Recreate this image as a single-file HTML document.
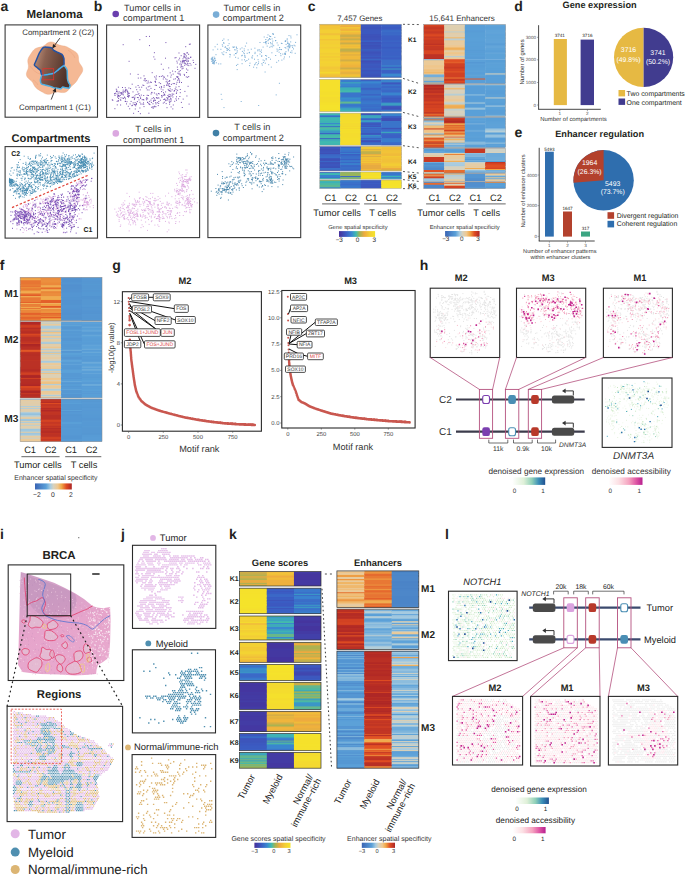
<!DOCTYPE html><html><head><meta charset="utf-8"><style>html,body{margin:0;padding:0;background:#fff;width:685px;height:875px;overflow:hidden}svg{display:block}text{font-family:"Liberation Sans",sans-serif;text-rendering:geometricPrecision}</style></head><body>
<svg width="685" height="875" viewBox="0 0 685 875" fill="#231f20">
<rect width="685" height="875" fill="#fff"/><text x="0.5" y="10.7" font-size="14" font-weight="bold">a</text>
<text x="54.6" y="18" font-size="11.5" font-weight="bold" text-anchor="middle">Melanoma</text>
<rect x="5.10" y="24.90" width="92.40" height="92.30" fill="none" stroke="#3a3a3a" stroke-width="1.1"/>
<text x="58.2" y="34.6" font-size="7.9" text-anchor="middle" fill="#333">Compartment 2 (C2)</text>
<text x="55" y="110.3" font-size="7.9" text-anchor="middle" fill="#333">Compartment 1 (C1)</text>
<linearGradient id="brn" x1="0" y1="0" x2="1" y2="0.3"><stop offset="0" stop-color="#c89a82"/><stop offset="0.35" stop-color="#8a6050"/><stop offset="1" stop-color="#4e3229"/></linearGradient>
<path d="M82.61 68.40C82.82 69.31 82.80 70.30 82.57 71.20C82.34 72.10 81.74 72.98 81.23 73.80C80.72 74.62 80.03 75.37 79.51 76.14C78.99 76.91 78.56 77.66 78.11 78.43C77.67 79.20 77.34 80.00 76.87 80.74C76.39 81.48 75.87 82.20 75.27 82.85C74.66 83.50 73.93 84.04 73.26 84.64C72.60 85.23 71.91 85.75 71.29 86.40C70.68 87.04 70.16 87.78 69.56 88.50C68.97 89.22 68.43 90.10 67.71 90.73C67.00 91.35 66.17 91.95 65.27 92.26C64.36 92.57 63.28 92.59 62.28 92.57C61.27 92.55 60.21 92.22 59.24 92.13C58.28 92.04 57.39 91.92 56.48 92.05C55.58 92.17 54.73 92.54 53.80 92.87C52.87 93.19 51.89 93.74 50.90 93.99C49.90 94.24 48.83 94.43 47.84 94.36C46.86 94.29 45.88 93.94 44.97 93.57C44.07 93.19 43.24 92.61 42.40 92.12C41.57 91.63 40.76 91.13 39.95 90.63C39.14 90.13 38.29 89.70 37.54 89.13C36.79 88.57 36.07 87.96 35.47 87.26C34.88 86.56 34.44 85.71 33.98 84.94C33.52 84.16 33.21 83.32 32.72 82.59C32.22 81.87 31.68 81.23 31.03 80.58C30.38 79.93 29.50 79.38 28.82 78.70C28.14 78.02 27.35 77.30 26.94 76.48C26.54 75.67 26.35 74.71 26.39 73.80C26.43 72.88 26.86 71.89 27.17 70.99C27.47 70.09 27.99 69.24 28.21 68.40C28.42 67.56 28.50 66.78 28.47 65.93C28.44 65.09 28.13 64.22 28.02 63.32C27.90 62.43 27.71 61.46 27.78 60.57C27.84 59.67 28.09 58.77 28.42 57.93C28.75 57.09 29.28 56.32 29.76 55.54C30.23 54.76 30.74 54.00 31.26 53.22C31.77 52.45 32.23 51.63 32.84 50.91C33.44 50.20 34.10 49.47 34.89 48.94C35.68 48.41 36.65 48.04 37.59 47.73C38.53 47.42 39.59 47.33 40.51 47.08C41.44 46.83 42.32 46.63 43.14 46.22C43.97 45.81 44.67 45.20 45.47 44.64C46.26 44.07 47.05 43.28 47.93 42.83C48.82 42.38 49.82 41.98 50.80 41.92C51.77 41.86 52.84 42.14 53.80 42.47C54.76 42.79 55.69 43.44 56.58 43.87C57.48 44.30 58.29 44.77 59.15 45.06C60.02 45.36 60.89 45.47 61.78 45.64C62.68 45.80 63.64 45.85 64.53 46.07C65.42 46.30 66.32 46.60 67.15 46.98C67.98 47.36 68.73 47.89 69.52 48.36C70.30 48.83 71.06 49.33 71.87 49.80C72.69 50.28 73.60 50.68 74.41 51.21C75.21 51.74 76.10 52.27 76.73 52.97C77.35 53.66 77.84 54.51 78.14 55.38C78.44 56.25 78.43 57.28 78.52 58.20C78.61 59.12 78.50 60.06 78.68 60.91C78.86 61.76 79.17 62.52 79.60 63.32C80.03 64.12 80.77 64.88 81.27 65.73C81.77 66.57 82.39 67.49 82.61 68.40Z" fill="#f5b995" stroke="#e9a47e" stroke-width="0.4"/>
<path d="M30 66c3 4 6 7 10 8M68 50c3 2 6 5 7 8M72 84c-3 1-5 3-7 4M33 80c2 1 4 3 5 5" stroke="#e8a07c" stroke-width="0.5" fill="none"/>
<path d="M43.50 47.30C44.31 46.73 46.68 47.15 47.50 47.20C48.32 47.25 51.08 47.49 51.70 47.80C52.32 48.11 53.07 49.83 53.70 50.30C54.33 50.77 57.18 52.09 58.00 52.50C58.82 52.91 61.31 53.80 61.90 54.40C62.49 55.00 63.69 57.74 63.90 58.50C64.11 59.26 64.00 61.39 64.00 62.00C64.00 62.61 63.91 64.23 63.90 64.60C63.89 64.97 63.59 65.19 63.90 65.70C64.21 66.21 66.66 68.87 67.00 69.70C67.34 70.53 67.25 73.07 67.30 74.00C67.35 74.93 67.38 78.15 67.50 79.00C67.62 79.85 68.24 81.89 68.50 82.50C68.76 83.11 70.05 84.54 70.10 85.10C70.15 85.66 69.46 87.83 69.00 88.10C68.54 88.37 66.11 87.90 65.50 87.80C64.89 87.70 63.37 87.00 62.90 87.10C62.43 87.20 61.21 88.65 60.80 88.80C60.39 88.95 59.23 88.67 58.80 88.60C58.37 88.53 56.91 88.15 56.50 88.10C56.09 88.05 55.15 88.21 54.70 88.10C54.25 87.99 52.51 87.20 52.00 87.00C51.49 86.80 50.30 86.30 49.60 86.10C48.90 85.90 45.81 85.21 45.00 85.00C44.19 84.79 41.96 84.40 41.50 84.00C41.04 83.60 40.47 81.60 40.40 81.00C40.33 80.40 40.64 78.56 40.80 78.00C40.96 77.44 42.04 76.17 42.00 75.40C41.96 74.63 40.90 71.09 40.40 70.30C39.90 69.51 37.61 68.02 37.00 67.50C36.39 66.98 34.32 65.95 34.30 65.10C34.28 64.25 36.29 60.22 36.80 59.00C37.31 57.78 38.73 54.07 39.40 52.90C40.07 51.73 42.69 47.87 43.50 47.30Z" fill="url(#brn)"/>
<path d="M43.50 47.30C44.31 46.73 46.68 47.15 47.50 47.20C48.32 47.25 51.08 47.49 51.70 47.80C52.32 48.11 53.07 49.83 53.70 50.30C54.33 50.77 57.18 52.09 58.00 52.50C58.82 52.91 61.31 53.80 61.90 54.40C62.49 55.00 63.69 57.74 63.90 58.50C64.11 59.26 64.00 61.39 64.00 62.00C64.00 62.61 64.45 63.84 63.90 64.60C63.35 65.36 59.52 68.73 58.50 69.60C57.48 70.47 54.75 72.81 53.70 73.30C52.65 73.79 49.17 74.29 48.00 74.50C46.83 74.71 42.70 75.60 42.00 75.40C41.30 75.20 41.16 73.01 41.00 72.50C40.84 71.99 40.80 70.80 40.40 70.30C40.00 69.80 37.61 68.02 37.00 67.50C36.39 66.98 34.32 65.95 34.30 65.10C34.28 64.25 36.29 60.22 36.80 59.00C37.31 57.78 38.73 54.07 39.40 52.90C40.07 51.73 42.69 47.87 43.50 47.30Z" fill="none" stroke="#2352a3" stroke-width="1.5" stroke-linejoin="round"/>
<path d="M42.00 75.40C42.72 75.05 46.83 74.71 48.00 74.50C49.17 74.29 52.65 73.79 53.70 73.30C54.75 72.81 57.48 70.36 58.50 69.60C59.52 68.84 63.05 65.69 63.90 65.70C64.75 65.71 66.66 68.87 67.00 69.70C67.34 70.53 67.25 73.07 67.30 74.00C67.35 74.93 67.38 78.15 67.50 79.00C67.62 79.85 68.24 81.89 68.50 82.50C68.76 83.11 70.05 84.54 70.10 85.10C70.15 85.66 69.46 87.83 69.00 88.10C68.54 88.37 66.11 87.90 65.50 87.80C64.89 87.70 63.37 87.00 62.90 87.10C62.43 87.20 61.21 88.65 60.80 88.80C60.39 88.95 59.23 88.67 58.80 88.60C58.37 88.53 56.91 88.15 56.50 88.10C56.09 88.05 55.15 88.21 54.70 88.10C54.25 87.99 52.51 87.20 52.00 87.00C51.49 86.80 50.30 86.30 49.60 86.10C48.90 85.90 45.81 85.21 45.00 85.00C44.19 84.79 41.96 84.40 41.50 84.00C41.04 83.60 40.47 81.60 40.40 81.00C40.33 80.40 40.64 78.56 40.80 78.00C40.96 77.44 41.28 75.75 42.00 75.40Z" fill="none" stroke="#4fb0e3" stroke-width="1.5" stroke-linejoin="round"/>
<rect x="43" y="68.7" width="10.7" height="11.1" fill="none" stroke="#e0302c" stroke-width="0.8"/>
<line x1="59.9" y1="38.1" x2="54.7" y2="45.2" stroke="#231f20" stroke-width="0.85"/>
<path d="M52.30 48.40L53.07 43.99L56.28 46.37Z" fill="#231f20"/>
<line x1="51.2" y1="99.6" x2="54.3" y2="91.7" stroke="#231f20" stroke-width="0.85"/>
<path d="M55.80 88.00L56.18 92.46L52.47 90.98Z" fill="#231f20"/>
<text x="51" y="141.7" font-size="11.2" font-weight="bold" text-anchor="middle">Compartments</text>
<rect x="5.10" y="146.60" width="92.40" height="91.50" fill="none" stroke="#3a3a3a" stroke-width="1.1"/>
<text x="11.3" y="156.2" font-size="7" font-weight="bold">C2</text>
<text x="83.4" y="232.2" font-size="7" font-weight="bold">C1</text>
<text x="93.8" y="10.7" font-size="14" font-weight="bold">b</text>
<rect x="106.60" y="25.00" width="93.00" height="92.40" fill="none" stroke="#3a3a3a" stroke-width="1.1"/>
<rect x="207.90" y="25.00" width="92.80" height="92.40" fill="none" stroke="#3a3a3a" stroke-width="1.1"/>
<rect x="106.60" y="145.70" width="93.00" height="91.90" fill="none" stroke="#3a3a3a" stroke-width="1.1"/>
<rect x="207.90" y="145.70" width="92.80" height="91.90" fill="none" stroke="#3a3a3a" stroke-width="1.1"/>
<circle cx="115.7" cy="14" r="3.3" fill="#6a3fae"/>
<text x="124" y="10.6" font-size="9.2" fill="#333">Tumor cells in</text>
<text x="123" y="21.2" font-size="9.2" fill="#333">compartment 1</text>
<circle cx="216.1" cy="14.6" r="3.3" fill="#79add6"/>
<text x="223.6" y="10.6" font-size="9.2" fill="#333">Tumor cells in</text>
<text x="222.7" y="21.2" font-size="9.2" fill="#333">compartment 2</text>
<circle cx="115.8" cy="133.4" r="3.3" fill="#dba8e0"/>
<text x="153.2" y="131.7" font-size="9.2" text-anchor="middle" fill="#333">T cells in</text>
<text x="123.1" y="142.6" font-size="9.2" fill="#333">compartment 1</text>
<circle cx="216" cy="133.1" r="3.3" fill="#4080a6"/>
<text x="252.4" y="130.4" font-size="9.2" text-anchor="middle" fill="#333">T cells in</text>
<text x="222.7" y="141.3" font-size="9.2" fill="#333">compartment 2</text>
<path d="M126.6 90.3h1m-15.8 9.5h1m57.8 7.1h1m-8.6 -14.2h1m-39.2 8.5h1m-2.1 -9.5h1m-7.8 0.1h1m29.8 -10.7h1m0.7 23.5h1m6.2 -9.5h1m13.2 -20h1m2.2 15.5h1m-49.5 -0.7h1m16.8 -4.4h1m-2.6 14.2h1m22.5 1h1m-37 8.1h1m55.1 -48.3h1m-52.6 44.1h1m45.8 -41.6h1m-13.4 33.4h1m-25.9 7.9h1m40.6 -46.5h1m-19 42.2h1m-46.4 -5.7h1m53.7 -2.2h1m-25.7 0.7h1m30.1 -31.2h1m-13.8 11.2h1m-15.7 9.5h1m-9.7 15.2h1m1.5 6.7h1m-29.7 0.8h1m60.3 -38.6h1m-28.2 40.4h1m19 -5.5h1m-50.3 0.2h1m35 -14.9h1m-6.1 7.4h1m9.6 3.6h1m10.7 1.2h1m-62.4 -4.7h1m34.7 12.9h1m0.8 -17.5h1m-19.8 -2.4h1m-16.6 12.7h1m30.4 7.5h1m-12.3 6.4h1m26.1 -15h1m15.5 -38h1m-28.6 36.8h1m4.2 -5.9h1m-34.8 4.6h1m42.6 -11.8h1m-34.6 7.5h1m37.2 -34.3h1m-49 35.6h1m14.3 6.3h1m10.4 6.7h1m-15.5 -16.3h1m21.5 -14.1h1m20.5 -1.4h1m-34.2 25.7h1m-15.3 -10.4h1m47.1 -29.1h1m-29.9 46.1h1m7.6 -29.5h1m25 -19.9h1m-78.7 43h1m19.4 2.6h1m10.8 -23.8h1m25.1 21h1m-51.1 -2.3h1m39.6 -10.5h1m17.3 9.2h1m-63.3 0.6h1m65.4 -39.6h1m2.3 -4.7h1m-15.4 44.2h1m6.4 -22.9h1m3 -12.1h1m-33.9 40.4h1m12.2 -8h1m5.5 1.6h1m-2.9 -9.8h1m-52.9 18.7h1m37.2 -23.6h1m-10.1 -0.7h1m-21.8 10.1h1m54.8 11.7h1m-12.4 -11.4h1m-39.1 14.7h1m53.6 -36.7h1m-17.4 28h1m-40.5 -8.4h1m1.3 9h1m34.8 -29.7h1m-2.7 11.9h1m20.6 -25.5h1m-7.3 53.2h1m4.7 -43.7h1m-65.6 34.7h1m53.5 -25.3h1m-64 35.5h1m25.4 -13.6h1m6.6 18.1h1m5.8 -10.5h1m22.4 -22.7h1m-51.5 15.9h1m-11.2 5.2h1m32 -18.7h1m-10.3 21.7h1m26 -9.7h1m-42.3 0.2h1m49.8 -15.8h1m-64.8 14.9h1m42.9 9.7h1m10 -22.6h1m3 13.4h1m-8.5 9.4h1m-0.3 -18.7h1m-3.5 17.3h1m-36.4 -8.6h1m-7.1 0.2h1m6.2 10.1h1m22.5 -2.5h1m30.1 -36.1h1m-36 36.1h1m-31.9 -4.7h1m59.2 -43.7h1m-27.8 19.7h1m-21 24.7h1m16.6 -11.2h1m-23.8 15.5h1m24.1 -3.3h1m9.9 -8.5h1m-39.1 7.8h1m43 -16.3h1m-0.3 -0.6h1m-4.9 -1.9h1m9.8 17.9h1m5.5 -28.4h1m-2 0.5h1m-12.4 29.9h1m-1.9 3.7h1m20.3 -37.4h1m-12.4 -6.9h1m-22.3 47.4h1m-21 -7.9h1m50.7 -34.2h1m-50.4 33.7h1m31 -26.1h1m-3.3 23.7h1m-31.8 0.9h1m38.9 -13.3h1m-10.8 21.8h1m4.6 -15.4h1m-36.3 13.5h1m-18 -4.3h1m56.9 -36.7h1m4.3 3.1h1m-54.1 27.5h1m-15.8 8.6h1m45.7 -1.2h1m-36.9 -3.3h1m53 -37.2h1m-3.1 8.4h1m-38.2 28.3h1m42.7 -32.3h1m-17.6 13.9h1m-23.4 18.4h1m-2.8 4.3h1m5.4 4h1m-21.6 1.5h1m13 -17.2h1m3.6 0.3h1m-35.5 3.1h1m68.5 -31.5h1m-43.2 40h1m34.1 -40.1h1m8.2 0.5h1m-25.8 18.6h1m3.9 10.4h1m-35.9 7.7h1m-3.2 4.3h1m-15 0h1m64.9 -40.8h1m-69 34.9h1m72.9 -37h1m-19.7 30.3h1m1 5.1h1m8.3 -11.4h1m-13.1 1.1h1m-45.2 7.2h1m62.1 -29.4h1m6.5 3h1m-8.1 12.2h1m-5 -19.9h1m-14.9 44.8h1m-43.5 4.8h1m35.3 -7.2h1m17.2 -38.1h1m-56.1 35.4h1m44.5 -22.3h1m-58.5 19.1h1m64.5 -27.3h1m-12.4 20.7h1m-12 14.9h1m-3.4 -25.5h1m21.3 2.7h1m-20.5 15.2h1m15.7 4.9h1m-7.8 0.9h1m-34 -5.2h1m-9.2 -1.7h1m43.5 2.3h1m-25.1 -8.3h1m26 -15.1h1m-0.9 7.1h1m-28.8 20h1m7.4 5.1h1m29.5 -47.9h1m-9.9 24.2h1m-26.8 12.2h1m-16.5 12.1h1m43 -15h1m-58.2 2.8h1m10.8 3.5h1m4.7 2.7h1m37.5 -24.3h1m-2.7 -7.1h1m-38.5 40.9h1m-2.8 -22.5h1m8.1 -2.4h1m25.9 8.1h1m11.5 -18.7h1m-0.6 -19.6h1m-6.7 11.7h1m-18.5 34.9h1m-8.7 -20.2h1m-36 13.4h1m0.4 -5.2h1m13.9 14.1h1m37.6 -14.5h1m-29.5 15.3h1m21 -5.9h1m14.8 -33.1h1m-15.5 27.8h1m1.4 -7.6h1m-25.2 6.4h1m-11.1 3.6h1m45.8 -46.9h1m-2 16.5h1m-23.5 32.9h1m-44.4 -2.9h1m15.9 12.6h1m21.7 -12.3h1m24.5 -37.1h1m-2.4 5.5h1m-65 33.7h1m24.5 -19.7h1m23.8 8.1h1m-53.5 5.2h1m11.2 7.9h1m50.8 -21.9h1m-63 20h1m44.9 -9.6h1m-27.1 -11.2h1m30.7 12.1h1m17.3 -28.6h1m-14.7 25.7h1m-12.1 19.5h1m-3.7 -19.5h1m15.1 -6.8h1m-50.4 14.7h1m13.4 -4.3h1m-19.5 2.9h1m23 5.2h1m9.2 7.4h1m21.9 -10h1m-30.8 -10.6h1m20.6 7.7h1m-13.5 -2.5h1m-15.6 -8.8h1m-25.6 16.8h1m55.6 -13h1m-24.8 24.6h1m-7.9 -8.2h1m-25.7 -5.9h1m53.8 -8.6h1m1.6 -11h1m-12.6 9h1m-33.1 26.8h1m1.1 -11.5h1m5.1 5.4h1m39.7 -47.9h1m-41.1 25.3h1m-5.9 7h1m30.8 11.6h1m18.9 -41.7h1m-12.1 6.9h1m-36.8 42.5h1m-11.4 6.7h1m-14.2 -20.3h1m65.5 -31.5h1m-34.7 46.8h1m7.3 -12.7h1m-43.1 0.4h1m68.7 8.1h1m-6.1 -43h1m2 -2.1h1m-19 31.5h1m6.9 -29.3h1m-49 26.8h1m57.9 -17.9h1m-9.8 16.5h1m-2.1 -9.8h1m-9.6 13.8h1m-10.9 -14h1m-2.4 21.1h1m-13.7 -16.7h1m20.5 4.4h1m8.7 14.8h1m-11.5 0h1m1.2 -2.4h1m-54.5 -4h1m71.9 -16.5h1m-39.7 5.5h1m9 15.3h1m7.5 -14.8h1m-7.3 5.7h1m15.6 -19.5h1m-52.2 34.4h1m40.4 -8.4h1m-7 1.7h1m-27.7 7.7h1m18.1 -6.2h1m25.9 -43h1m-47.7 42.6h1m-0.6 -0.4h1m51.4 -32.8h1m-33.9 27.9h1m-26.4 0.3h1m21.1 0.7h1m-17.2 10.4h1m49.4 -49.6h1m-60.4 34.6h1m59.2 -31.3h1m-33.4 42.3h1m13.6 -15.2h1m-40 10.5h1m54.4 -41.8h1m-18 22h1m4.6 29.1h1m10.2 -29.7h1m-66.4 16.5h1m37 6.7h1m30 -12.2h1m-6.2 -19.4h1m-23.5 33.3h1m-13.6 2.1h1m16 -7h1m-41.3 1.8h1m33.7 -14.4h1m-32.4 9.2h1m60 -26.3h1m-20.5 35.6h1m7.4 -23.9h1m-55.4 17.6h1m10.8 7.7h1m44.2 -32h1m-4.9 22.9h1m9.5 2.5h1m-49.5 15.5h1m24.2 -34.5h1m-15.8 26.6h1m-31.2 -5.1h1m44.4 -11.3h1m-8.5 -1.8h1m-1.6 -7.4h1m22.7 3.1h1m2.6 18h1m-28.9 -13.9h1m-15.6 18.8h1m43.2 -12.6h1m-60.5 0.7h1m16.5 -7h1m11.6 15.2h1m16.3 8.6h1m-37.3 -5.5h1m-19.1 -16.2h1m73.7 -26.9h1m-59.7 39.3h1m41.9 -22.6h1m-56.7 16.7h1m51.2 -14.5h1m-10.5 15h1m-47.7 1.8h1m48.4 11.7h1m-47.2 -7.5h1m-5 -10h1m35.8 7.4h1m-31.6 -5.7h1m31 -10.5h1m-1.6 18.8h1m10.8 -18.5h1m-1.6 10.2h1m16.3 -28.9h1m-29.3 13.9h1m20.5 12.8h1m-29.8 0.2h1m-22.8 9h1m50.8 -35.9h1m-39.3 36.9h1m23.3 -4.6h1m-26.3 -0.9h1m38.6 -4.1h1m-46.4 -6.1h1m-7.9 3.5h1m67.3 -25.2h1m-54.8 -22.8h1m43.2 13.9h1m-61.8 -8.9h1m16.6 33.3h1m47.6 -33.7h1m-61.3 17h1m64.9 7h1m-34.7 8.1h1m24 0.5h1m-56.9 -2.9h1m58.9 -29.9h1m-45 -7.6h1m2.2 9.1h1m28.6 25.8h1m-25.7 -18.7h1m7.9 16.6h1m-10.5 -12.4h1m11.1 -14.3h1m-12 16.6h1m-6.4 -22.8h1m-12.2 41.7h1m26.2 -19.9h1m8.5 -0.3h1m-14.7 6.3h1" stroke="#6a44aa" stroke-width="1" stroke-opacity="0.9"/>
<path d="M289.1 47.8h1m-1.6 -12.2h1m0.8 0.5h1m-19 5h1m-28.2 20.2h1m7 5.9h1m25 -17.9h1m2.2 4.8h1m3.8 -10.8h1m-0.4 4.7h1m-9.6 -0.5h1m1.3 12.6h1m-66.9 -5.4h1m-4.5 8.3h1m51.8 0.2h1m-24.3 -3.3h1m-6 -7.6h1m-22.4 8.2h1m78.6 -7.2h1m-72.5 1.4h1m-11.1 8.2h1m21.6 -9.3h1m4.9 10.1h1m26.3 -24.8h1m-4.2 20.8h1m-29.4 4.7h1m53.8 -17h1m-33.4 4h1m-34 -1.3h1m26.7 -1.9h1m-6.5 4.2h1m26.3 9.9h1m-6.4 4.8h1m-13.9 -3.5h1m-48.2 -4.6h1m31.4 -6.1h1m18.5 -5.8h1m14.5 13.7h1m7.6 -20.9h1m-38.9 12.9h1m31 -3.2h1m-18.1 -12.6h1m-7.8 18.8h1m14.9 -21.8h1m-7.7 22h1m-53.1 5.8h1m14.9 -7h1m39.1 -12.1h1m18.4 4h1m1 6.1h1m-24.1 4.7h1m-58.1 0.7h1m76.8 -14.1h1m-57 3.2h1m7.8 8h1m-30.9 2h1m16.3 -6.7h1m62.8 -1.7h1m-33 3.4h1m-5.8 15.5h1m14.2 -15h1m-34.7 5.4h1m42.2 -14.9h1m-9.7 -9.6h1m-25.1 25.5h1m-36.8 0.4h1m78.8 -13.8h1m-27.5 -2h1m-38 -0.1h1m-7.8 1.1h1m0.6 7h1m-11.2 10.6h1m70.9 -20.9h1m-51.1 12h1m5.9 -2.1h1m11.6 2.2h1m-28.5 -4.8h1m49.6 -3.7h1m10.5 2h1m-56 2.7h1m-6.3 -1.8h1m11.7 -0.1h1m45.4 2.9h1m-75.2 10.4h1m58.1 -26.8h1m13 11.9h1m-73.4 11.9h1m69.2 -10.7h1m-71.5 14.5h1m8.1 -19.4h1m-10.3 16h1m1 4.2h1m30.7 -12.9h1m40.6 -5.6h1m-13.5 6.9h1m-19.6 10.7h1m2.7 3.2h1m21.9 -11.8h1m-73.4 7.5h1m75 -15.1h1m-75.7 18h1m51.1 -5.2h1m13.4 -4.8h1m-9.3 -6.8h1m-36.1 22.7h1m-25.2 -6.1h1m74.6 -17.2h1m7.4 -11.5h1m-13.2 19.2h1m-33.2 1.8h1m14.4 -15.1h1m25.1 4.5h1m-80.1 13.9h1m30.6 -16h1m-33.5 14h1m34.9 6.1h1m0.3 -14h1m13.5 -9.7h1m-8.8 10.3h1m-14.8 -0.9h1m-24.3 0.4h1m50.2 -10.4h1m-4.7 4.4h1m22.5 7.6h1m-12 4.8h1m-37 1.1h1m-4.2 -1h1m9.2 1.4h1m4.9 -6.4h1m-44.7 13h1m37.1 -5.7h1m37.3 -5.8h1m-9.5 -8.8h1m7.7 -1.6h1m-26.1 13.6h1m24.4 -17.6h1m-19.3 7h1m-12.1 11.3h1m8.5 -9.9h1m-59.5 11.9h1m72.4 -6.5h1m-63.1 -8.3h1m-11.8 6.5h1m69.8 9h1m-7.9 -9.8h1m7 4.1h1m-39.1 7.3h1m-7.6 -11.5h1m-23.6 0.2h1m51.6 -9.9h1m-8.2 20.7h1m-36.1 -14.4h1m41.4 -9.1h1m-13.3 23.2h1m-37.1 -6.9h1m6.9 4.1h1m-3.7 -6.6h1m33.2 -0.3h1m32.6 -4.1h1m-26.5 -9.8h1m-1 2.6h1m-26 21.1h1m1.7 -6.5h1m-3 4h1m24.3 1.9h1m-9.7 -3.3h1m-33 -1.5h1m5.5 -7.4h1m12.3 18.6h1m-27.8 -11.5h1m13.6 -3.2h1m52.7 -5.2h1m-67 1.7h1m31.2 17.4h1m19.8 -14.8h1m-3.3 -9.5h1m-52.9 -1.5h1m-12.7 21.7h1m13 -8.1h1m48.5 2.9h1m8.3 -1.3h1m-4.9 -4.7h1m3.4 4.8h1m-42 -0.5h1m16.4 9.9h1m25.6 -19.7h1m-35 20.8h1m-22.6 -17.8h1m3.2 1.6h1m28.5 -6.9h1m-54.6 20.3h1m42.2 0.5h1m8.5 -21.1h1m-54.8 20.1h1m4.4 -17.2h1m-4.9 15.7h1m14.2 -10.4h1m56.5 -5.2h1m-61.7 2.4h1m28.1 12.4h1m19.3 -21.8h1m-0.3 3.3h1m-64.2 18.3h1m71.1 -2h1m2.6 -13.7h1m-75 17.4h1m7.6 -20.3h1m4.6 -0.5h1m30.8 14.2h1m2.4 8.4h1m-5 -12.6h1m12 -6.8h1m5.7 9.1h1m-61.4 11.7h1m69.8 -7h1m-3.3 -18.1h1m-51.7 26.6h1m48.2 -24.7h1m1 1.3h1m-28.7 0.5h1m9.7 -5.9h1m23.9 5.8h1m-51.2 3.7h1m-12 0.9h1m34.4 0.3h1m-2.8 -12.4h1m19.3 14.7h1m-25 11.2h1m8.4 -15.1h1m-9 -3h1m23.2 3h1m-35.5 18.2h1m-19.9 -16.1h1m47.6 -6.6h1m-20.5 1.4h1m-43.9 3.6h1m40.3 -3.7h1m-29.1 7.4h1m40.2 -7h1m-7 0.9h1m-36.5 13.5h1m31.8 -17.5h1m-35.2 15.2h1m-20.1 -8.2h1m4.7 17.1h1m45.3 -26.4h1m17.8 10.6h1m-42.6 2.7h1m-33.6 8.5h1m56 5.4h1m-24.9 -9.2h1m-19.2 -7.2h1m27.5 4h1m11.1 -6.2h1m-44.2 61.5h1m54.4 -24.3h1m-39.2 18.2h1m34 -6.6h1m-55.3 4.5h1m-1.7 -5.1h1m36.5 11.2h1m5.4 -33.5h1" stroke="#6fa6d2" stroke-width="1" stroke-opacity="0.9"/>
<path d="M178.8 193.2h1m5 12.9h1m-30.9 8.5h1m6.2 4h1m-35.7 -12.4h1m36.6 -10.2h1m-26.2 1.7h1m9.6 7.1h1m7.4 4.7h1m-36.2 5.1h1m32.7 2.1h1m-26.3 -3.7h1m-4.7 7h1m54.9 -17h1m-67.4 8.4h1m50.1 -3.3h1m-38.6 10.6h1m1.4 -10.2h1m-17.8 5.5h1m68.2 -6.6h1m0.5 -9.1h1m-37.7 8.5h1m31.1 -22.4h1m-49.7 33.5h1m46.2 -32.2h1m-55.3 25.1h1m55.9 0.8h1m2.3 -7.4h1m-20.4 6.5h1m14.1 -30.1h1m-49.2 19.7h1m-0.3 2.7h1m10.5 -2.3h1m20.9 17.2h1m-12.9 -9.8h1m23.5 -3h1m-51.9 6.1h1m48.9 -36h1m5.1 8.2h1m-25.3 29.2h1m20.5 -26.2h1m-2.4 -5.4h1m3 -11h1m-16.4 41h1m-11.3 -2.4h1m-4.5 3.1h1m25.4 -26.5h1m-45.8 12.8h1m46 6h1m-3.6 -13.2h1m-35.9 10.7h1m-15.2 2.8h1m17.7 8.1h1m2.2 6.1h1m-9.1 -17h1m10.2 16.2h1m19 -5h1m-40 3.5h1m3.3 -5.5h1m48.1 -12.3h1m-50.8 17.7h1m7.5 -5.9h1m5 6.3h1m-12.2 -10.2h1m37.9 5h1m-8 -9.3h1m-58.3 6.3h1m26.6 -6.4h1m19.5 11.4h1m-20 4.5h1m-21.8 -0.4h1m33.6 -10.9h1m-9 5.4h1m28.5 -20.3h1m-64.6 23.4h1m12.8 -2.2h1m50 -30.9h1m-51.2 20.2h1m44.5 -11.4h1m-2.8 6.8h1m7.8 15.3h1m-21.8 10.3h1m11.9 -45.9h1m-45.5 42.6h1m42 -39.6h1m-5.1 3.2h1m-10.1 34.4h1m10.1 -23.6h1m-15.9 23.9h1m-1.9 -6.7h1m-5 7h1m16.4 -15.2h1m-44.5 4.7h1m2.9 6h1m-0.3 2.2h1m10.4 -2.3h1m9.2 12.6h1m22.8 -35.4h1m-7.8 30.6h1m-40.1 -2.8h1m46.3 -32.3h1m0.8 21.7h1m1.7 -20.2h1m-22.8 16.2h1m-16.3 12h1m-0.6 4.5h1m36.3 -23.6h1m-30.8 17.3h1m15.5 -12h1m-4.9 16.2h1m-23.9 5.8h1m33.2 -8.9h1m2.9 -12.2h1m1.4 -0.8h1m-70 8.2h1m20.5 14.1h1m37.3 -31.7h1m-53.4 12.6h1m18.8 7.2h1m-1.3 17.5h1m-3.2 -21.4h1m-2.8 -9.5h1m4.3 5.4h1m-31.9 10.1h1m63.3 -25.5h1m-5.8 -4.1h1m-19.3 29.9h1m25.7 -45.3h1m-39.5 38.7h1m18.2 -0.6h1m-14.4 3.3h1m31.8 -10.7h1m-65 3.7h1m1.8 14.6h1m65.5 -14.9h1m-1.8 -0.5h1m-58.3 18.8h1m18.9 -8.2h1m-26.8 -6.4h1m14.8 8.3h1m-1 -3.7h1m39.6 -25.6h1m-26.4 12.9h1m32.3 -9.1h1m-29.3 12.6h1m22.9 -30.3h1m-13.4 45.7h1m10.4 -21.9h1m-54.1 7.2h1m0.2 4.7h1m23.8 2.6h1m30.8 -31.6h1m-6.7 7.3h1m3 -6.9h1m-21.7 24.1h1m-36.2 0.8h1m-19.4 4.2h1m73.8 0.7h1m-50.1 6.3h1m38.8 -13.7h1m-31.5 1.1h1m-18.6 0.6h1m-6.7 3.6h1m15.8 18.9h1m-15.1 4.3h1m59.7 -52.1h1m-39.7 25.9h1m37.9 -1.2h1m-71.2 13.8h1m56.7 -9.3h1m-32 -1.2h1m-6.6 20.8h1m36.5 -48.9h1m-50.6 45.3h1m60 -22.3h1m-74.2 13.6h1m65 -37.2h1m-54.6 36.7h1m0.5 -2h1m54.5 -38.1h1m-42.8 36.1h1m-13.1 -2.1h1m8.4 1.1h1m44.5 -20.1h1m-53.7 25.7h1m52.5 -17.4h1m-11.7 15.5h1m-3 -14.7h1m-40.7 15.6h1m32.3 7.7h1m-41.6 -10h1m-4.6 -7.8h1m61 -14.4h1m7 12h1m-43 11.3h1m-28.8 -12.4h1m53.5 4.1h1m2.4 -22.9h1m-56 35.5h1m48.2 -28.7h1m6.5 -9.6h1m1.1 19.4h1m-65.2 7.4h1m4.3 4.4h1m49.3 -7h1m6.3 1.9h1m-7.8 -13.4h1m-41.8 9h1m-16.7 15.8h1m25.7 -8.2h1m-28.9 16.5h1m12 -10.5h1m46.9 -26.5h1m-36.7 8.6h1m38.2 -9h1m-17.5 17.6h1m-36.4 18.6h1m51.8 -11.9h1m0.7 -12.5h1m-64.3 10.2h1m-1.5 7.9h1m57.8 -19.6h1m-40.3 5.4h1m-13.8 21.6h1m18.9 -26.2h1m35.9 -13.3h1m-62.5 28.6h1m2.1 1.7h1m49.9 -20.8h1m-28.7 15.7h1m26.1 -9.7h1m-49.2 10h1m17.6 -1.3h1m-14.5 1.1h1m45.7 -25.5h1m-64.8 34.5h1m58.8 -47.7h1m-5.1 18.9h1m-15.6 21.4h1m-10.5 -18.9h1m24.5 7.7h1m-18.7 14.1h1m-9.3 -3.2h1m27.2 -18.2h1m9.4 7.5h1m-34.7 -0.5h1m-18.8 15.8h1m8.7 -19.3h1m-19.5 15.5h1m16.3 -2.1h1m40 -29.4h1m-26.4 24h1m14 -14.1h1m-10.1 11.7h1m16.9 -21.4h1m-2.5 0.5h1m-5.3 39.8h1m7.7 -21.8h1m-1.3 -2.4h1m-60.6 9.5h1m52.7 -25.4h1m-3.9 17h1m-42.9 15.1h1m50.4 -8.2h1m-2.2 -10h1m3.4 10h1m-4.7 -25.6h1m-6.9 15.7h1m-47.7 5.5h1m51.1 -19.7h1m-38.7 21.1h1m8.1 9.6h1m-36.6 -9.3h1m58.5 -4.4h1m-65 9.6h1m10.2 5.5h1m57.9 -14.3h1m-0.3 8.3h1m-23.5 -5.6h1m-18.3 14.3h1m26.6 -25.7h1m3.3 0h1m-23.2 20.6h1m21.5 -27.2h1m-12.7 30.3h1m-0.1 -9.4h1m4.4 2.7h1m-24.7 -14.2h1m13 23.2h1m-30.3 -1.8h1m42.8 -28.4h1m-0.2 -1.5h1m-6 5.8h1m0.8 0.7h1m-14 16.4h1m0.3 2.7h1m-37.4 -0.6h1m13.2 8.4h1m-16.8 -3.5h1m49.4 0.7h1m-43.2 -14.4h1m30.3 13.5h1m5.8 -18.8h1m-25.2 25.8h1m-11.1 -1.4h1m40.2 -34.1h1m-14.2 17.3h1m-37.4 14.1h1m51.7 -35.8h1m-50.9 43.1h1m33.7 -10.1h1m-41.9 -18.1h1m-1.1 16.4h1m39.4 3.6h1m12.9 -19.6h1m-25.5 22.8h1m-39.9 -5h1m24.3 2.5h1m-9.4 -1.9h1m16.9 -14.6h1m-31.7 15.5h1m50.2 7.2h1m-26.5 -21.8h1m-16.8 19.2h1m44.3 -38.7h1m-22.4 22.2h1m-12.6 -4h1m4.9 -3.2h1m-19.1 1.8h1m55.2 -18.4h1m-4.9 -0.6h1m-64.8 31.9h1m-0.1 7h1m52.6 -17.5h1m0.6 1.6h1m-45.7 18.7h1m41.5 -29.5h1m-57.7 17.9h1m24.5 11.9h1m-7 -23.3h1m7.9 20.9h1m30.9 -29.9h1m11.6 4.6h1m-69.3 24.6h1m51.6 -15.6h1m6.9 -2.1h1m-3 -1.5h1m-65 21.7h1m54.4 -32.1h1m-55.3 37.2h1m33.7 -9.8h1m24 -38.8h1m-31.9 24.2h1m-19.3 13.9h1m39.3 -5.3h1m-17.2 -3.5h1m-1.9 -6.7h1m0 -1.7h1m27.3 -12.6h1m-41.8 24.2h1m-18.7 1.6h1m65.1 -13.5h1m-26 15.1h1m-2.9 4.8h1m5.1 -7.3h1m17.5 -27.7h1m-61.7 23.3h1m63.9 -7h1m-43.6 4.1h1m8.2 12.8h1m-19.5 -12.2h1m45.6 -4.9h1m-59.4 9.9h1m10.6 6.2h1m29.5 0.7h1m-23.5 -6.2h1m-15.5 -5.3h1m-0.8 12.7h1m30.5 -2.6h1m-23.6 -0.2h1m-9.3 -8.5h1m47.5 -25.2h1m-22.2 33.7h1m-35.2 4.8h1m19.7 -5.5h1m37.3 -14.1h1m-52.9 6.4h1m1.6 4.9h1m46.4 -24.8h1m-31.2 11.9h1m29.4 -21.8h1m-50.3 25.8h1m40.7 -8.1h1m-24.4 23.1h1m-39.1 -5.2h1m30 -7.7h1m36.3 -12.3h1m-9.7 25.7h1m-59 -1.5h1m41 -17.9h1m-12.5 8h1m-10.1 -5.1h1m32.3 7.1h1m-38.7 12.7h1m23.3 -10.1h1m21.7 -33.9h1m-5.3 35.6h1m-40.8 -3.5h1m51 2.8h1m-51.6 -19.8h1m49.6 -15h1m-5.7 2.3h1m-41.4 23.2h1m-9.8 13.7h1m-1.4 6.4h1m52.1 -19h1m-68.6 9.7h1m35.8 11.4h1m6.7 -3.5h1m-6.8 0.1h1m-1.5 -0.5h1m28.7 -40.7h1m-0.2 -1.8h1m-71.6 38.9h1m39.7 2h1m-31.4 -16.1h1m59.8 0.8h1m-40.8 -1.1h1m35 -20.7h1m-24.5 29.4h1m-11.1 -6.5h1m-19.9 6.7h1m24 -2.9h1m-15.5 1.5h1m15.4 7.3h1m16.9 -23.5h1m-46.7 18.5h1m26.6 -3.8h1m35.6 -6.1h1m-77.7 4.5h1m69.5 2.2h1m-1.3 -8.1h1m-44.6 16.2h1m14.4 -10.3h1m7.7 4.8h1m10.4 -37.5h1m-46.9 29.9h1m52.1 -10h1m-30.5 6.8h1m14.2 14.1h1m-19.8 -15.3h1m-34.3 8.2h1m29.7 -5h1m3.4 4.6h1m-39.5 0.9h1m2.6 6h1m37.3 -11.5h1m19.4 1h1m-26.9 14.3h1m32.1 -23.5h1m-2.2 -13.1h1m-52 32.1h1m47.8 -34.3h1m-7.6 -6.2h1m-13.3 58.1h1m13.8 -40.3h1m5 15.9h1m-37.2 4.7h1m-10.6 5.1h1m43 -40.9h1m-47.8 27.9h1m5.2 11.6h1m-10.6 -11.1h1m-4.6 15.6h1m48.9 -36.2h1m-0.2 0.2h1m-54.6 37.7h1m2.8 -5.9h1m-1.6 4.6h1m21.2 4.4h1m-21.1 -11.1h1m-11.5 4.3h1m1.5 0.4h1m63.4 -13.4h1m-11.9 -24.8h1m-16.6 26.8h1m-22 -2.2h1m-13.7 8.4h1m8.3 0.8h1m46.8 -27.6h1m2.8 20.2h1m-62.6 5.1h1m2.6 -6.7h1m53.1 -25.8h1m-0.2 21.6h1m-25.8 12.5h1m-13 -5.6h1m-24.2 2.7h1m61.6 -3.9h1m-35 11.7h1m29.1 -16.2h1m2.7 -25.6h1m-13.2 12.7h1m6.9 10.6h1m-2.9 -18.5h1m-6.6 21.1h1m-47.7 10.5h1m24.4 -16.5h1m23.2 -17.5h1m6.3 0.2h1m0.1 26.5h1m-2.8 -26.9h1m-44 21.3h1m40.2 -20.2h1m-8.5 10.3h1m-29.7 19.7h1m-9.1 -8.1h1m-5.6 14.3h1m53.3 -11.7h1m-3.4 -4.2h1m-48 -1.7h1m10.1 6.1h1m-33.8 8h1m61.7 -7h1m-16.3 24.2h1m10.9 -39.4h1m-52.3 14.7h1m37.4 7.3h1m-1.5 -7.6h1m-10.6 1.1h1m-14.1 -4.6h1m-16.9 6.5h1m40.4 0.6h1m17.4 -5.6h1m-14.3 4.1h1m-17.7 -1.8h1m-32.5 -11.9h1m55.5 -8.7h1m-12.6 12.1h1m-49.3 8.4h1m32.8 -0.2h1m-14.4 4.7h1m-5 -3.3h1m21.9 10.4h1m-15 -18h1m26.9 -7.7h1m-23.8 12h1m27.3 -14.7h1m1.1 -11.8h1m-62.8 39h1m53.1 -9.7h1m-46.7 13.7h1m36.6 -26.3h1m0.5 17.8h1m16.7 -9.8h1m-50 1.2h1m48.3 1.4h1" stroke="#d9a2dd" stroke-width="1" stroke-opacity="0.85"/>
<path d="M266.9 180.9h1m-17.7 1.9h1m33.3 -28.5h1m-24.9 6.5h1m1.7 28.4h1m-42.2 -12.7h1m70.1 -7.7h1m-37.5 16.1h1m0.5 -23.5h1m-14.5 13.3h1m9.8 6h1m-27.7 3.1h1m17.1 -4.9h1m22.3 1.7h1m-19.4 -13.6h1m-26.6 20.3h1m11.9 -26.6h1m30.4 3h1m-34.6 13.5h1m20.1 -5.6h1m-23 -4.8h1m-0.4 -5.1h1m-4.2 16h1m53.3 -16.5h1m-32.9 12.8h1m-25.8 15.7h1m47 -24.5h1m-8.8 7.4h1m12.7 -9.7h1m-47.4 -5.3h1m12.8 10.6h1m18.2 5.7h1m-18 3.7h1m37.6 -20.6h1m-62.8 4.7h1m-5.9 26.5h1m45.2 -19.9h1m9.3 -9.2h1m-45.3 29h1m8.6 -29.4h1m21.2 9.5h1m18.8 -1.6h1m-5.7 -7.4h1m-0.9 -0.2h1m-50.3 0.4h1m22.4 22h1m23.8 -16.1h1m0.4 -5.7h1m-59.7 22.6h1m-0.9 7.3h1m44.2 -16.6h1m13.9 -11h1m-56 7.6h1m27.8 3.6h1m29 -6.7h1m-43.4 -9.2h1m19.8 23.8h1m-45.9 -2.9h1m6.4 10.8h1m10.5 -25.2h1m32.9 -2.3h1m-31.2 -0.3h1m38 -0.8h1m0.7 -5.4h1m-37.2 22.9h1m31.7 -20.7h1m-33.6 23.7h1m-23.8 7.4h1m39.8 -26.2h1m-1.1 14.4h1m0.1 0.4h1m-21 -10.7h1m-35.6 29.2h1m-1.6 -3h1m53.1 -9.4h1m-28.1 -21h1m-13.5 30.6h1m-2.8 -0.4h1m13.5 -4.6h1m16.1 -5.7h1m-34.5 7.8h1m53.9 -28.3h1m-0.7 2.9h1m-27.5 13.9h1m-17.4 9.9h1m-15.2 -1.1h1m10 -2.7h1m0.4 -15.5h1m8.4 -4.4h1m-15.1 19.4h1m-6.5 3.7h1m2.9 -0.9h1m7.2 -23.9h1m11.9 16.7h1m-10.9 -10.5h1m29.4 -11.8h1m-12.4 12h1m-21.9 -9.4h1m34.3 22.8h1m-44.3 7.7h1m26.8 -14.9h1m10.6 11.4h1m6.2 -5.5h1m-35.5 -7.8h1m-8.1 -10.5h1m8.2 4.8h1m-20.2 19.8h1m35.5 -14.6h1m-11.4 -4.7h1m-18.2 17.1h1m24.1 -19.5h1m-6.3 -9.8h1m-26.1 20.2h1m8.3 -17h1m-10.3 5.8h1m48.7 4.6h1m-8.7 -5.2h1m-24 -1.3h1m22.7 5h1m-2.8 15.3h1m-30.3 -15.7h1m-23.1 18.3h1m29.5 -20.4h1m-8.5 -7.1h1m33.4 28.5h1m-12.6 -23.6h1m-41.1 28.6h1m-10.5 -0.5h1m39.6 -12.1h1m7.2 -7h1m1.5 -8h1m-26.9 21.4h1m-19.6 -1.8h1m2.3 -6.5h1m51.4 -19.1h1m-44.1 9.8h1m45.5 5.8h1m-11.5 8.3h1m-13.6 -1.2h1m-19.6 -22.3h1m-1.3 21.5h1m26.4 5.8h1m-10.3 -12.8h1m-41.4 17.1h1m43.9 -21.4h1m4.1 -0.3h1m-48 23.4h1m4.4 -8.1h1m56.9 -22h1m-45.5 -3h1m1.5 -1.4h1m3.4 2.8h1m16.5 24.5h1m20.7 -19.7h1m-2.3 1.4h1m-23 4.1h1m3.9 2.1h1m-24.4 -7h1m15.7 18h1m10.6 -3.5h1m-8.5 -17.1h1m21.6 -4.5h1m-6.7 4.8h1m-42.7 -0.7h1m13.1 7.3h1m-16.3 12.6h1m-2.9 1h1m-10.4 9.1h1m-17.7 -1.5h1m63.5 -22.4h1m-17 1.8h1m-24 -16.5h1m9.3 8h1m-2.1 3.6h1m36.6 -8.1h1m-3.2 5h1m2.2 -5.7h1m-34.3 14.7h1m10.3 3.9h1m19.6 -16.3h1m-14.8 19.9h1m-49.7 19.4h1m65 -30.2h1m-5.1 5.1h1m-44.6 7h1m-9.7 1.1h1m44.8 -21.1h1m3 16h1m-41.4 -18.5h1m8.7 10.7h1m34.9 -9.7h1m-57 23.3h1m0 0.1h1m14.2 -20.4h1m14.4 11.6h1m-10 9.4h1m35.2 -21h1m-10.3 -8.4h1m-18.1 28.1h1m-41 10.2h1m-3.6 2.3h1m49.1 -25.7h1m-19.4 7.5h1m-15.4 14h1m45.8 -33.3h1m-36.7 -1h1m-24.9 27.2h1m-3.5 14.6h1m66.2 -33.1h1m-46.3 -4.7h1m19.5 3.6h1m10.3 -0.4h1m-4.2 -5h1m11.2 3.2h1m-65.7 28.7h1m19 -16.5h1m13 0.4h1m-15.8 -15.7h1m18.1 27.8h1m5.1 -18.3h1m14.3 -1.9h1m-38.9 -7.9h1m-14.2 28.2h1m43.4 -13.7h1m-38.5 11.9h1m10 -20.5h1m15 23.5h1m-19.9 -16.8h1m43.1 -9.6h1m-19.7 20.1h1m13.4 -13.8h1m-7.9 -9.1h1m-38.5 14.7h1m18.4 5.8h1m-4.6 4.5h1m20 -9.2h1m-31.6 -3.4h1m25.4 10h1m-25.7 2.1h1m35.7 2.3h1m-45.5 -6.5h1m-6 1.7h1m33.1 -3.6h1m-16.5 -22.7h1m18.3 10.5h1m-51.7 27.9h1m3.2 -8.4h1m14.1 -6.5h1m-3.9 -19.7h1m-7.6 9.2h1m41.6 16.6h1m-34.3 -11.5h1m-23 2.8h1m21.5 6.8h1m27.4 -11.6h1m-47.3 19.1h1m17 -28.5h1m43.5 3.4h1m-43.8 -3.5h1m33.2 14.5h1m-24.9 4.8h1m32.5 -19.4h1m-16.6 4.2h1m1.9 -5.6h1m-5.7 11.4h1m-10.6 5.2h1m8.3 -2.4h1m2.7 0.4h1m-21.1 2h1m-26.4 10.9h1m5.1 -4.1h1m-1.9 -9.7h1m56.5 -12.1h1m-46 1.4h1m-4.2 5.4h1m5.2 14.2h1m-28.4 9.7h1m6.9 -1.5h1m31 -2.4h1m-25.3 -4.2h1m48.8 -14.9h1m-55.7 20.1h1m37.9 -10.2h1m-3.1 2.1h1m-3.2 -19.5h1m-43.6 23.4h1m3.8 -6.7h1m55.6 -12.1h1m-13.5 -2.2h1m-20.3 16.6h1m-7.6 -20.8h1m40.6 4.8h1m-0.5 3h1m-51.7 -5.3h1m33.6 17.2h1m-49.2 10.8h1m5.9 -12.2h1m-4.5 13.2h1m22.4 -7.8h1m-1.3 -18.3h1m-1.2 9.9h1m-12.1 11.2h1m12.4 -22.8h1m-13.6 14.9h1m30.5 2.4h1m-25.8 -22.5h1m39.5 5.2h1m-63.1 26.5h1m31.4 -24.3h1m-6.9 -12.1h1m-15.4 11.4h1m55.6 4.1h1m-11 -8.3h1m-2.6 2.9h1m-53.1 27.3h1m19.7 -17.9h1m-32.6 13.2h1m-3.2 3.4h1m61.4 -21.6h1m-45.2 12.4h1m9.1 -20.5h1m-23.2 23.3h1m15.3 -0.8h1m-19 4.8h1m39.3 -21.8h1m16.1 15.2h1m-19.4 -20.6h1m9 15.9h1m-19.9 -0.9h1m-32.5 14.8h1m24.5 -13.2h1m-19.5 14.3h1m41.9 -8h1m1.7 -2.6h1m13.4 -15.1h1m-53.4 -1.2h1m36.2 6.9h1m0.3 -11.7h1m-23 4.2h1m28.4 16.6h1m-29.6 -10.6h1m20.3 -7.9h1m-1.6 21.4h1m-50.7 1.8h1m62.9 -8.9h1m-69.1 18.6h1m65.9 -31.7h1m-7 3.9h1m-51.2 23.9h1m36.1 -3.9h1m4.6 -5.6h1m9.4 -15.7h1m-59.9 14.1h1m28.2 -23.7h1m-8 6.8h1m32.6 3h1m-57.2 27.9h1m29 -3.5h1m-28.8 0.8h1m3.6 -25.8h1m23.1 14.2h1m-25.6 22h1m29.9 -18.2h1m29.3 -15.7h1m-23.4 0.8h1m-19.6 11.9h1m-17.7 15.5h1m29.6 -8.7h1m-4.7 -15.1h1m12.4 10.6h1m-33.9 9.1h1m-2.1 -32.4h1m-12.9 25h1m6.7 3.4h1m13.3 -15.4h1m29.2 -12.1h1m-3.3 16.4h1m-4 -10.8h1m-35.9 -3.1h1m8.7 17.5h1m26.2 -15.9h1m-5.3 8.7h1m-5 -3.6h1m17 -11.3h1m-65.8 31.6h1m57.8 -19.8h1m7.3 -8.9h1m-59.2 24.9h1m16.8 -28.1h1m-12.5 28h1m53.4 -13.4h1m-8.8 2.8h1m-16 7.8h1m-39 11.9h1m-7.2 -4.8h1m3 1.3h1m19.1 -23.7h1m-3.1 1.5h1m35.3 -3.9h1m-24.5 -0.1h1m-12.8 21.5h1m39 -16.9h1m-40.3 -4.4h1m-16.8 29.4h1m50.2 -24.1h1m-11.8 13.6h1m10.6 -11.1h1m2.6 -4.6h1m-51.9 10.2h1m42.8 -2.8h1m-42 -15.9h1m-17.3 35.6h1m1 -10.9h1m33.6 -4.6h1m15.1 3.4h1m9.9 -15.2h1m-54 12.9h1m13.9 -15.8h1m-3.1 3.8h1m1.3 -0.3h1m-3.2 0.5h1m19.9 -4.5h1m-32.4 24.3h1m20 -10.9h1m5.4 14.7h1m21.4 -27.4h1m-51.6 24.3h1m42.5 -16h1m-34.2 3.4h1m7.5 -14.4h1m24.9 17.2h1m-54.6 10.9h1m55.3 -29.9h1m-4.6 16.5h1m10.8 -14.1h1m-67 28.3h1m29.7 -24h1m3.3 -0.3h1m12.6 -2.2h1m11.7 -2.9h1m-30.3 -3.7h1m6.4 23.4h1m25.9 -21.5h1m-19.5 19.1h1m6.8 -11.6h1m-14.1 10.2h1m-15.2 -13.8h1m-19.1 22.5h1m-16.4 6.7h1m59 -21.3h1m7.1 -9.1h1m-55 2.4h1m10.3 8.7h1m24.8 4.1h1m-41.8 8.4h1m9 -3.2h1m49.1 -29.5h1m-51.6 11.7h1m13.4 -0.9h1m13.3 16.1h1m-35.1 10.1h1m-15.4 -0.5h1m64.7 -27h1m-31 2.6h1m7.5 21.2h1m-39.1 4.5h1m26.1 -6.5h1m-9 -20.4h1m-16.3 22.8h1m33.4 -7h1m3.7 -4.7h1m-35.5 17.3h1m13.4 -38.2h1m34.7 26.1h1m-35.7 -18h1m28.1 15.2h1m-29.9 -11.2h1m-24.2 26h1m23.8 -29.7h1m-10.5 5.4h1m0 16.1h1m21.9 -19h1m-43.4 6.8h1m21 -0.4h1m-5 -12.8h1m-16 23.3h1m10.8 2.5h1m17.7 -5.9h1m-9.9 -17.2h1m-23.1 28.2h1m23.9 -25.4h1m-8.6 -2.2h1m20.3 16.7h1m-21.2 -16h1m6.5 1h1m27.9 -1.9h1m-50.9 25.9h1m37.3 -18.8h1m-46.4 22.2h1m25.1 -10.7h1" stroke="#3c7ea6" stroke-width="1" stroke-opacity="0.9"/>
<path d="M77.9 194.4h1m-60.9 20.7h1m5.9 -4h1m53.6 -27.6h1m-34.2 19.1h1m30.8 -0.9h1m-56.8 15.6h1m10.7 -16.8h1m7.5 1h1m-14.7 15.8h1m8.2 -2.2h1m45.5 -12.8h1m-54.7 5.5h1m0.8 8.6h1m43.2 -6.4h1m-38.3 -6.3h1m29.1 14.3h1m5.9 -18.8h1m-32.3 13.4h1m32.6 -18h1m-0.9 6.5h1m-34.4 -1.1h1m-2.6 5.9h1m-12.7 0.9h1m50.6 -8.3h1m-27.2 1.6h1m27.1 2.3h1m-57 0.9h1m17.4 10.9h1m3 0.5h1m-11 -12.6h1m-2.3 10.5h1m42.9 -15.2h1m-13.6 -8h1m-1.3 3.2h1m-3.8 18.6h1m3.1 -20.8h1m-24.3 23.6h1m13.8 -1.8h1m-10.2 -3.3h1m-33.3 11.4h1m48.9 -15.1h1m-20.2 -0.8h1m31.7 1.4h1m-9.1 -6.6h1m-58.4 13.5h1m34.8 -4h1m29.2 -16.3h1m-60.4 21.9h1m20.9 -6h1m5.1 1.1h1m30.2 0.4h1m-1.1 -5.6h1m-4 -2.2h1m-27.9 6.5h1m-15 7h1m-19.9 3.1h1m35.4 -16.3h1m17.1 11.6h1m-49.1 -3h1m13.3 20.7h1m29.5 -37h1m-1.7 0.9h1m-40.6 22.2h1m52.5 -13.6h1m-5.4 -1.6h1m-66.1 20.8h1m-5.1 -8.5h1m37.8 -8.7h1m-29 10.3h1m27.5 -14.4h1m-35.2 7.7h1m6.2 -3.8h1m27.3 9.8h1m6.1 5h1m22.7 -13.6h1m-6.5 -7.2h1m-24.9 14.9h1m19 -26h1m0.8 30.2h1m-34 -21.2h1m15 4.7h1m14.6 1h1m-42.3 2.6h1m21.4 2.3h1m25 -6.8h1m-11.7 -2.3h1m-40.1 21.1h1m-18.8 -4.7h1m53.2 2.1h1m4 -22h1m13.7 3.4h1m-45.5 6.8h1m27.4 1.3h1m-19.8 11.9h1m-12.5 -18.5h1m-26.1 16.2h1m57.9 -15.9h1m-20.1 14.4h1m-10.4 6.1h1m-32.6 3.3h1m17.3 -2.6h1m-14.1 -16.2h1m3.4 2.6h1m25.3 -0.5h1m29.5 -3h1m-70.4 13.7h1m34.6 6.2h1m36.8 -20.1h1m-28.3 5.8h1m-33 13.3h1m62.9 -18.5h1m-74.4 10.5h1m34.1 -2h1m25 4.9h1m-23.4 -8h1m-5.1 10.8h1m-23.6 2.6h1m23.3 4.2h1m-36.8 -10.7h1m20.6 5.4h1m16.6 -6.5h1m6 -9.1h1m-16.2 -8.6h1m-8.8 0.2h1m30.4 -2h1m-3.5 -0.6h1m-49.9 31.8h1m-2.3 -14.6h1m22.1 5.8h1m-9 -11.8h1m0.5 -0.8h1m-9.2 14.9h1m31.6 10.9h1m-47.4 -3.9h1m59.8 -45h1m6.1 16.7h1m-45.2 13.8h1m-2.5 -7.1h1m32.6 -10.2h1m-42.7 20.5h1m41 7h1m-26.8 -16.5h1m-23.2 -3.8h1m14.6 14.5h1m13.1 -24.4h1m-5.5 27.8h1m24.3 -7.6h1m7.3 -14.8h1m-23.3 9.4h1m-35.8 6.9h1m48.9 -33.2h1m4.9 -2.1h1m-41.1 38.9h1m31.9 -15.5h1m-3.8 -18.6h1m-43.8 26.6h1m0.4 1.8h1m21.3 10.4h1m-8.5 -21.6h1m2.6 7.6h1m21.3 -9.5h1m-23.1 7.7h1m-27.8 10.9h1m63 -39.4h1m-41 25.4h1m34.6 -23.6h1m-10.4 14.2h1m-2.6 30.1h1m13.8 -16.6h1m-22.4 9.1h1m9.4 -29.7h1m-28.9 24.8h1m-10.8 -14.7h1m15.4 1.2h1m9.6 20.4h1m-39.8 -16.2h1m26.9 10h1m-7.4 -16.5h1m-22.3 25h1m23.8 -24.9h1m27.6 20.6h1m-10.6 -2h1m-23.7 -4.2h1m-18.3 15.9h1m-12.2 -5.3h1m66.3 -43.4h1m-6.8 5.4h1m-28.4 16.3h1m1.9 3h1m-31.9 12.5h1m56.2 -29.9h1m-20 26.7h1m-35.6 7h1m47.3 -37.6h1m3.3 -1.7h1m-9.1 10.2h1m8.8 8.5h1m-48.4 18h1m45.6 -31.8h1m-31.8 30.3h1m-28.5 -0.6h1m15.7 -6.7h1m-8.9 10.3h1m-0.3 -17.5h1m22.1 14.5h1m-42 -4.4h1m5.9 -1.9h1m42.3 2.2h1m-8.3 -15h1m-4.9 22h1m-4.8 -2.8h1m35.7 -13.6h1m-57.3 10.2h1m19.4 -3.9h1m-7.1 8.4h1m10.9 6.4h1m17.3 -35.1h1m-24.5 8.7h1m-13 13.7h1m41.8 -22h1m-49.8 15h1m-2.3 11.9h1m-10.3 16.1h1m4.8 -21.5h1m41.1 -11.5h1m-31.2 -0.6h1m49.1 4.1h1m-45.7 4.3h1m-36.2 13.6h1m71.9 -22.2h1m2.3 4.3h1m-39.1 0.1h1m-18.3 5.1h1m7.8 6h1m34.7 -16.8h1m-29.5 15.2h1m20.7 4.3h1m-12.1 -9.3h1m-42.7 2.7h1m68 -10.4h1m-1.1 -18h1m-25 37.7h1m9.7 3h1m0.8 -21.2h1m14.9 5.5h1m-53.8 15.6h1m51.9 -23h1m-20.2 17.5h1m-32 -14.8h1m27.5 9h1m-20.3 -4.1h1m13.6 -9.7h1m2.3 24.2h1m18.9 -19.7h1m-67.2 15.3h1m42.7 8.6h1m19.7 -15.8h1m-61.8 19.9h1m48.1 -38.9h1m-14.2 8.6h1m-22.4 7.5h1m-9.7 13.8h1m46.7 -30.8h1m8.9 14.2h1m-40.9 -4.1h1m-11.1 12.5h1m14.1 -15.2h1m-38.5 13.7h1m20.2 7.3h1m-1.5 -15.2h1m41.9 -21.3h1m-19.7 37h1m-3.9 -0.6h1m-32.1 -0.2h1m40 -21.3h1m6.7 23.8h1m-22.8 -15.3h1m25.2 -13.2h1m-54.2 20.6h1m-3.6 -3.2h1m59.2 -4.3h1m-39.2 14.5h1m9.4 -0.8h1m-29.3 -7.4h1m18 -0.1h1m-4.2 0.5h1m-1 -8.3h1m1.5 -0.5h1m36.6 -17.8h1m-4.5 -3.8h1m-36 40.9h1m-14.7 -10.4h1m-4.9 11.7h1m10.8 -9.2h1m-10 0.7h1m45 -17.9h1m-49.5 23.3h1m-7.2 -12.2h1m29.7 -8.7h1m30.1 9.8h1m-67.8 7.1h1m7.7 -5.3h1m12.2 6h1m27.3 -4.6h1m-24.7 -9.8h1m39.3 -8.2h1m4.9 2.5h1m-62.2 13.1h1m31.5 7h1m-19.3 -17.5h1m32.9 -9.7h1m6.8 14.6h1m-25.9 -3.9h1m24.4 -18.3h1m-61.2 31.9h1m48.5 -20.1h1m-52.3 22.7h1m0.3 -9.7h1m3.2 3.9h1m-1.4 8.2h1m19.2 -17.1h1m27.8 -5.8h1m4.8 -13.4h1m-53.9 25.6h1m22.4 3.2h1m10.1 17h1m5.2 -36.5h1m-51.5 21.2h1m72.8 -6h1m-69.4 3.8h1m46.4 -15.2h1m6.9 9h1m-17.3 0.3h1m-10.9 -3.8h1m31.1 0.4h1m-51.5 11.4h1m-15.3 -1.3h1m5.5 -3.6h1m26.2 -12.3h1m-7.2 -0.2h1m24.4 19.6h1m-48.7 14.8h1m-7.8 -13.1h1m39.6 -0.1h1m2.6 1.7h1m11.3 -29.1h1m-2.3 16.1h1m-18.9 19.9h1m-17.6 -15.5h1m23.2 -8.8h1m-6.7 13.5h1m27.1 -13.3h1m-12.8 1.9h1m-30.6 14.1h1m-22.1 -7.4h1m61.8 -8.9h1m-61.9 3.1h1m4.7 18.6h1m3.3 -4.9h1m9.3 -13h1m-20.7 0.8h1m46.3 -2.4h1m-21.7 -3.5h1m0.2 -4.1h1m27.9 7.9h1m-36 5.4h1m24.6 -19.2h1m1.6 6.1h1m-50.5 9h1m19.2 9.2h1m-24.1 -2.7h1m7 -0.3h1m-1.7 4h1m14.9 -0.2h1m-19.8 4.1h1m55.3 -30h1m-19.9 29.1h1m-11.5 5.4h1m-4.1 -4.3h1m20.3 -28h1m6 -8.5h1m-0.4 0h1m-6 16.8h1m10.4 2.6h1m-41.7 6.6h1m-8.4 10.6h1m13 6.6h1m20.6 -35h1m-48.5 31.5h1m33.3 -7.7h1m-37.7 -9.9h1m61.5 -3.1h1m-58.5 13.2h1m32.2 -9.3h1m-38 12.4h1m54.7 -13.2h1m-32.1 10.1h1m7.4 -1.3h1m-27.9 3.4h1m27.7 -14.6h1m-18.1 -0.1h1m16.7 0.9h1m10.6 -14.4h1m-41.8 28.8h1m-7.8 -6.7h1m37.8 -3.3h1m17 -2.1h1m-53.6 7.3h1m58 -12.6h1m-47.2 14.8h1m6.7 11.8h1m-18.5 -9.9h1m22.6 -11.5h1m-13.8 7.1h1m-12.8 -7.6h1m32.3 -4.1h1m9.6 -5.6h1m-56.9 19.2h1m51.2 -9.5h1m-4.5 -3.8h1m-37.3 7.6h1m41.1 -7h1m-44.5 25h1m30 -9.8h1m-8.2 -5h1m-16.9 7.3h1m2.8 -8.3h1m-3.5 11.7h1m49.6 -22.1h1m-21.1 -6h1m-34 15h1m10.5 5.9h1m22.5 2.5h1m-15.4 3.2h1m28.9 -26.1h1m-2.3 -2.4h1m-40 9.1h1m0.8 -5.1h1m34.3 7.9h1m-60.7 1.6h1m13 -2.6h1m37.9 -20.6h1m-1.1 14.2h1m-38 18h1m-9.5 -11.4h1m10.1 6.6h1m-16.4 0.6h1m7.7 -4.1h1m-14 7.2h1m22.4 -5.3h1m21.5 -13.8h1m-15.9 8.2h1m-3.6 -1.5h1m10 7.4h1m-15.2 -12.9h1m-5.5 3.1h1m17.6 6.4h1m-25.1 7.5h1m22.6 -2.5h1m8 -12.9h1m4.7 -1.3h1m8.2 7.5h1m-52.2 -4.9h1m-13.8 7.2h1m17.8 8.4h1m28.1 -3.5h1m9.7 -27.7h1m-17.2 21h1m0 4h1m-17.3 14.2h1m26 -38.1h1" stroke="#d9a2dd" stroke-width="1" stroke-opacity="0.9"/>
<path d="M33.8 220.4h1m25 -14h1m-9.9 -5.6h1m5.4 3.8h1m-15.9 2.8h1m28.9 2.8h1m-16.5 6.3h1m10.1 -9.6h1m2.8 -10.3h1m-47.4 21.3h1m44.8 -29.2h1m-34.3 34.5h1m17.7 -23.4h1m-2 0.5h1m21.9 -9.5h1m-4.8 9.3h1m-43 17.6h1m19.4 -9.7h1m13.6 14.5h1m-42 1.3h1m-6.8 -2.4h1m13.1 -4.9h1m17.7 -22.9h1m-0.3 22h1m-37.5 1.2h1m50.6 -13h1m-54.6 10.2h1m60.4 -29.2h1m-49.1 34.1h1m35.2 -11.1h1m-46.1 3.5h1m27.6 18.4h1m10 -15.2h1m4.2 4.3h1m10.9 -2.7h1m-20.7 -18.7h1m0.4 22.3h1m-41.6 -4h1m37.5 -8.4h1m17.5 2h1m9.5 -13.5h1m-28.6 17.8h1m14.8 -21.9h1m-18.3 21.2h1m-34.2 5.5h1m49.5 -8.3h1m-11.7 -7.2h1m-7.2 5.4h1m-34.3 2.6h1m46.5 -25.1h1m0.1 32h1m-12.7 -16.4h1m10.9 5.2h1m-52.4 16h1m-2.7 -8.3h1m21.5 18h1m-16.8 -17.5h1m18.8 11.5h1m10.5 -23.7h1m3.6 7.7h1m-7.2 -5.6h1m-18.5 22.9h1m20.7 -20.2h1m26.4 -27.6h1m-77.7 35.6h1m13.5 7.4h1m-1.3 -9.6h1m23.8 5h1m-22.6 4h1m42.4 5.3h1m-23.8 -20.3h1m8.3 -11.4h1m17.2 24.4h1m-58.8 1.2h1m62.2 -35.2h1m-68.8 32.2h1m59.4 -9.3h1m-14.4 -6.8h1m-45.8 16.9h1m28.5 -1.9h1m-23.2 5.9h1m51.5 -16.9h1m-59.6 16.9h1m49.8 -24.2h1m-49.5 16.5h1m3.3 -4.3h1m-0.7 6.5h1m44.4 2.3h1m-17 -9.3h1m-6.7 -5.3h1m15.5 0.4h1m-48.6 9.2h1m46.9 7.2h1m-12.9 -22.3h1m-32.6 14h1m55.8 -19h1m7.4 -10h1m-39 31.8h1m18.6 -11.5h1m3.2 11.4h1m-6.3 0.9h1m-4.5 7.6h1m5.2 -31.5h1m4.7 17.5h1m-21.6 -8.5h1m-10.5 1h1m22.8 3.4h1m-49.8 22.8h1m47.6 -20.7h1m-26.7 15.8h1m-22 -8.6h1m33.6 -15.5h1m-9.6 4.3h1m12.7 15h1m-7.2 -1h1m-1.2 5h1m11.8 0.4h1m7 -22.8h1m-33.2 22h1m37.2 -38.2h1m-21.2 41.1h1m-7.6 1h1m-23.4 -1.1h1m36.1 -5h1m-25 8.4h1m-25.4 -17.8h1m37.6 4.1h1m-35 -0.5h1m49.5 -23.4h1m-0.9 -0.6h1m8.3 -11.2h1m-53.7 42.7h1m18.2 -6.3h1m21.7 -7.4h1m-6.2 -12.7h1m-26.5 27.7h1m26.5 -15.9h1m-2.3 21.2h1m-37.9 4h1m31.6 -32.6h1m-44.4 9.7h1m18 -1.5h1m-20 8.2h1m45.5 7.3h1m-46.3 -6h1m37.9 -10h1m12.6 -10.3h1m13.8 -20.3h1m-28.6 41.9h1m-50.6 -5.2h1m2.4 -2.6h1m14.4 -7.2h1m38 -12h1m-62.6 18.6h1m56.6 -1.5h1m-18.6 -5.5h1m-29.9 4.6h1m19.1 4.2h1m20.9 9.1h1m-47.9 2.5h1m51.2 -3.8h1m-10.8 0.8h1m-41.4 -0.2h1m0.4 -4.1h1m8 -4.2h1m42.5 2.2h1m-14.8 -4.4h1m-35.6 6.4h1m-2.9 -5.2h1m-4.7 9.3h1m-1.4 -10h1m0.2 8.6h1m29.4 -7.8h1m-3 -9.3h1m22 -16.8h1m-44.4 36.5h1m45.4 -15.3h1m-45.8 11.9h1m46.4 -10.1h1m7.3 -23.5h1m-27.4 28.4h1m-6.3 12.5h1m19.2 -35.4h1m4.2 3.3h1m-44.8 9.9h1m40.5 -15.9h1m-15.2 36.7h1m10.8 -27.4h1m-28.6 7.5h1m23.5 -4.7h1m-16.2 1.8h1m7.4 15.4h1m-22.2 2.1h1m23.7 -12.8h1m-44.6 9.1h1m43 1.9h1m-38.4 -4.4h1m29.4 -19.8h1m-35.9 33.6h1m38.4 -22.2h1m-40 8.2h1m45.4 -14.6h1m-7.2 32.7h1m-48.2 -14.9h1m70.6 -36h1m-30 25.3h1m-4.7 4.1h1m-6 -12.1h1m-35.5 16.8h1m55.2 -10.2h1m4.2 -17.6h1m-39.6 38.8h1m-16 -18.1h1m35.4 16.7h1m5.4 -31.7h1m-38.8 33h1m-12.1 -7.6h1m47.7 -5.4h1m-51.2 11.5h1m55.1 -14.7h1m15.3 -31.4h1m-47.1 29h1m12.2 2.6h1m21.6 -27.7h1m-54.4 38.3h1m-5.9 -6.1h1m49.5 -24.1h1m-55.8 29.8h1m32.7 -19.2h1m-13.1 20.7h1m13.7 2.3h1m7.8 -7.9h1m-46.9 -2.6h1m64.8 -28.6h1m-52.5 33.9h1m-10.8 -9.2h1m27.6 10.4h1m-19.9 -3.7h1m4.6 0.5h1m-11.7 5.4h1m-2.8 -5.9h1m43 -13.8h1m-2.1 -11h1m-7.8 22.6h1m-0.2 -4.3h1m-41.9 6.8h1m3 -4.2h1m19.8 -2.2h1m-3.8 18.5h1m-20.9 -5.9h1m53.3 -25.5h1m-10.7 9.2h1m11.3 -17.8h1m-50.3 35.8h1m17.9 1.2h1m-15.3 -4.8h1m39.5 -25.8h1m-29.8 32.8h1m-10.1 -2.9h1m41.8 -43.5h1m-66.2 35.3h1m65.7 -11.4h1m-47.7 -0.6h1m33.2 4.5h1m-57.7 10h1m47.5 -15.7h1m-38.1 16.8h1m36.8 4.4h1m-43.5 -16.7h1m13.8 10.2h1m-3.2 9.1h1m24.2 -15.8h1m-38.1 0.1h1m28.7 1.8h1m-13.8 10.9h1m32.6 -35.4h1m-52.8 23.7h1m45.7 -1.9h1m5.9 -0.7h1m-43.9 7.1h1m-0.9 11.3h1m-3.1 -9.6h1m48.5 -15h1m-16 19.9h1m-50.8 -12h1m64.5 -22.5h1m-44.1 17.5h1m22 -1.2h1m-5 22.6h1m22.5 -38.3h1m-34.8 38.8h1m-0.4 -15.4h1m1.5 12.2h1m-31.6 -6.7h1m25.6 -3.5h1m20 7h1m-8.9 -18.9h1m0.6 12.6h1m17.6 -30.1h1m-38.5 46.3h1m45.8 -50.3h1m-11.7 13.2h1m-3 -4h1m0.4 25.5h1m-30.4 -7.4h1m27.3 -23.4h1m-1.3 41h1m-33.7 -23.7h1m14.1 1.4h1m5.6 -1.4h1m-34.3 9.2h1m5.4 -8.5h1m34.4 2.4h1m-42.7 22.7h1m-8 -6.3h1m15.5 -2.5h1m11.9 -9.8h1m11.8 -1.4h1m-33 15.8h1m25.5 -24.4h1m-12.7 25.7h1m17.5 -20.4h1m7.9 20.8h1m-46 -10.8h1m19.8 5.2h1m-7.2 0h1m-14.5 -3.1h1m-6 -2h1m31.5 -7.5h1m17.6 -23h1m-44.7 22.9h1m39.6 -22.1h1m-0.5 31.2h1m-20.5 -23.1h1m-4.9 6.9h1m-5.5 -1.1h1m-14.6 8.9h1m-1.2 1.2h1m1.1 7.4h1m-20.7 1.6h1m18.5 -4.3h1m-7.6 5.4h1m4.1 9.5h1m-19.2 -9.9h1m41.1 -15h1m-4.2 0.7h1m9.5 19.7h1m-48.6 -11.8h1m54.7 14.8h1m-30.2 -2.9h1m31.5 -34h1m-57.5 27.9h1m59.7 -21.8h1m-6.3 3h1m-38.3 21.1h1m-20.7 -10.1h1m1.8 0.3h1m45.6 6h1m19.5 -19.6h1m-57.6 16.5h1m44.4 -19.7h1m-0.2 27.6h1m-24.3 0.6h1m6.8 -13.1h1m-0.7 14.1h1m-16.3 2.1h1m-20.6 -4.5h1m49.7 -31.7h1m-42.8 16.8h1m-11.4 8.9h1m13.4 12.8h1m8.6 -21.8h1m26.4 -18h1m-23.7 16.4h1m-7 -3.1h1m-21.6 19.4h1m48.7 -30.4h1m-3.3 4.5h1m-12 4.9h1m-16.9 29.9h1m21 -29.8h1m-29.5 28.3h1m15.7 -11.7h1m-45.6 6.5h1m66.4 -42.8h1m-18.1 19.7h1m-5.1 -1h1m-18.3 23.3h1m27.2 -14.1h1m-0.9 -3.2h1m-3.3 -8.7h1m-36.7 19.7h1m45.9 -22.3h1m-29.9 10.3h1m-24.4 7.2h1m20.2 1.6h1m10.4 -3.1h1m9.3 4.5h1m-28.5 6h1m-0.7 -6.5h1m28.7 -3.6h1m-22.5 -6.9h1m-18.2 10.1h1m-8 2.6h1m37.9 -4.8h1m-18 -8.2h1m-21.3 10.1h1m27.5 2.4h1m13.1 15.8h1m-40.6 -15.9h1m13.9 -16.3h1m-22.2 13.1h1m31.8 7.1h1m-10.5 -16.2h1m-20.3 6.2h1m33.9 15.3h1m-40.3 -5.6h1m27.4 -20.6h1m-32.4 22.7h1m30.9 -25.1h1m-2.6 3.3h1m-1.6 2.6h1m6.5 10.3h1m-8.1 1.7h1m-30.4 0.6h1m60.9 -34.8h1m-40.7 34.5h1m11.9 -11.9h1m-27.6 13.8h1m31 -15.9h1m2.3 13.8h1m19.2 -34.9h1m-39.7 45.1h1m1.8 -22.9h1m15.5 26.4h1m-11.3 -23.1h1m12.9 0.5h1m-46.7 17h1m59.8 -36.9h1m-27.9 17.4h1m-20.5 20.3h1m-4.4 -9.7h1m31 3.2h1m-4.5 -13.1h1m2.6 15.6h1m-24.9 1.9h1m-26.4 -4.8h1m11.5 -0.6h1m-10.1 2.6h1m30.1 6.3h1m-25.5 -21.2h1m4.3 11.1h1m39.5 10.1h1m-0.9 -28h1m-19.8 4.6h1m22 -9.5h1m-22.5 9.1h1m-17.1 12.5h1m-1 -9.8h1m26.7 7.8h1m-25.2 -5.1h1m26 -0.9h1m-11.8 4.2h1m20.6 3h1m-27.6 1.6h1m19.3 -4.5h1m-3.3 -1.7h1m-33.5 11.4h1m10.6 -10.7h1m18.3 14.1h1m-56.8 -6h1m35.5 -8.2h1m-33.4 7.6h1m56.9 11.1h1m-39.2 -7h1m33.4 6.1h1m-9.7 -14.8h1m2.7 9h1m6.2 -22.4h1m-31.5 19.8h1m-25 -3.7h1m12 8.5h1m25.8 -23.3h1m7.4 15.3h1m-19.8 -7.8h1m-31.8 6.8h1m4.9 5.5h1m-3.5 0.8h1m45.2 -12.2h1m-48.1 6.5h1m27.1 -12.8h1m27.3 -10.7h1m-4.2 14.7h1m-22.2 13.2h1m7.5 -21.9h1m8.4 22.2h1m4.4 -27.6h1m-33.3 7.4h1m0.6 24.5h1m15.1 8.8h1m-22.5 -8h1m-15.9 -7.3h1m40.6 -7h1m-55 1.6h1m56.2 -1.1h1m-5.2 9.4h1m-7.6 -22.5h1m12.6 17.2h1m-27.1 -5.8h1m14.6 -0.3h1m-41.6 5.6h1m34.8 -2.2h1m-45.9 7.3h1m50.5 3.1h1m-33.5 -8.2h1m-19.7 4h1m24.3 0.5h1m34 -24.4h1m-38 28.8h1m19.5 -5.1h1m6.9 -18.1h1m-54.8 21h1m48.6 -14.3h1m3.4 9.3h1m-30.8 16.1h1m9.7 0.6h1m0.1 -8.6h1m5 0.2h1m10.2 -2.1h1m-50.3 1.9h1m10.2 -9h1m-4.2 1.2h1m48.3 -12.6h1m-50.4 13.9h1m29.4 -16h1m7 5.1h1m-30.6 6.4h1m0 9.1h1m39.2 -15.9h1m-50.4 8h1m-15.7 7.6h1m36.3 -11.3h1m-10 2h1m0.2 1.9h1m-6.3 -13.7h1m13.3 21.2h1m20.4 -17.7h1m-42.9 16.1h1m46.5 12.9h1m-51.8 -21.3h1m45.1 8.5h1m-32.6 1.2h1m23.9 2.4h1m-11.3 2.7h1m22.1 -24.6h1m-25 5.4h1m-33.3 14.8h1m55.8 -28h1m-57.9 17.8h1m14.4 14.5h1m2.9 -18.4h1m32.9 -1.2h1m3 1.6h1m-51.1 6.6h1m56.2 -16.4h1m-56.7 24h1m30.6 -16.2h1m-8.6 5.9h1m7.9 15h1m-2.2 -19.3h1m3.9 14.8h1m-16.2 -7h1m18.4 -2.5h1m-6.3 19.3h1m-4.7 -21.1h1m12.4 -4.1h1m-25.7 1.1h1m3.8 15.3h1m15.3 -1.8h1m-2.2 -8.5h1m-1.5 9.7h1m3.8 -15.5h1m-15.5 10.8h1m23 -29.7h1m-35.3 27.1h1m-28.7 2.6h1m48.1 -2.6h1m11.8 -7.1h1m-67.4 10.1h1m6.9 -4h1m51 -25h1m-39.4 29.5h1m-22.2 -4.1h1m38.9 -4.8h1m-11.2 13.1h1m4.9 -14.3h1m17.3 10.1h1m-48.6 -3.9h1m29.8 8.3h1m7.9 -15.2h1m10.1 -21.3h1m-18.2 11.7h1m18.7 -4.8h1m-37.1 17.5h1m-8.2 13.4h1m-9.7 -9.1h1m36.4 8.1h1m-47 -6.3h1m10 -4.8h1m-13.4 -2.5h1m2.5 12.1h1m-7.4 5.6h1m55.6 -1.8h1m-13.8 -20.1h1m14.5 2.5h1m-33.6 13.5h1m-13.2 -8.2h1m37.9 3.8h1m-12.8 -0.6h1m-30 2.9h1m32.9 -22.9h1m19.7 8.5h1m-27.1 9.2h1m20.1 -27h1m-26.9 34.5h1m8.1 0.4h1m-13 -20.2h1m-25.6 6.8h1m25.8 -10.8h1m13.8 27.8h1m-9.6 -5.2h1m15.4 4.3h1m-10.1 -30.2h1m-19.2 13.9h1m7.4 17.2h1m-25.5 -6.7h1m32.1 -14.5h1m-36.4 6.4h1m43.7 5.8h1m-53.2 -5.5h1m24.8 9.3h1m4.9 -2.1h1m12.6 -8.1h1m10.5 1.5h1m-39.6 9.8h1m-1.3 -11.9h1m9.9 12.5h1m-25.1 4.5h1m40.2 -9.2h1m-1.9 -24.3h1m-39.5 30.8h1m24.9 -17.4h1m-0.5 -6.4h1m5.9 12.4h1m3.3 12.6h1m-15.3 5.9h1m14.8 -22.9h1m9.8 -12.7h1m-3.2 8.5h1m6.9 5h1m-62.2 8.8h1m51.2 -15.7h1m-54.8 19.8h1m58.7 -31.5h1m-17.1 28.8h1m-32.7 -15.7h1m40.8 2.7h1m-0.3 20.4h1m-56.8 -12.3h1m34.1 -2.9h1m-36.1 0.4h1m56.6 -11.6h1m-30.1 16h1" stroke="#6a3fae" stroke-width="1" stroke-opacity="0.9"/>
<path d="M57.5 163.3h1m26.9 -0.7h1m-28.3 -1.7h1m-30.5 9.8h1m-13.2 0.3h1m35.8 11.3h1m31.4 -22.1h1m-76.5 22.1h1m82.5 -29.2h1m-24.6 11.4h1m-18.1 10.5h1m-20.6 -2.6h1m30.5 -7.2h1m4.7 12.9h1m-62.3 4.4h1m26.4 -13.4h1m9.3 1.8h1m34.4 -0.1h1m-72.8 4.6h1m20.3 -14h1m24.4 2.6h1m-4.2 15.8h1m-28.9 -8.9h1m0 0.6h1m53 -5.8h1m-12.9 8.7h1m-59.7 7.6h1m5.3 -15.8h1m-7.9 13.8h1m-0.8 -0.7h1m79.8 -14.1h1m-82 17.4h1m62.8 -24h1m-63.8 26h1m21.2 -16.3h1m41.9 0.5h1m8.4 -8.9h1m-60.1 5.9h1m21.7 17.9h1m-24.2 -10.7h1m25.2 3.8h1m36.3 -8.4h1m-47.4 20.4h1m-13.1 -14.2h1m-22.6 11.1h1m61.2 -22.5h1m-35.3 17h1m-28.8 0h1m56.7 -21.3h1m18.7 10h1m-53.1 1.2h1m-24.8 16h1m61.9 -21h1m-13.3 11.5h1m22.5 -10.9h1m-1 4.2h1m-17 -8.1h1m-32.1 8.7h1m43.5 -7.8h1m-72.2 18.4h1m77.6 -20.9h1m-45.2 8h1m-20.2 5.4h1m45.4 0.6h1m-32.3 2.9h1m-2.6 -7.5h1m42.5 -5.8h1m-59.8 14.5h1m27.8 -4.9h1m11.3 -12.5h1m18.8 -3.7h1m-29 23h1m-14.4 -18.6h1m36.6 2.1h1m8.6 3.7h1m-44.1 13.9h1m6.5 -3.1h1m-27.5 -15.3h1m27.4 14h1m14.6 0.2h1m-12.5 -21.3h1m6.1 3.8h1m-41.9 -1.2h1m56.8 13.1h1m-17.5 -5.7h1m-60.7 14.4h1m9.3 -8.5h1m5.6 16.3h1m-18.2 -5.3h1m49.1 -10.1h1m6.2 -8h1m-20.7 -4h1m17.5 -0.2h1m-13 19.3h1m6 -10.7h1m-41.6 1.5h1m10.4 2.1h1m-22.5 9.4h1m37.5 0.8h1m34.7 -15.2h1m-4.2 -4.6h1m-71.3 19.3h1m29.1 -14.8h1m-17.9 3.8h1m56.4 -5.5h1m-72.7 12.6h1m41.4 1.4h1m-7.7 -1.9h1m42.5 -16.7h1m-42.1 25.3h1m-15.1 -10.2h1m52.9 -9.4h1m-37.8 8.5h1m-38.7 9h1m-1.7 -4.6h1m26 -6.1h1m28.7 -18.1h1m-38.3 18.4h1m-1.4 4.7h1m37.9 -17.4h1m-1.2 2.3h1m-28.5 13.9h1m3.8 -9.3h1m15.8 -3.6h1m-52.8 16.3h1m21.5 -11.7h1m-1 -2.1h1m56.4 -4.9h1m-7.1 -3.5h1m-50.1 17h1m-11.9 -3.2h1m17.7 1.4h1m-19.9 -11.6h1m23.6 24h1m29.9 -19h1m-50.4 3.5h1m-7.2 3.5h1m-17.3 7.2h1m63.6 -18.1h1m-64.5 16h1m58.7 -6.3h1m-5.2 -5.4h1m-5 9.1h1m20.6 -10.7h1m-2.4 -11.7h1m-2.6 6.2h1m-48.1 6.8h1m35.6 -4.7h1m-11.3 0.5h1m-42.4 -0.8h1m-8.5 20.4h1m71.4 -20.6h1m5.1 5.1h1m-21.9 -4.1h1m-5.6 2.7h1m-24.6 11.2h1m27.3 -14.4h1m-23 18.7h1m26.1 -16.5h1m-49.3 19.4h1m3.6 2.1h1m19.4 -30h1m20.6 0.3h1m-60.6 24.5h1m17.9 -15.5h1m-2.2 -3.7h1m-13.4 5.8h1m50.5 5.5h1m-4.5 -3.1h1m-2.8 -11.4h1m0.8 3.5h1m21.5 -0.6h1m-71.3 12.6h1m66.7 -13.4h1m-74.5 18.6h1m33.4 7.1h1m30.7 -15.6h1m-36.7 14.2h1m-25.3 -13.9h1m-1 -6.3h1m60.8 -2.7h1m-71.5 16.9h1m21.6 -6.1h1m14.1 0.5h1m13.9 2.5h1m19.3 -5.5h1m-61.3 16.6h1m2 -18.7h1m1 1h1m51.2 1.3h1m-26.3 0.9h1m-21.3 -0.2h1m48.4 -3.4h1m-60 5.8h1m37.2 -12.5h1m-48.7 23.6h1m48.9 -30.2h1m12 10.5h1m-35.6 9.1h1m40.2 -12.9h1m1.7 -3.2h1m-70.8 6.3h1m-6.7 18.9h1m66.1 -21.8h1m-40.5 16.6h1m-27.8 3.5h1m29.8 -8h1m-20.1 0.4h1m58.2 -1.8h1m-58.6 -8.1h1m38.3 -1.5h1m-56.1 17.1h1m74 -12.5h1m-61.4 6.6h1m-12.3 6h1m8.8 -3.3h1m11.3 14.5h1m-3.1 -15.2h1m49.4 -10.6h1m-72.9 13.9h1m-1.1 1.3h1m-3 -0.4h1m54.7 -15.4h1m-5.2 10h1m-5.6 0.7h1m-27.4 7.1h1m27.2 -5.5h1m2.8 -2.5h1m-12 5.3h1m-21.2 -7.3h1m-18.6 12.9h1m71.4 -23.7h1m-23.7 11.2h1m21.6 -1.1h1m0.2 -0.9h1m-49.5 -8.1h1m-2 -1.5h1m4.6 18h1m-17.5 1.8h1m-8.2 -13.7h1m12.9 3.7h1m41.2 -0.5h1m-11.8 7h1m26.2 -11.5h1m-13 5h1m-21.4 -13.9h1m19.7 8.4h1m-6.9 8h1m-14.2 -2.2h1m-5.1 -10.2h1m21.9 4.6h1m-1.7 5.5h1m12.1 -2.2h1m-47.6 13.1h1m-21.6 -8.3h1m37.6 5h1m-47.1 -5h1m62.9 -13h1m-24.2 0.6h1m1.4 2.1h1m30.9 0.1h1m-37.2 13.2h1m14.5 -14.2h1m-29.6 9.7h1m-30.4 10h1m47.5 -21.3h1m5.5 6.2h1m-55.7 13.4h1m44.2 -1.8h1m-29.9 -0.2h1m12.6 -6.1h1m10.9 -5.9h1m10.8 -7.4h1m-52.1 21.9h1m17.1 -13.7h1m29.2 -8h1m-55.6 20.9h1m42.6 2.3h1m8.2 -3h1m-24.7 2.5h1m39.2 -13.4h1m-14.8 -3.8h1m-3.2 0.8h1m-28.8 12h1m-2.5 -5.9h1m-8.7 -3.7h1m-2.3 3.3h1m11 -0.3h1m14.1 -1h1m31.3 -13.2h1m-58.4 10.4h1m60.1 2.3h1m-77.1 10.3h1m-3.4 2.8h1m61.7 -7.7h1m-3.3 -12.5h1m-38.5 6.7h1m7.1 5.7h1m-11.1 -5.1h1m8.3 9.2h1m-29.1 2.3h1m38.6 -0.8h1m19 -18.3h1m-48.2 5.2h1m43.7 -6.4h1m14.1 1.1h1m-74.5 22.3h1m25.1 -6.8h1m20.5 1.4h1m26.9 -8.9h1m-2 -12.4h1m1.4 6.3h1m-55.5 0.3h1m52.4 1.4h1m-5.2 -0.6h1m3 -3h1m-75.3 23.3h1m59.8 -22.7h1m-36.3 12h1m-5.4 -8h1m-7.3 4.3h1m4 -0.6h1m38.2 -1.2h1m-59.5 -1.8h1m61 -1.3h1m-46.9 -2.1h1m-2.7 9.1h1m1.3 -1.5h1m23.5 0.1h1m-41.2 1.1h1m70.2 -12.1h1m-44.5 10.7h1m-19.7 -2.9h1m13.6 0.6h1m27.8 -12.9h1m-5.9 13.3h1m-1.7 4.5h1m27 -3.7h1m-11.3 4.8h1m-17.1 -13.1h1m22.9 4.9h1m-77.1 14.7h1m12.7 -12.3h1m42.5 -8.3h1m-13.4 7.9h1m2.4 2.1h1m21.7 1h1m-20.1 -13.7h1m14.4 15.7h1m4.9 -3.8h1m-18.6 -13.4h1m19.6 5.5h1m-28.5 15.6h1m15.8 -16.5h1m-56 13.9h1m27.1 7.4h1m-14.5 7.9h1m0.2 -12.5h1m-9.6 -10.5h1m-15.7 15.3h1m61 -6.8h1m-18.8 3.4h1m-35.5 -1.3h1m-3.8 -6.1h1m31.2 0h1m31 -1h1m-53.7 0.7h1m53.7 -9.8h1m-63.2 1.2h1m53.5 5.9h1m-51.4 5.1h1m33.4 -7.6h1m30.9 -1.6h1m-84.9 15h1m44.3 -8.3h1m-25.2 -5.8h1m53 -8.4h1m-39.2 16.5h1m-6.2 5.3h1m44.3 -12.8h1m-61.3 3.6h1m27.3 1.4h1m14.4 2.3h1m-5.2 -14.8h1m-17.9 21h1m18 -21.6h1m0.2 6.6h1m-50 -5.6h1m43.7 2.3h1m26.4 4.7h1m-26.6 0.7h1m-4.7 -9.7h1m24.1 4.2h1m-60.9 16.4h1m15 0.6h1m-24.8 -5.9h1m63.8 -7.5h1m-3 -2.1h1m-0.8 8.1h1m-62.6 3.4h1m46.2 -15.6h1m-59.7 23h1m35.6 -1.4h1m35 -9.7h1m-5.3 0.1h1m-15.1 -12.9h1m11.3 17.4h1m-37.3 -0.4h1m50.3 -10.4h1m-21.4 -3.3h1m-59.7 19.9h1m19.2 -10.6h1m58.7 -12.8h1m-31 0.8h1m-21.7 11.3h1m35.3 0.4h1m-22.4 10.4h1m-17.3 -8h1m27.7 -12.2h1m-47 9.4h1m56.9 -1.8h1m4.8 -8.8h1m-58.4 3.9h1m-19.1 19.6h1m69.8 -20.4h1m-71.6 17.1h1m52.4 -9.2h1m-56.3 3.4h1m42.4 -2.2h1m-25.1 -7.2h1m53.8 -4.6h1m-73.9 20.3h1m50.7 -7h1m-21.7 1.3h1m39.4 -8.5h1m-73.1 15.3h1m27 2.6h1m-19.2 -9.4h1m44.6 -1.7h1m-47.1 -5.7h1m10.3 3h1m-0.8 5.9h1m6.5 -10.9h1m22.8 -5.2h1m-29.7 15h1m55.7 -11.5h1m-43.6 19.3h1m-36.9 -1.4h1m4 -6.2h1m-6.8 7.4h1m-1.4 1h1m1.1 -1.1h1m69.5 -17.6h1m-12 11.5h1m-0.8 -18.2h1m16.5 0.7h1m-81 21h1m29.2 -2.9h1m-5.1 14.4h1m2.8 -12.2h1m20.4 -22.2h1m-27.1 11.5h1m25.4 -7.1h1m-14.5 11.8h1m-6.8 -2.2h1m-16.8 2.6h1m16.4 12.8h1m-27.5 -18.9h1m44.6 -2h1m5 -7.7h1m19.2 5h1m-21.4 16.2h1m-2.2 -17.9h1m-38.3 3.1h1m-21.7 15h1m56.9 -7.1h1m-1.3 -8.7h1m-8 18.6h1m-50.5 0.4h1m-0.9 -11.4h1m62.9 5.3h1m0.5 -4.7h1m-66.2 8.4h1m50 -20.8h1m-48.7 10.9h1m53 6.6h1m-7.6 0.7h1m-25.2 1h1m-4.5 -16h1m-22.9 18.7h1m24.5 -5.9h1m32.9 -13.7h1m-22.5 11.6h1m-13.8 -3.2h1m14 3.1h1m20.8 3h1m12.3 -7.2h1m-53.3 13.7h1m-8.3 -6.8h1m32.6 6h1m-3.6 -0.4h1m-29.7 -9.4h1m50.3 1.9h1m-26.6 7.4h1m-11.5 -2h1m-16.6 -9.5h1m-19.2 -1.6h1m76.2 -4.3h1m-27 2.6h1m-53.2 19.8h1m45.1 -8.3h1m-34.8 -10.7h1m50.4 4.2h1m-6.9 -7.2h1m16.7 -1.8h1m0.7 6.4h1m-78.2 11.4h1m79.7 -16.3h1m-20.4 7.8h1m-30.3 4.4h1m0.5 8.8h1m-28.1 -15.6h1m6.9 0.5h1m64.2 -5.2h1m-78 18.4h1m33.2 2.4h1m33.4 -26.4h1m-5.6 11.1h1m-63.8 11.1h1m-5.2 3.1h1m2.6 -1.9h1m21 -13.3h1m-5.5 1.7h1m32.7 8.8h1m-37.1 -13.1h1m33.6 -13.5h1m-48.4 37.8h1m17.5 -1.3h1m21.2 -27.9h1m-21.6 -4.5h1m43.3 9.8h1m-17.5 -2.5h1m0 10.8h1m12.6 -8.2h1m-36.4 0h1m16.1 -3.7h1m14.7 12.8h1m8.9 -11.3h1m-70.1 24.4h1m32.4 -23.2h1m-17.2 -5h1m36.8 10.9h1m9.5 -10.4h1m-16 0.9h1m10 5.5h1m5 -7.6h1m-15 9h1m-11.7 -11.9h1m26.6 6.2h1m-28.6 15.7h1m-40.7 -4.3h1m3.3 11.7h1m58.1 -29.2h1m-55 17.4h1m10.4 10h1m19 -24.8h1m-31.6 26h1m38.9 -7.7h1m-24.1 -15.9h1m31.5 11.7h1m-13.2 -0.1h1m2.3 0.2h1m-41.1 -14.8h1m-11.1 29.9h1m43.9 -13.7h1m-13.4 5.4h1m21.7 -18.7h1m-37.4 24.2h1m9.6 -5.3h1m28.2 -13.8h1m-36.4 -4.7h1m32.6 8.3h1m-35.4 0.5h1m-18 18.5h1m8.1 -20.6h1m22.6 -0.1h1m3.3 2.9h1m-0.9 -4.2h1m-43.1 20.9h1m45.3 -21h1m-31.8 18.9h1m-7.4 -2.4h1m40.4 -20.8h1m-45.3 28.9h1m-8.1 5.3h1m-10.4 -7.6h1m39.4 -6.9h1m11.2 -14.4h1m-40.5 22.2h1m-5.7 -2.8h1m16.7 -16.7h1m5.6 1.9h1m33.3 -1.2h1m-62.5 25.9h1m64.5 -31.2h1m-6.1 1.5h1m-50.6 24.5h1m5.6 -0.7h1m50.7 -34.2h1m-58.2 35.3h1m28.6 -17.5h1m17.6 -15.3h1m-40.2 1.7h1m-23.2 22.8h1m35 -7.8h1m-21.6 13h1m36.7 -18.4h1m-43.8 18.4h1m10.2 -15.4h1m31.2 -5.2h1m-32.3 -7.2h1m18.4 17.2h1m-4.1 -9.1h1m-33.1 24.4h1m6.6 -8.6h1m-11.8 -10.6h1m15.5 2.1h1m7.8 2.4h1m34.7 -16h1m-13.9 2.2h1m7.7 6.6h1m-43.6 4h1m52.3 -9.8h1m-20.9 -1.5h1m14.4 2.2h1m-68.8 20.5h1m37.2 -30.3h1m-16.9 24.5h1m23.6 -16.9h1m27 -4h1m-70.9 26.5h1m39.6 -6.6h1m-32.6 7.3h1m1 -1.3h1m-9.3 8.4h1m51.5 -28.3h1m13.3 -4.7h1m-25.1 7.3h1m6.3 6h1m-17 -3.8h1m1.9 3h1m-2.4 -4.7h1m-21.5 2.5h1m16.7 -7.3h1m-27.6 24.9h1m-2.5 -6.2h1m56.7 -18.4h1m-10.5 7.3h1m-13.6 5.2h1m11.7 -11.7h1m-42 20.1h1m36.7 -23.1h1m-60.7 25.4h1m25.8 -24.8h1m-0.9 17.2h1m15.9 -11.6h1m-4.6 -2.7h1m26.7 -8.8h1m-16.6 5.2h1m2 11.5h1m-19.8 2.2h1m31.7 -12.4h1m-52.7 17.3h1m33.2 -8.6h1m-21.4 5.9h1m37.7 -13.8h1m-34.4 16.9h1m32.9 -24.1h1m-51.4 33.8h1m46.1 -36.3h1m-1.9 0.4h1m-3.8 7.4h1m-34.7 15.4h1m3.7 -17.9h1m22.8 17h1m-24.9 4.9h1m-15.5 -18.4h1m21.2 -0.9h1m-30.5 25.2h1m-3.5 -0.5h1m43.6 -20.4h1m18.9 -9.2h1m-0.3 0.6h1m-64.6 30.7h1m52.1 -31.6h1m-28.8 21.3h1m-35 14.9h1m15.9 -9.3h1m51.1 -26.5h1m-51.2 33.4h1m11.2 -32.9h1m15.2 6h1m8.1 9.3h1m-15.9 7.7h1m-8.1 -13.7h1m-18.1 -0.8h1m54 -4.6h1m-40.8 9.9h1m34.1 -10.9h1m-12.1 13.7h1m-13.3 6.7h1m4.6 -12.7h1m-34 24.3h1m14.5 -14.4h1m-24 5.4h1m20.8 -8h1m-5.1 1.4h1m-8.9 -11.5h1m0.9 12h1m24.3 1h1m-14.6 -17.8h1m15.5 11h1m-41.2 22.6h1m61 -32.9h1m-30 10.9h1m27.2 -9.1h1m-59.7 25.3h1m1.3 -2.4h1m24.7 -20h1m25.6 -8.7h1m-48.7 1.9h1m-0.5 15.6h1m43.7 -16.5h1m-30.3 16.6h1m-29.9 11.4h1m44.5 -28.2h1m11 -3.3h1m-40.1 13.6h1m-2.5 -14.8h1m-0.4 -0.9h1m15.8 16.3h1m-38.3 19.2h1m6.3 2h1m36.6 -11.3h1m17 -19.8h1m-40.6 14h1m-4.3 10.9h1m11.3 -20.7h1m17 3h1m-38.2 23.2h1m53.5 -30.4h1m-28.2 20.3h1m-19 -16.9h1m31.9 -7.8h1m15.5 4h1m-53.5 30.7h1m-21.3 -0.6h1m8.3 2.2h1m33.6 -33.9h1m-34 34.6h1m-7.1 -7.3h1m9.5 -8.1h1m-8.6 12.9h1m26.5 -26.7h1m33.3 2.6h1m-7.9 4.6h1m-20.8 7.7h1m-33.3 -1.8h1m19.9 -14.3h1m35 0.5h1m-29.2 12.8h1m23.3 -8.5h1m-20.2 -12.7h1m5.7 20.6h1m-42.9 14.4h1m-7.6 -6.2h1m46.9 -12.3h1m18.9 -6.9h1m-62.2 22.5h1m21.6 -29.4h1m-31.2 34.2h1m12.6 -8.5h1m29.6 -10.8h1m-20.9 9.2h1m43.5 -20.6h1m-66.8 32h1m34.9 -29.6h1m-5.6 15h1m-5.3 -18.4h1m35.3 -3.2h1m-38.1 4.4h1m14.7 19.4h1m-6.8 -8.5h1m-27.9 7.7h1m-3.4 2.9h1m56.5 -19.4h1m-38.2 5h1m-16.5 14.3h1m-3.3 -5.2h1m13 -21.4h1m-5.6 23.9h1m1.3 -18.3h1m-16.1 31.9h1m1.3 -4.5h1m45 -27.4h1m-7 1.9h1m-29 13.9h1m5.7 -6h1m-2.3 -2.5h1m-18.8 18.2h1m41.3 -29.4h1m-51.6 32.1h1m40.3 -19.1h1m-15.5 0.2h1m33 -15.5h1m-37.2 12.7h1m-20.1 -13.1h1m57 10.1h1m-35.6 -1.7h1m-34.6 27.9h1m62.1 -33.1h1m-62.7 25.2h1m64.8 -13.5h1m-49 -9.1h1m-13.4 24h1m17.8 -19.3h1m-12.2 21.7h1m54.5 -17.9h1m-49.9 -9h1m21.5 2.5h1m9.5 9.2h1m-2.6 -1.5h1m-33.7 -3.6h1m27.2 -5.1h1m-50.1 23.4h1m1.1 0h1m64.5 -22.6h1m0.1 6.3h1m-2.3 -4.6h1m3.8 5.5h1m-55.6 -12.5h1m35.3 19.3h1m-22.4 -7.3h1m-6.1 4h1m-0.3 -13.6h1m32.6 6.6h1m4 -5.1h1m-63.6 22.2h1m4 -4.4h1m-0.4 10.7h1m1.2 -11.3h1m27.3 -2.8h1m-2.1 -12.5h1m17.3 -2.4h1m-45.1 27.2h1m-11.9 -5.5h1m15 4.5h1m45 -27.9h1m1.6 -3.7h1m-64.5 28.9h1m52.8 -18.6h1m-35.1 12.8h1m-10.4 15.7h1m-2.3 -5.1h1m45.2 -28.3h1m8.4 -1.9h1m10.4 -1.4h1m-35.9 13.6h1m22.8 -13.5h1m-31.7 24.5h1m14.9 -3.7h1m-28.4 -24.6h1m2.2 9h1m-11.8 29.6h1m-10.9 -9.8h1m62 -19.9h1m-62.6 24.4h1m35.6 -13h1m-10.9 -6.9h1m-22.5 -0.6h1m15.9 -5.5h1m4.7 18.8h1m-6.5 -4.6h1m-9.1 -12.7h1m-1.5 18.4h1m-20.8 11.8h1m17.2 -32.7h1m41.4 14.1h1m-8.4 -2h1m10.8 -10.6h1m-55.8 9.2h1m25.6 3.1h1m-20.5 0.2h1m50 -17.6h1m-45.1 7h1m32.8 2.5h1m-12.5 -6.4h1m-23.7 -7h1m24.3 21.2h1m-4.4 -2.8h1m-16 4.7h1m-3 3.8h1m-19.2 9.9h1m15.7 -14.5h1m20.7 1.1h1m-10.5 -1.7h1m14.5 2.2h1m-1.9 -14h1m-49.5 29.7h1m-1 -9h1m18.3 -25.4h1m-16 32.1h1m4.9 -16.7h1m26.3 7.1h1m-16 -6h1m4.9 3.4h1m7.7 2.9h1m-32.2 5.4h1m11.2 -26.2h1m27.2 11.7h1m-10.6 3.1h1m-23.6 1.1h1m44.8 -14.9h1m-23 16.1h1m-28.2 12.3h1m25.5 -10.5h1m-4.5 -11.2h1m-16.2 9.6h1m32.5 -6.4h1m-17.4 2.1h1m-14 -9.7h1m40.4 -1.2h1m-60.5 27.7h1m-12.9 0.1h1m15.5 -3.7h1m8.2 -31.3h1m-22.8 31.3h1m40.2 -5.6h1m19.9 -19.3h1m-36.5 -2.4h1m15.7 10.4h1m17.3 -10h1m-59.1 24.4h1m24.8 -10.3h1m-4.4 11.3h1m11 -9.8h1m-34.2 11.5h1m2.8 -4h1m11.3 -0.6h1m-16.5 14.5h1m15.8 -31.8h1m0.6 14.4h1m19.4 -2.3h1m-44 7.2h1m58.4 -17.2h1m-37.2 17.4h1m7.5 -7.3h1m-20.3 12.1h1m-10.1 4.5h1m60.9 -29.4h1m-9 -1.4h1m-16.2 -6h1m-12.6 20.9h1m-27.3 7.1h1m54.7 -29.4h1m-0.5 -0.6h1m-11.6 21h1m13.5 -10.8h1m-65.7 27.7h1m34 -27.7h1m-40.6 16.4h1m1.6 7.9h1m41.2 -31.3h1m-43.7 29.5h1m64 -17.7h1m-14.8 -9.5h1m6.4 -6.1h1m8.7 12.7h1m-20.5 9.2h1m-23.4 -16.2h1m-6.2 5.2h1m39.5 -10.8h1m-15.3 11.1h1m-40.5 16.3h1m7 6.9h1m4.2 -20.9h1m16.1 -1.3h1m4.7 13h1m-44.3 5.8h1m2.5 3h1m-2.2 7.9h1m16.5 -9.3h1m-20.4 -1.9h1m36.6 -18.9h1m-22.4 -2.7h1m15.9 -2.2h1m-8.9 11.2h1m15.7 8.9h1m-22.1 -4h1m22.6 -8.3h1m-37.9 19.7h1m6.3 -21.9h1m21.5 -10.4h1m22.7 5.5h1m1.6 -0.2h1m-53.9 22.4h1m9.4 -17h1m-14.4 25.1h1m31.9 -12.7h1m-16.5 -15.9h1m-5 -1h1m-4.8 0.8h1m3 11.8h1m-4.5 -14.6h1m45.7 10h1m-2.4 -8.3h1m-45.5 13.3h1m0.8 12.5h1m-2.3 -16.5h1m28.2 -7.7h1m-30.9 14.6h1m46.6 -17.9h1m-10 15.1h1m-22.4 -20.5h1m-10.5 10.1h1m8.3 18.6h1m-18.8 -26.1h1m15.5 26.7h1m6.6 -4h1m16.8 -17.7h1m-21.9 15.1h1m-17.2 1.9h1m4.8 8.1h1m-9.2 0.7h1m2.9 -11.6h1m19.9 3.8h1m-34.6 3.8h1m-2.7 4.5h1m-0.5 0h1m-4.4 -1.3h1m8.1 3.7h1m-9 -5.6h1m20.5 -7.4h1m15.7 -6.3h1m-31.7 11.9h1m48 -30.7h1m-64.6 39.7h1m24.5 -28h1m27.5 9.1h1m10.5 -10.8h1m-60.4 31.4h1m10 -13.1h1m13.7 -5.5h1m26.7 -12.6h1m-21.5 0.2h1m2.2 9.3h1m-30.8 19.6h1m-12 3h1m53.7 -29.9h1m-50.9 26.2h1m50.4 -20.3h1m-43.9 -0.9h1m32.3 -16.5h1m-35.8 32h1m36 -30.8h1m-22.4 -0.9h1m-5.4 14.4h1m-22.8 8.8h1m21.3 -4.6h1m19.4 -11.8h1m-23.7 2.6h1m0.5 1.4h1m23.1 9.1h1m-40.7 14.3h1m3.8 -25.7h1m23.2 15.3h1m-33.2 9.9h1m7.4 -27.8h1m30 10.3h1m-6.6 10.4h1m-35.8 8.8h1m25.4 -20h1m32 -8.4h1m-21.3 -2.7h1m15.1 6.1h1m-22.5 16.8h1m-22.9 -0.8h1m-21.7 3.6h1m66.9 -24.2h1m-30.8 22.2h1m-2.3 -7h1m15.9 -13.3h1m-16.7 6.6h1m-1 -8.9h1m-13.8 18.1h1m-5.9 6.4h1m18.8 -5.9h1m-0.6 3.3h1m-0.2 -4h1m-8.4 -17.9h1m33.9 -3.7h1m-61.6 31.4h1m39.4 -11.9h1m-13.2 10.5h1m-3.9 -15.5h1m36.2 -7h1m-39.8 9.3h1m32.8 -6.5h1m-64.6 24.4h1m35.1 -34.1h1m-27.3 36.3h1m-3.4 -5.9h1m51.4 -22.8h1m5.2 -6.4h1m-42.7 13.7h1m-5.3 0.5h1m3.1 -8.1h1m15 -6.3h1m-21.7 30.1h1m45 -21.2h1m-18.7 -2.4h1m-36.6 -8h1m7.6 5.8h1m-12.8 22.9h1m4.6 5.3h1m35.2 -22.8h1m2.2 -5h1m-44.7 0.9h1m48.7 8.6h1m-50.2 0.4h1m1.7 12.3h1m-10.3 -2.4h1m20 -20.6h1m-2.9 -6.4h1m8.8 16h1m-17.9 19.6h1m28.1 -9.5h1m-25.4 -6.4h1m13 -1.1h1m23.4 -10.8h1m-49.9 26.6h1m-7.7 -3.1h1m47.7 -12.1h1m5 -0.2h1m-26.8 -6.8h1m34.2 -0.9h1m-67.7 11.2h1m55.4 -23.2h1m-3.9 14.3h1m-37 21.4h1m26.4 -24.4h1m12.8 -1.7h1m12.5 1h1m-72.3 19.9h1m21.9 4.3h1m23.6 -27.5h1m-34.4 31h1m5.7 -23.2h1m5.9 8.6h1m35.3 -20.3h1m-49.8 15.9h1m17.2 -0.6h1m27.3 -12.3h1m-20.3 10.3h1m-19 -2.4h1m7.9 -9.1h1m18.7 12.5h1m-40.4 12.8h1m18.6 -21.6h1m2.2 -0.6h1m11 8.3h1m-15.4 -14.2h1m4.8 16.3h1m-4.4 10.1h1m-12.5 -21.8h1m5.1 0.5h1m-29.1 29h1m20.7 -24.6h1m-22.6 23.3h1m53.6 -25.4h1m-5.6 -5.9h1m-57.8 32.3h1m3.7 5.6h1m18.3 -16.4h1m41.1 -23.8h1m0.4 4.4h1m-42.1 14.2h1m10.3 7.5h1m3.2 -15.5h1m27.3 -11.5h1m-8.2 16.4h1m-61.6 11.6h1m7.8 6.8h1m11.1 -8.8h1m14.8 -10.2h1m30.4 -15.1h1m-68.1 33.2h1m17 -32.1h1m-16.1 27.4h1m33.1 -12.8h1m-31 20h1m15.1 -28.4h1m-21.3 25.2h1m57.5 -20.6h1m-48.2 14h1m17.7 -5.5h1m-3.2 -12.8h1m34.4 -4.6h1m-40.3 0.6h1m-28 31.5h1m23.4 -29.9h1m12.8 2h1m6.9 10.9h1m17.2 -15.1h1m-3.7 -4h1m-1.6 8h1" stroke="#4189b0" stroke-width="1" stroke-opacity="0.9"/>
<line x1="12" y1="207.6" x2="89.2" y2="174.8" stroke="#e0443a" stroke-width="1.2" stroke-dasharray="2.4 1.8"/>
<text x="307.7" y="10.7" font-size="14" font-weight="bold">c</text>
<text x="359.8" y="20.7" font-size="7.9" text-anchor="middle" fill="#333">7,457 Genes</text>
<text x="462" y="20.5" font-size="8.1" text-anchor="middle" fill="#333">15,641 Enhancers</text>
<svg x="319.60" y="0" width="21.12" height="875">
<rect y="24.20" width="100%" height="2.01" fill="#f1c238"/>
<rect y="25.21" width="100%" height="2.01" fill="#f0ba3b"/>
<rect y="26.22" width="100%" height="2.01" fill="#f2c837"/>
<rect y="27.22" width="100%" height="3.02" fill="#f2c538"/>
<rect y="29.24" width="100%" height="5.03" fill="#f3ce35"/>
<rect y="33.27" width="100%" height="3.02" fill="#f1c139"/>
<rect y="35.28" width="100%" height="5.03" fill="#f3d134"/>
<rect y="39.31" width="100%" height="2.01" fill="#f1c039"/>
<rect y="40.32" width="100%" height="3.02" fill="#f3cf35"/>
<rect y="42.34" width="100%" height="3.02" fill="#f3cd36"/>
<rect y="44.35" width="100%" height="4.02" fill="#f3d134"/>
<rect y="47.37" width="100%" height="2.01" fill="#f2ca36"/>
<rect y="48.38" width="100%" height="2.01" fill="#f3d233"/>
<rect y="49.39" width="100%" height="2.01" fill="#f3d134"/>
<rect y="50.40" width="100%" height="2.01" fill="#f4d532"/>
<rect y="51.40" width="100%" height="3.02" fill="#f3d234"/>
<rect y="53.42" width="100%" height="2.01" fill="#f2ca36"/>
<rect y="54.43" width="100%" height="2.01" fill="#f3d333"/>
<rect y="55.43" width="100%" height="2.01" fill="#f3d233"/>
<rect y="56.44" width="100%" height="2.01" fill="#f2c737"/>
<rect y="57.45" width="100%" height="2.01" fill="#f3d134"/>
<rect y="58.46" width="100%" height="2.01" fill="#f3d234"/>
<rect y="59.46" width="100%" height="2.01" fill="#f2cb36"/>
<rect y="60.47" width="100%" height="2.01" fill="#f3d035"/>
<rect y="61.48" width="100%" height="2.01" fill="#f4d532"/>
<rect y="62.49" width="100%" height="5.03" fill="#f3d134"/>
<rect y="66.52" width="100%" height="4.02" fill="#f2c737"/>
<rect y="69.54" width="100%" height="2.01" fill="#f3d034"/>
<rect y="70.55" width="100%" height="2.01" fill="#f2c538"/>
<rect y="71.55" width="100%" height="3.02" fill="#f4d830"/>
<rect y="73.57" width="100%" height="3.02" fill="#f2c637"/>
<rect y="75.58" width="100%" height="2.02" fill="#f1bd3a"/>
</svg>
<svg x="340.12" y="0" width="21.12" height="875">
<rect y="24.20" width="100%" height="3.02" fill="#efb43c"/>
<rect y="26.22" width="100%" height="2.01" fill="#eeab3f"/>
<rect y="27.22" width="100%" height="2.01" fill="#f3cc36"/>
<rect y="28.23" width="100%" height="2.01" fill="#f0b83b"/>
<rect y="29.24" width="100%" height="3.02" fill="#efb53c"/>
<rect y="31.25" width="100%" height="2.01" fill="#f3cd36"/>
<rect y="32.26" width="100%" height="3.02" fill="#f0b83b"/>
<rect y="34.28" width="100%" height="2.01" fill="#d8ad45"/>
<rect y="35.28" width="100%" height="2.01" fill="#c8af4a"/>
<rect y="36.29" width="100%" height="2.01" fill="#d1ae47"/>
<rect y="37.30" width="100%" height="2.01" fill="#f0b53c"/>
<rect y="38.31" width="100%" height="2.01" fill="#ccae48"/>
<rect y="39.31" width="100%" height="2.01" fill="#c7af4a"/>
<rect y="40.32" width="100%" height="2.01" fill="#f0b63c"/>
<rect y="41.33" width="100%" height="2.01" fill="#f0b83b"/>
<rect y="42.34" width="100%" height="2.01" fill="#d3ad47"/>
<rect y="43.34" width="100%" height="2.01" fill="#c5af4a"/>
<rect y="44.35" width="100%" height="2.01" fill="#f1bd3a"/>
<rect y="45.36" width="100%" height="2.01" fill="#f1c139"/>
<rect y="46.37" width="100%" height="2.01" fill="#f0b73c"/>
<rect y="47.37" width="100%" height="2.01" fill="#f2c737"/>
<rect y="48.38" width="100%" height="2.01" fill="#ccae48"/>
<rect y="49.39" width="100%" height="2.01" fill="#bdb04d"/>
<rect y="50.40" width="100%" height="2.01" fill="#c1b04c"/>
<rect y="51.40" width="100%" height="2.01" fill="#d8ad45"/>
<rect y="52.41" width="100%" height="2.01" fill="#f0bb3a"/>
<rect y="53.42" width="100%" height="2.01" fill="#f0bc3a"/>
<rect y="54.43" width="100%" height="2.01" fill="#ddac44"/>
<rect y="55.43" width="100%" height="3.02" fill="#f0ba3b"/>
<rect y="57.45" width="100%" height="2.01" fill="#f0b93b"/>
<rect y="58.46" width="100%" height="2.01" fill="#f0ba3b"/>
<rect y="59.46" width="100%" height="3.02" fill="#d2ae47"/>
<rect y="61.48" width="100%" height="2.01" fill="#f1c139"/>
<rect y="62.49" width="100%" height="3.02" fill="#f0bb3b"/>
<rect y="64.50" width="100%" height="2.01" fill="#f0b63c"/>
<rect y="65.51" width="100%" height="2.01" fill="#efb13d"/>
<rect y="66.52" width="100%" height="2.01" fill="#efb43c"/>
<rect y="67.52" width="100%" height="2.01" fill="#cbae49"/>
<rect y="68.53" width="100%" height="2.01" fill="#d5ad46"/>
<rect y="69.54" width="100%" height="2.01" fill="#f2c538"/>
<rect y="70.55" width="100%" height="3.02" fill="#f0b73c"/>
<rect y="72.56" width="100%" height="2.01" fill="#dbac44"/>
<rect y="73.57" width="100%" height="2.01" fill="#f1bd3a"/>
<rect y="74.58" width="100%" height="2.01" fill="#f0b63c"/>
<rect y="75.58" width="100%" height="2.01" fill="#f3d034"/>
<rect y="76.59" width="100%" height="1.01" fill="#ceae48"/>
</svg>
<svg x="360.64" y="0" width="21.12" height="875">
<rect y="24.20" width="100%" height="2.01" fill="#3c5bc2"/>
<rect y="25.21" width="100%" height="3.02" fill="#3d57be"/>
<rect y="27.22" width="100%" height="2.01" fill="#3d55bb"/>
<rect y="28.23" width="100%" height="2.01" fill="#3d54bb"/>
<rect y="29.24" width="100%" height="2.01" fill="#3c59bf"/>
<rect y="30.25" width="100%" height="5.03" fill="#3c58bf"/>
<rect y="34.28" width="100%" height="3.02" fill="#3e53ba"/>
<rect y="36.29" width="100%" height="2.01" fill="#3e52b9"/>
<rect y="37.30" width="100%" height="3.02" fill="#3e53ba"/>
<rect y="39.31" width="100%" height="2.01" fill="#3d54bb"/>
<rect y="40.32" width="100%" height="3.02" fill="#3b60c5"/>
<rect y="42.34" width="100%" height="2.01" fill="#3f4bb3"/>
<rect y="43.34" width="100%" height="2.01" fill="#3c59bf"/>
<rect y="44.35" width="100%" height="2.01" fill="#3d55bc"/>
<rect y="45.36" width="100%" height="2.01" fill="#3e50b7"/>
<rect y="46.37" width="100%" height="2.01" fill="#3d55bc"/>
<rect y="47.37" width="100%" height="3.02" fill="#3d54ba"/>
<rect y="49.39" width="100%" height="2.01" fill="#3b66c6"/>
<rect y="50.40" width="100%" height="3.02" fill="#3d56bc"/>
<rect y="52.41" width="100%" height="2.01" fill="#3e50b7"/>
<rect y="53.42" width="100%" height="2.01" fill="#3d57bd"/>
<rect y="54.43" width="100%" height="3.02" fill="#3d57be"/>
<rect y="56.44" width="100%" height="2.01" fill="#3b60c5"/>
<rect y="57.45" width="100%" height="2.01" fill="#404bb3"/>
<rect y="58.46" width="100%" height="3.02" fill="#3b66c6"/>
<rect y="60.47" width="100%" height="2.01" fill="#3f4db4"/>
<rect y="61.48" width="100%" height="3.02" fill="#3e53ba"/>
<rect y="63.49" width="100%" height="3.02" fill="#3c5ac0"/>
<rect y="65.51" width="100%" height="4.02" fill="#3d57bd"/>
<rect y="68.53" width="100%" height="2.01" fill="#3b63c5"/>
<rect y="69.54" width="100%" height="2.01" fill="#3e53ba"/>
<rect y="70.55" width="100%" height="2.01" fill="#3d56bc"/>
<rect y="71.55" width="100%" height="3.02" fill="#3c58bf"/>
<rect y="73.57" width="100%" height="2.01" fill="#3d56bd"/>
<rect y="74.58" width="100%" height="2.01" fill="#3e53ba"/>
<rect y="75.58" width="100%" height="2.01" fill="#3d54ba"/>
<rect y="76.59" width="100%" height="1.01" fill="#3d56bd"/>
</svg>
<svg x="381.16" y="0" width="20.52" height="875">
<rect y="24.20" width="100%" height="2.01" fill="#3b63c5"/>
<rect y="25.21" width="100%" height="3.02" fill="#3b5fc4"/>
<rect y="27.22" width="100%" height="3.02" fill="#3c5bc2"/>
<rect y="29.24" width="100%" height="2.01" fill="#3b64c6"/>
<rect y="30.25" width="100%" height="3.02" fill="#3b6dc8"/>
<rect y="32.26" width="100%" height="2.01" fill="#3b67c7"/>
<rect y="33.27" width="100%" height="3.02" fill="#3b69c7"/>
<rect y="35.28" width="100%" height="2.01" fill="#3b62c5"/>
<rect y="36.29" width="100%" height="3.02" fill="#3b5fc4"/>
<rect y="38.31" width="100%" height="3.02" fill="#3b5ec4"/>
<rect y="40.32" width="100%" height="3.02" fill="#3b64c6"/>
<rect y="42.34" width="100%" height="2.01" fill="#3b5dc3"/>
<rect y="43.34" width="100%" height="4.02" fill="#3b62c5"/>
<rect y="46.37" width="100%" height="2.01" fill="#3b61c5"/>
<rect y="47.37" width="100%" height="2.01" fill="#3c59c0"/>
<rect y="48.38" width="100%" height="3.02" fill="#3b62c5"/>
<rect y="50.40" width="100%" height="2.01" fill="#3b63c5"/>
<rect y="51.40" width="100%" height="5.03" fill="#3b61c5"/>
<rect y="55.43" width="100%" height="2.01" fill="#3b64c6"/>
<rect y="56.44" width="100%" height="2.01" fill="#3b67c6"/>
<rect y="57.45" width="100%" height="2.01" fill="#3b5ec4"/>
<rect y="58.46" width="100%" height="2.01" fill="#3b5fc4"/>
<rect y="59.46" width="100%" height="7.05" fill="#3b6ec8"/>
<rect y="65.51" width="100%" height="2.01" fill="#3b8dcd"/>
<rect y="66.52" width="100%" height="2.01" fill="#3b64c6"/>
<rect y="67.52" width="100%" height="2.01" fill="#3b62c5"/>
<rect y="68.53" width="100%" height="2.01" fill="#3c9cc3"/>
<rect y="69.54" width="100%" height="5.03" fill="#3b61c5"/>
<rect y="73.57" width="100%" height="4.02" fill="#3a89cf"/>
<rect y="76.59" width="100%" height="1.01" fill="#3b60c5"/>
</svg>
<rect x="319.60" y="24.20" width="82.08" height="53.40" fill="none" stroke="#9a9a9a" stroke-width="0.45"/>
<svg x="319.60" y="0" width="21.12" height="875">
<rect y="79.30" width="100%" height="13.15" fill="#f5e02c"/>
<rect y="91.45" width="100%" height="5.05" fill="#f4de2d"/>
<rect y="95.50" width="100%" height="2.01" fill="#f5e12b"/>
<rect y="96.51" width="100%" height="4.04" fill="#f4dc2e"/>
<rect y="99.55" width="100%" height="3.03" fill="#f4dd2d"/>
<rect y="101.58" width="100%" height="2.01" fill="#f4de2d"/>
<rect y="102.59" width="100%" height="2.01" fill="#f5e22b"/>
<rect y="103.60" width="100%" height="2.01" fill="#f5df2d"/>
<rect y="104.61" width="100%" height="6.06" fill="#f5e22b"/>
<rect y="109.68" width="100%" height="2.03" fill="#f5e12c"/>
</svg>
<svg x="340.12" y="0" width="21.12" height="875">
<rect y="79.30" width="100%" height="4.04" fill="#3a7ccd"/>
<rect y="82.34" width="100%" height="2.01" fill="#3eaeb8"/>
<rect y="83.35" width="100%" height="4.04" fill="#3a85cf"/>
<rect y="86.39" width="100%" height="2.01" fill="#3a7ccd"/>
<rect y="87.40" width="100%" height="2.01" fill="#3eb3b5"/>
<rect y="88.41" width="100%" height="2.01" fill="#3eaeb7"/>
<rect y="89.42" width="100%" height="2.01" fill="#3eb3b4"/>
<rect y="90.44" width="100%" height="3.03" fill="#45baab"/>
<rect y="92.46" width="100%" height="6.06" fill="#3a75cb"/>
<rect y="97.53" width="100%" height="2.01" fill="#3b93c9"/>
<rect y="98.54" width="100%" height="4.04" fill="#3a88d0"/>
<rect y="101.58" width="100%" height="3.03" fill="#62b88f"/>
<rect y="103.60" width="100%" height="2.01" fill="#3a7fcd"/>
<rect y="104.61" width="100%" height="2.01" fill="#3a75cb"/>
<rect y="105.62" width="100%" height="2.01" fill="#3a7acc"/>
<rect y="106.64" width="100%" height="2.01" fill="#3a80ce"/>
<rect y="107.65" width="100%" height="3.03" fill="#3ca0c0"/>
<rect y="109.68" width="100%" height="2.01" fill="#3fb6b3"/>
<rect y="110.69" width="100%" height="1.01" fill="#3eb1b6"/>
</svg>
<svg x="360.64" y="0" width="21.12" height="875">
<rect y="79.30" width="100%" height="2.01" fill="#3f4bb3"/>
<rect y="80.31" width="100%" height="2.01" fill="#3b6dc8"/>
<rect y="81.33" width="100%" height="3.03" fill="#3a88d0"/>
<rect y="83.35" width="100%" height="2.01" fill="#3a79cc"/>
<rect y="84.36" width="100%" height="3.03" fill="#3a73ca"/>
<rect y="86.39" width="100%" height="2.01" fill="#3a78cb"/>
<rect y="87.40" width="100%" height="2.01" fill="#3b6ec9"/>
<rect y="88.41" width="100%" height="2.01" fill="#3c5ac0"/>
<rect y="89.42" width="100%" height="2.01" fill="#3b6ec9"/>
<rect y="90.44" width="100%" height="5.05" fill="#3a74ca"/>
<rect y="94.49" width="100%" height="2.01" fill="#3c5ac0"/>
<rect y="95.50" width="100%" height="2.01" fill="#3a80ce"/>
<rect y="96.51" width="100%" height="3.03" fill="#3a74ca"/>
<rect y="98.54" width="100%" height="3.03" fill="#3b6ac7"/>
<rect y="100.56" width="100%" height="2.01" fill="#3a79cc"/>
<rect y="101.58" width="100%" height="2.01" fill="#3b73ca"/>
<rect y="102.59" width="100%" height="2.01" fill="#3a81ce"/>
<rect y="103.60" width="100%" height="2.01" fill="#3b70c9"/>
<rect y="104.61" width="100%" height="2.01" fill="#3a74ca"/>
<rect y="105.62" width="100%" height="2.01" fill="#3b6ac7"/>
<rect y="106.64" width="100%" height="2.01" fill="#3a75cb"/>
<rect y="107.65" width="100%" height="2.01" fill="#3a73ca"/>
<rect y="108.66" width="100%" height="3.03" fill="#3b6bc8"/>
<rect y="110.69" width="100%" height="1.01" fill="#3a84cf"/>
</svg>
<svg x="381.16" y="0" width="20.52" height="875">
<rect y="79.30" width="100%" height="2.01" fill="#3a86cf"/>
<rect y="80.31" width="100%" height="2.01" fill="#3a7ecd"/>
<rect y="81.33" width="100%" height="2.01" fill="#3b8ecc"/>
<rect y="82.34" width="100%" height="3.03" fill="#3d57be"/>
<rect y="84.36" width="100%" height="2.01" fill="#3a74ca"/>
<rect y="85.38" width="100%" height="2.01" fill="#3a75cb"/>
<rect y="86.39" width="100%" height="2.01" fill="#3b5fc4"/>
<rect y="87.40" width="100%" height="2.01" fill="#3b6ec9"/>
<rect y="88.41" width="100%" height="2.01" fill="#3b73ca"/>
<rect y="89.42" width="100%" height="2.01" fill="#3b6cc8"/>
<rect y="90.44" width="100%" height="3.03" fill="#3b68c7"/>
<rect y="92.46" width="100%" height="4.04" fill="#3a84cf"/>
<rect y="95.50" width="100%" height="2.01" fill="#3b5fc4"/>
<rect y="96.51" width="100%" height="2.01" fill="#3b6bc8"/>
<rect y="97.53" width="100%" height="2.01" fill="#3c58bf"/>
<rect y="98.54" width="100%" height="5.05" fill="#3b5dc3"/>
<rect y="102.59" width="100%" height="2.01" fill="#3c98c6"/>
<rect y="103.60" width="100%" height="2.01" fill="#3c9cc3"/>
<rect y="104.61" width="100%" height="2.01" fill="#3da2bf"/>
<rect y="105.62" width="100%" height="2.01" fill="#3c5bc2"/>
<rect y="106.64" width="100%" height="3.03" fill="#3e53ba"/>
<rect y="108.66" width="100%" height="2.01" fill="#3e51b8"/>
<rect y="109.68" width="100%" height="2.03" fill="#3a76cb"/>
</svg>
<rect x="319.60" y="79.30" width="82.08" height="32.40" fill="none" stroke="#9a9a9a" stroke-width="0.45"/>
<svg x="319.60" y="0" width="21.12" height="875">
<rect y="113.10" width="100%" height="2.00" fill="#4ab9a6"/>
<rect y="114.10" width="100%" height="2.00" fill="#41baae"/>
<rect y="115.11" width="100%" height="2.00" fill="#3a83ce"/>
<rect y="116.11" width="100%" height="2.00" fill="#3b6bc8"/>
<rect y="117.11" width="100%" height="5.01" fill="#3fb7b2"/>
<rect y="121.12" width="100%" height="3.01" fill="#3eb4b4"/>
<rect y="123.13" width="100%" height="2.00" fill="#3a84cf"/>
<rect y="124.13" width="100%" height="2.00" fill="#3eb3b4"/>
<rect y="125.14" width="100%" height="2.00" fill="#3fb5b3"/>
<rect y="126.14" width="100%" height="2.00" fill="#3b6cc8"/>
<rect y="127.14" width="100%" height="3.01" fill="#4db9a3"/>
<rect y="129.15" width="100%" height="2.00" fill="#3fb9b1"/>
<rect y="130.15" width="100%" height="2.00" fill="#3da7bc"/>
<rect y="131.16" width="100%" height="3.01" fill="#3c98c5"/>
<rect y="133.16" width="100%" height="2.00" fill="#3b5dc3"/>
<rect y="134.17" width="100%" height="2.00" fill="#3eb5b3"/>
<rect y="135.17" width="100%" height="4.01" fill="#46baaa"/>
<rect y="138.18" width="100%" height="2.00" fill="#3b5ec4"/>
<rect y="139.18" width="100%" height="2.00" fill="#3fb8b1"/>
<rect y="140.18" width="100%" height="2.00" fill="#3daaba"/>
<rect y="141.19" width="100%" height="3.01" fill="#40baaf"/>
<rect y="143.19" width="100%" height="2.01" fill="#3fb7b2"/>
</svg>
<svg x="340.12" y="0" width="21.12" height="875">
<rect y="113.10" width="100%" height="2.00" fill="#f4dc2e"/>
<rect y="114.10" width="100%" height="4.01" fill="#f4d930"/>
<rect y="117.11" width="100%" height="2.00" fill="#f4dc2e"/>
<rect y="118.12" width="100%" height="3.01" fill="#f4db2f"/>
<rect y="120.12" width="100%" height="3.01" fill="#f4dc2e"/>
<rect y="122.13" width="100%" height="2.00" fill="#f4de2d"/>
<rect y="123.13" width="100%" height="4.01" fill="#f4da2f"/>
<rect y="126.14" width="100%" height="2.00" fill="#f4d830"/>
<rect y="127.14" width="100%" height="2.00" fill="#f4de2d"/>
<rect y="128.15" width="100%" height="2.00" fill="#f4d631"/>
<rect y="129.15" width="100%" height="2.00" fill="#f5e12c"/>
<rect y="130.15" width="100%" height="3.01" fill="#f4de2d"/>
<rect y="132.16" width="100%" height="2.00" fill="#f4df2d"/>
<rect y="133.16" width="100%" height="5.01" fill="#f4dc2e"/>
<rect y="137.17" width="100%" height="7.02" fill="#f4de2d"/>
<rect y="143.19" width="100%" height="2.01" fill="#f4dd2e"/>
</svg>
<svg x="360.64" y="0" width="21.12" height="875">
<rect y="113.10" width="100%" height="2.00" fill="#3e50b8"/>
<rect y="114.10" width="100%" height="2.00" fill="#3d55bc"/>
<rect y="115.11" width="100%" height="4.01" fill="#3da4be"/>
<rect y="118.12" width="100%" height="2.00" fill="#3b6fc9"/>
<rect y="119.12" width="100%" height="2.00" fill="#3b64c6"/>
<rect y="120.12" width="100%" height="3.01" fill="#3c9bc4"/>
<rect y="122.13" width="100%" height="2.00" fill="#3b6ac7"/>
<rect y="123.13" width="100%" height="3.01" fill="#3d57be"/>
<rect y="125.14" width="100%" height="2.00" fill="#3b61c5"/>
<rect y="126.14" width="100%" height="2.00" fill="#3d56bd"/>
<rect y="127.14" width="100%" height="2.00" fill="#3a78cc"/>
<rect y="128.15" width="100%" height="2.00" fill="#3b5fc4"/>
<rect y="129.15" width="100%" height="2.00" fill="#3b6ec9"/>
<rect y="130.15" width="100%" height="4.01" fill="#3b67c7"/>
<rect y="133.16" width="100%" height="2.00" fill="#3d55bc"/>
<rect y="134.17" width="100%" height="2.00" fill="#3b5ec4"/>
<rect y="135.17" width="100%" height="2.00" fill="#3c99c5"/>
<rect y="136.17" width="100%" height="3.01" fill="#3a7ccd"/>
<rect y="138.18" width="100%" height="2.00" fill="#3c5cc2"/>
<rect y="139.18" width="100%" height="2.00" fill="#3a77cb"/>
<rect y="140.18" width="100%" height="3.01" fill="#3e51b8"/>
<rect y="142.19" width="100%" height="2.00" fill="#3b68c7"/>
<rect y="143.19" width="100%" height="2.01" fill="#3b6cc8"/>
</svg>
<svg x="381.16" y="0" width="20.52" height="875">
<rect y="113.10" width="100%" height="4.01" fill="#3a84cf"/>
<rect y="116.11" width="100%" height="3.01" fill="#3b5cc2"/>
<rect y="118.12" width="100%" height="4.01" fill="#3f4eb5"/>
<rect y="121.12" width="100%" height="2.00" fill="#3a7ccd"/>
<rect y="122.13" width="100%" height="6.02" fill="#3a74ca"/>
<rect y="127.14" width="100%" height="2.00" fill="#3b6fc9"/>
<rect y="128.15" width="100%" height="2.00" fill="#3e50b7"/>
<rect y="129.15" width="100%" height="3.01" fill="#3b6cc8"/>
<rect y="131.16" width="100%" height="2.00" fill="#3a7dcd"/>
<rect y="132.16" width="100%" height="2.00" fill="#3dabba"/>
<rect y="133.16" width="100%" height="3.01" fill="#3b64c6"/>
<rect y="135.17" width="100%" height="4.01" fill="#3b61c5"/>
<rect y="138.18" width="100%" height="5.01" fill="#3a7ccd"/>
<rect y="142.19" width="100%" height="3.01" fill="#3b6ac8"/>
<rect y="144.20" width="100%" height="1.00" fill="#3b64c6"/>
</svg>
<rect x="319.60" y="113.10" width="82.08" height="32.10" fill="none" stroke="#9a9a9a" stroke-width="0.45"/>
<svg x="319.60" y="0" width="21.12" height="875">
<rect y="146.30" width="100%" height="3.95" fill="#3d55bc"/>
<rect y="149.25" width="100%" height="1.98" fill="#3f4db4"/>
<rect y="150.24" width="100%" height="2.97" fill="#3d54bb"/>
<rect y="152.20" width="100%" height="1.98" fill="#3d57be"/>
<rect y="153.19" width="100%" height="1.98" fill="#3f4fb6"/>
<rect y="154.17" width="100%" height="2.97" fill="#3b68c7"/>
<rect y="156.14" width="100%" height="2.97" fill="#3b6dc8"/>
<rect y="158.11" width="100%" height="1.98" fill="#3d55bc"/>
<rect y="159.09" width="100%" height="2.97" fill="#3e52b9"/>
<rect y="161.06" width="100%" height="1.98" fill="#3b67c7"/>
<rect y="162.04" width="100%" height="2.97" fill="#3e52b9"/>
<rect y="164.01" width="100%" height="2.97" fill="#3d57be"/>
<rect y="165.98" width="100%" height="1.98" fill="#3d54bb"/>
<rect y="166.96" width="100%" height="1.98" fill="#3e51b8"/>
<rect y="167.95" width="100%" height="2.97" fill="#3b71c9"/>
<rect y="169.92" width="100%" height="0.98" fill="#3f4fb6"/>
</svg>
<svg x="340.12" y="0" width="21.12" height="875">
<rect y="146.30" width="100%" height="2.97" fill="#3b66c6"/>
<rect y="148.27" width="100%" height="1.98" fill="#3a80ce"/>
<rect y="149.25" width="100%" height="2.97" fill="#3a77cb"/>
<rect y="151.22" width="100%" height="1.98" fill="#3a75ca"/>
<rect y="152.20" width="100%" height="1.98" fill="#3b66c6"/>
<rect y="153.19" width="100%" height="1.98" fill="#3a85cf"/>
<rect y="154.17" width="100%" height="1.98" fill="#3c5ac0"/>
<rect y="155.16" width="100%" height="1.98" fill="#3b6ac8"/>
<rect y="156.14" width="100%" height="3.95" fill="#3b70c9"/>
<rect y="159.09" width="100%" height="1.98" fill="#3b62c5"/>
<rect y="160.08" width="100%" height="2.97" fill="#3a7acc"/>
<rect y="162.04" width="100%" height="1.98" fill="#3b68c7"/>
<rect y="163.03" width="100%" height="2.97" fill="#3a7fcd"/>
<rect y="165.00" width="100%" height="2.97" fill="#3b69c7"/>
<rect y="166.96" width="100%" height="1.98" fill="#3b6ec9"/>
<rect y="167.95" width="100%" height="1.98" fill="#3b6fc9"/>
<rect y="168.93" width="100%" height="1.98" fill="#3b6bc8"/>
<rect y="169.92" width="100%" height="0.98" fill="#3b68c7"/>
</svg>
<svg x="360.64" y="0" width="21.12" height="875">
<rect y="146.30" width="100%" height="2.97" fill="#f2ca36"/>
<rect y="148.27" width="100%" height="1.98" fill="#f2c538"/>
<rect y="149.25" width="100%" height="1.98" fill="#d5ad46"/>
<rect y="150.24" width="100%" height="1.98" fill="#f1c338"/>
<rect y="151.22" width="100%" height="1.98" fill="#bfb04c"/>
<rect y="152.20" width="100%" height="2.97" fill="#c0b04c"/>
<rect y="154.17" width="100%" height="1.98" fill="#efaf3e"/>
<rect y="155.16" width="100%" height="1.98" fill="#f1c238"/>
<rect y="156.14" width="100%" height="1.98" fill="#dcac44"/>
<rect y="157.12" width="100%" height="1.98" fill="#f2c737"/>
<rect y="158.11" width="100%" height="1.98" fill="#f1c139"/>
<rect y="159.09" width="100%" height="1.98" fill="#f0bc3a"/>
<rect y="160.08" width="100%" height="1.98" fill="#f2c538"/>
<rect y="161.06" width="100%" height="1.98" fill="#f0ba3b"/>
<rect y="162.04" width="100%" height="1.98" fill="#f2c538"/>
<rect y="163.03" width="100%" height="2.97" fill="#efb23d"/>
<rect y="165.00" width="100%" height="4.94" fill="#e7ab41"/>
<rect y="168.93" width="100%" height="1.98" fill="#f0b63c"/>
<rect y="169.92" width="100%" height="0.98" fill="#f1bf39"/>
</svg>
<svg x="381.16" y="0" width="20.52" height="875">
<rect y="146.30" width="100%" height="1.98" fill="#f2c438"/>
<rect y="147.28" width="100%" height="1.98" fill="#f1c338"/>
<rect y="148.27" width="100%" height="2.97" fill="#f1bd3a"/>
<rect y="150.24" width="100%" height="2.97" fill="#f1c338"/>
<rect y="152.20" width="100%" height="1.98" fill="#f2c438"/>
<rect y="153.19" width="100%" height="1.98" fill="#f1bd3a"/>
<rect y="154.17" width="100%" height="2.97" fill="#f0bc3a"/>
<rect y="156.14" width="100%" height="1.98" fill="#f3cd36"/>
<rect y="157.12" width="100%" height="2.97" fill="#f2c438"/>
<rect y="159.09" width="100%" height="3.95" fill="#f1c139"/>
<rect y="162.04" width="100%" height="1.98" fill="#f2c438"/>
<rect y="163.03" width="100%" height="1.98" fill="#f2c937"/>
<rect y="164.01" width="100%" height="2.97" fill="#f3cd35"/>
<rect y="165.98" width="100%" height="1.98" fill="#f1c239"/>
<rect y="166.96" width="100%" height="1.98" fill="#f1c338"/>
<rect y="167.95" width="100%" height="1.98" fill="#eeaa3f"/>
<rect y="168.93" width="100%" height="1.98" fill="#deac43"/>
<rect y="169.92" width="100%" height="0.98" fill="#f1bf39"/>
</svg>
<rect x="319.60" y="146.30" width="82.08" height="24.60" fill="none" stroke="#9a9a9a" stroke-width="0.45"/>
<svg x="319.60" y="0" width="21.12" height="875">
<rect y="172.00" width="100%" height="2.01" fill="#3b70c9"/>
<rect y="173.01" width="100%" height="3.03" fill="#3fb6b3"/>
<rect y="175.04" width="100%" height="3.03" fill="#3a81ce"/>
<rect y="177.07" width="100%" height="2.01" fill="#3a78cb"/>
<rect y="178.09" width="100%" height="1.01" fill="#3fb6b3"/>
</svg>
<svg x="340.12" y="0" width="21.12" height="875">
<rect y="172.00" width="100%" height="3.03" fill="#95b55f"/>
<rect y="174.03" width="100%" height="3.03" fill="#9ab45b"/>
<rect y="176.06" width="100%" height="2.01" fill="#3b67c7"/>
<rect y="177.07" width="100%" height="2.03" fill="#80b673"/>
</svg>
<svg x="360.64" y="0" width="21.12" height="875">
<rect y="172.00" width="100%" height="2.01" fill="#f5e22b"/>
<rect y="173.01" width="100%" height="2.01" fill="#f5e12b"/>
<rect y="174.03" width="100%" height="3.03" fill="#f4df2d"/>
<rect y="176.06" width="100%" height="2.01" fill="#f5e22b"/>
<rect y="177.07" width="100%" height="2.03" fill="#f5e02c"/>
</svg>
<svg x="381.16" y="0" width="20.52" height="875">
<rect y="172.00" width="100%" height="2.01" fill="#3a79cc"/>
<rect y="173.01" width="100%" height="3.03" fill="#3a76cb"/>
<rect y="175.04" width="100%" height="2.01" fill="#3a89cf"/>
<rect y="176.06" width="100%" height="2.01" fill="#3fb6b3"/>
<rect y="177.07" width="100%" height="2.01" fill="#3a82ce"/>
<rect y="178.09" width="100%" height="1.01" fill="#3c9ec2"/>
</svg>
<rect x="319.60" y="172.00" width="82.08" height="7.10" fill="none" stroke="#9a9a9a" stroke-width="0.45"/>
<svg x="319.60" y="0" width="21.12" height="875">
<rect y="180.00" width="100%" height="2.05" fill="#85b66e"/>
<rect y="181.05" width="100%" height="2.05" fill="#3eb5b3"/>
<rect y="182.10" width="100%" height="2.05" fill="#3eb1b6"/>
<rect y="183.15" width="100%" height="3.10" fill="#4cb9a3"/>
<rect y="185.25" width="100%" height="2.05" fill="#62b88f"/>
<rect y="186.30" width="100%" height="2.05" fill="#59b898"/>
<rect y="187.35" width="100%" height="1.05" fill="#3a7ecd"/>
</svg>
<svg x="340.12" y="0" width="21.12" height="875">
<rect y="180.00" width="100%" height="2.05" fill="#3a7bcc"/>
<rect y="181.05" width="100%" height="2.05" fill="#3a79cc"/>
<rect y="182.10" width="100%" height="3.10" fill="#3b71c9"/>
<rect y="184.20" width="100%" height="2.05" fill="#3b6cc8"/>
<rect y="185.25" width="100%" height="3.15" fill="#3a76cb"/>
</svg>
<svg x="360.64" y="0" width="21.12" height="875">
<rect y="180.00" width="100%" height="3.10" fill="#3b5cc2"/>
<rect y="182.10" width="100%" height="2.05" fill="#3d58be"/>
<rect y="183.15" width="100%" height="2.05" fill="#3b5ec4"/>
<rect y="184.20" width="100%" height="2.05" fill="#3d57be"/>
<rect y="185.25" width="100%" height="2.05" fill="#3c5bc1"/>
<rect y="186.30" width="100%" height="2.10" fill="#3c58be"/>
</svg>
<svg x="381.16" y="0" width="20.52" height="875">
<rect y="180.00" width="100%" height="3.10" fill="#f5e22b"/>
<rect y="182.10" width="100%" height="2.05" fill="#f5e12c"/>
<rect y="183.15" width="100%" height="3.10" fill="#f5e22b"/>
<rect y="185.25" width="100%" height="3.15" fill="#f5e32b"/>
</svg>
<rect x="319.60" y="180.00" width="82.08" height="8.40" fill="none" stroke="#9a9a9a" stroke-width="0.45"/>
<svg x="423.60" y="0" width="21.12" height="875">
<rect y="24.50" width="100%" height="2.98" fill="#d74523"/>
<rect y="26.48" width="100%" height="1.99" fill="#c63924"/>
<rect y="27.47" width="100%" height="1.99" fill="#c83b24"/>
<rect y="28.47" width="100%" height="1.99" fill="#c33724"/>
<rect y="29.46" width="100%" height="1.99" fill="#d44323"/>
<rect y="30.45" width="100%" height="1.99" fill="#cc3e24"/>
<rect y="31.44" width="100%" height="2.98" fill="#c73924"/>
<rect y="33.42" width="100%" height="1.99" fill="#d34223"/>
<rect y="34.41" width="100%" height="2.98" fill="#dc4922"/>
<rect y="36.40" width="100%" height="2.98" fill="#ca3c24"/>
<rect y="38.38" width="100%" height="1.99" fill="#d84623"/>
<rect y="39.37" width="100%" height="1.99" fill="#ca3c24"/>
<rect y="40.36" width="100%" height="3.97" fill="#c93b24"/>
<rect y="43.34" width="100%" height="1.99" fill="#c43724"/>
<rect y="44.33" width="100%" height="1.99" fill="#bc3225"/>
<rect y="45.32" width="100%" height="1.99" fill="#db4922"/>
<rect y="46.31" width="100%" height="1.99" fill="#be3325"/>
<rect y="47.30" width="100%" height="1.99" fill="#ca3c24"/>
<rect y="48.29" width="100%" height="2.98" fill="#c43824"/>
<rect y="50.28" width="100%" height="4.97" fill="#d84623"/>
<rect y="54.24" width="100%" height="4.97" fill="#bd3225"/>
<rect y="58.21" width="100%" height="0.99" fill="#b92f25"/>
</svg>
<svg x="444.12" y="0" width="21.12" height="875">
<rect y="24.50" width="100%" height="6.95" fill="#dfcfaf"/>
<rect y="30.45" width="100%" height="1.99" fill="#e6cca1"/>
<rect y="31.44" width="100%" height="1.99" fill="#baced3"/>
<rect y="32.43" width="100%" height="1.99" fill="#e7cb9f"/>
<rect y="33.42" width="100%" height="4.97" fill="#e0cead"/>
<rect y="37.39" width="100%" height="1.99" fill="#f0b565"/>
<rect y="38.38" width="100%" height="1.99" fill="#c0cfd0"/>
<rect y="39.37" width="100%" height="1.99" fill="#b8ced5"/>
<rect y="40.36" width="100%" height="1.99" fill="#efc890"/>
<rect y="41.35" width="100%" height="4.97" fill="#e7cb9f"/>
<rect y="45.32" width="100%" height="2.98" fill="#efc891"/>
<rect y="47.30" width="100%" height="1.99" fill="#f0b76a"/>
<rect y="48.29" width="100%" height="1.99" fill="#f0ae55"/>
<rect y="49.29" width="100%" height="1.99" fill="#f0b76a"/>
<rect y="50.28" width="100%" height="1.99" fill="#e2cdaa"/>
<rect y="51.27" width="100%" height="1.99" fill="#e7cba0"/>
<rect y="52.26" width="100%" height="2.98" fill="#efc589"/>
<rect y="54.24" width="100%" height="1.99" fill="#e8cb9d"/>
<rect y="55.23" width="100%" height="1.99" fill="#e6cba1"/>
<rect y="56.23" width="100%" height="1.99" fill="#b2cdd9"/>
<rect y="57.22" width="100%" height="1.99" fill="#e8cb9e"/>
<rect y="58.21" width="100%" height="0.99" fill="#efc890"/>
</svg>
<svg x="464.64" y="0" width="21.12" height="875">
<rect y="24.50" width="100%" height="2.98" fill="#5a9fd8"/>
<rect y="26.48" width="100%" height="1.99" fill="#5a9fd7"/>
<rect y="27.47" width="100%" height="1.99" fill="#5a9fd8"/>
<rect y="28.47" width="100%" height="2.98" fill="#5aa0d8"/>
<rect y="30.45" width="100%" height="2.98" fill="#589cd6"/>
<rect y="32.43" width="100%" height="5.96" fill="#599fd7"/>
<rect y="37.39" width="100%" height="4.97" fill="#5aa0d8"/>
<rect y="41.35" width="100%" height="1.99" fill="#599fd7"/>
<rect y="42.35" width="100%" height="1.99" fill="#599ed7"/>
<rect y="43.34" width="100%" height="1.99" fill="#5aa0d8"/>
<rect y="44.33" width="100%" height="2.98" fill="#599fd7"/>
<rect y="46.31" width="100%" height="3.97" fill="#599ed7"/>
<rect y="49.29" width="100%" height="1.99" fill="#599fd7"/>
<rect y="50.28" width="100%" height="1.99" fill="#579bd5"/>
<rect y="51.27" width="100%" height="1.99" fill="#5a9fd8"/>
<rect y="52.26" width="100%" height="1.99" fill="#599dd6"/>
<rect y="53.25" width="100%" height="1.99" fill="#5aa0d8"/>
<rect y="54.24" width="100%" height="1.99" fill="#589dd6"/>
<rect y="55.23" width="100%" height="1.99" fill="#5aa0d8"/>
<rect y="56.23" width="100%" height="1.99" fill="#5a9fd7"/>
<rect y="57.22" width="100%" height="1.99" fill="#589cd5"/>
<rect y="58.21" width="100%" height="0.99" fill="#599ed7"/>
</svg>
<svg x="485.16" y="0" width="20.52" height="875">
<rect y="24.50" width="100%" height="1.99" fill="#61a4d9"/>
<rect y="25.49" width="100%" height="1.99" fill="#60a3d9"/>
<rect y="26.48" width="100%" height="1.99" fill="#5aa0d8"/>
<rect y="27.47" width="100%" height="1.99" fill="#5ca1d8"/>
<rect y="28.47" width="100%" height="1.99" fill="#5da2d8"/>
<rect y="29.46" width="100%" height="3.97" fill="#5fa3d9"/>
<rect y="32.43" width="100%" height="1.99" fill="#63a5d9"/>
<rect y="33.42" width="100%" height="1.99" fill="#60a3d9"/>
<rect y="34.41" width="100%" height="1.99" fill="#5ba1d8"/>
<rect y="35.41" width="100%" height="2.98" fill="#5ea2d8"/>
<rect y="37.39" width="100%" height="1.99" fill="#5da2d8"/>
<rect y="38.38" width="100%" height="2.98" fill="#5fa3d9"/>
<rect y="40.36" width="100%" height="2.98" fill="#60a3d9"/>
<rect y="42.35" width="100%" height="1.99" fill="#61a4d9"/>
<rect y="43.34" width="100%" height="2.98" fill="#599dd6"/>
<rect y="45.32" width="100%" height="3.97" fill="#63a5d9"/>
<rect y="48.29" width="100%" height="2.98" fill="#5da2d8"/>
<rect y="50.28" width="100%" height="1.99" fill="#5aa0d8"/>
<rect y="51.27" width="100%" height="1.99" fill="#5a9fd8"/>
<rect y="52.26" width="100%" height="2.98" fill="#63a5d9"/>
<rect y="54.24" width="100%" height="1.99" fill="#5ba1d8"/>
<rect y="55.23" width="100%" height="1.99" fill="#5ea2d8"/>
<rect y="56.23" width="100%" height="2.97" fill="#5da2d8"/>
</svg>
<svg x="423.60" y="0" width="21.12" height="875">
<rect y="59.20" width="100%" height="2.02" fill="#88badd"/>
<rect y="60.22" width="100%" height="2.02" fill="#efc890"/>
<rect y="61.23" width="100%" height="5.07" fill="#ebca98"/>
<rect y="65.30" width="100%" height="3.03" fill="#efc68b"/>
<rect y="67.33" width="100%" height="3.03" fill="#eec892"/>
<rect y="69.37" width="100%" height="2.02" fill="#efbe79"/>
<rect y="70.38" width="100%" height="3.03" fill="#efc07e"/>
<rect y="72.42" width="100%" height="2.02" fill="#f0b05b"/>
<rect y="73.43" width="100%" height="2.02" fill="#eaca9a"/>
<rect y="74.45" width="100%" height="4.05" fill="#73aedb"/>
<rect y="77.50" width="100%" height="2.02" fill="#efc58a"/>
<rect y="78.52" width="100%" height="2.02" fill="#87b9dd"/>
<rect y="79.53" width="100%" height="2.02" fill="#efc890"/>
<rect y="80.55" width="100%" height="3.03" fill="#60a3d9"/>
<rect y="82.58" width="100%" height="1.02" fill="#efbf7d"/>
</svg>
<svg x="444.12" y="0" width="21.12" height="875">
<rect y="59.20" width="100%" height="2.02" fill="#de4a22"/>
<rect y="60.22" width="100%" height="3.03" fill="#e15325"/>
<rect y="62.25" width="100%" height="2.02" fill="#e4642c"/>
<rect y="63.27" width="100%" height="4.05" fill="#d14123"/>
<rect y="66.32" width="100%" height="2.02" fill="#d04023"/>
<rect y="67.33" width="100%" height="2.02" fill="#c43824"/>
<rect y="68.35" width="100%" height="4.05" fill="#d54423"/>
<rect y="71.40" width="100%" height="2.02" fill="#e25927"/>
<rect y="72.42" width="100%" height="6.08" fill="#d14123"/>
<rect y="77.50" width="100%" height="2.02" fill="#e87734"/>
<rect y="78.52" width="100%" height="2.02" fill="#d24223"/>
<rect y="79.53" width="100%" height="2.02" fill="#bd3225"/>
<rect y="80.55" width="100%" height="3.03" fill="#df4c22"/>
<rect y="82.58" width="100%" height="1.02" fill="#cb3d24"/>
</svg>
<svg x="464.64" y="0" width="21.12" height="875">
<rect y="59.20" width="100%" height="2.02" fill="#599ed7"/>
<rect y="60.22" width="100%" height="2.02" fill="#5ca1d8"/>
<rect y="61.23" width="100%" height="2.02" fill="#5ba0d8"/>
<rect y="62.25" width="100%" height="2.02" fill="#5495d2"/>
<rect y="63.27" width="100%" height="3.03" fill="#5a9fd8"/>
<rect y="65.30" width="100%" height="3.03" fill="#589dd6"/>
<rect y="67.33" width="100%" height="3.03" fill="#599fd7"/>
<rect y="69.37" width="100%" height="2.02" fill="#5a9fd8"/>
<rect y="70.38" width="100%" height="3.03" fill="#5ca1d8"/>
<rect y="72.42" width="100%" height="3.03" fill="#599ed7"/>
<rect y="74.45" width="100%" height="3.03" fill="#5fa3d8"/>
<rect y="76.48" width="100%" height="3.03" fill="#599ed7"/>
<rect y="78.52" width="100%" height="2.02" fill="#e25526"/>
<rect y="79.53" width="100%" height="4.07" fill="#599ed7"/>
</svg>
<svg x="485.16" y="0" width="20.52" height="875">
<rect y="59.20" width="100%" height="2.02" fill="#599dd6"/>
<rect y="60.22" width="100%" height="2.02" fill="#599ed7"/>
<rect y="61.23" width="100%" height="2.02" fill="#599fd7"/>
<rect y="62.25" width="100%" height="2.02" fill="#5ca1d8"/>
<rect y="63.27" width="100%" height="2.02" fill="#5fa3d8"/>
<rect y="64.28" width="100%" height="2.02" fill="#5aa0d8"/>
<rect y="65.30" width="100%" height="2.02" fill="#5ca1d8"/>
<rect y="66.32" width="100%" height="3.03" fill="#5ba1d8"/>
<rect y="68.35" width="100%" height="3.03" fill="#5aa0d8"/>
<rect y="70.38" width="100%" height="2.02" fill="#599fd7"/>
<rect y="71.40" width="100%" height="3.03" fill="#5aa0d8"/>
<rect y="73.43" width="100%" height="2.02" fill="#d7d2be"/>
<rect y="74.45" width="100%" height="2.02" fill="#60a4d9"/>
<rect y="75.47" width="100%" height="2.02" fill="#599ed7"/>
<rect y="76.48" width="100%" height="2.02" fill="#5aa0d8"/>
<rect y="77.50" width="100%" height="6.08" fill="#5a9fd7"/>
<rect y="82.58" width="100%" height="1.02" fill="#5a9fd8"/>
</svg>
<svg x="423.60" y="0" width="21.12" height="875">
<rect y="84.30" width="100%" height="2.01" fill="#bd3225"/>
<rect y="85.31" width="100%" height="2.01" fill="#ac2626"/>
<rect y="86.33" width="100%" height="2.01" fill="#be3325"/>
<rect y="87.34" width="100%" height="2.01" fill="#c23624"/>
<rect y="88.35" width="100%" height="2.01" fill="#ac2626"/>
<rect y="89.36" width="100%" height="2.01" fill="#be3325"/>
<rect y="90.38" width="100%" height="2.01" fill="#c63924"/>
<rect y="91.39" width="100%" height="2.01" fill="#b82f25"/>
<rect y="92.40" width="100%" height="2.01" fill="#be3325"/>
<rect y="93.41" width="100%" height="2.01" fill="#d84623"/>
<rect y="94.42" width="100%" height="2.01" fill="#c53924"/>
<rect y="95.44" width="100%" height="2.01" fill="#ba3025"/>
<rect y="96.45" width="100%" height="2.01" fill="#c93b24"/>
<rect y="97.46" width="100%" height="2.01" fill="#be3325"/>
<rect y="98.47" width="100%" height="2.01" fill="#d54423"/>
<rect y="99.49" width="100%" height="2.01" fill="#bc3125"/>
<rect y="100.50" width="100%" height="2.01" fill="#cd3e23"/>
<rect y="101.51" width="100%" height="2.01" fill="#d44323"/>
<rect y="102.53" width="100%" height="2.01" fill="#dd4a22"/>
<rect y="103.54" width="100%" height="2.01" fill="#c13524"/>
<rect y="104.55" width="100%" height="2.01" fill="#d04023"/>
<rect y="105.56" width="100%" height="2.01" fill="#d64523"/>
<rect y="106.58" width="100%" height="2.01" fill="#cd3e23"/>
<rect y="107.59" width="100%" height="2.01" fill="#d64423"/>
<rect y="108.60" width="100%" height="2.01" fill="#da4822"/>
<rect y="109.61" width="100%" height="2.01" fill="#d24223"/>
<rect y="110.62" width="100%" height="2.01" fill="#de4b22"/>
<rect y="111.64" width="100%" height="2.01" fill="#cd3e23"/>
<rect y="112.65" width="100%" height="2.01" fill="#bc3125"/>
<rect y="113.66" width="100%" height="2.01" fill="#e77533"/>
<rect y="114.68" width="100%" height="2.01" fill="#de4b22"/>
<rect y="115.69" width="100%" height="1.01" fill="#e25827"/>
</svg>
<svg x="444.12" y="0" width="21.12" height="875">
<rect y="84.30" width="100%" height="2.01" fill="#d9d1bb"/>
<rect y="85.31" width="100%" height="2.01" fill="#ddcfb2"/>
<rect y="86.33" width="100%" height="2.01" fill="#c9d0c9"/>
<rect y="87.34" width="100%" height="2.01" fill="#e4cca5"/>
<rect y="88.35" width="100%" height="2.01" fill="#f0b25f"/>
<rect y="89.36" width="100%" height="4.04" fill="#d8d1bd"/>
<rect y="92.40" width="100%" height="2.01" fill="#dcd0b5"/>
<rect y="93.41" width="100%" height="2.01" fill="#c6d0cb"/>
<rect y="94.42" width="100%" height="2.01" fill="#adcddc"/>
<rect y="95.44" width="100%" height="2.01" fill="#e1cdaa"/>
<rect y="96.45" width="100%" height="4.04" fill="#e4cca5"/>
<rect y="99.49" width="100%" height="2.01" fill="#efc78e"/>
<rect y="100.50" width="100%" height="2.01" fill="#e7cb9f"/>
<rect y="101.51" width="100%" height="2.01" fill="#dbd0b6"/>
<rect y="102.53" width="100%" height="3.03" fill="#c0cfcf"/>
<rect y="104.55" width="100%" height="2.01" fill="#f0b565"/>
<rect y="105.56" width="100%" height="4.04" fill="#f0ad53"/>
<rect y="108.60" width="100%" height="3.03" fill="#c5d0cc"/>
<rect y="110.62" width="100%" height="3.03" fill="#d7d2be"/>
<rect y="112.65" width="100%" height="2.01" fill="#d8d1bc"/>
<rect y="113.66" width="100%" height="2.01" fill="#d2d1c3"/>
<rect y="114.68" width="100%" height="2.01" fill="#c9d0c9"/>
<rect y="115.69" width="100%" height="1.01" fill="#efc488"/>
</svg>
<svg x="464.64" y="0" width="21.12" height="875">
<rect y="84.30" width="100%" height="2.01" fill="#98c3de"/>
<rect y="85.31" width="100%" height="9.10" fill="#599ed7"/>
<rect y="93.41" width="100%" height="2.01" fill="#5a9fd7"/>
<rect y="94.42" width="100%" height="2.01" fill="#91bfde"/>
<rect y="95.44" width="100%" height="2.01" fill="#5ba0d8"/>
<rect y="96.45" width="100%" height="2.01" fill="#599ed7"/>
<rect y="97.46" width="100%" height="2.01" fill="#599fd7"/>
<rect y="98.47" width="100%" height="2.01" fill="#599ed7"/>
<rect y="99.49" width="100%" height="2.01" fill="#599fd7"/>
<rect y="100.50" width="100%" height="3.03" fill="#5ba0d8"/>
<rect y="102.53" width="100%" height="2.01" fill="#adcddc"/>
<rect y="103.54" width="100%" height="3.03" fill="#599ed7"/>
<rect y="105.56" width="100%" height="2.01" fill="#5a9fd8"/>
<rect y="106.58" width="100%" height="2.01" fill="#599ed7"/>
<rect y="107.59" width="100%" height="2.01" fill="#8ebddd"/>
<rect y="108.60" width="100%" height="2.01" fill="#a0c7df"/>
<rect y="109.61" width="100%" height="2.01" fill="#5a9fd7"/>
<rect y="110.62" width="100%" height="6.08" fill="#5aa0d8"/>
</svg>
<svg x="485.16" y="0" width="20.52" height="875">
<rect y="84.30" width="100%" height="2.01" fill="#a3c9df"/>
<rect y="85.31" width="100%" height="2.01" fill="#5aa0d8"/>
<rect y="86.33" width="100%" height="2.01" fill="#5ea2d8"/>
<rect y="87.34" width="100%" height="4.04" fill="#5ca1d8"/>
<rect y="90.38" width="100%" height="5.05" fill="#599ed7"/>
<rect y="94.42" width="100%" height="2.01" fill="#5ea2d8"/>
<rect y="95.44" width="100%" height="3.03" fill="#5ca1d8"/>
<rect y="97.46" width="100%" height="2.01" fill="#c8d0ca"/>
<rect y="98.47" width="100%" height="2.01" fill="#599fd7"/>
<rect y="99.49" width="100%" height="2.01" fill="#5da2d8"/>
<rect y="100.50" width="100%" height="2.01" fill="#5ba1d8"/>
<rect y="101.51" width="100%" height="2.01" fill="#5ea2d8"/>
<rect y="102.53" width="100%" height="4.04" fill="#599fd7"/>
<rect y="105.56" width="100%" height="2.01" fill="#aaccde"/>
<rect y="106.58" width="100%" height="4.04" fill="#5da2d8"/>
<rect y="109.61" width="100%" height="2.01" fill="#5aa0d8"/>
<rect y="110.62" width="100%" height="4.04" fill="#5a9fd7"/>
<rect y="113.66" width="100%" height="2.01" fill="#5ea2d8"/>
<rect y="114.68" width="100%" height="2.01" fill="#5fa3d9"/>
<rect y="115.69" width="100%" height="1.01" fill="#c0cfcf"/>
</svg>
<svg x="423.60" y="0" width="21.12" height="875">
<rect y="117.30" width="100%" height="2.01" fill="#f0b464"/>
<rect y="118.31" width="100%" height="2.01" fill="#4d88c9"/>
<rect y="119.33" width="100%" height="2.01" fill="#e97f37"/>
<rect y="120.34" width="100%" height="2.01" fill="#6caada"/>
<rect y="121.35" width="100%" height="2.01" fill="#9dc6df"/>
<rect y="122.37" width="100%" height="2.01" fill="#dcd0b5"/>
<rect y="123.38" width="100%" height="2.01" fill="#dad1b9"/>
<rect y="124.39" width="100%" height="2.01" fill="#a1c8df"/>
<rect y="125.41" width="100%" height="2.01" fill="#efba71"/>
<rect y="126.42" width="100%" height="2.01" fill="#efc283"/>
<rect y="127.43" width="100%" height="2.01" fill="#efba71"/>
<rect y="128.45" width="100%" height="2.01" fill="#cd3e23"/>
<rect y="129.46" width="100%" height="2.01" fill="#efc589"/>
<rect y="130.47" width="100%" height="2.01" fill="#efc488"/>
<rect y="131.49" width="100%" height="2.01" fill="#efc486"/>
<rect y="132.50" width="100%" height="2.01" fill="#e5cca3"/>
<rect y="133.51" width="100%" height="2.01" fill="#7bb2db"/>
<rect y="134.53" width="100%" height="2.01" fill="#ed9741"/>
<rect y="135.54" width="100%" height="2.01" fill="#dccfb4"/>
<rect y="136.55" width="100%" height="2.01" fill="#e5cca3"/>
<rect y="137.57" width="100%" height="2.01" fill="#e66d2f"/>
<rect y="138.58" width="100%" height="2.01" fill="#d64423"/>
<rect y="139.59" width="100%" height="2.01" fill="#f0ae55"/>
<rect y="140.61" width="100%" height="2.01" fill="#e25526"/>
<rect y="141.62" width="100%" height="2.01" fill="#e4612b"/>
<rect y="142.63" width="100%" height="2.01" fill="#b22b26"/>
<rect y="143.65" width="100%" height="2.01" fill="#eb8d3d"/>
<rect y="144.66" width="100%" height="2.01" fill="#d34223"/>
<rect y="145.67" width="100%" height="2.01" fill="#e5682d"/>
<rect y="146.69" width="100%" height="1.01" fill="#ae2826"/>
</svg>
<svg x="444.12" y="0" width="21.12" height="875">
<rect y="117.30" width="100%" height="2.01" fill="#ac2626"/>
<rect y="118.31" width="100%" height="2.01" fill="#df4c22"/>
<rect y="119.33" width="100%" height="2.01" fill="#b22a26"/>
<rect y="120.34" width="100%" height="2.01" fill="#c33724"/>
<rect y="121.35" width="100%" height="2.01" fill="#ac2626"/>
<rect y="122.37" width="100%" height="2.01" fill="#cb3c24"/>
<rect y="123.38" width="100%" height="2.01" fill="#f0ad53"/>
<rect y="124.39" width="100%" height="2.01" fill="#ee9a42"/>
<rect y="125.41" width="100%" height="2.01" fill="#d74523"/>
<rect y="126.42" width="100%" height="2.01" fill="#f0a848"/>
<rect y="127.43" width="100%" height="2.01" fill="#dd4a22"/>
<rect y="128.45" width="100%" height="2.01" fill="#f0a748"/>
<rect y="129.46" width="100%" height="2.01" fill="#de4b22"/>
<rect y="130.47" width="100%" height="2.01" fill="#cb3c24"/>
<rect y="131.49" width="100%" height="2.01" fill="#f0b667"/>
<rect y="132.50" width="100%" height="2.01" fill="#e67031"/>
<rect y="133.51" width="100%" height="2.01" fill="#e77332"/>
<rect y="134.53" width="100%" height="2.01" fill="#f0ad53"/>
<rect y="135.54" width="100%" height="2.01" fill="#e3cda6"/>
<rect y="136.55" width="100%" height="2.01" fill="#e5672d"/>
<rect y="137.57" width="100%" height="2.01" fill="#becfd0"/>
<rect y="138.58" width="100%" height="2.01" fill="#f0a848"/>
<rect y="139.59" width="100%" height="2.01" fill="#efc385"/>
<rect y="140.61" width="100%" height="2.01" fill="#c8d0ca"/>
<rect y="141.62" width="100%" height="2.01" fill="#eec892"/>
<rect y="142.63" width="100%" height="2.01" fill="#6facda"/>
<rect y="143.65" width="100%" height="2.01" fill="#b6ced6"/>
<rect y="144.66" width="100%" height="2.01" fill="#76b0db"/>
<rect y="145.67" width="100%" height="2.01" fill="#63a5d9"/>
<rect y="146.69" width="100%" height="1.01" fill="#baced3"/>
</svg>
<svg x="464.64" y="0" width="21.12" height="875">
<rect y="117.30" width="100%" height="3.03" fill="#5ea2d8"/>
<rect y="119.33" width="100%" height="2.01" fill="#5a9fd8"/>
<rect y="120.34" width="100%" height="2.01" fill="#5fa3d9"/>
<rect y="121.35" width="100%" height="3.03" fill="#599ed7"/>
<rect y="123.38" width="100%" height="2.01" fill="#7db3dc"/>
<rect y="124.39" width="100%" height="2.01" fill="#599ed7"/>
<rect y="125.41" width="100%" height="5.05" fill="#599dd6"/>
<rect y="129.46" width="100%" height="2.01" fill="#5ba1d8"/>
<rect y="130.47" width="100%" height="2.01" fill="#79b1db"/>
<rect y="131.49" width="100%" height="3.03" fill="#5a9fd8"/>
<rect y="133.51" width="100%" height="4.04" fill="#5aa0d8"/>
<rect y="136.55" width="100%" height="2.01" fill="#5fa3d9"/>
<rect y="137.57" width="100%" height="2.01" fill="#599dd6"/>
<rect y="138.58" width="100%" height="2.01" fill="#5aa0d8"/>
<rect y="139.59" width="100%" height="2.01" fill="#599ed7"/>
<rect y="140.61" width="100%" height="2.01" fill="#599fd7"/>
<rect y="141.62" width="100%" height="4.04" fill="#87badd"/>
<rect y="144.66" width="100%" height="3.04" fill="#5aa0d8"/>
</svg>
<svg x="485.16" y="0" width="20.52" height="875">
<rect y="117.30" width="100%" height="2.01" fill="#5a9fd8"/>
<rect y="118.31" width="100%" height="2.01" fill="#5a9fd7"/>
<rect y="119.33" width="100%" height="3.03" fill="#599fd7"/>
<rect y="121.35" width="100%" height="3.03" fill="#5ca1d8"/>
<rect y="123.38" width="100%" height="4.04" fill="#5ea2d8"/>
<rect y="126.42" width="100%" height="2.01" fill="#60a3d9"/>
<rect y="127.43" width="100%" height="2.01" fill="#5aa0d8"/>
<rect y="128.45" width="100%" height="3.03" fill="#98c3de"/>
<rect y="130.47" width="100%" height="3.03" fill="#b5ced7"/>
<rect y="132.50" width="100%" height="2.01" fill="#5aa0d8"/>
<rect y="133.51" width="100%" height="2.01" fill="#5ca1d8"/>
<rect y="134.53" width="100%" height="4.04" fill="#95c1de"/>
<rect y="137.57" width="100%" height="2.01" fill="#5da1d8"/>
<rect y="138.58" width="100%" height="2.01" fill="#589cd6"/>
<rect y="139.59" width="100%" height="2.01" fill="#5ba0d8"/>
<rect y="140.61" width="100%" height="3.03" fill="#5da2d8"/>
<rect y="142.63" width="100%" height="2.01" fill="#98c3de"/>
<rect y="143.65" width="100%" height="2.01" fill="#599fd7"/>
<rect y="144.66" width="100%" height="2.01" fill="#61a4d9"/>
<rect y="145.67" width="100%" height="2.03" fill="#599fd7"/>
</svg>
<svg x="423.60" y="0" width="21.12" height="875">
<rect y="148.30" width="100%" height="2.88" fill="#589cd6"/>
<rect y="150.18" width="100%" height="1.94" fill="#589dd6"/>
<rect y="151.12" width="100%" height="1.88" fill="#65a6d9"/>
</svg>
<svg x="444.12" y="0" width="21.12" height="875">
<rect y="148.30" width="100%" height="1.94" fill="#62a5d9"/>
<rect y="149.24" width="100%" height="1.94" fill="#5ba1d8"/>
<rect y="150.18" width="100%" height="2.88" fill="#589dd6"/>
<rect y="152.06" width="100%" height="0.94" fill="#68a8d9"/>
</svg>
<svg x="464.64" y="0" width="21.12" height="875">
<rect y="148.30" width="100%" height="4.70" fill="#c53924"/>
</svg>
<svg x="485.16" y="0" width="20.52" height="875">
<rect y="148.30" width="100%" height="4.76" fill="#ced1c6"/>
<rect y="152.06" width="100%" height="0.94" fill="#d8d1bc"/>
</svg>
<svg x="423.60" y="0" width="21.12" height="875">
<rect y="153.00" width="100%" height="2.00" fill="#d7d2bf"/>
<rect y="154.00" width="100%" height="2.00" fill="#d9d1ba"/>
<rect y="155.00" width="100%" height="2.00" fill="#e4cca5"/>
</svg>
<svg x="444.12" y="0" width="21.12" height="875">
<rect y="153.00" width="100%" height="2.00" fill="#e6cca1"/>
<rect y="154.00" width="100%" height="2.00" fill="#ea8439"/>
<rect y="155.00" width="100%" height="2.00" fill="#e8cb9d"/>
<rect y="156.00" width="100%" height="1.00" fill="#e9ca9b"/>
</svg>
<svg x="464.64" y="0" width="21.12" height="875">
<rect y="153.00" width="100%" height="2.00" fill="#8fbedd"/>
<rect y="154.00" width="100%" height="3.00" fill="#7eb4dc"/>
<rect y="156.00" width="100%" height="1.00" fill="#82b6dc"/>
</svg>
<svg x="485.16" y="0" width="20.52" height="875">
<rect y="153.00" width="100%" height="4.00" fill="#6caada"/>
</svg>
<svg x="423.60" y="0" width="21.12" height="875">
<rect y="157.00" width="100%" height="4.00" fill="#ca3c24"/>
<rect y="160.00" width="100%" height="2.00" fill="#c63924"/>
<rect y="161.00" width="100%" height="1.00" fill="#c73924"/>
</svg>
<svg x="444.12" y="0" width="21.12" height="875">
<rect y="157.00" width="100%" height="3.00" fill="#e7cb9f"/>
<rect y="159.00" width="100%" height="2.00" fill="#e0ceae"/>
<rect y="160.00" width="100%" height="2.00" fill="#ecc996"/>
<rect y="161.00" width="100%" height="1.00" fill="#f0b05b"/>
</svg>
<svg x="464.64" y="0" width="21.12" height="875">
<rect y="157.00" width="100%" height="3.00" fill="#63a5d9"/>
<rect y="159.00" width="100%" height="2.00" fill="#579bd5"/>
<rect y="160.00" width="100%" height="2.00" fill="#72adda"/>
<rect y="161.00" width="100%" height="1.00" fill="#61a4d9"/>
</svg>
<svg x="485.16" y="0" width="20.52" height="875">
<rect y="157.00" width="100%" height="4.00" fill="#6facda"/>
<rect y="160.00" width="100%" height="2.00" fill="#77b1db"/>
<rect y="161.00" width="100%" height="1.00" fill="#599fd7"/>
</svg>
<svg x="423.60" y="0" width="21.12" height="875">
<rect y="162.00" width="100%" height="2.00" fill="#6eabda"/>
<rect y="163.00" width="100%" height="3.00" fill="#5190ce"/>
<rect y="165.00" width="100%" height="2.00" fill="#5496d2"/>
<rect y="166.00" width="100%" height="2.00" fill="#5291cf"/>
<rect y="167.00" width="100%" height="2.00" fill="#508ecd"/>
<rect y="168.00" width="100%" height="2.00" fill="#4e89ca"/>
</svg>
<svg x="444.12" y="0" width="21.12" height="875">
<rect y="162.00" width="100%" height="2.00" fill="#b3cdd9"/>
<rect y="163.00" width="100%" height="3.00" fill="#a9ccdf"/>
<rect y="165.00" width="100%" height="2.00" fill="#a5cae0"/>
<rect y="166.00" width="100%" height="2.00" fill="#cbd1c7"/>
<rect y="167.00" width="100%" height="3.00" fill="#d7d1bd"/>
</svg>
<svg x="464.64" y="0" width="21.12" height="875">
<rect y="162.00" width="100%" height="2.00" fill="#c9d0c9"/>
<rect y="163.00" width="100%" height="2.00" fill="#dfceaf"/>
<rect y="164.00" width="100%" height="3.00" fill="#e4cda6"/>
<rect y="166.00" width="100%" height="2.00" fill="#e8cb9d"/>
<rect y="167.00" width="100%" height="2.00" fill="#e2cda8"/>
<rect y="168.00" width="100%" height="2.00" fill="#f0ac52"/>
<rect y="169.00" width="100%" height="1.00" fill="#d4d2c1"/>
</svg>
<svg x="485.16" y="0" width="20.52" height="875">
<rect y="162.00" width="100%" height="2.00" fill="#c23624"/>
<rect y="163.00" width="100%" height="2.00" fill="#d24223"/>
<rect y="164.00" width="100%" height="2.00" fill="#da4822"/>
<rect y="165.00" width="100%" height="3.00" fill="#e04f23"/>
<rect y="167.00" width="100%" height="2.00" fill="#df4b22"/>
<rect y="168.00" width="100%" height="2.00" fill="#d74623"/>
<rect y="169.00" width="100%" height="1.00" fill="#f0a848"/>
</svg>
<svg x="423.60" y="0" width="21.12" height="875">
<rect y="170.00" width="100%" height="3.00" fill="#e15024"/>
<rect y="172.00" width="100%" height="1.00" fill="#d8d1bc"/>
</svg>
<svg x="444.12" y="0" width="21.12" height="875">
<rect y="170.00" width="100%" height="3.00" fill="#e66e30"/>
<rect y="172.00" width="100%" height="1.00" fill="#e66d2f"/>
</svg>
<svg x="464.64" y="0" width="21.12" height="875">
<rect y="170.00" width="100%" height="2.00" fill="#8fbedd"/>
<rect y="171.00" width="100%" height="2.00" fill="#79b1db"/>
</svg>
<svg x="485.16" y="0" width="20.52" height="875">
<rect y="170.00" width="100%" height="2.00" fill="#74afdb"/>
<rect y="171.00" width="100%" height="2.00" fill="#7db4dc"/>
</svg>
<svg x="423.60" y="0" width="21.12" height="875">
<rect y="173.40" width="100%" height="1.97" fill="#f0af58"/>
<rect y="174.38" width="100%" height="1.97" fill="#da4822"/>
<rect y="175.35" width="100%" height="1.97" fill="#f0b76b"/>
<rect y="176.32" width="100%" height="2.95" fill="#d04123"/>
<rect y="178.28" width="100%" height="2.92" fill="#9bc5df"/>
</svg>
<svg x="444.12" y="0" width="21.12" height="875">
<rect y="173.40" width="100%" height="1.97" fill="#efa245"/>
<rect y="174.38" width="100%" height="1.97" fill="#bdcfd1"/>
<rect y="175.35" width="100%" height="1.97" fill="#abccde"/>
<rect y="176.32" width="100%" height="3.92" fill="#c6d0cb"/>
<rect y="179.25" width="100%" height="1.95" fill="#e9ca9c"/>
</svg>
<svg x="464.64" y="0" width="21.12" height="875">
<rect y="173.40" width="100%" height="5.87" fill="#5596d2"/>
<rect y="178.28" width="100%" height="2.92" fill="#518fce"/>
</svg>
<svg x="485.16" y="0" width="20.52" height="875">
<rect y="173.40" width="100%" height="2.95" fill="#eaca99"/>
<rect y="175.35" width="100%" height="1.97" fill="#92bfde"/>
<rect y="176.32" width="100%" height="1.97" fill="#599dd6"/>
<rect y="177.30" width="100%" height="1.97" fill="#e9ca9c"/>
<rect y="178.28" width="100%" height="1.97" fill="#67a7d9"/>
<rect y="179.25" width="100%" height="1.95" fill="#e8cb9e"/>
</svg>
<svg x="423.60" y="0" width="21.12" height="875">
<rect y="181.90" width="100%" height="1.96" fill="#5290cf"/>
<rect y="182.86" width="100%" height="2.91" fill="#e56b2f"/>
<rect y="184.77" width="100%" height="2.91" fill="#4d87c9"/>
<rect y="186.69" width="100%" height="1.91" fill="#4c86c8"/>
</svg>
<svg x="444.12" y="0" width="21.12" height="875">
<rect y="181.90" width="100%" height="1.96" fill="#eaca99"/>
<rect y="182.86" width="100%" height="1.96" fill="#e5672d"/>
<rect y="183.81" width="100%" height="1.96" fill="#cfd1c5"/>
<rect y="184.77" width="100%" height="1.96" fill="#efc890"/>
<rect y="185.73" width="100%" height="2.87" fill="#d34323"/>
</svg>
<svg x="464.64" y="0" width="21.12" height="875">
<rect y="181.90" width="100%" height="4.83" fill="#518fce"/>
<rect y="185.73" width="100%" height="2.91" fill="#5290cf"/>
<rect y="187.64" width="100%" height="0.96" fill="#64a6d9"/>
</svg>
<svg x="485.16" y="0" width="20.52" height="875">
<rect y="181.90" width="100%" height="1.96" fill="#ea883b"/>
<rect y="182.86" width="100%" height="1.96" fill="#5aa0d8"/>
<rect y="183.81" width="100%" height="1.96" fill="#599ed7"/>
<rect y="184.77" width="100%" height="2.91" fill="#5aa0d8"/>
<rect y="186.69" width="100%" height="1.91" fill="#5699d4"/>
</svg>
<rect x="423.60" y="24.50" width="82.08" height="59.10" fill="none" stroke="#8a8a8a" stroke-width="0.45"/>
<rect x="423.60" y="84.30" width="82.08" height="32.40" fill="none" stroke="#8a8a8a" stroke-width="0.45"/>
<rect x="423.60" y="117.30" width="82.08" height="30.40" fill="none" stroke="#8a8a8a" stroke-width="0.45"/>
<rect x="423.60" y="148.30" width="82.08" height="24.70" fill="none" stroke="#8a8a8a" stroke-width="0.45"/>
<rect x="423.60" y="173.40" width="82.08" height="7.80" fill="none" stroke="#8a8a8a" stroke-width="0.45"/>
<rect x="423.60" y="181.90" width="82.08" height="6.70" fill="none" stroke="#8a8a8a" stroke-width="0.45"/>
<text x="412.3" y="42" font-size="6.6" font-weight="bold" text-anchor="middle">K1</text>
<text x="412.3" y="94.3" font-size="6.6" font-weight="bold" text-anchor="middle">K2</text>
<text x="412.3" y="128.9" font-size="6.6" font-weight="bold" text-anchor="middle">K3</text>
<text x="412.3" y="164.2" font-size="6.6" font-weight="bold" text-anchor="middle">K4</text>
<text x="412.3" y="179.4" font-size="6.6" font-weight="bold" text-anchor="middle">K5</text>
<text x="412.3" y="187.8" font-size="6.6" font-weight="bold" text-anchor="middle">K6</text>
<line x1="403" y1="24.3" x2="420.5" y2="24.6" stroke="#222" stroke-width="0.75" stroke-dasharray="2 2.6"/>
<line x1="403" y1="78.4" x2="420.5" y2="83.9" stroke="#222" stroke-width="0.75" stroke-dasharray="2 2.6"/>
<line x1="403" y1="112.4" x2="420.5" y2="117" stroke="#222" stroke-width="0.75" stroke-dasharray="2 2.6"/>
<line x1="403" y1="145.7" x2="420.5" y2="148" stroke="#222" stroke-width="0.75" stroke-dasharray="2 2.6"/>
<line x1="403" y1="171.5" x2="420.5" y2="173.2" stroke="#222" stroke-width="0.75" stroke-dasharray="2 2.6"/>
<line x1="403" y1="179.6" x2="420.5" y2="181.6" stroke="#222" stroke-width="0.75" stroke-dasharray="2 2.6"/>
<line x1="403" y1="188.6" x2="420.5" y2="188.8" stroke="#222" stroke-width="0.75" stroke-dasharray="2 2.6"/>
<text x="330.4" y="201.1" font-size="9.3" text-anchor="middle">C1</text>
<text x="350.9" y="201.1" font-size="9.3" text-anchor="middle">C2</text>
<text x="371.4" y="201.1" font-size="9.3" text-anchor="middle">C1</text>
<text x="391.9" y="201.1" font-size="9.3" text-anchor="middle">C2</text>
<line x1="322.1" y1="203.9" x2="359.8" y2="203.9" stroke="#555" stroke-width="0.9"/>
<line x1="364.1" y1="203.9" x2="401.7" y2="203.9" stroke="#555" stroke-width="0.9"/>
<text x="337.1" y="215.6" font-size="9.3" text-anchor="middle">Tumor cells</text>
<text x="382.7" y="215.6" font-size="9.3" text-anchor="middle">T cells</text>
<text x="434.4" y="201.1" font-size="9.3" text-anchor="middle">C1</text>
<text x="454.9" y="201.1" font-size="9.3" text-anchor="middle">C2</text>
<text x="475.4" y="201.1" font-size="9.3" text-anchor="middle">C1</text>
<text x="495.9" y="201.1" font-size="9.3" text-anchor="middle">C2</text>
<line x1="426.1" y1="203.9" x2="463.8" y2="203.9" stroke="#555" stroke-width="0.9"/>
<line x1="468.1" y1="203.9" x2="505.7" y2="203.9" stroke="#555" stroke-width="0.9"/>
<text x="441.1" y="215.6" font-size="9.3" text-anchor="middle">Tumor cells</text>
<text x="486.7" y="215.6" font-size="9.3" text-anchor="middle">T cells</text>
<text x="358" y="229" font-size="5.8" text-anchor="middle" fill="#333">Gene spatial specificity</text>
<linearGradient id="cbP" x1="0" y1="0" x2="1" y2="0"><stop offset="0" stop-color="#46309a"/><stop offset="0.2" stop-color="#3b5ec4"/><stop offset="0.35" stop-color="#3a88d0"/><stop offset="0.47" stop-color="#3fbab0"/><stop offset="0.57" stop-color="#a0b455"/><stop offset="0.7" stop-color="#eeaa3f"/><stop offset="0.85" stop-color="#f3cf35"/><stop offset="1" stop-color="#f5e42a"/></linearGradient>
<rect x="339" y="231.1" width="36.1" height="5.8" fill="url(#cbP)"/>
<text x="339.3" y="242.3" font-size="6.4" text-anchor="middle" fill="#333">−3</text>
<text x="357.5" y="242.3" font-size="6.4" text-anchor="middle" fill="#333">0</text>
<text x="374.3" y="242.3" font-size="6.4" text-anchor="middle" fill="#333">3</text>
<text x="464.7" y="228.6" font-size="5.8" text-anchor="middle" fill="#333">Enhancer spatial specificity</text>
<linearGradient id="cbR" x1="0" y1="0" x2="1" y2="0"><stop offset="0" stop-color="#3a64b4"/><stop offset="0.3" stop-color="#5aa0d8"/><stop offset="0.42" stop-color="#a8cce0"/><stop offset="0.5" stop-color="#d6d2c0"/><stop offset="0.62" stop-color="#efc890"/><stop offset="0.72" stop-color="#f0a848"/><stop offset="0.85" stop-color="#e04c22"/><stop offset="1" stop-color="#ac2626"/></linearGradient>
<rect x="445.1" y="231" width="34.5" height="5.6" fill="url(#cbR)"/>
<text x="445.8" y="241.1" font-size="6.4" text-anchor="middle" fill="#333">−3</text>
<text x="461.7" y="241.1" font-size="6.4" text-anchor="middle" fill="#333">0</text>
<text x="478" y="241.1" font-size="6.4" text-anchor="middle" fill="#333">3</text>
<text x="514.3" y="10.7" font-size="14" font-weight="bold">d</text>
<text x="599.6" y="7.6" font-size="9.2" font-weight="bold" text-anchor="middle">Gene expression</text>
<line x1="538.6" y1="25.2" x2="538.6" y2="109.4" stroke="#333" stroke-width="0.9"/>
<line x1="538.2" y1="109.3" x2="600.8" y2="109.3" stroke="#333" stroke-width="0.9"/>
<rect x="553.8" y="39" width="13.1" height="66.1" fill="#e6b943"/>
<rect x="580.6" y="39.6" width="13.4" height="65.5" fill="#413c8f"/>
<text x="559.8" y="36.8" font-size="4.6" text-anchor="middle">3741</text>
<text x="587.4" y="37.2" font-size="4.6" text-anchor="middle">3716</text>
<text x="536" y="38.8" font-size="4.6" text-anchor="end" fill="#555">3000</text>
<line x1="537" y1="37.3" x2="538.6" y2="37.3" stroke="#555" stroke-width="0.5"/>
<text x="536" y="61.3" font-size="4.6" text-anchor="end" fill="#555">2000</text>
<line x1="537" y1="59.8" x2="538.6" y2="59.8" stroke="#555" stroke-width="0.5"/>
<text x="536" y="84" font-size="4.6" text-anchor="end" fill="#555">1000</text>
<line x1="537" y1="82.5" x2="538.6" y2="82.5" stroke="#555" stroke-width="0.5"/>
<text x="536" y="106.5" font-size="4.6" text-anchor="end" fill="#555">0</text>
<line x1="537" y1="105" x2="538.6" y2="105" stroke="#555" stroke-width="0.5"/>
<line x1="559.8" y1="109.5" x2="559.8" y2="111" stroke="#555" stroke-width="0.5"/>
<text x="559.8" y="115" font-size="4.6" text-anchor="middle" fill="#555">1</text>
<line x1="587.4" y1="109.5" x2="587.4" y2="111" stroke="#555" stroke-width="0.5"/>
<text x="587.4" y="115" font-size="4.6" text-anchor="middle" fill="#555">2</text>
<text x="573.5" y="120.6" font-size="5.9" text-anchor="middle" fill="#333">Number of compartments</text>
<text x="0" y="0" font-size="5.9" text-anchor="middle" fill="#333" transform="translate(524.4,62) rotate(-90)">Number of genes</text>
<path d="M643.6 27.699999999999996A29.6 29.6 0 0 0 643.6 86.9Z" fill="#e6b943"/>
<path d="M643.6 27.699999999999996A29.6 29.6 0 0 1 643.6 86.9Z" fill="#413c8f"/>
<text x="628.5" y="52.3" font-size="6.9" text-anchor="middle" fill="#fff">3716</text>
<text x="628.5" y="61.5" font-size="6.9" text-anchor="middle" fill="#fff">(49.8%)</text>
<text x="658" y="55" font-size="6.9" text-anchor="middle" fill="#fff">3741</text>
<text x="658" y="64.2" font-size="6.9" text-anchor="middle" fill="#fff">(50.2%)</text>
<rect x="618.5" y="90" width="6.6" height="6.4" fill="#e6b943"/>
<text x="626.6" y="96" font-size="6.9">Two compartments</text>
<rect x="618.5" y="98.5" width="6.6" height="6.4" fill="#413c8f"/>
<text x="626.6" y="104.5" font-size="6.9">One compartment</text>
<text x="514.5" y="136.8" font-size="14" font-weight="bold">e</text>
<text x="599.6" y="136.5" font-size="9.2" font-weight="bold" text-anchor="middle">Enhancer regulation</text>
<line x1="539.2" y1="147.8" x2="539.2" y2="241.2" stroke="#333" stroke-width="0.9"/>
<line x1="538.8" y1="241" x2="594.7" y2="241" stroke="#333" stroke-width="0.9"/>
<rect x="545" y="151.7" width="8.8" height="84.9" fill="#2f6eae"/>
<rect x="563" y="211.5" width="9" height="25.1" fill="#b3412d"/>
<rect x="581" y="231.5" width="9" height="5.1" fill="#3ba582"/>
<text x="549.4" y="150.6" font-size="4.6" text-anchor="middle">5493</text>
<text x="567.5" y="209.8" font-size="4.6" text-anchor="middle">1647</text>
<text x="585.5" y="229.6" font-size="4.6" text-anchor="middle">317</text>
<text x="537" y="176.5" font-size="4.6" text-anchor="end" fill="#555">4000</text>
<line x1="537.7" y1="175" x2="539.2" y2="175" stroke="#555" stroke-width="0.5"/>
<text x="537" y="207.1" font-size="4.6" text-anchor="end" fill="#555">2000</text>
<line x1="537.7" y1="205.6" x2="539.2" y2="205.6" stroke="#555" stroke-width="0.5"/>
<text x="537" y="237.9" font-size="4.6" text-anchor="end" fill="#555">0</text>
<line x1="537.7" y1="236.4" x2="539.2" y2="236.4" stroke="#555" stroke-width="0.5"/>
<line x1="549.4" y1="241.3" x2="549.4" y2="242.7" stroke="#555" stroke-width="0.5"/>
<text x="549.4" y="247" font-size="4.6" text-anchor="middle" fill="#555">1</text>
<line x1="567.5" y1="241.3" x2="567.5" y2="242.7" stroke="#555" stroke-width="0.5"/>
<text x="567.5" y="247" font-size="4.6" text-anchor="middle" fill="#555">2</text>
<line x1="585.5" y1="241.3" x2="585.5" y2="242.7" stroke="#555" stroke-width="0.5"/>
<text x="585.5" y="247" font-size="4.6" text-anchor="middle" fill="#555">3</text>
<text x="559.8" y="253" font-size="5.65" text-anchor="middle" fill="#333">Number of enhancer patterns</text>
<text x="560.4" y="259.3" font-size="5.6" text-anchor="middle" fill="#333">within enhancer clusters</text>
<text x="0" y="0" font-size="5.7" text-anchor="middle" fill="#333" transform="translate(524.8,191) rotate(-90)">Number of enhancer clusters</text>
<circle cx="603.6" cy="180.3" r="30.2" fill="#2f6eae"/>
<path d="M603.6 180.3L603.6 150.10000000000002A30.2 30.2 0 0 0 573.50 182.76Z" fill="#b3412d"/>
<text x="589.6" y="165.3" font-size="6.9" text-anchor="middle" fill="#fff">1964</text>
<text x="589.6" y="173.8" font-size="6.9" text-anchor="middle" fill="#fff">(26.3%)</text>
<text x="612.7" y="185.6" font-size="6.9" text-anchor="middle" fill="#fff">5493</text>
<text x="612.7" y="194.3" font-size="6.9" text-anchor="middle" fill="#fff">(73.7%)</text>
<rect x="607.5" y="212.2" width="6.6" height="6.6" fill="#b3412d"/>
<text x="616.7" y="217.8" font-size="6.9">Divergent regulation</text>
<rect x="607.5" y="220.8" width="6.6" height="6.6" fill="#2f6eae"/>
<text x="616.7" y="226.4" font-size="6.9">Coherent regulation</text>
<text x="-0.2" y="269.7" font-size="14" font-weight="bold">f</text>
<svg x="20.10" y="0" width="21.08" height="875">
<rect y="277.30" width="100%" height="1.99" fill="#ea873a"/>
<rect y="278.29" width="100%" height="2.98" fill="#f0a547"/>
<rect y="280.27" width="100%" height="4.95" fill="#e77533"/>
<rect y="284.22" width="100%" height="2.98" fill="#e97d36"/>
<rect y="286.20" width="100%" height="1.99" fill="#e77433"/>
<rect y="287.19" width="100%" height="1.99" fill="#ec933f"/>
<rect y="288.18" width="100%" height="2.98" fill="#e87d36"/>
<rect y="290.15" width="100%" height="1.99" fill="#ec933f"/>
<rect y="291.14" width="100%" height="2.98" fill="#f0ac50"/>
<rect y="293.12" width="100%" height="1.99" fill="#ea863a"/>
<rect y="294.11" width="100%" height="1.99" fill="#e5692e"/>
<rect y="295.10" width="100%" height="1.99" fill="#e35b28"/>
<rect y="296.08" width="100%" height="1.99" fill="#f0ae56"/>
<rect y="297.07" width="100%" height="1.99" fill="#ea863a"/>
<rect y="298.06" width="100%" height="4.95" fill="#e87a35"/>
<rect y="302.02" width="100%" height="1.99" fill="#e4622b"/>
<rect y="303.00" width="100%" height="1.99" fill="#f0af58"/>
<rect y="303.99" width="100%" height="1.99" fill="#e97e37"/>
<rect y="304.98" width="100%" height="2.98" fill="#e98038"/>
<rect y="306.96" width="100%" height="1.99" fill="#f0ab4e"/>
<rect y="307.95" width="100%" height="1.99" fill="#e77433"/>
<rect y="308.94" width="100%" height="1.99" fill="#efa346"/>
<rect y="309.93" width="100%" height="3.97" fill="#ea873b"/>
<rect y="312.89" width="100%" height="2.98" fill="#e4612b"/>
<rect y="314.87" width="100%" height="2.98" fill="#e97e37"/>
<rect y="316.85" width="100%" height="2.98" fill="#e4642c"/>
<rect y="318.82" width="100%" height="1.99" fill="#e77433"/>
<rect y="319.81" width="100%" height="0.99" fill="#e77533"/>
</svg>
<svg x="40.58" y="0" width="21.08" height="875">
<rect y="277.30" width="100%" height="1.99" fill="#ea8439"/>
<rect y="278.29" width="100%" height="4.95" fill="#ec8f3e"/>
<rect y="282.24" width="100%" height="1.99" fill="#eb8c3c"/>
<rect y="283.23" width="100%" height="2.98" fill="#eb883b"/>
<rect y="285.21" width="100%" height="2.98" fill="#f0ac52"/>
<rect y="287.19" width="100%" height="1.99" fill="#e98038"/>
<rect y="288.18" width="100%" height="1.99" fill="#e5682e"/>
<rect y="289.16" width="100%" height="1.99" fill="#f0ab4f"/>
<rect y="290.15" width="100%" height="1.99" fill="#f0ae56"/>
<rect y="291.14" width="100%" height="1.99" fill="#ea883b"/>
<rect y="292.13" width="100%" height="1.99" fill="#ea863a"/>
<rect y="293.12" width="100%" height="2.98" fill="#eb8d3d"/>
<rect y="295.10" width="100%" height="1.99" fill="#eb8c3c"/>
<rect y="296.08" width="100%" height="3.97" fill="#f0ab4f"/>
<rect y="299.05" width="100%" height="1.99" fill="#f0a848"/>
<rect y="300.04" width="100%" height="3.97" fill="#e35f2a"/>
<rect y="303.00" width="100%" height="1.99" fill="#f0b15d"/>
<rect y="303.99" width="100%" height="2.98" fill="#efa145"/>
<rect y="305.97" width="100%" height="1.99" fill="#e25626"/>
<rect y="306.96" width="100%" height="1.99" fill="#e56b2f"/>
<rect y="307.95" width="100%" height="1.99" fill="#f0b666"/>
<rect y="308.94" width="100%" height="2.98" fill="#eb8d3d"/>
<rect y="310.91" width="100%" height="1.99" fill="#ec933f"/>
<rect y="311.90" width="100%" height="1.99" fill="#ed9841"/>
<rect y="312.89" width="100%" height="1.99" fill="#e5672d"/>
<rect y="313.88" width="100%" height="2.98" fill="#e77332"/>
<rect y="315.86" width="100%" height="1.99" fill="#eb8d3d"/>
<rect y="316.85" width="100%" height="1.99" fill="#e15325"/>
<rect y="317.83" width="100%" height="1.99" fill="#eb8b3c"/>
<rect y="318.82" width="100%" height="1.99" fill="#f0ab4f"/>
<rect y="319.81" width="100%" height="0.99" fill="#f0a547"/>
</svg>
<svg x="61.06" y="0" width="21.08" height="875">
<rect y="277.30" width="100%" height="2.98" fill="#5392d0"/>
<rect y="279.28" width="100%" height="3.97" fill="#5292d0"/>
<rect y="282.24" width="100%" height="2.98" fill="#5495d1"/>
<rect y="284.22" width="100%" height="1.99" fill="#5392d0"/>
<rect y="285.21" width="100%" height="4.95" fill="#5291cf"/>
<rect y="289.16" width="100%" height="3.97" fill="#5392d0"/>
<rect y="292.13" width="100%" height="5.94" fill="#5495d2"/>
<rect y="297.07" width="100%" height="3.97" fill="#5394d1"/>
<rect y="300.04" width="100%" height="4.95" fill="#5393d0"/>
<rect y="303.99" width="100%" height="1.99" fill="#5394d1"/>
<rect y="304.98" width="100%" height="3.97" fill="#5495d2"/>
<rect y="307.95" width="100%" height="2.98" fill="#5394d1"/>
<rect y="309.93" width="100%" height="3.97" fill="#5392d0"/>
<rect y="312.89" width="100%" height="2.98" fill="#5291cf"/>
<rect y="314.87" width="100%" height="2.98" fill="#5393d0"/>
<rect y="316.85" width="100%" height="2.98" fill="#5292cf"/>
<rect y="318.82" width="100%" height="1.98" fill="#5494d1"/>
</svg>
<svg x="81.54" y="0" width="20.48" height="875">
<rect y="277.30" width="100%" height="4.95" fill="#5597d3"/>
<rect y="281.25" width="100%" height="3.97" fill="#5597d2"/>
<rect y="284.22" width="100%" height="1.99" fill="#5699d4"/>
<rect y="285.21" width="100%" height="4.95" fill="#5597d2"/>
<rect y="289.16" width="100%" height="1.99" fill="#5698d3"/>
<rect y="290.15" width="100%" height="2.98" fill="#5596d2"/>
<rect y="292.13" width="100%" height="4.95" fill="#5598d3"/>
<rect y="296.08" width="100%" height="3.97" fill="#5394d1"/>
<rect y="299.05" width="100%" height="5.94" fill="#5597d2"/>
<rect y="303.99" width="100%" height="1.99" fill="#5597d3"/>
<rect y="304.98" width="100%" height="2.98" fill="#5698d3"/>
<rect y="306.96" width="100%" height="1.99" fill="#5495d2"/>
<rect y="307.95" width="100%" height="2.98" fill="#5596d2"/>
<rect y="309.93" width="100%" height="2.98" fill="#5495d2"/>
<rect y="311.90" width="100%" height="2.98" fill="#5494d1"/>
<rect y="313.88" width="100%" height="2.98" fill="#5597d3"/>
<rect y="315.86" width="100%" height="3.97" fill="#5596d2"/>
<rect y="318.82" width="100%" height="1.99" fill="#5698d3"/>
<rect y="319.81" width="100%" height="0.99" fill="#5596d2"/>
</svg>
<rect x="20.10" y="277.30" width="81.92" height="43.50" fill="none" stroke="#8a8a8a" stroke-width="0.5"/>
<svg x="20.10" y="0" width="21.08" height="875">
<rect y="321.70" width="100%" height="2.00" fill="#b12a26"/>
<rect y="322.70" width="100%" height="2.00" fill="#b02926"/>
<rect y="323.71" width="100%" height="2.00" fill="#b22a26"/>
<rect y="324.71" width="100%" height="2.00" fill="#cd3e23"/>
<rect y="325.72" width="100%" height="3.01" fill="#cf3f23"/>
<rect y="327.72" width="100%" height="2.00" fill="#b42c25"/>
<rect y="328.73" width="100%" height="2.00" fill="#c13524"/>
<rect y="329.73" width="100%" height="2.00" fill="#c33724"/>
<rect y="330.74" width="100%" height="3.01" fill="#b82f25"/>
<rect y="332.74" width="100%" height="2.00" fill="#b72e25"/>
<rect y="333.75" width="100%" height="2.00" fill="#de4b22"/>
<rect y="334.75" width="100%" height="3.01" fill="#ce3f23"/>
<rect y="336.76" width="100%" height="4.01" fill="#b92f25"/>
<rect y="339.77" width="100%" height="2.00" fill="#b82f25"/>
<rect y="340.77" width="100%" height="3.01" fill="#be3325"/>
<rect y="342.78" width="100%" height="2.00" fill="#d24223"/>
<rect y="343.79" width="100%" height="2.00" fill="#ac2626"/>
<rect y="344.79" width="100%" height="2.00" fill="#ad2726"/>
<rect y="345.79" width="100%" height="2.00" fill="#b32b25"/>
<rect y="346.80" width="100%" height="4.01" fill="#b92f25"/>
<rect y="349.81" width="100%" height="3.01" fill="#e25827"/>
<rect y="351.82" width="100%" height="2.00" fill="#bf3425"/>
<rect y="352.82" width="100%" height="2.00" fill="#ba3025"/>
<rect y="353.83" width="100%" height="3.01" fill="#b72e25"/>
<rect y="355.83" width="100%" height="5.02" fill="#ba3025"/>
<rect y="359.85" width="100%" height="2.00" fill="#bf3425"/>
<rect y="360.85" width="100%" height="7.02" fill="#bb3125"/>
<rect y="366.88" width="100%" height="2.00" fill="#ba3125"/>
<rect y="367.88" width="100%" height="2.00" fill="#bc3125"/>
<rect y="368.89" width="100%" height="2.00" fill="#b72e25"/>
<rect y="369.89" width="100%" height="2.00" fill="#b42c25"/>
<rect y="370.89" width="100%" height="2.00" fill="#b92f25"/>
<rect y="371.90" width="100%" height="2.00" fill="#c73924"/>
<rect y="372.90" width="100%" height="3.01" fill="#d04023"/>
<rect y="374.91" width="100%" height="2.00" fill="#b02926"/>
<rect y="375.91" width="100%" height="3.01" fill="#ac2626"/>
<rect y="377.92" width="100%" height="2.00" fill="#d04023"/>
<rect y="378.93" width="100%" height="2.00" fill="#b62e25"/>
<rect y="379.93" width="100%" height="4.01" fill="#b52d25"/>
<rect y="382.94" width="100%" height="2.00" fill="#b52c25"/>
<rect y="383.94" width="100%" height="2.00" fill="#b12a26"/>
<rect y="384.95" width="100%" height="2.00" fill="#ac2626"/>
<rect y="385.95" width="100%" height="2.00" fill="#d94723"/>
<rect y="386.96" width="100%" height="2.00" fill="#da4822"/>
<rect y="387.96" width="100%" height="3.01" fill="#cd3e23"/>
<rect y="389.97" width="100%" height="2.00" fill="#bd3225"/>
<rect y="390.97" width="100%" height="3.01" fill="#ad2726"/>
<rect y="392.98" width="100%" height="2.00" fill="#c43724"/>
<rect y="393.98" width="100%" height="3.01" fill="#b72e25"/>
<rect y="395.99" width="100%" height="2.00" fill="#ba3025"/>
<rect y="397.00" width="100%" height="1.00" fill="#bc3225"/>
</svg>
<svg x="40.58" y="0" width="21.08" height="875">
<rect y="321.70" width="100%" height="2.00" fill="#dcd0b4"/>
<rect y="322.70" width="100%" height="2.00" fill="#bdcfd1"/>
<rect y="323.71" width="100%" height="2.00" fill="#e8cb9d"/>
<rect y="324.71" width="100%" height="2.00" fill="#e6cca2"/>
<rect y="325.72" width="100%" height="4.01" fill="#a8cce0"/>
<rect y="328.73" width="100%" height="2.00" fill="#dfceaf"/>
<rect y="329.73" width="100%" height="2.00" fill="#e5cca3"/>
<rect y="330.74" width="100%" height="2.00" fill="#a0c7df"/>
<rect y="331.74" width="100%" height="2.00" fill="#efc07f"/>
<rect y="332.74" width="100%" height="2.00" fill="#e8cb9d"/>
<rect y="333.75" width="100%" height="2.00" fill="#dfceaf"/>
<rect y="334.75" width="100%" height="2.00" fill="#a5cbe0"/>
<rect y="335.76" width="100%" height="2.00" fill="#ecc995"/>
<rect y="336.76" width="100%" height="2.00" fill="#eaca9a"/>
<rect y="337.76" width="100%" height="2.00" fill="#b8ced5"/>
<rect y="338.77" width="100%" height="2.00" fill="#e1ceab"/>
<rect y="339.77" width="100%" height="2.00" fill="#e6cba1"/>
<rect y="340.77" width="100%" height="2.00" fill="#e1ceab"/>
<rect y="341.78" width="100%" height="2.00" fill="#adcddc"/>
<rect y="342.78" width="100%" height="2.00" fill="#a1c8df"/>
<rect y="343.79" width="100%" height="2.00" fill="#e4cca4"/>
<rect y="344.79" width="100%" height="2.00" fill="#e0cead"/>
<rect y="345.79" width="100%" height="2.00" fill="#e1cdaa"/>
<rect y="346.80" width="100%" height="2.00" fill="#efc488"/>
<rect y="347.80" width="100%" height="2.00" fill="#ddcfb2"/>
<rect y="348.81" width="100%" height="2.00" fill="#aaccde"/>
<rect y="349.81" width="100%" height="2.00" fill="#e2cdaa"/>
<rect y="350.81" width="100%" height="2.00" fill="#e0ceac"/>
<rect y="351.82" width="100%" height="2.00" fill="#a7cbe0"/>
<rect y="352.82" width="100%" height="2.00" fill="#efc487"/>
<rect y="353.83" width="100%" height="2.00" fill="#bfcfd0"/>
<rect y="354.83" width="100%" height="2.00" fill="#decfb0"/>
<rect y="355.83" width="100%" height="2.00" fill="#dcd0b4"/>
<rect y="356.84" width="100%" height="2.00" fill="#e4cca5"/>
<rect y="357.84" width="100%" height="2.00" fill="#e7cba0"/>
<rect y="358.85" width="100%" height="2.00" fill="#dad0b8"/>
<rect y="359.85" width="100%" height="2.00" fill="#dcd0b5"/>
<rect y="360.85" width="100%" height="2.00" fill="#a6cbe0"/>
<rect y="361.86" width="100%" height="2.00" fill="#b0cddb"/>
<rect y="362.86" width="100%" height="2.00" fill="#e8cb9e"/>
<rect y="363.87" width="100%" height="2.00" fill="#edc994"/>
<rect y="364.87" width="100%" height="2.00" fill="#decfb1"/>
<rect y="365.87" width="100%" height="3.01" fill="#e8cb9d"/>
<rect y="367.88" width="100%" height="2.00" fill="#eec892"/>
<rect y="368.89" width="100%" height="2.00" fill="#a7cbe0"/>
<rect y="369.89" width="100%" height="2.00" fill="#aecddc"/>
<rect y="370.89" width="100%" height="2.00" fill="#e4cca5"/>
<rect y="371.90" width="100%" height="2.00" fill="#b7ced6"/>
<rect y="372.90" width="100%" height="2.00" fill="#efc283"/>
<rect y="373.91" width="100%" height="2.00" fill="#decfb1"/>
<rect y="374.91" width="100%" height="4.01" fill="#dcd0b5"/>
<rect y="377.92" width="100%" height="3.01" fill="#efc68c"/>
<rect y="379.93" width="100%" height="2.00" fill="#dccfb4"/>
<rect y="380.93" width="100%" height="2.00" fill="#eec892"/>
<rect y="381.94" width="100%" height="3.01" fill="#efc282"/>
<rect y="383.94" width="100%" height="2.00" fill="#b1cdd9"/>
<rect y="384.95" width="100%" height="2.00" fill="#e2cda9"/>
<rect y="385.95" width="100%" height="2.00" fill="#edc994"/>
<rect y="386.96" width="100%" height="2.00" fill="#ebca97"/>
<rect y="387.96" width="100%" height="2.00" fill="#decfb0"/>
<rect y="388.96" width="100%" height="2.00" fill="#adcddc"/>
<rect y="389.97" width="100%" height="2.00" fill="#bbcfd3"/>
<rect y="390.97" width="100%" height="2.00" fill="#ecc996"/>
<rect y="391.98" width="100%" height="3.01" fill="#eaca99"/>
<rect y="393.98" width="100%" height="2.00" fill="#decfb1"/>
<rect y="394.99" width="100%" height="2.00" fill="#b0cddb"/>
<rect y="395.99" width="100%" height="2.00" fill="#ddcfb3"/>
<rect y="397.00" width="100%" height="1.00" fill="#e4cca5"/>
</svg>
<svg x="61.06" y="0" width="21.08" height="875">
<rect y="321.70" width="100%" height="2.00" fill="#599dd6"/>
<rect y="322.70" width="100%" height="2.00" fill="#5da2d8"/>
<rect y="323.71" width="100%" height="2.00" fill="#579ad5"/>
<rect y="324.71" width="100%" height="2.00" fill="#64a6d9"/>
<rect y="325.72" width="100%" height="2.00" fill="#579bd5"/>
<rect y="326.72" width="100%" height="3.01" fill="#5597d2"/>
<rect y="328.73" width="100%" height="2.00" fill="#5699d4"/>
<rect y="329.73" width="100%" height="2.00" fill="#5fa3d8"/>
<rect y="330.74" width="100%" height="2.00" fill="#579ad4"/>
<rect y="331.74" width="100%" height="2.00" fill="#5698d3"/>
<rect y="332.74" width="100%" height="2.00" fill="#579bd5"/>
<rect y="333.75" width="100%" height="2.00" fill="#579ad4"/>
<rect y="334.75" width="100%" height="2.00" fill="#5699d4"/>
<rect y="335.76" width="100%" height="2.00" fill="#589cd6"/>
<rect y="336.76" width="100%" height="2.00" fill="#589bd5"/>
<rect y="337.76" width="100%" height="4.01" fill="#5496d2"/>
<rect y="340.77" width="100%" height="2.00" fill="#589cd6"/>
<rect y="341.78" width="100%" height="2.00" fill="#579bd5"/>
<rect y="342.78" width="100%" height="2.00" fill="#589dd6"/>
<rect y="343.79" width="100%" height="2.00" fill="#579ad4"/>
<rect y="344.79" width="100%" height="3.01" fill="#5699d4"/>
<rect y="346.80" width="100%" height="3.01" fill="#579ad4"/>
<rect y="348.81" width="100%" height="2.00" fill="#579bd5"/>
<rect y="349.81" width="100%" height="2.00" fill="#6facda"/>
<rect y="350.81" width="100%" height="3.01" fill="#5596d2"/>
<rect y="352.82" width="100%" height="3.01" fill="#5ba1d8"/>
<rect y="354.83" width="100%" height="2.00" fill="#589cd6"/>
<rect y="355.83" width="100%" height="2.00" fill="#599dd6"/>
<rect y="356.84" width="100%" height="3.01" fill="#5596d2"/>
<rect y="358.85" width="100%" height="2.00" fill="#579ad5"/>
<rect y="359.85" width="100%" height="3.01" fill="#5fa3d9"/>
<rect y="361.86" width="100%" height="3.01" fill="#579bd5"/>
<rect y="363.87" width="100%" height="2.00" fill="#62a4d9"/>
<rect y="364.87" width="100%" height="3.01" fill="#579ad5"/>
<rect y="366.88" width="100%" height="3.01" fill="#5699d4"/>
<rect y="368.89" width="100%" height="2.00" fill="#589cd6"/>
<rect y="369.89" width="100%" height="2.00" fill="#5ca1d8"/>
<rect y="370.89" width="100%" height="3.01" fill="#5ba1d8"/>
<rect y="372.90" width="100%" height="5.02" fill="#5699d4"/>
<rect y="376.92" width="100%" height="2.00" fill="#589cd6"/>
<rect y="377.92" width="100%" height="2.00" fill="#5597d3"/>
<rect y="378.93" width="100%" height="3.01" fill="#589dd6"/>
<rect y="380.93" width="100%" height="2.00" fill="#69a8d9"/>
<rect y="381.94" width="100%" height="2.00" fill="#589cd6"/>
<rect y="382.94" width="100%" height="2.00" fill="#5698d3"/>
<rect y="383.94" width="100%" height="3.01" fill="#589dd6"/>
<rect y="385.95" width="100%" height="2.00" fill="#5698d3"/>
<rect y="386.96" width="100%" height="2.00" fill="#589cd6"/>
<rect y="387.96" width="100%" height="2.00" fill="#579bd5"/>
<rect y="388.96" width="100%" height="2.00" fill="#60a4d9"/>
<rect y="389.97" width="100%" height="4.01" fill="#5698d3"/>
<rect y="392.98" width="100%" height="2.00" fill="#599dd6"/>
<rect y="393.98" width="100%" height="4.01" fill="#5596d2"/>
<rect y="397.00" width="100%" height="1.00" fill="#579ad4"/>
</svg>
<svg x="81.54" y="0" width="20.48" height="875">
<rect y="321.70" width="100%" height="2.00" fill="#5a9fd8"/>
<rect y="322.70" width="100%" height="2.00" fill="#5fa3d9"/>
<rect y="323.71" width="100%" height="2.00" fill="#5a9fd8"/>
<rect y="324.71" width="100%" height="2.00" fill="#589cd5"/>
<rect y="325.72" width="100%" height="2.00" fill="#599ed7"/>
<rect y="326.72" width="100%" height="2.00" fill="#69a8da"/>
<rect y="327.72" width="100%" height="2.00" fill="#5aa0d8"/>
<rect y="328.73" width="100%" height="2.00" fill="#599fd7"/>
<rect y="329.73" width="100%" height="3.01" fill="#65a6d9"/>
<rect y="331.74" width="100%" height="4.01" fill="#579bd5"/>
<rect y="334.75" width="100%" height="2.00" fill="#67a7d9"/>
<rect y="335.76" width="100%" height="2.00" fill="#5da2d8"/>
<rect y="336.76" width="100%" height="3.01" fill="#599ed7"/>
<rect y="338.77" width="100%" height="3.01" fill="#589dd6"/>
<rect y="340.77" width="100%" height="2.00" fill="#5a9fd8"/>
<rect y="341.78" width="100%" height="3.01" fill="#589dd6"/>
<rect y="343.79" width="100%" height="2.00" fill="#599ed7"/>
<rect y="344.79" width="100%" height="2.00" fill="#63a5d9"/>
<rect y="345.79" width="100%" height="4.01" fill="#5ca1d8"/>
<rect y="348.81" width="100%" height="2.00" fill="#6dabda"/>
<rect y="349.81" width="100%" height="2.00" fill="#599dd6"/>
<rect y="350.81" width="100%" height="2.00" fill="#599ed7"/>
<rect y="351.82" width="100%" height="2.00" fill="#6baada"/>
<rect y="352.82" width="100%" height="2.00" fill="#599fd7"/>
<rect y="353.83" width="100%" height="2.00" fill="#599ed7"/>
<rect y="354.83" width="100%" height="2.00" fill="#5ca1d8"/>
<rect y="355.83" width="100%" height="2.00" fill="#579bd5"/>
<rect y="356.84" width="100%" height="2.00" fill="#589cd6"/>
<rect y="357.84" width="100%" height="2.00" fill="#599dd6"/>
<rect y="358.85" width="100%" height="3.01" fill="#579bd5"/>
<rect y="360.85" width="100%" height="2.00" fill="#589dd6"/>
<rect y="361.86" width="100%" height="2.00" fill="#6dabda"/>
<rect y="362.86" width="100%" height="2.00" fill="#68a8d9"/>
<rect y="363.87" width="100%" height="2.00" fill="#5a9fd8"/>
<rect y="364.87" width="100%" height="2.00" fill="#5aa0d8"/>
<rect y="365.87" width="100%" height="2.00" fill="#61a4d9"/>
<rect y="366.88" width="100%" height="2.00" fill="#6baada"/>
<rect y="367.88" width="100%" height="2.00" fill="#599fd7"/>
<rect y="368.89" width="100%" height="2.00" fill="#6dabda"/>
<rect y="369.89" width="100%" height="2.00" fill="#6aa9da"/>
<rect y="370.89" width="100%" height="2.00" fill="#5a9fd8"/>
<rect y="371.90" width="100%" height="2.00" fill="#599ed7"/>
<rect y="372.90" width="100%" height="2.00" fill="#66a7d9"/>
<rect y="373.91" width="100%" height="2.00" fill="#599ed7"/>
<rect y="374.91" width="100%" height="3.01" fill="#589dd6"/>
<rect y="376.92" width="100%" height="2.00" fill="#579bd5"/>
<rect y="377.92" width="100%" height="2.00" fill="#5a9fd7"/>
<rect y="378.93" width="100%" height="2.00" fill="#599fd7"/>
<rect y="379.93" width="100%" height="2.00" fill="#5ca1d8"/>
<rect y="380.93" width="100%" height="2.00" fill="#5ea2d8"/>
<rect y="381.94" width="100%" height="3.01" fill="#589cd6"/>
<rect y="383.94" width="100%" height="3.01" fill="#6baada"/>
<rect y="385.95" width="100%" height="2.00" fill="#589cd6"/>
<rect y="386.96" width="100%" height="3.01" fill="#599ed7"/>
<rect y="388.96" width="100%" height="2.00" fill="#599fd7"/>
<rect y="389.97" width="100%" height="2.00" fill="#5aa0d8"/>
<rect y="390.97" width="100%" height="2.00" fill="#589cd6"/>
<rect y="391.98" width="100%" height="2.00" fill="#599fd7"/>
<rect y="392.98" width="100%" height="2.00" fill="#589bd5"/>
<rect y="393.98" width="100%" height="3.01" fill="#599fd7"/>
<rect y="395.99" width="100%" height="2.00" fill="#599ed7"/>
<rect y="397.00" width="100%" height="1.00" fill="#6dabda"/>
</svg>
<rect x="20.10" y="321.70" width="81.92" height="76.30" fill="none" stroke="#8a8a8a" stroke-width="0.5"/>
<svg x="20.10" y="0" width="21.08" height="875">
<rect y="399.00" width="100%" height="1.99" fill="#b2cdd9"/>
<rect y="399.99" width="100%" height="1.99" fill="#e6cca1"/>
<rect y="400.99" width="100%" height="1.99" fill="#e0cead"/>
<rect y="401.98" width="100%" height="2.99" fill="#e2cda9"/>
<rect y="403.97" width="100%" height="1.99" fill="#dfceae"/>
<rect y="404.96" width="100%" height="1.99" fill="#e0cead"/>
<rect y="405.95" width="100%" height="1.99" fill="#b1cdda"/>
<rect y="406.94" width="100%" height="1.99" fill="#dfceae"/>
<rect y="407.94" width="100%" height="1.99" fill="#b2cdd9"/>
<rect y="408.93" width="100%" height="1.99" fill="#e2cdaa"/>
<rect y="409.92" width="100%" height="2.99" fill="#dfceae"/>
<rect y="411.91" width="100%" height="1.99" fill="#b6ced6"/>
<rect y="412.90" width="100%" height="1.99" fill="#9ec6df"/>
<rect y="413.90" width="100%" height="1.99" fill="#93c0de"/>
<rect y="414.89" width="100%" height="1.99" fill="#aecddc"/>
<rect y="415.88" width="100%" height="1.99" fill="#bfcfd0"/>
<rect y="416.87" width="100%" height="1.99" fill="#e1ceab"/>
<rect y="417.87" width="100%" height="1.99" fill="#e9cb9c"/>
<rect y="418.86" width="100%" height="1.99" fill="#a1c8df"/>
<rect y="419.85" width="100%" height="1.99" fill="#94c1de"/>
<rect y="420.85" width="100%" height="1.99" fill="#e3cda7"/>
<rect y="421.84" width="100%" height="1.99" fill="#a6cbe0"/>
<rect y="422.83" width="100%" height="1.99" fill="#dfceae"/>
<rect y="423.83" width="100%" height="1.99" fill="#e6cca2"/>
<rect y="424.82" width="100%" height="1.99" fill="#b9ced4"/>
<rect y="425.81" width="100%" height="2.99" fill="#e0ceac"/>
<rect y="427.80" width="100%" height="1.99" fill="#dcd0b5"/>
<rect y="428.79" width="100%" height="1.99" fill="#9dc6df"/>
<rect y="429.78" width="100%" height="1.99" fill="#9fc7df"/>
<rect y="430.78" width="100%" height="1.99" fill="#a5cbe0"/>
<rect y="431.77" width="100%" height="1.99" fill="#e3cda6"/>
<rect y="432.76" width="100%" height="1.99" fill="#9ec6df"/>
<rect y="433.76" width="100%" height="1.99" fill="#9fc7df"/>
<rect y="434.75" width="100%" height="1.99" fill="#b2cdd9"/>
<rect y="435.74" width="100%" height="1.99" fill="#e6cca2"/>
<rect y="436.73" width="100%" height="1.99" fill="#e5cca3"/>
<rect y="437.73" width="100%" height="1.99" fill="#c9d0c9"/>
<rect y="438.72" width="100%" height="2.98" fill="#ebca98"/>
</svg>
<svg x="40.58" y="0" width="21.08" height="875">
<rect y="399.00" width="100%" height="1.99" fill="#b72e25"/>
<rect y="399.99" width="100%" height="2.99" fill="#c23624"/>
<rect y="401.98" width="100%" height="1.99" fill="#b62d25"/>
<rect y="402.97" width="100%" height="1.99" fill="#df4c22"/>
<rect y="403.97" width="100%" height="2.99" fill="#c43724"/>
<rect y="405.95" width="100%" height="2.99" fill="#c93b24"/>
<rect y="407.94" width="100%" height="1.99" fill="#b62e25"/>
<rect y="408.93" width="100%" height="1.99" fill="#be3325"/>
<rect y="409.92" width="100%" height="1.99" fill="#b02926"/>
<rect y="410.92" width="100%" height="1.99" fill="#b93025"/>
<rect y="411.91" width="100%" height="2.99" fill="#c13524"/>
<rect y="413.90" width="100%" height="1.99" fill="#c03524"/>
<rect y="414.89" width="100%" height="4.97" fill="#b82f25"/>
<rect y="418.86" width="100%" height="1.99" fill="#bf3425"/>
<rect y="419.85" width="100%" height="2.99" fill="#d44323"/>
<rect y="421.84" width="100%" height="2.99" fill="#c53824"/>
<rect y="423.83" width="100%" height="2.99" fill="#cd3e23"/>
<rect y="425.81" width="100%" height="1.99" fill="#be3325"/>
<rect y="426.80" width="100%" height="1.99" fill="#c93b24"/>
<rect y="427.80" width="100%" height="1.99" fill="#b62d25"/>
<rect y="428.79" width="100%" height="1.99" fill="#be3325"/>
<rect y="429.78" width="100%" height="1.99" fill="#bd3325"/>
<rect y="430.78" width="100%" height="1.99" fill="#b72e25"/>
<rect y="431.77" width="100%" height="1.99" fill="#b32b25"/>
<rect y="432.76" width="100%" height="1.99" fill="#c03424"/>
<rect y="433.76" width="100%" height="1.99" fill="#be3325"/>
<rect y="434.75" width="100%" height="2.99" fill="#bc3225"/>
<rect y="436.73" width="100%" height="1.99" fill="#cf4023"/>
<rect y="437.73" width="100%" height="1.99" fill="#d74523"/>
<rect y="438.72" width="100%" height="1.99" fill="#c63924"/>
<rect y="439.71" width="100%" height="1.99" fill="#cb3c24"/>
</svg>
<svg x="61.06" y="0" width="21.08" height="875">
<rect y="399.00" width="100%" height="1.99" fill="#5699d4"/>
<rect y="399.99" width="100%" height="1.99" fill="#579ad4"/>
<rect y="400.99" width="100%" height="2.99" fill="#579bd5"/>
<rect y="402.97" width="100%" height="1.99" fill="#599fd7"/>
<rect y="403.97" width="100%" height="1.99" fill="#5698d3"/>
<rect y="404.96" width="100%" height="4.97" fill="#5598d3"/>
<rect y="408.93" width="100%" height="1.99" fill="#5596d2"/>
<rect y="409.92" width="100%" height="1.99" fill="#5ea2d8"/>
<rect y="410.92" width="100%" height="1.99" fill="#5495d2"/>
<rect y="411.91" width="100%" height="1.99" fill="#5699d4"/>
<rect y="412.90" width="100%" height="1.99" fill="#579ad5"/>
<rect y="413.90" width="100%" height="2.99" fill="#5597d2"/>
<rect y="415.88" width="100%" height="6.96" fill="#5597d3"/>
<rect y="421.84" width="100%" height="1.99" fill="#5a9fd8"/>
<rect y="422.83" width="100%" height="1.99" fill="#5ba1d8"/>
<rect y="423.83" width="100%" height="3.98" fill="#5699d4"/>
<rect y="426.80" width="100%" height="1.99" fill="#5698d3"/>
<rect y="427.80" width="100%" height="1.99" fill="#579bd5"/>
<rect y="428.79" width="100%" height="7.95" fill="#5699d4"/>
<rect y="435.74" width="100%" height="3.98" fill="#5496d2"/>
<rect y="438.72" width="100%" height="2.99" fill="#5699d4"/>
<rect y="440.71" width="100%" height="0.99" fill="#599ed7"/>
</svg>
<svg x="81.54" y="0" width="20.48" height="875">
<rect y="399.00" width="100%" height="1.99" fill="#5596d2"/>
<rect y="399.99" width="100%" height="1.99" fill="#579ad4"/>
<rect y="400.99" width="100%" height="1.99" fill="#5698d3"/>
<rect y="401.98" width="100%" height="1.99" fill="#579ad5"/>
<rect y="402.97" width="100%" height="1.99" fill="#579bd5"/>
<rect y="403.97" width="100%" height="3.98" fill="#5699d4"/>
<rect y="406.94" width="100%" height="1.99" fill="#5698d3"/>
<rect y="407.94" width="100%" height="3.98" fill="#579ad5"/>
<rect y="410.92" width="100%" height="4.97" fill="#579ad4"/>
<rect y="414.89" width="100%" height="3.98" fill="#5699d4"/>
<rect y="417.87" width="100%" height="2.99" fill="#5597d3"/>
<rect y="419.85" width="100%" height="1.99" fill="#5698d3"/>
<rect y="420.85" width="100%" height="1.99" fill="#579ad4"/>
<rect y="421.84" width="100%" height="4.97" fill="#5699d4"/>
<rect y="425.81" width="100%" height="2.99" fill="#579ad4"/>
<rect y="427.80" width="100%" height="6.96" fill="#5698d3"/>
<rect y="433.76" width="100%" height="1.99" fill="#5597d2"/>
<rect y="434.75" width="100%" height="2.99" fill="#579bd5"/>
<rect y="436.73" width="100%" height="4.97" fill="#589cd6"/>
</svg>
<rect x="20.10" y="399.00" width="81.92" height="42.70" fill="none" stroke="#8a8a8a" stroke-width="0.5"/>
<text x="11.4" y="296.6" font-size="10.2" font-weight="bold" text-anchor="middle">M1</text>
<text x="11.4" y="342.9" font-size="10.2" font-weight="bold" text-anchor="middle">M2</text>
<text x="11.4" y="422.1" font-size="10.2" font-weight="bold" text-anchor="middle">M3</text>
<text x="30.1" y="453.3" font-size="9.3" text-anchor="middle">C1</text>
<text x="50.6" y="453.3" font-size="9.3" text-anchor="middle">C2</text>
<text x="71.1" y="453.3" font-size="9.3" text-anchor="middle">C1</text>
<text x="91.6" y="453.3" font-size="9.3" text-anchor="middle">C2</text>
<line x1="21.4" y1="456.7" x2="59.6" y2="456.7" stroke="#555" stroke-width="0.9"/>
<line x1="65.2" y1="456.7" x2="101.3" y2="456.7" stroke="#555" stroke-width="0.9"/>
<text x="37.8" y="467.7" font-size="9.3" text-anchor="middle">Tumor cells</text>
<text x="84" y="467.7" font-size="9.3" text-anchor="middle">T cells</text>
<text x="55.9" y="480.4" font-size="6.9" text-anchor="middle" fill="#333">Enhancer spatial specificity</text>
<rect x="35" y="483.4" width="36.8" height="6.1" fill="url(#cbR)"/>
<text x="36.8" y="496.6" font-size="6.8" text-anchor="middle" fill="#333">−2</text>
<text x="52.8" y="496.6" font-size="6.8" text-anchor="middle" fill="#333">0</text>
<text x="70.8" y="496.6" font-size="6.8" text-anchor="middle" fill="#333">2</text>
<text x="112.3" y="269.7" font-size="14" font-weight="bold">g</text>
<rect x="122.40" y="291.70" width="139.00" height="139.50" fill="none" stroke="#2a2a2a" stroke-width="1.1"/>
<text x="185" y="283.5" font-size="9.3" font-weight="bold" text-anchor="middle">M2</text>
<line x1="120.8" y1="425" x2="122.4" y2="425" stroke="#444" stroke-width="0.6"/>
<text x="120.1" y="427" font-size="5.9" text-anchor="end" fill="#444">0</text>
<line x1="120.8" y1="383.9" x2="122.4" y2="383.9" stroke="#444" stroke-width="0.6"/>
<text x="120.1" y="385.9" font-size="5.9" text-anchor="end" fill="#444">4</text>
<line x1="120.8" y1="342.8" x2="122.4" y2="342.8" stroke="#444" stroke-width="0.6"/>
<text x="120.1" y="344.8" font-size="5.9" text-anchor="end" fill="#444">8</text>
<line x1="120.8" y1="301.7" x2="122.4" y2="301.7" stroke="#444" stroke-width="0.6"/>
<text x="120.1" y="303.7" font-size="5.9" text-anchor="end" fill="#444">12</text>
<line x1="128.6" y1="431.2" x2="128.6" y2="432.8" stroke="#444" stroke-width="0.6"/>
<text x="128.6" y="438.7" font-size="5.9" text-anchor="middle" fill="#444">0</text>
<line x1="163.3" y1="431.2" x2="163.3" y2="432.8" stroke="#444" stroke-width="0.6"/>
<text x="163.3" y="438.7" font-size="5.9" text-anchor="middle" fill="#444">250</text>
<line x1="198" y1="431.2" x2="198" y2="432.8" stroke="#444" stroke-width="0.6"/>
<text x="198" y="438.7" font-size="5.9" text-anchor="middle" fill="#444">500</text>
<line x1="232.7" y1="431.2" x2="232.7" y2="432.8" stroke="#444" stroke-width="0.6"/>
<text x="232.7" y="438.7" font-size="5.9" text-anchor="middle" fill="#444">750</text>
<text x="199.3" y="452.3" font-size="9.2" text-anchor="middle" fill="#333">Motif rank</text>
<path d="M129.6 320.2h0M129.6 325.1h0M129.7 330.0h0M129.8 334.8h0M129.8 339.7h0M129.9 340.9h0M130.0 342.1h0M130.1 343.3h0M130.1 344.5h0M130.2 345.7h0M130.3 346.9h0M130.3 347.7h0M130.4 348.5h0M130.5 349.2h0M130.5 350.0h0M130.6 350.8h0M130.7 351.5h0M130.8 352.3h0M130.8 353.1h0M130.9 354.0h0M131.0 354.9h0M131.0 355.8h0M131.1 356.7h0M131.2 357.6h0M131.2 358.5h0M131.3 359.4h0M131.4 360.3h0M131.4 360.8h0M131.5 361.3h0M131.6 361.8h0M131.7 362.3h0M131.7 362.8h0M131.8 363.4h0M131.9 363.9h0M131.9 364.4h0M132.0 364.9h0M132.1 365.4h0M132.1 365.9h0M132.2 366.4h0M132.3 366.9h0M132.3 367.5h0M132.4 368.0h0M132.5 368.5h0M132.6 369.0h0M132.6 369.5h0M132.7 370.0h0M132.8 370.5h0M132.8 371.1h0M132.9 371.6h0M133.0 372.1h0M133.0 372.6h0M133.1 373.1h0M133.2 373.6h0M133.2 374.1h0M133.3 374.7h0M133.4 375.2h0M133.5 375.7h0M133.5 376.2h0M133.6 376.7h0M133.7 377.2h0M133.7 377.6h0M133.8 378.1h0M133.9 378.5h0M133.9 379.0h0M134.0 379.4h0M134.1 379.9h0M134.2 380.4h0M134.2 380.8h0M134.3 381.3h0M134.4 381.7h0M134.4 382.2h0M134.5 382.6h0M134.6 383.1h0M134.6 383.6h0M134.7 384.0h0M134.8 384.5h0M134.8 384.9h0M134.9 385.2h0M135.0 385.5h0M135.1 385.9h0M135.1 386.2h0M135.2 386.5h0M135.3 386.8h0M135.3 387.1h0M135.4 387.4h0M135.5 387.7h0M135.5 388.0h0M135.6 388.3h0M135.7 388.6h0M135.7 388.9h0M135.8 389.2h0M135.9 389.6h0M136.0 389.9h0M136.0 390.2h0M136.1 390.5h0M136.2 390.8h0M136.2 391.1h0M136.3 391.3h0M136.4 391.5h0M136.4 391.7h0M136.5 391.8h0M136.6 392.0h0M136.7 392.2h0M136.7 392.4h0M136.8 392.6h0M136.9 392.8h0M136.9 393.0h0M137.1 393.5h0M137.3 394.1h0M137.6 394.7h0M137.8 395.2h0M138.0 395.8h0M138.2 396.4h0M138.4 396.8h0M138.6 397.2h0M138.8 397.5h0M139.0 397.8h0M139.2 398.1h0M139.4 398.4h0M139.6 398.7h0M139.8 399.0h0M140.1 399.3h0M140.3 399.6h0M140.5 399.9h0M140.7 400.2h0M140.9 400.5h0M141.1 400.9h0M141.3 401.0h0M141.5 401.2h0M141.7 401.4h0M141.9 401.6h0M142.1 401.8h0M142.3 401.9h0M142.5 402.1h0M142.8 402.3h0M143.0 402.5h0M143.2 402.7h0M143.4 402.8h0M143.6 403.0h0M143.8 403.2h0M144.0 403.4h0M144.2 403.6h0M144.4 403.7h0M144.6 403.9h0M144.8 404.1h0M145.0 404.3h0M145.3 404.4h0M145.5 404.6h0M145.7 404.7h0M145.9 404.8h0M146.1 404.9h0M146.3 405.0h0M146.5 405.1h0M146.7 405.3h0M146.9 405.4h0M147.1 405.5h0M147.3 405.6h0M147.5 405.7h0M147.8 405.8h0M148.0 406.0h0M148.2 406.1h0M148.4 406.2h0M148.6 406.3h0M148.8 406.4h0M149.0 406.5h0M149.2 406.6h0M149.4 406.8h0M149.6 406.9h0M149.8 407.0h0M150.0 407.1h0M150.3 407.2h0M150.5 407.3h0M150.7 407.5h0M150.9 407.6h0M151.1 407.6h0M151.3 407.7h0M151.5 407.8h0M151.7 407.9h0M151.9 407.9h0M152.1 408.0h0M152.3 408.1h0M152.5 408.2h0M152.8 408.3h0M153.0 408.3h0M153.2 408.4h0M153.4 408.5h0M153.6 408.6h0M153.8 408.6h0M154.0 408.7h0M154.2 408.8h0M154.4 408.9h0M154.6 408.9h0M154.8 409.0h0M155.0 409.1h0M155.2 409.2h0M155.5 409.3h0M155.7 409.3h0M155.9 409.4h0M156.1 409.5h0M156.3 409.6h0M156.5 409.6h0M156.9 409.8h0M157.3 409.9h0M157.7 410.1h0M158.2 410.3h0M158.6 410.4h0M159.0 410.6h0M159.4 410.7h0M159.8 410.8h0M160.2 410.9h0M160.7 411.0h0M161.1 411.2h0M161.5 411.3h0M161.9 411.4h0M162.3 411.5h0M162.7 411.6h0M163.2 411.7h0M163.6 411.8h0M164.0 412.0h0M164.4 412.1h0M164.8 412.2h0M165.2 412.3h0M165.7 412.4h0M166.1 412.5h0M166.5 412.7h0M166.9 412.8h0M167.3 412.9h0M167.7 413.0h0M168.2 413.1h0M168.6 413.2h0M169.0 413.4h0M169.4 413.5h0M169.8 413.6h0M170.2 413.7h0M170.7 413.8h0M171.1 413.9h0M171.5 414.0h0M171.9 414.1h0M172.3 414.2h0M172.7 414.3h0M173.2 414.5h0M173.6 414.6h0M174.0 414.7h0M174.4 414.8h0M174.8 414.9h0M175.2 415.0h0M175.7 415.1h0M176.1 415.2h0M176.5 415.3h0M176.9 415.4h0M177.3 415.5h0M177.7 415.6h0M178.2 415.7h0M178.6 415.9h0M179.0 416.0h0M179.4 416.1h0M179.8 416.2h0M180.2 416.3h0M180.7 416.4h0M181.1 416.5h0M181.5 416.6h0M181.9 416.7h0M182.3 416.8h0M182.7 416.9h0M183.1 417.0h0M183.6 417.1h0M184.0 417.3h0M184.4 417.3h0M184.8 417.4h0M185.2 417.5h0M185.6 417.6h0M186.1 417.7h0M186.5 417.7h0M186.9 417.8h0M187.3 417.9h0M187.7 418.0h0M188.1 418.0h0M188.6 418.1h0M189.0 418.2h0M189.4 418.3h0M189.8 418.3h0M190.2 418.4h0M190.6 418.5h0M191.1 418.6h0M191.5 418.7h0M191.9 418.7h0M192.3 418.8h0M192.7 418.9h0M193.1 419.0h0M193.6 419.0h0M194.0 419.1h0M194.4 419.2h0M194.8 419.3h0M195.2 419.3h0M195.6 419.4h0M196.1 419.5h0M196.5 419.6h0M196.9 419.7h0M197.3 419.7h0M197.7 419.8h0M198.1 419.9h0M198.6 419.9h0M199.0 420.0h0M199.4 420.1h0M199.8 420.1h0M200.2 420.2h0M200.6 420.3h0M201.1 420.3h0M201.5 420.4h0M201.9 420.4h0M202.3 420.5h0M202.7 420.6h0M203.1 420.6h0M203.6 420.7h0M204.0 420.7h0M204.4 420.8h0M204.8 420.9h0M205.2 420.9h0M205.6 421.0h0M206.1 421.1h0M206.5 421.1h0M206.9 421.2h0M207.3 421.2h0M207.7 421.3h0M208.1 421.4h0M208.5 421.4h0M209.0 421.5h0M209.4 421.5h0M209.8 421.6h0M210.2 421.7h0M210.6 421.7h0M211.0 421.8h0M211.5 421.9h0M211.9 421.9h0M212.3 422.0h0M212.7 422.0h0M213.1 422.1h0M213.5 422.1h0M214.0 422.1h0M214.4 422.2h0M214.8 422.2h0M215.2 422.3h0M215.6 422.3h0M216.0 422.4h0M216.5 422.4h0M216.9 422.5h0M217.3 422.5h0M217.7 422.6h0M218.1 422.6h0M218.5 422.7h0M219.0 422.7h0M219.4 422.7h0M219.8 422.8h0M220.2 422.8h0M220.6 422.9h0M221.0 422.9h0M221.5 423.0h0M221.9 423.0h0M222.3 423.1h0M222.7 423.1h0M223.1 423.2h0M223.5 423.2h0M224.0 423.3h0M224.4 423.3h0M224.8 423.4h0M225.2 423.4h0M225.6 423.4h0M226.0 423.5h0M226.5 423.5h0M226.9 423.5h0M227.3 423.6h0M227.7 423.6h0M228.1 423.6h0M228.5 423.6h0M229.0 423.7h0M229.4 423.7h0M229.8 423.7h0M230.2 423.8h0M230.6 423.8h0M231.0 423.8h0M231.5 423.8h0M231.9 423.9h0M232.3 423.9h0M232.7 423.9h0M233.1 423.9h0M233.5 424.0h0M233.9 424.0h0M234.4 424.0h0M234.8 424.1h0M235.2 424.1h0M235.6 424.1h0M236.0 424.1h0M236.4 424.2h0M236.9 424.2h0M237.3 424.2h0M237.7 424.3h0M238.1 424.3h0M238.5 424.3h0M238.9 424.3h0M239.4 424.4h0M239.8 424.4h0M240.2 424.4h0M240.6 424.4h0M241.0 424.4h0M241.4 424.5h0M241.9 424.5h0M242.3 424.5h0M242.7 424.5h0M243.1 424.5h0M243.5 424.5h0M243.9 424.6h0M244.4 424.6h0M244.8 424.6h0M245.2 424.6h0M245.6 424.6h0M246.0 424.6h0M246.4 424.7h0M246.9 424.7h0M247.3 424.7h0M247.7 424.7h0M248.1 424.7h0M248.5 424.7h0M248.9 424.8h0M249.4 424.8h0M249.8 424.8h0M250.2 424.8h0M250.6 424.8h0M251.0 424.8h0M251.4 424.9h0M251.9 424.9h0M252.3 424.9h0M252.7 424.9h0M253.1 424.9h0M253.5 424.9h0M253.9 425.0h0M254.4 425.0h0M254.8 425.0h0" stroke="#c9574f" stroke-width="2.60" stroke-linecap="round"/>
<path d="M128.6 298.1h0M128.7 301.7h0M128.9 304.3h0M129.0 307.9h0M129.2 310.9h0M129.3 316.1h0M129.4 318.1h0" stroke="#c9574f" stroke-width="2.00" stroke-linecap="round"/>
<line x1="129" y1="299.5" x2="131.7" y2="297.3" stroke="#111" stroke-width="1.0"/>
<line x1="148.6" y1="297.3" x2="153.3" y2="297.3" stroke="#111" stroke-width="1.0"/>
<line x1="129.5" y1="301.5" x2="174.3" y2="308.6" stroke="#111" stroke-width="1.0"/>
<line x1="129.5" y1="303.6" x2="132.3" y2="309.3" stroke="#111" stroke-width="1.0"/>
<line x1="129.5" y1="306" x2="155" y2="320.6" stroke="#111" stroke-width="1.0"/>
<line x1="151.5" y1="311.5" x2="175.5" y2="320" stroke="#111" stroke-width="1.0"/>
<line x1="129.6" y1="307.8" x2="160.3" y2="332.6" stroke="#111" stroke-width="1.0"/>
<line x1="129.6" y1="310.5" x2="160.9" y2="332.6" stroke="#111" stroke-width="1.0"/>
<line x1="129.6" y1="313.4" x2="140" y2="340.5" stroke="#111" stroke-width="1.0"/>
<line x1="130" y1="313.4" x2="144.5" y2="344.4" stroke="#111" stroke-width="1.0"/>
<rect x="131.70" y="293.80" width="16.90" height="7.00" rx="1" fill="#fff" stroke="#222" stroke-width="0.8"/>
<text x="140.1" y="299.1" font-size="5.0" text-anchor="middle" fill="#333">FOSB</text>
<rect x="153.30" y="293.80" width="16.90" height="7.00" rx="1" fill="#fff" stroke="#222" stroke-width="0.8"/>
<text x="161.8" y="299.1" font-size="5.0" text-anchor="middle" fill="#333">SOX9</text>
<rect x="174.30" y="304.90" width="14.00" height="7.50" rx="1" fill="#fff" stroke="#222" stroke-width="0.8"/>
<text x="181.3" y="310.4" font-size="5.0" text-anchor="middle" fill="#333">FOS</text>
<rect x="132.30" y="305.80" width="19.20" height="7.00" rx="1" fill="#fff" stroke="#222" stroke-width="0.8"/>
<text x="141.9" y="311.1" font-size="5.0" text-anchor="middle" fill="#333">FOSL2</text>
<rect x="155.00" y="316.80" width="16.20" height="7.70" rx="1" fill="#fff" stroke="#222" stroke-width="0.8"/>
<text x="163.1" y="322.4" font-size="5.0" text-anchor="middle" fill="#333">NFE2</text>
<rect x="175.50" y="316.50" width="19.80" height="7.00" rx="1" fill="#fff" stroke="#222" stroke-width="0.8"/>
<text x="185.4" y="321.8" font-size="5.0" text-anchor="middle" fill="#333">SOX10</text>
<rect x="124.40" y="328.80" width="35.90" height="7.60" rx="1" fill="#fff" stroke="#222" stroke-width="0.8"/>
<text x="142.4" y="334.4" font-size="5.0" text-anchor="middle" fill="#d9453f">FOSL1+JUND</text>
<rect x="160.90" y="328.80" width="13.40" height="7.60" rx="1" fill="#fff" stroke="#222" stroke-width="0.8"/>
<text x="167.6" y="334.4" font-size="5.0" text-anchor="middle" fill="#d9453f">JUN</text>
<rect x="124.40" y="340.50" width="16.40" height="7.30" rx="1" fill="#fff" stroke="#222" stroke-width="0.8"/>
<text x="132.6" y="345.9" font-size="5.0" text-anchor="middle" fill="#333">JDP2</text>
<rect x="144.50" y="340.80" width="30.60" height="7.20" rx="1" fill="#fff" stroke="#222" stroke-width="0.8"/>
<text x="159.8" y="346.1" font-size="5.0" text-anchor="middle" fill="#d9453f">FOS+JUND</text>
<text x="0" y="0" font-size="7.6" text-anchor="middle" fill="#333" transform="translate(113.8,347.9) rotate(-90)">-log10(p value)</text>
<rect x="281.80" y="290.50" width="133.30" height="137.50" fill="none" stroke="#2a2a2a" stroke-width="1.1"/>
<text x="350.6" y="283.5" font-size="9.3" font-weight="bold" text-anchor="middle">M3</text>
<line x1="280.2" y1="423" x2="281.8" y2="423" stroke="#444" stroke-width="0.6"/>
<text x="279.5" y="425" font-size="5.9" text-anchor="end" fill="#444">0.0</text>
<line x1="280.2" y1="396.7" x2="281.8" y2="396.7" stroke="#444" stroke-width="0.6"/>
<text x="279.5" y="398.7" font-size="5.9" text-anchor="end" fill="#444">2.5</text>
<line x1="280.2" y1="370.4" x2="281.8" y2="370.4" stroke="#444" stroke-width="0.6"/>
<text x="279.5" y="372.4" font-size="5.9" text-anchor="end" fill="#444">5.0</text>
<line x1="280.2" y1="344.1" x2="281.8" y2="344.1" stroke="#444" stroke-width="0.6"/>
<text x="279.5" y="346.1" font-size="5.9" text-anchor="end" fill="#444">7.5</text>
<line x1="280.2" y1="317.8" x2="281.8" y2="317.8" stroke="#444" stroke-width="0.6"/>
<text x="279.5" y="319.8" font-size="5.9" text-anchor="end" fill="#444">10.0</text>
<line x1="280.2" y1="291.5" x2="281.8" y2="291.5" stroke="#444" stroke-width="0.6"/>
<text x="279.5" y="293.5" font-size="5.9" text-anchor="end" fill="#444">12.5</text>
<line x1="287.8" y1="428" x2="287.8" y2="429.6" stroke="#444" stroke-width="0.6"/>
<text x="287.8" y="435.7" font-size="5.9" text-anchor="middle" fill="#444">0</text>
<line x1="321.3" y1="428" x2="321.3" y2="429.6" stroke="#444" stroke-width="0.6"/>
<text x="321.3" y="435.7" font-size="5.9" text-anchor="middle" fill="#444">250</text>
<line x1="354.8" y1="428" x2="354.8" y2="429.6" stroke="#444" stroke-width="0.6"/>
<text x="354.8" y="435.7" font-size="5.9" text-anchor="middle" fill="#444">500</text>
<line x1="388.3" y1="428" x2="388.3" y2="429.6" stroke="#444" stroke-width="0.6"/>
<text x="388.3" y="435.7" font-size="5.9" text-anchor="middle" fill="#444">750</text>
<text x="353" y="449.8" font-size="9.2" text-anchor="middle" fill="#333">Motif rank</text>
<path d="M288.9 355.7h0M288.9 357.2h0M289.0 358.8h0M289.1 360.4h0M289.1 362.0h0M289.2 362.8h0M289.3 363.6h0M289.3 364.4h0M289.4 365.1h0M289.5 365.9h0M289.5 366.7h0M289.6 367.5h0M289.7 368.3h0M289.7 368.8h0M289.8 369.3h0M289.9 369.9h0M289.9 370.4h0M290.0 370.9h0M290.1 371.5h0M290.1 372.0h0M290.2 372.5h0M290.3 372.9h0M290.3 373.3h0M290.4 373.6h0M290.5 374.0h0M290.5 374.4h0M290.6 374.8h0M290.7 375.1h0M290.7 375.5h0M290.8 375.9h0M290.9 376.3h0M290.9 376.6h0M291.0 377.0h0M291.1 377.4h0M291.2 377.8h0M291.2 378.1h0M291.3 378.4h0M291.4 378.7h0M291.4 379.0h0M291.5 379.3h0M291.6 379.6h0M291.6 379.9h0M291.7 380.2h0M291.8 380.5h0M291.8 380.8h0M291.9 381.1h0M292.0 381.4h0M292.0 381.7h0M292.1 382.0h0M292.2 382.2h0M292.2 382.4h0M292.3 382.7h0M292.4 382.9h0M292.4 383.1h0M292.5 383.4h0M292.6 383.6h0M292.6 383.8h0M292.7 384.0h0M292.8 384.3h0M292.8 384.5h0M292.9 384.7h0M293.0 385.0h0M293.0 385.2h0M293.1 385.4h0M293.2 385.7h0M293.2 385.8h0M293.3 386.0h0M293.4 386.1h0M293.4 386.3h0M293.5 386.4h0M293.6 386.6h0M293.6 386.8h0M293.7 386.9h0M293.8 387.1h0M293.8 387.2h0M293.9 387.4h0M294.0 387.5h0M294.0 387.7h0M294.1 387.9h0M294.2 388.0h0M294.2 388.2h0M294.3 388.3h0M294.4 388.5h0M294.4 388.7h0M294.5 388.8h0M294.6 389.0h0M294.6 389.1h0M294.7 389.3h0M294.8 389.4h0M294.8 389.6h0M294.9 389.7h0M295.0 389.9h0M295.0 390.0h0M295.1 390.2h0M295.2 390.3h0M295.2 390.5h0M295.3 390.7h0M295.4 390.8h0M295.4 391.0h0M295.5 391.1h0M295.6 391.3h0M295.6 391.4h0M295.7 391.6h0M295.8 391.7h0M295.8 391.9h0M296.0 392.3h0M296.2 392.9h0M296.4 393.5h0M296.6 394.1h0M296.8 394.7h0M297.0 395.4h0M297.2 396.0h0M297.4 396.6h0M297.6 397.2h0M297.9 397.8h0M298.1 398.4h0M298.3 399.0h0M298.5 399.7h0M298.7 400.0h0M298.9 400.1h0M299.1 400.3h0M299.3 400.4h0M299.5 400.6h0M299.7 400.8h0M299.9 400.9h0M300.1 401.1h0M300.3 401.2h0M300.5 401.4h0M300.7 401.5h0M300.9 401.7h0M301.1 401.9h0M301.3 402.0h0M301.5 402.1h0M301.7 402.2h0M301.9 402.2h0M302.1 402.3h0M302.3 402.4h0M302.5 402.5h0M302.7 402.6h0M302.9 402.6h0M303.1 402.7h0M303.3 402.8h0M303.5 402.9h0M303.7 403.0h0M303.9 403.1h0M304.1 403.1h0M304.3 403.2h0M304.5 403.3h0M304.7 403.4h0M304.9 403.5h0M305.1 403.7h0M305.3 403.8h0M305.5 403.9h0M305.7 404.0h0M305.9 404.1h0M306.1 404.3h0M306.3 404.4h0M306.5 404.5h0M306.7 404.6h0M306.9 404.7h0M307.1 404.9h0M307.3 405.0h0M307.5 405.1h0M307.7 405.2h0M307.9 405.4h0M308.1 405.5h0M308.3 405.6h0M308.5 405.7h0M308.7 405.8h0M308.9 406.0h0M309.1 406.1h0M309.3 406.2h0M309.5 406.3h0M309.7 406.4h0M309.9 406.4h0M310.1 406.5h0M310.3 406.6h0M310.5 406.7h0M310.7 406.7h0M310.9 406.8h0M311.1 406.9h0M311.3 407.0h0M311.5 407.1h0M311.7 407.1h0M311.9 407.2h0M312.1 407.3h0M312.3 407.4h0M312.5 407.5h0M312.7 407.5h0M312.9 407.6h0M313.1 407.7h0M313.3 407.8h0M313.5 407.9h0M313.7 407.9h0M313.9 408.0h0M314.1 408.1h0M314.3 408.2h0M314.5 408.2h0M314.7 408.3h0M315.1 408.5h0M315.5 408.6h0M315.9 408.7h0M316.3 408.9h0M316.7 409.0h0M317.1 409.2h0M317.5 409.3h0M317.9 409.4h0M318.4 409.6h0M318.8 409.7h0M319.2 409.8h0M319.6 410.0h0M320.0 410.1h0M320.4 410.3h0M320.8 410.4h0M321.2 410.5h0M321.6 410.7h0M322.0 410.8h0M322.4 410.9h0M322.8 411.0h0M323.2 411.2h0M323.6 411.3h0M324.0 411.4h0M324.4 411.6h0M324.8 411.7h0M325.2 411.8h0M325.6 411.9h0M326.0 412.1h0M326.4 412.2h0M326.8 412.3h0M327.2 412.4h0M327.6 412.6h0M328.0 412.7h0M328.4 412.8h0M328.8 412.9h0M329.2 413.1h0M329.6 413.2h0M330.0 413.3h0M330.4 413.4h0M330.8 413.6h0M331.2 413.6h0M331.6 413.7h0M332.0 413.8h0M332.4 413.9h0M332.8 414.0h0M333.2 414.0h0M333.6 414.1h0M334.0 414.2h0M334.4 414.3h0M334.8 414.3h0M335.2 414.4h0M335.6 414.5h0M336.0 414.6h0M336.4 414.7h0M336.8 414.7h0M337.2 414.8h0M337.6 414.9h0M338.1 415.0h0M338.5 415.1h0M338.9 415.1h0M339.3 415.2h0M339.7 415.3h0M340.1 415.4h0M340.5 415.5h0M340.9 415.5h0M341.3 415.6h0M341.7 415.7h0M342.1 415.7h0M342.5 415.8h0M342.9 415.9h0M343.3 415.9h0M343.7 416.0h0M344.1 416.1h0M344.5 416.1h0M344.9 416.2h0M345.3 416.2h0M345.7 416.3h0M346.1 416.4h0M346.5 416.4h0M346.9 416.5h0M347.3 416.6h0M347.7 416.6h0M348.1 416.7h0M348.5 416.8h0M348.9 416.8h0M349.3 416.9h0M349.7 416.9h0M350.1 417.0h0M350.5 417.1h0M350.9 417.1h0M351.3 417.2h0M351.7 417.3h0M352.1 417.3h0M352.5 417.4h0M352.9 417.4h0M353.3 417.5h0M353.7 417.6h0M354.1 417.6h0M354.5 417.7h0M354.9 417.8h0M355.3 417.8h0M355.7 417.9h0M356.1 417.9h0M356.5 417.9h0M356.9 418.0h0M357.3 418.0h0M357.7 418.1h0M358.2 418.1h0M358.6 418.2h0M359.0 418.2h0M359.4 418.3h0M359.8 418.3h0M360.2 418.4h0M360.6 418.4h0M361.0 418.5h0M361.4 418.5h0M361.8 418.6h0M362.2 418.6h0M362.6 418.7h0M363.0 418.7h0M363.4 418.7h0M363.8 418.8h0M364.2 418.8h0M364.6 418.9h0M365.0 418.9h0M365.4 419.0h0M365.8 419.0h0M366.2 419.1h0M366.6 419.1h0M367.0 419.2h0M367.4 419.2h0M367.8 419.3h0M368.2 419.3h0M368.6 419.4h0M369.0 419.4h0M369.4 419.4h0M369.8 419.5h0M370.2 419.5h0M370.6 419.5h0M371.0 419.6h0M371.4 419.6h0M371.8 419.6h0M372.2 419.7h0M372.6 419.7h0M373.0 419.7h0M373.4 419.8h0M373.8 419.8h0M374.2 419.9h0M374.6 419.9h0M375.0 419.9h0M375.4 420.0h0M375.8 420.0h0M376.2 420.0h0M376.6 420.1h0M377.0 420.1h0M377.4 420.1h0M377.8 420.2h0M378.2 420.2h0M378.7 420.2h0M379.1 420.3h0M379.5 420.3h0M379.9 420.4h0M380.3 420.4h0M380.7 420.4h0M381.1 420.5h0M381.5 420.5h0M381.9 420.5h0M382.3 420.6h0M382.7 420.6h0M383.1 420.6h0M383.5 420.7h0M383.9 420.7h0M384.3 420.7h0M384.7 420.8h0M385.1 420.8h0M385.5 420.9h0M385.9 420.9h0M386.3 420.9h0M386.7 421.0h0M387.1 421.0h0M387.5 421.0h0M387.9 421.1h0M388.3 421.1h0M388.7 421.1h0M389.1 421.2h0M389.5 421.2h0M389.9 421.2h0M390.3 421.2h0M390.7 421.2h0M391.1 421.3h0M391.5 421.3h0M391.9 421.3h0M392.3 421.3h0M392.7 421.4h0M393.1 421.4h0M393.5 421.4h0M393.9 421.4h0M394.3 421.5h0M394.7 421.5h0M395.1 421.5h0M395.5 421.5h0M395.9 421.6h0M396.3 421.6h0M396.7 421.6h0M397.1 421.6h0M397.5 421.7h0M397.9 421.7h0M398.4 421.7h0M398.8 421.7h0M399.2 421.7h0M399.6 421.8h0M400.0 421.8h0M400.4 421.8h0M400.8 421.8h0M401.2 421.9h0M401.6 421.9h0M402.0 421.9h0M402.4 421.9h0M402.8 422.0h0M403.2 422.0h0M403.6 422.0h0M404.0 422.0h0M404.4 422.1h0M404.8 422.1h0M405.2 422.1h0M405.6 422.1h0M406.0 422.1h0M406.4 422.2h0M406.8 422.2h0M407.2 422.2h0M407.6 422.2h0M408.0 422.3h0M408.4 422.3h0M408.8 422.3h0M409.2 422.3h0M409.6 422.4h0" stroke="#c9574f" stroke-width="2.60" stroke-linecap="round"/>
<path d="M287.8 296.8h0M287.9 314.1h0M288.1 320.4h0M288.2 337.8h0M288.3 343.0h0M288.5 345.2h0M288.6 349.4h0M288.7 352.5h0" stroke="#c9574f" stroke-width="2.00" stroke-linecap="round"/>
<line x1="288.5" y1="314" x2="290.5" y2="308.3" stroke="#111" stroke-width="1.0"/>
<line x1="289" y1="343.5" x2="315.3" y2="322.2" stroke="#111" stroke-width="1.0"/>
<line x1="289" y1="343.5" x2="306.4" y2="333.5" stroke="#111" stroke-width="1.0"/>
<line x1="289" y1="344" x2="297.2" y2="344.7" stroke="#111" stroke-width="1.0"/>
<line x1="289" y1="343.5" x2="291" y2="335" stroke="#111" stroke-width="1.0"/>
<line x1="289" y1="349" x2="303.4" y2="356.3" stroke="#111" stroke-width="1.0"/>
<line x1="295" y1="353" x2="307.6" y2="356.3" stroke="#111" stroke-width="1.0"/>
<rect x="290.50" y="293.50" width="16.10" height="6.70" rx="1" fill="#fff" stroke="#222" stroke-width="0.8"/>
<text x="298.6" y="298.6" font-size="5.0" text-anchor="middle" fill="#333">AP2C</text>
<rect x="290.50" y="305.00" width="17.10" height="6.60" rx="1" fill="#fff" stroke="#222" stroke-width="0.8"/>
<text x="299.1" y="310.1" font-size="5.0" text-anchor="middle" fill="#333">AP2A</text>
<rect x="291.00" y="316.50" width="15.40" height="6.50" rx="1" fill="#fff" stroke="#222" stroke-width="0.8"/>
<text x="298.7" y="321.5" font-size="5.0" text-anchor="middle" fill="#333">NFIC</text>
<rect x="315.30" y="319.00" width="22.10" height="6.50" rx="1" fill="#fff" stroke="#222" stroke-width="0.8"/>
<text x="326.4" y="324" font-size="5.0" text-anchor="middle" fill="#333">TFAP2A</text>
<rect x="286.50" y="328.70" width="15.20" height="6.50" rx="1" fill="#fff" stroke="#222" stroke-width="0.8"/>
<text x="294.1" y="333.7" font-size="5.0" text-anchor="middle" fill="#333">NFIB</text>
<rect x="306.40" y="330.20" width="18.10" height="6.70" rx="1" fill="#fff" stroke="#222" stroke-width="0.8"/>
<text x="315.4" y="335.3" font-size="5.0" text-anchor="middle" fill="#333">ZBT17</text>
<rect x="297.20" y="341.40" width="14.80" height="6.60" rx="1" fill="#fff" stroke="#222" stroke-width="0.8"/>
<text x="304.6" y="346.4" font-size="5.0" text-anchor="middle" fill="#333">NFIA</text>
<rect x="284.30" y="353.00" width="19.10" height="6.70" rx="1" fill="#fff" stroke="#222" stroke-width="0.8"/>
<text x="293.9" y="358.1" font-size="5.0" text-anchor="middle" fill="#333">PRD16</text>
<rect x="307.60" y="353.00" width="15.70" height="6.70" rx="1" fill="#fff" stroke="#222" stroke-width="0.8"/>
<text x="315.5" y="358.1" font-size="5.0" text-anchor="middle" fill="#d9453f">MITF</text>
<rect x="285.50" y="366.00" width="19.90" height="6.40" rx="1" fill="#fff" stroke="#222" stroke-width="0.8"/>
<text x="295.4" y="370.9" font-size="5.0" text-anchor="middle" fill="#333">SOX10</text>
<text x="419.7" y="269.7" font-size="14" font-weight="bold">h</text>
<text x="461.2" y="280.8" font-size="9.3" font-weight="bold" text-anchor="middle">M2</text>
<text x="548.3" y="280.8" font-size="9.3" font-weight="bold" text-anchor="middle">M3</text>
<text x="639.9" y="280.8" font-size="9.3" font-weight="bold" text-anchor="middle">M1</text>
<path d="M463.4 340.6h1m-26.5 -11.5h1m40.7 -4.9h1m12 3.4h1m-24.3 25.1h1m15.6 -10.3h1m-50.6 -12.4h1m-1 9.8h1m-0.4 -5.7h1m46 2.6h1m2.8 -14.7h1m-23.6 11.3h1m3.2 0.2h1m-8.9 18.4h1m-27.9 -30.6h1m41 25.1h1m7 -9h1m-0.3 -0.2h1m2 -21.9h1m-17.1 20.1h1m-38 -15.1h1m11 23.6h1m12.1 -18h1m0.7 25.8h1m8 -12.5h1m-0.9 -5h1m6.9 -0.8h1m-6.9 13.4h1m-0.4 -6.9h1m-32.9 -2.7h1m5.1 2.5h1m36.3 -6.1h1m-16 -8.1h1m-8.7 10.4h1m21.4 12.1h1m-13.4 -0.1h1m-33.8 -17.1h1m8.6 11.8h1m27.2 -5h1m-39.2 -7.4h1m1 0.5h1m-4.3 -5.4h1m26.8 11.9h1m-1.3 1.7h1m-29 -5.3h1m11.4 9h1m-12.6 -14.6h1m33.4 12.1h1m0.2 -5.4h1m-3.1 8.4h1m-38.6 -11.1h1m24.9 -5.3h1m19.3 10h1m4 10h1m-4.2 -9.8h1m-17.7 12.4h1m10.5 3.1h1m-6.9 -1.7h1m-16.2 -5.5h1m5.7 -12.4h1m-24.1 -1.4h1m15.4 17.9h1m-10.4 -14.7h1m8 2.1h1m15.6 2.9h1m-8.2 6.9h1m23.4 -12.6h1m-39.3 4.9h1m14.9 -13.2h1m-4.3 18.3h1m9.3 -25.4h1m-30.7 9.3h1m30.1 14.4h1m13.6 -20h1m-7.6 7.6h1m-45 4.6h1m8.8 2.1h1m-5.6 -5.2h1m-1.9 -5.7h1m37.4 10.2h1m2 -8.3h1m-14.7 15.4h1m-15.4 3.3h1m-5.7 -6.1h1m35.3 -9.4h1m-17.8 15.5h1m13.7 -15.5h1m-31.6 18.1h1m-7.4 -12.2h1m32.2 3.4h1m-0.2 -1.1h1m-13.6 -3.6h1m-8.7 16.1h1m-24.2 -20.1h1m32.3 13.3h1m-39.3 1.8h1m53.2 -23.9h1m-3.6 15.4h1m-1.1 7.5h1m-7.3 -12.1h1m-10.6 -1.2h1m12 3.9h1m-1.6 10.7h1m-1.4 -6.1h1m-42.9 -4.8h1m24.6 -2.9h1m12.6 2.2h1m-2 -3.4h1m3.6 12.2h1m-17.6 -6h1m-9.5 8.1h1m-1.3 1.5h1m-15.4 -27.7h1m22.6 9.8h1m14.3 -9.7h1m-17.3 9.3h1m6.6 15.8h1m-23.4 0h1m13.2 -8.9h1m6.2 0.2h1m-13.9 -0.2h1m16.9 8.9h1m-2.6 -6.7h1m-5.7 6h1m1 -15.9h1m-20.5 2h1m31 8.6h1m-15.6 15h1m-0.8 -11.7h1m6.6 -19.4h1m-24.9 14.1h1m17.3 4.7h1m1 -6.5h1m-10.3 -1.9h1m-27.6 6.5h1m29.3 0.3h1m-32.7 -4h1m1.3 -0.2h1m-7.6 -5.8h1m45.4 16.4h1m-4.2 -2.9h1m-17.9 3.7h1m10 -5h1m-9.2 -10.9h1m12.4 15.7h1m-41.2 -20.9h1m2.4 -0.3h1m40.5 20.1h1m-38 -13.9h1m24.9 2.4h1m-14.4 14.1h1m-22.3 -16.4h1m46.7 -4.1h1m-35 5.3h1m15.2 0.5h1m-26.8 5.7h1m-4.2 -7.2h1m34.1 20h1m-7.1 -24.1h1m-8.5 -18.1h1m17.1 0.5h1m-34.7 3.1h1m50.4 -2.9h1m-6.8 5.5h1m-40.3 -16.8h1m1.7 -2.9h1m-18.9 12.4h1m61.1 1.9h1m-26.4 -1.9h1m21.4 8.1h1m-34.1 -9.3h1m-3.7 -7.1h1m-12.3 18.2h1m16.8 -16.6h1m-1.6 -8.8h1m29.7 5.6h1m-25.9 9.4h1m-9.6 1.8h1m1.2 -3.5h1m-4.1 -5.7h1m-5.4 3h1m15.2 -4.6h1m-16.5 -3.8h1m-4.7 3.6h1m-7.3 19.2h1m10.4 -4.8h1m13.7 1.5h1m19.2 -2.7h1m-57.6 4.2h1m52 0.1h1m-29.6 -15.9h1m-3.1 7.2h1m24.2 -3.4h1m-6.1 4.4h1m6.2 -1.3h1m-22.3 13.5h1m14.9 -21.1h1m14.3 10.9h1m-36.4 8.3h1m-3.3 -14.8h1m-1.7 3.3h1m28.2 1.7h1m-14.5 -8.8h1m-17.4 -2.7h1m18.9 5.5h1m-34.7 -3.1h1m48.5 10.7h1m-46.9 -13.6h1m44.3 -0.2h1m-25.9 19.6h1m1.8 -14.1h1m8.8 8.9h1m9.1 -6.7h1m4.4 3.2h1m-39.7 -5.5h1m25.2 -5h1m-27.1 1.7h1m-18.3 14.9h1m16.1 -19.7h1m-16.6 24.3h1m13.8 -25h1m20.1 15.2h1m-8.6 5.4h1m25.2 -0.6h1m-45.2 -17.4h1m33.2 7.2h1m-13.5 -9h1m-6.4 15.9h1m20.6 4.8h1m-3.3 -21.4h1m-28.5 5.1h1m-0.7 12.3h1m14.2 -4.1h1m-6.8 -9.1h1m-24.1 -0.7h1m48.7 15.8h1m-14 -3.9h1m7.2 -7.1h1m-42.9 -1.5h1m-0.8 13.2h1m18.4 -12.9h1m3 3.2h1m1.7 -6.1h1m-29.9 17.3h1m37.7 -2.2h1m3.8 -9.6h1m-29.4 9h1m19.1 -6.8h1m12.3 12h1m-26.1 -9.8h1m25.3 5.6h1m-38 -3.9h1m-19.8 8.3h1m2.1 -5.2h1m-3.3 7h1m24.5 -21.3h1m-15.4 3.2h1m7.4 8.7h1m-24.7 -0.8h1m5.8 16.3h1m15.1 -11.4h1m27.9 -18.5h1m-42 16.8h1m10.8 3.8h1m36 -4.6h1m-15.2 -14.6h1m-26.9 -3h1m-13.2 28.4h1m8 -24.8h1m32.9 7.5h1m-17.8 -3.3h1m-24.2 12.7h1m33.8 -1.2h1m3 -13h1m-38.1 14.4h1m-3.1 -14.2h1m22.7 -1.6h1m1.9 8.7h1m-0.6 6h1m-3.2 3.8h1m-35.9 -6h1m48.2 -7.7h1m-17.2 -1.9h1m-27.5 13.1h1m1.9 -0.1h1m7.2 0.8h1m40.1 -4.2h1m-9 -14.3h1m-25.8 9h1m0.4 10.4h1m-3.6 -5.1h1m16 -12.8h1m13.5 17h1m-23.3 -13.5h1m-27.8 13h1m47.5 -11.2h1m-30.6 1.6h1m0.7 9.2h1m-18 7.6h1m8.4 -23h1m0.6 -5.4h1m8.1 20.6h1m5.2 -12.8h1m9.3 -3.8h1m-42.1 22.3h1m30.3 -16.7h1m-21 -5.6h1m32.4 4.6h1m-10.7 8.2h1m3.2 1.1h1m-37.5 2.5h1m38.9 -12.6h1m-40.8 7.1h1m19.1 3.8h1m-27.4 -2h1m-0.6 -16.9h1m0 18.2h1m1.7 -13.2h1m-4.5 -3.1h1m5.1 24.1h1m30.4 -13.6h1m-14 -2.9h1m5.7 5h1m-22.3 0.3h1m-7.4 6.3h1m29.2 -9.1h1m20.5 3.8h1m-7.4 3.6h1m-54.5 -1.6h1m36.3 -6.6h1m-16.1 -0.7h1m-13.2 11.8h1m15.1 -5.9h1m14 -2.1h1m1.7 -6.6h1m6.6 0.7h1m-5.7 1h1m9.5 9.2h1m-34.7 -14.6h1m26.7 9.6h1m-48.4 1.9h1m7.2 7.8h1m8.7 -8.3h1m13.5 -3.6h1m-23.7 3h1m-8.6 5.4h1m26.9 -3.9h1m3 -11.3h1m23.5 16.1h1m-6 7.6h1m-19.9 -21.4h1m13.7 -1.3h1m-45.4 18.2h1m28.2 -18.5h1m20 7.5h1m-47.4 -4.5h1m13.9 11.9h1m-21 4.1h1m20.6 -19h1m30.6 -0.6h1m-21.1 2.9h1m-1.8 10.3h1m-11.9 1.7h1m10.4 -13.1h1m-2.6 12.1h1m-28.4 6h1m2.1 -7.3h1m14.7 -1.8h1m22.7 -4.9h1m-51.9 12.3h1m37.8 -23.4h1m7.9 17.5h1m10.7 4.3h1m-55.2 -2.2h1m50.9 9.2h1m-52.6 -1h1m44.5 2.7h1m-34.9 -7.9h1m-0.7 -15.9h1m25.1 1.5h1m-31.9 20.6h1m-12.6 -7.2h1m30.9 -8h1m-12.7 -12.6h1m-15.2 1.9h1m9.5 9h1m35 11.8h1m-33.5 -22.4h1m-9.7 1.2h1m-4.2 11.4h1m-6.4 11.2h1m24.8 -16.7h1m18.4 0.1h1m8.1 -1.2h1m-53.4 7.6h1m12.5 -9.9h1m11.3 21.2h1m25.1 -17h1m-1.2 4.2h1m-1 -6.3h1m-23.5 6h1m-2.4 -4.5h1m3.2 7.4h1m-35 -7.6h1m44 3.3h1m-28.4 -3.2h1m28.4 9.3h1m-37.7 -15.1h1m-5.6 5.1h1m17.4 17.3h1m25 -17.3h1m-43.9 11.4h1m12.2 1.3h1m-6.3 -8.2h1m6.8 -7.8h1m18.4 5.9h1m1.3 -2.2h1m-44.4 3.4h1m35.7 -2.6h1m-39.8 12.9h1m3.4 -13.2h1m41.4 16.2h1m0.3 -9.6h1m-18.6 6.5h1m-14.3 -7.6h1m-8.9 0.3h1m-7.7 -12.4h1m-2.5 15.5h1m25.2 -13.5h1m-19 1.5h1m10.2 14.6h1m11.1 -1.8h1m17 -8.4h1m-33.5 2.9h1m10.4 -8.6h1m-28.1 -0.4h1m33.7 2.8h1m-39.2 13.3h1m32.8 -13.3h1m-18.3 10.5h1m1.8 4.2h1m-12.3 2.2h1m4.8 -15.5h1m39.9 6.3h1m-21.4 -1.1h1m-15.6 0h1m-16 -3.7h1m48 5.6h1m-26.4 0.2h1m-13.7 9.7h1m37.7 -4.6h1m-36.7 -11.5h1m-21.6 15.2h1m58.5 -13.4h1m-25 3h1m-5.8 2.8h1m21.7 -8.9h1m-5.8 -0.7h1m-41.7 16.1h1m27.4 -20.3h1m-19.4 6.1h1m35.3 -0.3h1m-31.3 -3.5h1m-9 10.4h1m28 11.1h1m-44.6 -8.6h1m2.6 5.7h1m48.5 -3.7h1m-19 -1.5h1m10.6 -8.3h1m0.4 9.4h1m-16.2 -13.2h1m6 -1.1h1m-16.2 0.1h1m3.4 20.6h1m21.2 -23.5h1m-24 17.4h1m-15.8 4.4h1m23.7 -17.8h1m13.5 6.7h1m-48.7 -0.2h1m15.2 -6.9h1m24.9 5.1h1m-19.3 4.5h1m-28.9 6.1h1m-2.8 -17.6h1m54.5 23.3h1m-39 -19h1m5.9 -2.3h1m14.5 4.4h1m-2 -11.5h1m3.3 12.2h1m-14.7 3.6h1m9.5 9.8h1m-7.8 -21.1h1m-28.9 26.2h1m-2.7 -10.6h1m27.2 2.6h1m0.2 -2.5h1m-27.5 -15.8h1m24.6 3.9h1m3.5 -8.3h1m13.6 13.8h1m-41 12.7h1m0.3 -14.7h1m9.5 -6.6h1m34.4 19.5h1m-7.8 -6.7h1m-43.8 6.9h1m21.6 10.1h1m-6.8 -19.5h1m-13.4 -6.2h1m9.3 3.3h1m23.2 -13.3h1m-17.8 18.1h1m14.4 3.1h1m-43.9 -9.6h1m24.1 -2.2h1m15.4 -3.5h1m-40.4 8.8h1m15.7 1.1h1m14.1 4.8h1m-32.9 -17.4h1m39.1 2.8h1m-30.5 -3.8h1m-1.7 0h1m-12.7 26.2h1m11.6 -23.8h1m41 10.4h1m-36.9 -4.5h1m-10.5 -4.6h1m0.7 5.2h1m24.9 -9.8h1m-24.3 12.6h1m-7.7 13.9h1m8.2 -15.7h1m-10.8 -3.1h1m31.7 -4.1h1m5.9 8.5h1m4 18.2h1m0 -7.5h1m-8 -21.8h1m-50.1 12.3h1m43.9 0.8h1m-16.5 -4.8h1m23 9.4h1m-40.1 -14.4h1m4 23.5h1m19.9 -19.8h1m-29 2.8h1m6.1 4.4h1m-14 5.3h1m22 -0.1h1m-9 -2.9h1m-1.2 -10h1m4.8 4.7h1m28.8 -6.4h1m-20.8 11.8h1m13.2 -12.3h1m-48 18.7h1m2 0.5h1m-2.8 -0.5h1m39.1 -11h1m-43 11.1h1m14.3 4h1m-6.5 -26.3h1m-9.9 30.9h1m30.7 -34.4h1m-12.2 5.3h1m22.6 -5.9h1m-42.9 6.3h1m11.8 1.7h1m24.7 14.1h1m10.3 -6.2h1m-38.8 -8.3h1" stroke="#e3e3e3" stroke-width="1"/>
<path d="M475.6 344.3h1m-17.7 0.5h1m4.2 3h1m19 -11.7h1m-1.1 -21.2h1m-7.6 16.8h1m-40 -6.5h1m0 8.2h1m50.3 -6.3h1m-10.5 16.9h1m-7.8 -4h1m-1.7 -1.3h1m-0.1 11.4h1m-12.2 1.3h1m10.9 -2h1m8.2 -19.1h1m-23.3 7.8h1m2.5 4.7h1m-8.8 1.7h1m15.9 0.9h1m14.5 -22.3h1m-42.5 19.2h1m26.9 8h1m-0.2 -0.1h1m-11.4 -7.6h1m-22.9 5h1m20 -1.7h1m-5.4 -0.6h1m-5.2 -11.4h1m10.3 -6.2h1m20.9 -3h1m-36 20.3h1m24.4 -0.8h1m-6.4 -43.9h1m-1.8 1.6h1m-32.9 11.9h1m14.4 -7.3h1m26.3 -7.3h1m-19 18.9h1m20 3.2h1" stroke="#fbdde2" stroke-width="1"/>
<path d="M436.2 341.6h1m32.8 -9.6h1m8.8 8.6h1m4.9 -18.4h1m-15.3 25h1m-30.2 -4.3h1m31.7 1.6h1m-38.4 -15h1m49.9 -5.4h1m-8 7.6h1m-13.9 3.6h1m-21.2 7.3h1m43.7 -15.5h1m-11.8 7.6h1m-26.3 -9.3h1m1.1 7.6h1m32.9 -4.1h1m-53.6 -7h1m30.6 19.2h1m2.9 1.4h1m-16.3 8.7h1m23.3 -19.3h1m-33.6 11h1" stroke="#f7b9c8" stroke-width="1"/>
<path d="M484.1 332.1h1m-41 0.8h1m-0.9 -3.2h1m18.5 20.1h1m-23.8 -11h1m20.3 8.8h1m-22.7 -14.4h1m33.5 4.9h1m-13.9 -2.3h1m23.5 7.8h1m-23.4 2.2h1m7.4 -11.7h1m-1.2 10.7h1m10.2 -1.9h1m0.4 -16.1h1m-6.7 6.4h1m-36.5 8.2h1m23.6 -2h1m12.3 -0.9h1m-12.6 -12.7h1m-6.1 8h1m12.9 16.1h1m-1.2 -26.6h1" stroke="#f08cb0" stroke-width="1"/>
<path d="M470.8 343.4h1.3m8.5 1.5h1.3m-23.1 -0.4h1.3m23.8 0.7h1.3m-6.1 -15.1h1.3m-2.4 6.8h1.3m-16.3 6.6h1.3" stroke="#e0559e" stroke-width="1.3"/>
<path d="M467.7 331.4h1.6m0.5 0.3h1.6m-30.3 -0.3h1.6m32.8 -6.3h1.6m-5 15.3h1.6m-8.8 4.1h1.6m13.5 -23.2h1.6" stroke="#c2268f" stroke-width="1.6"/>
<path d="M570.2 332.1h1m-9.5 12.2h1m-32.3 -11.4h1m37.6 9.1h1m-39.5 -12.3h1m-7.4 -0.6h1m40.6 -4.9h1m11.9 3.4h1m-24.2 25.1h1m15.6 -10.3h1m-50.5 -0.8h1m21.6 3.2h1m-22.9 -10.7h1m29.9 -2.7h1m-9.1 17.6h1m26.7 -27h1m-23.5 11.3h1m3.3 0.2h1m-28.7 -1.3h1m18.8 19.7h1m-27.8 -30.6h1m40.8 25.1h1m-7.4 -14.4h1m-1 -0.3h1m-29.5 -0.3h1m35 5.9h1m5.9 0.1h1m-0.4 -0.2h1m2.1 -21.9h1m-8.7 26.2h1m-9.4 -6.1h1m-25.9 8.5h1m21.9 -4.2h1m-9.2 12h1m8.1 -17.5h1m1.6 5.7h1m-32.8 -2.7h1m42.3 -3.6h1m-15.2 1.7h1m13.8 -13.1h1m-22.6 25.6h1m5 -22.3h1m13 10.6h1m-47.5 3.7h1m23.9 -3.9h1m21.2 12.1h1m-45.9 -17.2h1m8.5 11.8h1m21.9 -6.2h1m4.2 1.2h1m-39 -7.4h1m-2.3 -4.9h1m26.7 11.9h1m-4.6 10.4h1m14.2 -15.9h1m-12.9 7.2h1m-29 -5.3h1m11.4 9h1m21.7 -2.5h1m-35.1 -14.9h1m22.7 21.8h1m-23.6 -13.6h1m35.2 -8.3h1m-3 9.6h1m-3.1 8.4h1m-32.1 -9.9h1m-7.3 -1.2h1m45 4.7h1m3.9 10h1m4.4 -19.6h1m-49.3 15.8h1m39 -5.7h1m-1.2 -0.3h1m-45.5 -7.4h1m26.8 19.8h1m10.5 3.1h1m-6.8 -1.7h1m7 -1.7h1m-5.1 -10.9h1m11.1 -9.2h1m-26 6.9h1m-7.2 9.4h1m24.2 -1.2h1m-42.5 -12.6h1m15.3 17.9h1m16.8 -10.6h1m11.9 4.9h1m-15.6 -4h1m-8.2 6.9h1m23.3 -12.6h1m-39.1 4.9h1m3.9 -11.3h1m17.7 22.6h1m-33.6 -6.2h1m23.8 -18.3h1m-4.3 18.3h1m9.3 -25.4h1m0.4 23.7h1m13.5 -20h1m-27.2 29.2h1m18.7 -21.6h1m-44.8 4.6h1m0.6 4.7h1m42.5 -8.8h1m-40.9 1h1m-2 -5.7h1m19.6 20.2h1m16.6 -10h1m-20.5 2.3h1m-28.1 -10.1h1m29.5 14.8h1m15.3 -24h1m1.8 8.7h1m-14.5 15.4h1m2.5 2.5h1m-3.2 -11.3h1m-1.2 10.7h1m10.2 -1.9h1m-35.7 -0.6h1m-3.1 5.6h1m9.1 -1.7h1m-5.7 -6.1h1m24 -3h1m6.8 -10.3h1m2.4 3.9h1m-10.1 2.5h1m6 -2.5h1m-31.5 18.1h1m25.7 -8.8h1m-12.8 -4.7h1m-8.7 16.1h1m9.1 -6.8h1m2.6 5.7h1m-0.2 -0.1h1m-43.5 -3.8h1m53 -23.9h1m-3.7 15.4h1m-1.1 7.5h1m-28.2 -0.9h1m21.3 -12.8h1m-2.3 1.6h1m-10.6 -1.2h1m-26.1 15.5h1m14.5 -14.7h1m21.6 3.1h1m-47.3 -6.4h1m45.9 15.6h1m-2.2 1.5h1m-4.6 -16.6h1m12.7 -3h1m-11.6 13.5h1m-17.1 -7.7h1m12.5 2.2h1m-14.4 10.8h1m-5.5 -0.6h1m-1 -11.1h1m5.4 2.8h1m-0.1 -7h1m12.1 4.7h1m-4.5 -3h1m3.6 12.2h1m-36.5 -6.2h1m8.1 -12.3h1m1.2 7.6h1m-2.2 14.5h1m-15.3 -27.7h1m5.7 13.1h1m15.8 -3.3h1m-2 -0.4h1m25.7 -0.3h1m-20 16.1h1m-23.3 0h1m13.1 -8.9h1m6.1 0.2h1m-13.8 -0.2h1m-20.4 -14.2h1m6.4 21.9h1m21.2 -18h1m6.6 19.2h1m-2.6 -6.7h1m-5.7 6h1m-14.7 -10.4h1m6.6 10.6h1m-18.9 -5.4h1m5.6 -8.7h1m-8.8 8.7h1m38.7 -0.1h1m-47.3 -13.9h1m26.7 8.8h1m3.2 8.4h1m6.6 -19.4h1m-43.1 6.4h1m17.3 7.7h1m13 9.2h1m1.7 -5.1h1m2.5 -5.9h1m-0.7 7.3h1m-7.9 -14.8h1m-4.9 6.1h1m-2.8 9.7h1m-24.4 -3.7h1m29.1 0.3h1m-32.6 -4h1m1.3 -0.2h1m32.3 -6.8h1m-40.8 1h1m55.6 -5.4h1m-12.8 25.2h1m0.4 -28.6h1m-21 26h1m23.5 -15.4h1m-14.6 10.4h1m-9.2 -10.9h1m12.4 15.7h1m-37.6 -21.2h1m40.3 20.1h1m-3.4 -22.7h1m1.5 20.9h1m-37.9 -12.1h1m24.7 2.4h1m-14.3 14.1h1m-22.2 -16.4h1m46.4 -4.1h1m-43.8 15.2h1m8 -9.9h1m15.2 0.5h1m-29.9 -1.5h1m33.9 20h1m-29.1 -40.1h1m20 -10.9h1m-19.8 11.6h1m10.7 -4.8h1m-1.5 -3.5h1m21 -4.6h1m-11.5 2.9h1m5.8 6.3h1m17.5 4.8h1m-9.5 -19.9h1m7.8 19.3h1m-21.4 -15.1h1m8.8 15.1h1m-4.5 -7.4h1m-42.2 12.2h1m4.7 2.2h1m19.6 -21.7h1m6 15.5h1m-1.1 -11.9h1m-6.2 -1.2h1m16 1.2h1m-46.9 8.9h1m-0.7 -16.9h1m36.6 12.4h1m-20.9 -1.9h1m-19.3 5h1m57.2 5.2h1m-5.9 7.6h1m-20.4 -23h1m2.8 -5.8h1m7.8 17.5h1m-31.5 5.1h1m-17.1 -1h1m52.5 -6.8h1m-43.2 -12.3h1m20 6.1h1m7 6.5h1m-14.6 10h1m24.8 -17.3h1m-30.5 12.7h1m-6.3 -8.2h1m26.1 -1.9h1m-26.9 3.8h1m-8.9 0.3h1m18.8 7.5h1m-12 -9.1h1m-21.7 8.9h1m19.7 -0.4h1m-22.1 2.8h1m47.4 -17.2h1m4.3 6.2h1m-43.6 10.5h1m5.7 -15.2h1m21.3 2.1h1m-2 -11.5h1m-6.9 20.2h1m2.6 -20.2h1m13.6 13.8h1m-21.3 3.6h1m26.3 -3.1h1m-3 1.6h1m-27.9 -2.7h1m-19.8 13.9h1m41.2 1.2h1m0.6 2.6h1m-18.6 -19.1h1m-26.1 -0.4h1m6.1 4.4h1m8.9 5.2h1m6.7 -2.8h1m-38.2 4.3h1m55.8 -8.9h1m-38.2 -7.3h1m24.6 14.1h1" stroke="#e3e3e3" stroke-width="1"/>
<path d="M549.5 340.6h1m-27.9 -10.6h1m-1 9.8h1m33.5 -0.6h1m-24.1 0.5h1m-7.5 -9h1m29 16.5h1m11.6 -32.3h1m-46.6 13.1h1m20.6 -1.3h1m1.5 6.1h1m18.1 -7.8h1m-38.3 2.8h1m35.5 17.1h1m8.4 -21.8h1m-24 19.5h1m-19.7 0h1m28.7 -5.7h1m-5.8 -8.5h1m-0.9 13.3h1m-13.9 9.5h1m-14.2 -8.6h1m28.7 1h1m-22.2 1.4h1m8.3 -16.7h1m-23.9 -14.5h1m-9.9 -4.7h1m60.8 1.9h1m-31.5 5.3h1m2.5 -7.7h1m-14.8 -4.4h1m3.7 -3.2h1m3 20.4h1m14.8 -21.1h1m-24 7.7h1m14.6 -7.1h1m2.5 2.8h1m-34.5 -3.1h1m2.6 -2.9h1m41.9 7.5h1m-55.8 11.5h1m29.8 -14.4h1m-27.4 12.2h1m32.2 -8.5h1m1.1 1.5h1m-26.8 -6.5h1m-0.8 13.2h1m-3.7 1.5h1m42.3 -11.8h1m-13.1 -3.6h1m-19.8 12.8h1m-7.6 -11.1h1m6.2 14.9h1m34.7 -2.1h1m-9.1 -11.4h1m-24 6h1m5.2 -6.9h1m-24.6 -1.3h1m22.7 -1.6h1m0.1 18.5h1m13.1 -13.7h1m-25.4 7.7h1m-18.4 3.7h1m17.8 -9.6h1m-5.3 -11.6h1m14.7 9.6h1m1.9 -2.3h1m-0.2 9.5h1m3.2 1.1h1m-37.4 2.5h1m10 -18.8h1m8.2 17.1h1m-25.9 -0.7h1m1.6 2.9h1m28.9 -7h1m-13 2.3h1m-10.1 -12.2h1m28.6 5.2h1m-37.6 10h1m23 -16.2h1m21 21.4h1m3.5 -19.9h1m-32.8 14.9h1m8.8 -1h1m-28.3 6h1m2.1 -7.3h1m-7 10h1m44.4 2.7h1m-44.9 -27.6h1m45.4 20.8h1m-5.7 -15.2h1m-44 6.4h1m46.5 3.3h1m3 -4.8h1m-37 -4.9h1m4.3 -4h1m13.9 4.5h1m-35.3 -0.3h1m21.8 -4.6h1m19.8 -3.3h1m-19.5 3.5h1m-28 -0.4h1m29.7 9.4h1m-15.7 0h1m7.6 2.1h1m-13.6 9.7h1m37.5 -4.6h1m-29.5 0.3h1m6.8 -7h1m11.9 -13.4h1m3.9 7.3h1m-36.3 1.2h1m35.1 -0.3h1m-10.2 18h1m3.5 -7h1m-16.2 -13.2h1m-9.1 -1h1m-12.2 18.9h1m23.6 -17.8h1m-34 6.5h1m48.3 14.5h1m-13.2 -16.2h1m-4.1 13.4h1m-17 -2.6h1m6.5 -8.7h1m-25.9 -9.9h1m3.7 22.1h1m45.9 -1.8h1m-7.7 -6.7h1m-43.6 6.9h1m3.3 -15.6h1m-10.7 1.6h1m24 -2.2h1m15.3 -3.5h1m-8.6 14.7h1m-22.9 -18.4h1m-12.6 26.2h1m11.5 -23.8h1m5.1 5.9h1m-23.9 4.1h1m52.1 5.4h1m-34.9 9.1h1m1 -10.3h1m34.3 -11.7h1m-6.6 -0.5h1m-33.3 22.8h1m4.4 -26.1h1m-18.6 2h1" stroke="#fbdde2" stroke-width="1"/>
<path d="M555.3 316.2h1m-21.7 -16.6h1m20.4 9.5h1m-29.4 9.2h1m16.7 -10.4h1m-14.8 11.1h1m16 -25.4h1m-3.7 16.8h1m1.2 -3.5h1m-4.1 -5.7h1m10.7 -1.6h1m-20.1 -0.2h1m15.3 10.1h1m-12.2 4.3h1m35.3 -4.7h1m-59 7.7h1m51.9 0.1h1m6.5 -8.3h1m-37.3 10.9h1m-19.7 1.5h1m36.7 -9.1h1m9.9 -3.9h1m-8.9 -10.1h1m-27 1.7h1m-1.2 -4.8h1m-16.5 24.3h1m9.3 -22.4h1m32.9 7.2h1m-13.4 -9h1m-14.2 16.7h1m21.9 -2h1m-11 -5.1h1m21.1 13.6h1m-26 -9.8h1m-11.7 1.7h1m28.5 -13.7h1m6.8 16h1m-44.1 -14h1m-11 17.3h1m10 0.7h1m39.9 -4.2h1m-9 -14.3h1m-25.6 9h1m-6.8 -6.8h1m9.7 15.2h1m25.7 -0.7h1m-4.4 -2.7h1m-46 -2.3h1m17.7 -5.6h1m-15.6 5.3h1m22.7 -2.8h1m-20.9 2.1h1m19.9 -0.2h1m10.8 -0.3h1m-8.5 -4.3h1m-8.4 2.1h1m-31.3 8.4h1m20.2 -17.1h1m5.6 13.2h1m6 -13.6h1m-14.3 17.9h1m11.2 -2.3h1m-0.5 -11.4h1m-33.1 12.6h1m50.7 9.2h1m-6.8 -22.7h1m-34.6 5.8h1m10 10.9h1m1.8 3.4h1m-18.4 -23.5h1m-10 8.9h1m-3.1 10.3h1m45.6 3h1m-20.9 -9.8h1m22.7 -5.1h1m-14.5 -3.3h1m-22.6 10.5h1m-9.5 6.4h1m45.5 -9.2h1m-36.9 -5.4h1m-13.7 14.1h1m27.3 -20.3h1m-5.9 10.4h1m-2.5 -7.3h1m-25.8 17.8h1m30.4 -5.2h1m-14.6 -5.9h1m28.6 -10.1h1m-23.8 17.4h1m-21.2 -17.2h1m19.6 13h1m-21.8 -14.1h1m19.6 13.3h1m2.7 -11.3h1m4.3 1.3h1m-34 24.9h1m17 -18.1h1m-19 -10.1h1m39 2.8h1m-30.4 -3.8h1m0.1 11.7h1m-8.3 -4.9h1m38.5 4.4h1m-6.2 2h1m-16.4 -4.8h1m-3.6 2.9h1m25.7 -0.3h1m-49.2 12.1h1m-2.9 0.1h1m8.9 -22.3h1m12.2 9.1h1m27.1 -1.6h1m0.5 4.3h1" stroke="#f7b9c8" stroke-width="1"/>
<path d="M564.2 313.6h1m-3.3 -2.9h1m-25.6 -14h1m40 20.5h1m-36.7 -16.4h1m5.5 1.6h1m-8.9 -6.6h1m-11 22.8h1m45.1 -6h1m-7.9 -4.7h1m8.8 3.3h1m-10.2 -1.5h1m-30.7 -11.5h1m34 -0.7h1m-36.4 5.4h1m-1.9 -8.8h1m-11 16.3h1m20.7 0.4h1m20.5 4.8h1m-30.6 -16.3h1m8.6 -0.9h1m20.7 4.1h1m4.2 11.4h1m-53.4 -0.8h1m16.1 -2.4h1m-13.9 2.4h1m33.5 -15.4h1m-38.9 25.4h1m1.8 -7.9h1m33.7 -1.2h1m2.9 -13h1m-50 11.1h1m8.4 3.4h1m45.6 0.8h1m-1.7 -11.7h1m-9.2 -6h1m-41.4 0.8h1m14 0.8h1m13 5.4h1m-28.2 11.1h1m32.7 -14.6h1m12.3 10.9h1m-45.9 4.7h1m8.6 -8.3h1m-0.1 -4.7h1m-10 4.1h1m23.8 -7.5h1m13.6 -1.3h1m4.8 7.2h1m-47.3 -4.5h1m-6.1 16h1m37.3 -12.5h1m-16.7 3.7h1m5.6 -8.6h1m24.4 14.4h1m-16.8 -13.6h1m-31.7 20.6h1m19.1 -15.2h1m-12.6 -12.6h1m35.7 6.3h1m-39.8 -2.3h1m37.2 4.2h1m-20.8 6.8h1m-34.8 -7.6h1m-3.2 20.6h1m8.4 -9.8h1m38.7 -3.9h1m-46.2 -13.2h1m-2.6 15.5h1m18.3 2.6h1m11.2 -1.8h1m-1 -11.7h1m-20.9 1.4h1m10.5 1.3h1m12.8 -4.1h1m7.9 0h1m6.7 2.6h1m-56.5 13.9h1m-2.7 -17.6h1m12 -0.5h1m10.3 2.5h1m-21.7 13h1m45.3 -11h1m-19.2 13.6h1m-0.7 -14.4h1m-20.6 3.5h1m9.5 -6.6h1m7.3 29.8h1m13.9 -14.5h1m-34.4 -15.3h1m26.5 -4.6h1m-5.7 6.6h1m18.6 16.2h1m-7.9 -21.8h1m-35.7 3.3h1m35.7 14.4h1m-10 0.3h1m2.3 -6h1m-42 19.7h1m30.6 -34.4h1m-18.4 7h1" stroke="#f08cb0" stroke-width="1"/>
<path d="M579.3 310.9h1.3m-1.6 -11.7h1.3m-57.7 12.6h1.3m50.3 -2.9h1.3m-54.4 1h1.3m21.5 4.9h1.3m25.9 -9h1.3m-15.1 2.5h1.3m-5 -5.8h1.3m27 5.8h1.3m-35.3 8.9h1.3m13 -17.9h1.3m-36.6 21.6h1.3m9.9 -22.3h1.3m-15.4 -2.3h1.3m45.2 6.5h1.3m-29 -4.4h1.3m-21.9 18.9h1.3m28 -15h1.3m17.7 3.3h1.3m-40.4 -3.9h1.3m20.2 6.9h1.3m1 7.1h1.3m8.9 -15.6h1.3m-38.3 3.4h1.3m47.5 5.6h1.3m-32.9 -10.1h1.3m5.1 20.9h1.3m-9.2 -19.9h1.3m24.2 -7.7h1.3m-43.3 14.7h1.3m15.3 1.1h1.3m-8.9 -4.7h1.3m23.5 -1.8h1.3m-35 12.5h1.3m13.4 -13h1.3m3.3 1h1.3" stroke="#e0559e" stroke-width="1.3"/>
<path d="M573.5 316.4h1.6m-18.2 -1.1h1.6m9.5 -10.5h1.6m-6.7 4.4h1.6m12 2.1h1.6m-26.9 5.8h1.6m0.3 -2.4h1.6m20.7 -7.5h1.6m-50 6.9h1.6m23.8 -12.8h1.6m-21.3 14.1h1.6m0.6 -14.1h1.6m17.9 1.5h1.6m-7.8 12.6h1.6m-18.5 7.6h1.6m38.4 -19.8h1.6m-42.9 17.2h1.6m40.9 -6.6h1.6m-14 -5.1h1.6m-4.9 -9.7h1.6m-10.3 0.7h1.6m9.8 2.3h1.6m11.6 3h1.6m-35 -4.4h1.6m2 -5.4h1.6m-13.5 12.6h1.6m-6.9 11.2h1.6m51.7 -18h1.6m-24 6h1.6m14.2 4.7h1.6m-4 -9.6h1.6m-48.1 11.8h1.6m55.8 -9.2h1.6m-30.3 5.8h1.6m-16.4 -1.1h1.6m-16.1 2.5h1.6m51.2 2h1.6m-7.9 -9.8h1.6m-1.2 1h1.6m-24 3.4h1.6m-7.5 -4.1h1.6m21.2 -7.2h1.6m-12.3 20.9h1.6m14.7 -16h1.6m2.5 9.2h1.6m-50.3 6.3h1.6m1.4 0.5h1.6" stroke="#c2268f" stroke-width="1.6"/>
<path d="M636.4 340.6h1m19.5 -8.5h1m-9.4 12.2h1m-32.3 -11.4h1m37.5 9.1h1m-39.4 -12.3h1m-7.3 -0.6h1m46.7 13.3h1m-50.3 -0.8h1m-0.4 -7.5h1m29.9 -2.7h1m14.8 5.3h1m2.8 -14.7h1m-19.2 11.5h1m-17.3 3.4h1m-19.4 -15.6h1m40.7 25.1h1m-7.3 -14.7h1m6.4 5.6h1m9.6 -22h1m-17 20.1h1m-37.7 -15.1h1m23.9 5.6h1m8.8 13.8h1m-9.2 12h1m8.1 -17.5h1m1.6 5.7h1m-26.7 -0.2h1m22 -4.4h1m13.7 -13.1h1m-16.5 3.3h1m13.6 22.5h1m-13.3 -0.1h1m4 -10.3h1m-38.9 -7.4h1m1 0.5h1m28.9 16.5h1m-33.9 -19.2h1m33.1 12.1h1m-35 -14.9h1m22.7 21.8h1m-23.7 -13.6h1m33.2 1.3h1m-14.8 -8h1m19.2 10h1m9.3 -9.6h1m-49.1 15.8h1m38.9 -5.7h1m-17.9 12.1h1m12.7 -0.3h1m7 -20.1h1m-32.2 16.3h1m24.2 -1.2h1m-0.5 -19h1m-8.2 15h1m-19.5 9.3h1m-10.3 -14.7h1m26.1 4.1h1m11.8 4.9h1m-32 -6.9h1m15.5 2.9h1m-8.2 6.9h1m23.2 -12.6h1m-39 4.9h1m3.9 -11.3h1m16.9 -9h1m-30.5 9.3h1m29.9 14.4h1m13.4 -20h1m-27.1 29.2h1m18.7 -21.6h1m-44.7 4.6h1m0.6 4.7h1m2.5 -7.8h1m16.7 6.8h1m21.5 -10.6h1m-14.6 15.4h1m0.2 1.9h1m-24.5 -2.5h1m-3.1 5.6h1m4.5 -7.8h1m35 -9.4h1m-10.1 2.5h1m-8.6 13h1m13.6 -15.5h1m-31.3 18.1h1m25.5 -8.8h1m-0.2 -1.1h1m-13.5 -3.6h1m1.4 9.3h1m3.3 5.6h1m10.5 -27.7h1m-3.6 15.4h1m-6 -6.2h1m-2.3 1.6h1m-10.6 -1.2h1m11.9 3.9h1m-47.2 -6.4h1m44.7 17.1h1m-4.6 -16.6h1m-39.4 5.7h1m24.4 -2.9h1m-0.9 13h1m-5.5 -11.7h1m6.3 -4.2h1m8.6 1.7h1m-22.7 -6.3h1m1.1 7.6h1m-2.1 14.5h1m-15.3 -27.7h1m5.6 13.1h1m31 -13h1m-10.6 16.4h1m-13.8 -0.2h1m-20.4 -14.2h1m6.5 21.9h1m28.7 1.2h1m-2.6 -6.7h1m-5.7 6h1m-7.1 0.2h1m7.1 -16.1h1m-26.9 10.7h1m5.6 -8.7h1m-8.9 8.7h1m38.6 -0.1h1m-19.5 -5.1h1m3.2 8.4h1m6.6 -19.4h1m-43 6.4h1m17.2 7.7h1m13 9.2h1m1.6 -5.1h1m2.6 -5.9h1m-11.5 -1.4h1m-2.8 9.7h1m-3.6 7.7h1m-21.7 -11.4h1m-2.5 -3.7h1m1.3 -0.2h1m32.1 -6.8h1m-27.4 13.5h1m28.6 1h1m0.8 6.3h1m0.4 -28.6h1m-20.9 26h1m1.7 -15.9h1m-27.5 -5.2h1m2.4 -0.3h1m40.1 20.1h1m-29.7 -3.1h1m25.4 -19.6h1m1.5 20.9h1m-37.9 -12.1h1m24.7 2.4h1m-5.7 -0.6h1m-26.6 5.7h1m30.6 12.8h1m5.8 -38.8h1m-35.8 -1.3h1m24.9 3.9h1m23.1 -5.3h1m-6.7 5.5h1m-55.2 -7.3h1m60.7 1.9h1m-26.2 -1.9h1m-29.4 9.2h1m14.1 -17.5h1m35.4 -1.6h1m-25.8 9.4h1m-5 -7.2h1m-6.4 -0.2h1m-5.4 3h1m15.1 -4.6h1m-16.3 -3.8h1m11.5 13.7h1m-12.2 4.3h1m13.6 1.5h1m-37.2 1.5h1m51.7 0.1h1m-29.4 -15.9h1m16.9 8.2h1m-15 12.2h1m14.8 -21.1h1m-23.3 4.4h1m-1.7 3.3h1m21.7 -7.9h1m-38.1 0.5h1m2.6 -2.9h1m44 -0.2h1m-23 5.5h1m-14.3 -0.1h1m25 -5h1m-11.1 8.1h1m-17 -11.2h1m-1.8 -0.7h1m12.4 20.6h1m-24.3 -4.3h1m42 5.2h1m-3.2 -21.4h1m-28.3 5.1h1m-21.8 12.5h1m35.2 -4.3h1m-6.8 -9.1h1m-23.9 -0.7h1m48.4 15.8h1m-14 -3.9h1m7.1 -7.1h1m-42.6 -1.5h1m-0.7 13.2h1m22.3 -9.7h1m1.6 -6.1h1m8.7 15.1h1m3.8 -9.6h1m3.9 14.2h1m0.2 -4.2h1m-37.7 -3.9h1m-19.7 8.3h1m4.6 2.2h1m5.3 -18.5h1m7.3 8.7h1m-24.5 -0.8h1m50.4 -13.6h1m5.7 18.5h1m-14.1 -17.1h1m-38.8 25.4h1m18.8 -13.7h1m16.7 4.6h1m-34 1.4h1m23.4 -7.1h1m-2.8 9.8h1m13.2 -13.7h1m-32.4 11.9h1m7.3 -9.5h1m34.3 1.5h1m-34.9 8.9h1m-3.6 -5.1h1m15.8 -12.8h1m-8.7 3.5h1m20.6 1.8h1m-30.4 1.6h1m-16.2 16.8h1m8.3 -23h1m0.7 -5.4h1m24.4 4h1m-41.9 22.3h1m30.1 -16.7h1m12.4 -1h1m-10.7 8.2h1m3.2 1.1h1m-37.3 2.5h1m9.9 -18.8h1m27.7 6.2h1m-46.8 8.9h1m-0.6 -16.9h1m2.7 5h1m32.7 7.4h1m-13.8 -2.9h1m-15.5 5.3h1m22.6 -2.8h1m20.4 3.8h1m-60.5 2h1m17.2 -3.7h1m18.7 0h1m-29 8.2h1m15 -5.9h1m16.5 -8.7h1m2 1.7h1m9.3 9.2h1m-47.9 0.8h1m1.1 3.9h1m30.5 -14h1m-22.9 5.7h1m13.5 -3.6h1m-1 -1.4h1m-23.6 4.4h1m12.6 -11.7h1m5.5 13.2h1m3 -11.3h1m-4.7 -1.4h1m27 17.5h1m-24.7 -13.8h1m-30.5 16.9h1m46.1 0.8h1m-19.1 -19.3h1m19.9 7.5h1m-32.3 7.4h1m-20.9 4.1h1m20.5 -19h1m15.6 6.5h1m-17.8 7.8h1m10.3 -13.1h1m-2.6 12.1h1m-28.2 6h1m17.7 -9.1h1m5.6 -8.6h1m-34.6 16h1m57.9 -1.6h1m-54.8 -2.2h1m50.5 9.2h1m-6.7 -22.7h1m-35 16.5h1m-17 -1h1m15.5 -9.7h1m35.8 2.9h1m-46.2 -0.9h1m19.3 -5.5h1m27.3 -1.1h1m-39.7 -2.3h1m33 13.2h1m3.2 -9h1m-1.2 4.2h1m-1.1 -6.3h1m-23.3 6h1m-2.4 -4.5h1m7 6.5h1m-4.8 0.9h1m9.9 -4.3h1m-35.4 -9h1m-13.4 26.3h1m25.1 -3.9h1m-17.8 -5.9h1m12.1 1.3h1m-6.3 -8.2h1m26 -1.9h1m-41.7 1.2h1m1.2 -2.9h1m11.7 5.5h1m-8.8 0.3h1m-7.7 -12.4h1m23.1 13h1m-0.6 -11h1m19.7 -3.3h1m-39.6 4.8h1m18.7 16.4h1m20.4 -12h1m-33.3 2.9h1m10.3 -8.6h1m-27.9 -0.4h1m33.5 2.8h1m-22.5 10.5h1m-9.5 6.4h1m4.8 -15.5h1m39.5 6.3h1m-21.2 -1.1h1m6.5 -7.1h1m-14.5 9.2h1m-31.1 8.8h1m58.2 -13.4h1m-12 -10.4h1m-22 9h1m2.4 7.2h1m16.7 -9.6h1m-13.2 -4.2h1m-19.3 6.1h1m35.1 -0.3h1m-31.1 -3.5h1m-9 10.4h1m-15.5 2.5h1m51.8 2h1m-18.9 -1.5h1m11.9 1.1h1m-27.4 -7h1m2.2 -7.2h1m3.3 20.6h1m21.1 -23.5h1m-23.8 17.4h1m-21.2 -17.2h1m39.6 2.6h1m-36.2 19h1m23.5 -17.8h1m17.4 1.4h1m-10.5 3.3h1m-46.9 10.6h1m-2.7 -17.6h1m12 -0.5h1m3.3 4.8h1m5.9 -2.3h1m14.4 4.4h1m-32 -9h1m28.9 -2.5h1m-6.6 4.5h1m4.3 1.3h1m-15.4 17.2h1m7.9 -2.8h1m-2.4 -5.9h1m-25.9 -9.9h1m43.4 9.4h1m-40.7 12.7h1m0.2 -14.7h1m37.9 6.2h1m-21.1 17h1m-6.7 -19.5h1m-13.4 -6.2h1m9.3 3.3h1m23 -13.3h1m-17.7 18.1h1m-28.3 -6.5h1m24 -2.2h1m-23.9 5.3h1m15.6 1.1h1m14 4.8h1m-34.4 7.8h1m11.5 -23.8h1m40.7 10.4h1m-46.1 -9.1h1m15.3 8h1m-19.7 13.9h1m-1.6 -18.8h1m31.5 -4.1h1m9.2 24.1h1m0.5 2.6h1m-19.5 -23.7h1m18.6 16.2h1m-8 -21.8h1m-5.1 13.1h1m-31.4 -9.8h1m-3.1 6.5h1m15.9 9.6h1m26.3 -14.6h1m-4.1 6.1h1m-17.6 5.7h1m7.4 -4.6h1m-42.7 11.1h1m14.3 4h1m4.3 -26.1h1m-0.3 1.6h1m0.7 7.3h1m20.7 -13.2h1m-42.6 6.3h1m37.2 15.8h1" stroke="#e3e3e3" stroke-width="1"/>
<path d="M631.9 344.8h1m-23.5 -5h1m27.6 -6.5h1m-24.5 -1.9h1m30.4 15.4h1m-32.1 -9.6h1m29.3 -0.8h1m-7.4 0.8h1m-16.9 5.4h1m21.5 -2.2h1m1.5 -2.3h1m-13.8 -2.3h1m17.6 9.1h1m-38 -19.3h1m-9.4 2.4h1m45.6 -9.2h1m0.6 24.1h1m-7.4 -5.8h1m-1.4 13.2h1m-42.7 -3.9h1m50.2 -1h1m-26.4 -12.5h1m-17.8 8.5h1m37.3 -0.8h1m-21.4 4.7h1m19.3 -10.6h1m-16.5 3.2h1m-0.6 -8.3h1m24.6 -0.7h1m-28.1 7.2h1m3.5 -10.3h1m-31.4 -0.7h1m25.5 8.2h1m-33 -3.2h1m20.7 14.9h1m-21.3 -12.8h1m12 -32.6h1m1.7 -2.9h1m-6.9 22.3h1m-0.9 -6h1m4.9 -13.6h1m40.4 9.7h1m-2.6 3.5h1m-10.1 -7.8h1m1.1 3.1h1m-44.9 13.1h1m13.9 -22.8h1m9.2 18.9h1m-11.5 -17.5h1m-16.6 19.5h1m49.2 -11.9h1m-41 -10.5h1m20.5 -1.8h1m-6.4 15.9h1m-25.3 3.3h1m2.3 1.6h1m42.6 -6.8h1m-49.9 11.2h1m24.4 -21.3h1m-14.3 -0.5h1m32.7 5.1h1m-1.1 2.4h1m-41.1 -4.6h1m21.7 1.3h1m-27.3 13.1h1m42.9 -17.8h1m4.5 18.5h1m-29.3 -0.9h1m2.1 -0.2h1m5.1 -12.8h1m-3.5 6.5h1m0.4 -3.3h1m1.1 2.7h1m10.9 -5.5h1m-11.5 -6.1h1m11.8 8.3h1m-8.3 -2.9h1m-31.7 20.6h1m19.1 -15.2h1m-5.3 9.2h1m-23.8 -7.9h1m-2.9 -6.5h1m16.4 0.1h1m25.8 -0.3h1m0.4 16.7h1m-29.1 -11.6h1m-15.9 -3.7h1m48.2 10.9h1m-21.6 -6.7h1m-28.4 9.3h1m35.8 3.5h1m-14.5 -13.4h1m-2.5 -7.3h1m3.3 0.5h1m5.9 -1.1h1m-12 10.4h1m-25.1 14.1h1m-2.8 -10.6h1m45.3 -11h1m-18.9 -0.8h1m3.4 -8.3h1m-32 2.5h1m49.5 13.4h1m-37.4 -4.5h1m31.9 7.9h1m-3.3 0h1m-1 -13.4h1m0.8 12.4h1m-11.7 1.3h1m-37.6 5h1m50 -11h1" stroke="#fbdde2" stroke-width="1"/>
<path d="M633.1 331.5h1m18.3 -7.3h1m-11.2 28.5h1m-29.2 -13.9h1m28.9 4.6h1m-2 -11.4h1m-23.7 11.9h1m1 -1.3h1m-12.1 -17.3h1m38.2 6.4h1m-2.6 -6.6h1m-5.1 18h1m-32 -9.9h1m14.4 11.9h1m31.2 -21h1m-16.7 10h1m16.5 -11h1m-6.2 3.7h1m-45.8 4.5h1m18 13.2h1m23.9 0.7h1m7.8 -18.1h1m-25.6 9.9h1m-10.9 9h1m14.4 -1h1m5.5 1.5h1m9.4 -21.8h1m-20.4 17.6h1m-15.4 6.3h1m7.4 -20.3h1m-1.5 -12h1m-6 -5.9h1m1.2 -3.5h1m-17.7 11.7h1m10.9 -10.4h1m37 0.4h1m-21.1 -4.9h1m-42.7 13h1m49.1 -12.8h1m-17.8 -2.6h1m0.2 7h1m-27.2 4.8h1m15 3.8h1m9.9 -17.3h1m-25.3 15.9h1m29.8 -13.6h1m-23.8 -3.3h1m10.6 14.7h1m-20.6 7.1h1m41.4 -6.6h1m-30.8 -15.4h1m-18.5 15.8h1m45.9 -14.2h1m6.5 -0.9h1m-21 2.9h1m8.9 9.4h1m-42.9 10.3h1m24.7 -1.6h1m-5.8 -21.7h1m7.7 13.9h1m-0.9 -11.7h1m18.8 8.5h1m-2.7 -2h1m-25 1.7h1m1.4 6.9h1m-9.8 -17.5h1m22.2 15.3h1m-18.5 -10.6h1m-11.1 18.5h1m19.8 -19.8h1m-20 -0.5h1m3.5 1h1m-13.3 -6.7h1m-9.9 30.9h1m13.9 -27h1m35.7 7.9h1" stroke="#f7b9c8" stroke-width="1"/>
<path d="M632.8 349h1m0.6 2.9h1m-23.1 -26.8h1m44 12.3h1m-0.3 -0.2h1m-6.4 3.4h1m-9.7 -1.4h1m6.8 -5.8h1m5.2 0.2h1m-2 2.5h1m-45.1 -5.3h1m21.3 16.8h1m-28.8 -15.6h1m46.6 4.9h1m-8.1 7.6h1m-38.2 -15h1m44.1 6.7h1m-12.8 14.5h1m-5.2 -25.1h1m7.4 23.8h1m-27.1 -12.9h1m-0.7 0.1h1m16.8 6h1m-19.7 0h1m19 -3.2h1m6.3 3.1h1m-7.9 -14.8h1m6.4 19.4h1m5.6 -19h1m-26.1 -17.9h1m33.3 7h1m-33.8 -9.3h1m-1.4 11.6h1m30.7 -8.2h1m-13.7 0.6h1m9.8 -3.9h1m3.6 0.4h1m-30.3 -6.1h1m10.8 -2h1m-19.7 12.8h1m-16.2 13.1h1m15 -11.4h1m9.5 -12.3h1m14.4 -1.5h1m-46.7 -4.7h1m17.5 3.9h1m-2.1 4.7h1m-0.6 -0.2h1m33.5 18h1m-16.6 -28.8h1m-22.3 6.7h1m2.9 -5.7h1m-15.2 1.9h1m45.2 20.8h1m-42 -21.2h1m35.4 6h1m0.7 9.3h1m-42 -10h1m43 0h1m-21.3 14h1m-11 -1.6h1m-22.4 -0.2h1m14.6 5.1h1m-13.7 -1.4h1m16.5 -17.6h1m-12.2 17.6h1m46.2 0.1h1m-50.2 0.2h1m35.5 -19.6h1m-31.1 -3.8h1m-1.7 8.9h1m3 5.4h1m-13.8 5.3h1m19.3 -8.3h1m-23.6 11.8h1" stroke="#f08cb0" stroke-width="1"/>
<path d="M635.3 335.9h1.3m-26.2 -2.3h1.3m46.2 13.1h1.3m-23.9 -13.9h1.3m-24.2 -1.4h1.3m1.1 12.5h1.3m20.2 0h1.3m13.3 -7h1.3m-21.7 -3h1.3m14.4 7.8h1.3m10 -9.8h1.3m-19.7 -30.7h1.3m-17.3 -2.6h1.3m21.3 13.7h1.3m-34.2 -0.8h1.3m44 -5.8h1.3m-51.1 1.2h1.3" stroke="#e0559e" stroke-width="1.3"/>
<path d="M636.3 349.8h1.6m-23.5 -17.6h1.6m37 9.3h1.6m-17.8 4.3h1.6m-0.1 -3h1.6m-21.9 4.8h1.6m24.3 6.4h1.6m-9.9 -51.6h1.6m10.3 6.9h1.6m-21.9 -14.6h1.6m-7 6.6h1.6m-8.9 14.5h1.6m30.8 -7.1h1.6m11 15.7h1.6m-49.5 -8.6h1.6m50.7 5.6h1.6m-12.1 -23.2h1.6m-30.3 -3.7h1.6m22.7 -0.9h1.6m-42.8 21.9h1.6" stroke="#c2268f" stroke-width="1.6"/>
<rect x="430.20" y="288.20" width="69.50" height="69.30" fill="none" stroke="#2a2a2a" stroke-width="1.1"/>
<rect x="516.50" y="288.20" width="69.20" height="69.30" fill="none" stroke="#2a2a2a" stroke-width="1.1"/>
<rect x="603.40" y="288.20" width="69.00" height="69.30" fill="none" stroke="#2a2a2a" stroke-width="1.1"/>
<path d="M632.3 421.3h1m23 0.6h1m7.6 -4.4h1m-24.5 25.1h1m-34.1 -22.7h1m21.7 14.8h1m-19 -6.1h1m29.2 4.7h1m15.7 -21.4h1m-23.7 11.2h1m-24.6 -1h1m10.5 4.7h1m22.6 9.5h1m7 -9h1m-0.3 -0.2h1m-5.7 4.3h1m-34.6 2.3h1m22.2 -4.1h1m-0.2 -0.6h1m-0.9 -4.9h1m6.9 -0.9h1m-9 2h1m12.3 0.8h1m-22.8 -0.3h1m21.4 12.2h1m-13.4 -0.1h1m4 -10.3h1m-37.3 -7h1m-4.4 -5.4h1m32.7 22h1m-34.3 -19.2h1m36.7 -3h1m-3 9.7h1m-3.1 8.4h1m-32.4 -9.9h1m39 3.4h1m1.1 0.6h1m-11 3.2h1m8.7 -3.5h1m-45.8 -7.4h1m38.6 22.9h1m-6.9 -1.7h1m7.1 -1.7h1m-18.1 -13.2h1m-16.7 -1.3h1m39.3 9.1h1m1.6 -9.8h1m-15.6 16.3h1m-33.9 -6.2h1m24 -18.4h1m6.1 -7.1h1m-11.4 33h1m-25.3 -17h1m40.7 10.4h1m-37.5 -13.6h1m36.6 4.6h1m-20.7 2.3h1m-28.3 -10.1h1m29.7 14.8h1m18.3 -15.3h1m-13.5 17.3h1m10.2 -1.9h1m5.7 -19.8h1m-34.6 23.1h1m-18 -15h1m36.8 19h1m10.6 -27.8h1m-3.8 22.9h1m-28.4 -0.8h1m21.5 -12.8h1m-15.3 10.9h1m-2 -9.7h1m-5.4 12.4h1m6.4 -15.4h1m-22.5 7.7h1m9.5 8.4h1m-9 -13.1h1m15.9 -3.3h1m14.4 -9.7h1m-17.9 16.1h1m-18.8 7.8h1m29 1.2h1m-32.8 -5.9h1m39.1 -0.1h1m-47.7 -13.9h1m26.9 8.7h1m10.9 -10.9h1m-10.8 23.3h1m1.6 -5.1h1m0.6 0.6h1m1 -6.5h1m-7.6 -7.5h1m-5 6.1h1m-2.8 9.6h1m-26.1 -7.3h1m1.3 -0.2h1m-7.6 -5.9h1m56.1 -5.4h1m-14.7 18.9h1m-15.2 -12.1h1m12.5 15.7h1m-41.4 -20.9h1m2.5 -0.3h1m11.6 16.9h1m-13.8 -3.3h1m-4.3 -7.2h1m28.1 -4h1m12 -14.8h1m-36.2 -1.3h1m25.9 -3.2h1m21.5 8.2h1m-36.9 -16.4h1m5.5 1.6h1m29.3 -3.3h1m-32.4 7.7h1m-4.2 -5.6h1m-5.4 3h1m15.3 -4.7h1m-16.5 -3.8h1m11.7 13.7h1m-12.4 4.4h1m13.8 1.4h1m20.9 -6.1h1m-11.8 -4.3h1m12.1 3.8h1m-2.1 2.5h1m-39.5 -3.2h1m28.3 1.7h1m-7.3 -9.6h1m-24.7 -1.9h1m19 5.5h1m-8 -0.7h1m19.9 5h1m3.6 0.5h1m-30.6 -6.2h1m-26 16.8h1m13.8 -25h1m12.6 20.7h1m-24.6 -4.3h1m48.9 3.6h1m-45.4 -17.3h1m33.3 7.1h1m-48.2 8h1m3.6 2.2h1m38.8 -4.5h1m-34.9 -8.6h1m-0.7 13.2h1m22.5 -9.7h1m11.5 9.1h1m-4.5 -7.5h1m-12.8 2.2h1m25.4 5.6h1m-53.9 -0.7h1m7.8 -11.2h1m-9.5 24.2h1m15.2 -11.3h1m-1.4 2.1h1m36.2 -4.7h1m-15.3 -14.6h1m-39.2 25.4h1m8 -24.8h1m33.2 5.1h1m-1.1 2.4h1m-17.9 -3.3h1m14.6 -1.5h1m-16.5 -1.4h1m0.1 18.6h1m13.3 -13.8h1m-43.8 11.3h1m10.1 0.6h1m-4.2 -15h1m10.6 5.5h1m-2.3 5.3h1m30.7 4.2h1m-23.4 -13.5h1m2.1 -0.3h1m-20.6 -3.9h1m32.6 4.7h1m-20.3 -2.1h1m21.6 10.6h1m-52.8 -0.5h1m18.3 -11.1h1m11.7 8.7h1m-22.4 0.3h1m-15.7 3.1h1m37.4 -3.8h1m-13.2 2.3h1m24.4 -8h1m-5.7 1h1m3.6 4.3h1m-40.4 9.6h1m8.7 -8.3h1m13.6 -5h1m-23.8 4.4h1m23.4 -9.8h1m-4.8 -1.4h1m27.4 17.5h1m-6 7.6h1m-20 -21.3h1m-1.6 -1.7h1m20.2 7.6h1m-52.8 11.4h1m52.5 -19.6h1m-21.2 2.9h1m4.3 4.3h1m-18.1 7.7h1m10.5 -13.1h1m-2.6 12.1h1m-28.5 6h1m38.4 -7.6h1m10.8 4.3h1m-55.5 -2.2h1m-0.7 8.2h1m11 -21.1h1m14.6 6.9h1m-27.1 -10.7h1m9.6 9.1h1m36.3 2.8h1m-27.2 8h1m-8.6 -21.5h1m-9.8 1.3h1m35.8 6h1m8.2 -1.3h1m-40.1 -2.3h1m37.4 8.4h1m-23.7 -0.3h1m-32.2 -4.7h1m23.2 16.8h1m-18 -6h1m12.2 1.4h1m-6.3 -8.2h1m6.9 -7.9h1m3.3 10.3h1m16.5 -6.5h1m-44.6 3.3h1m27.5 10.3h1m-29 -19.8h1m-6.3 19.7h1m0.5 -1.7h1m15.6 -2.9h1m1.8 4.2h1m14.1 -8.1h1m6.6 -7.1h1m-23.3 7.1h1m33.2 1.9h1m-21.3 -1.4h1m-9.2 -4.4h1m20.4 -2.4h1m4.6 1.6h1m-54.2 9.4h1m20.7 -5.3h1m2.2 -7.2h1m3.4 20.5h1m-16.7 -1.7h1m-15.5 -20.1h1m9.8 19.5h1m28.3 -13h1m-2 -11.6h1m3.3 12.3h1m-14.8 3.5h1m8.1 -10h1m-34.3 24.9h1m25.6 -8h1m0.1 -2.5h1m-27.5 -15.8h1m24.7 4h1m-10.2 -3.2h1m34.5 19.5h1m-7.7 -6.7h1m-21.4 17h1m-19.3 -25.7h1m9.4 3.3h1m23.3 -13.3h1m-17.9 18.2h1m13.1 -12.3h1m-23.8 10h1m14.2 4.7h1m-33.1 -17.4h1m9.7 -1h1m41.4 12.8h1m-3 1.6h1m-35 -6.1h1m-8.9 0.6h1m25 -9.8h1m-24.4 12.6h1m11.2 0h1m-19.9 14h1m38.2 -14.5h1m-2 -11.1h1m-5.2 13.1h1m-31.8 -9.8h1m36 14.5h1m-33 -3.5h1m-14 5.2h1m22 -0.1h1m6.7 -2.8h1m13.3 -12.3h1m-10.1 13.7h1m-36.2 5.5h1m-2.8 -0.5h1m39.3 -11h1m-42.3 19.8h1m51.6 -19.8h1m-33 -9.4h1m-19.4 0.4h1m49 9.6h1m-38.9 -8.3h1" stroke="#eef7ea" stroke-width="1"/>
<path d="M635.5 430.5h1m18.6 1.4h1m-39.8 -12.4h1m-7.4 -0.6h1m40.9 -4.9h1m-17 25.7h1m-27.9 -15.7h1m22 14.9h1m-26.4 -27.7h1m34.7 10.7h1m-29.5 5.2h1m27.6 -11.8h1m-31.6 5.4h1m31.7 5.6h1m-7.5 0.7h1m17.3 -22.3h1m-35.3 27.7h1m11.4 4.5h1m-23.9 -13.6h1m-6.3 -1.4h1m50.4 14.6h1m-44.3 -3.8h1m31.9 1.7h1m-10.6 4.8h1m8.7 -11.3h1m5.7 -13.1h1m-8.3 15.1h1m-12 3.9h1m-15.6 -7.4h1m-6.4 -11h1m19.7 20.2h1m-16.4 -3.4h1m-0.6 -5.7h1m26.6 13.7h1m-7.4 -18.2h1m-26.3 15.5h1m22.5 -12.3h1m-21.3 7.3h1m33.2 -2h1m-43 -4.8h1m24.8 10.1h1m-5.5 -11.8h1m5.5 2.8h1m9 -0.1h1m10.5 -6.3h1m-33.9 -5.1h1m1.1 7.5h1m-16.6 -13.2h1m37.4 18.8h1m-42.6 -16.7h1m35 16.4h1m-11.9 6.3h1m7.2 -16.1h1m-20.6 2h1m16.7 11.9h1m-17.4 -5.3h1m-16.6 2.8h1m44.4 -7.9h1m-30.2 13.1h1m24.5 -0.8h1m-25.6 4.3h1m7.6 -14.7h1m-8.6 -23.7h1m10.6 6h1m-28.2 -2.3h1m-10 -4.7h1m7.2 9.2h1m16.9 -10.5h1m2.2 -14.3h1m1.3 22.8h1m22.2 0.6h1m-29.8 -16h1m18.9 -0.7h1m-8.5 0.6h1m-7.1 16.2h1m21.8 -11.8h1m-34.5 -2.3h1m29.3 -8.8h1m-28.5 5.1h1m14.5 8.3h1m-0.6 -9.2h1m-30 17.3h1m-1.5 4.9h1m19.8 -21.7h1m-20.1 14.2h1m-1.6 2.1h1m-11.5 -3.1h1m26.4 5.1h1m-17.6 5.8h1m10.1 -28.4h1m-16.6 26.3h1m30.4 -16.6h1m1.9 -2.4h1m-21.6 -5.7h1m-17.7 0.1h1m2.5 19.3h1m51 -5.3h1m-7.5 3.6h1m-36.2 -5.3h1m-2.5 -10h1m5.6 -0.2h1m2.7 -1.3h1m12.7 -0.4h1m-12.9 3h1m9.8 12.6h1m-10.8 -2.3h1m5.7 -8.7h1m-34.9 16h1m37.9 -23.4h1m-34.3 14.9h1m26.8 -6.3h1m16.4 9.2h1m-5.8 -7.4h1m-5.4 -1.4h1m-22.7 5.3h1m8.7 0.8h1m-7.4 5.1h1m15.7 -13.5h1m-31.4 16.9h1m4.9 -15.4h1m0.8 16.9h1m37.9 -4.5h1m-26.7 -3.9h1m22.7 3.3h1m-25.4 -4.3h1m9.4 9.1h1m-4.5 -25.7h1m-9 8.8h1m16 -3.5h1m-43 22.5h1m11.6 -23.9h1m35.7 24.4h1m-18.1 -21.1h1m-25.3 4.3h1m13.7 1.3h1m-28.3 9.7h1m2.7 2.2h1m8.9 -22.3h1m30.9 18.1h1" stroke="#e6f3df" stroke-width="1"/>
<path d="M616.2 422.8h1m40.9 9.5h1m-3 -5.7h1m-15.6 -3.3h1m-0.2 -1.7h1m-29.9 -0.4h1m29.8 4.1h1m-17.3 9.7h1m-17.4 -13.7h1m33.4 7.3h1m0.5 3.4h1m13.6 -19.9h1m-6.2 8h1m-14.4 12.7h1m-14.4 1.6h1m27.6 -13.8h1m-4.9 9.2h1m-0.2 -1h1m-21.4 12.5h1m20.2 -6.3h1m-27.3 2.3h1m12.6 -3.1h1m1.4 -15.2h1m5.5 -7.8h1m-2.6 2h1m-8.5 29.1h1m15.6 -36.1h1m-40.5 -16.8h1m14.8 1.9h1m-13.9 -2.1h1m10.7 22h1m-24 -0.4h1m49.9 -9.6h1m-47 -13.7h1m29.1 11.6h1m-16.5 3.6h1m15.4 -12.6h1m-37.9 19.8h1m40 -6h1m-36.3 -12.8h1m26 13h1m23.5 -6h1m-20.8 -9h1m-35.7 16.5h1m17.9 -9.6h1m20.5 -7.6h1m-7.2 12.8h1m-38.2 1.3h1m21 1.9h1m-14.3 -2.9h1m19 8.4h1m25.3 -17h1m-17.2 6h1m-21.3 -6.6h1m31.6 -0.8h1m-47.8 1h1m-4.3 8.8h1m7.2 -12h1m43.5 8.8h1m-27.5 1h1m-3.6 5.5h1m7.7 -18.1h1m-21.5 12.7h1m14.5 -2.2h1m-2.5 -7.4h1m8.7 0.6h1m17.5 1.4h1m-52.8 5.1h1m6.2 -9.3h1m3.4 4.8h1m5.5 13.6h1m21.5 -2.5h1m-34.7 -15.3h1m18.1 20h1m3.9 -13.4h1m-9 -1.8h1m-11.2 18.4h1m-16.3 -3.8h1m49.9 -14.7h1" stroke="#c9e7c4" stroke-width="1"/>
<path d="M649.8 427.1h1m-18.5 -11.4h1m2.9 22h1m-2.6 -15h1m17.8 11.1h1m-17.5 2.5h1m-14.9 -7.6h1m20.8 -4.7h1m-0.5 10.5h1m8.8 2.1h1m-12.8 -4.4h1m-2.1 -7.8h1m-36.5 -17.8h1m41.6 -7.6h1m-45.3 7.5h1m20.7 -21.9h1m11.5 3.6h1m15.5 4h1m-14.1 3.2h1m-28.4 11.2h1m-7.2 -6.8h1m-1 5.5h1m12 -18.9h1m-12.2 19.3h1m46 3h1m-43.3 -1.8h1m9.1 -14.2h1m33.8 -6.4h1m-43.6 4.9h1m14.3 0.8h1m-0.2 2.4h1" stroke="#8fd0b8" stroke-width="1"/>
<path d="M624.2 430h1m32 -13.4h1m-51.4 19.7h1m8.4 -14.3h1m30.8 -21.5h1m-25.8 -14h1m-6.9 22.3h1m45.3 -6.3h1m-33.7 6.9h1m18.2 -7.6h1m8.3 3.6h1m-1.5 -19.3h1m-32.4 8.6h1m-13.3 8.9h1m-5.1 0.4h1m49.5 4.9h1m-44.9 -16.4h1m21.3 13.3h1m-3.6 -2.1h1m1.3 -6.6h1m-14.6 14.4h1m4.5 -26.1h1m10.9 -3.7h1" stroke="#46a7bd" stroke-width="1"/>
<path d="M633.8 441.6h1.4m-14.2 -9.1h1.4m11.7 5h1.4m13.9 -15.9h1.4m-6.8 7.8h1.4m-6.8 -1.6h1.4m0.4 1.4h1.4m-34.4 -21.2h1.4m23.5 -18.1h1.4m24.5 2h1.4" stroke="#2a72b0" stroke-width="1.4"/>
<path d="M660.2 405.2h1.6m-33 -7.2h1.6m15.8 0.5h1.6m-0.4 -7h1.6" stroke="#1f4f94" stroke-width="1.6"/>
<rect x="602.20" y="378.00" width="69.80" height="69.40" fill="none" stroke="#2a2a2a" stroke-width="1.1"/>
<text x="633.5" y="458.8" font-size="10" font-style="italic" text-anchor="middle" fill="#333">DNMT3A</text>
<line x1="430.2" y1="357.5" x2="479.4" y2="389.4" stroke="#b4507e" stroke-width="0.8"/>
<line x1="499.7" y1="357.5" x2="492.6" y2="389.4" stroke="#b4507e" stroke-width="0.8"/>
<line x1="516.5" y1="357.5" x2="505.4" y2="389.4" stroke="#b4507e" stroke-width="0.8"/>
<line x1="585.7" y1="357.5" x2="518.8" y2="389.4" stroke="#b4507e" stroke-width="0.8"/>
<line x1="603.4" y1="357.5" x2="528.3" y2="389.4" stroke="#b4507e" stroke-width="0.8"/>
<line x1="672.4" y1="357.5" x2="541.6" y2="389.4" stroke="#b4507e" stroke-width="0.8"/>
<line x1="456" y1="399.5" x2="584.7" y2="399.5" stroke="#3c3c4c" stroke-width="2.2"/>
<text x="451.8" y="403" font-size="10" text-anchor="end" fill="#333">C2</text>
<rect x="551.9" y="395.5" width="22.3" height="8" rx="2.5" fill="#4a4a4a"/>
<path d="M573.3 395.5V390.9H564.5" fill="none" stroke="#333" stroke-width="1"/>
<path d="M562 390.9l3.6 -2.3v4.6z" fill="#333"/>
<line x1="456" y1="431.7" x2="584.7" y2="431.7" stroke="#3c3c4c" stroke-width="2.2"/>
<text x="451.8" y="435.2" font-size="10" text-anchor="end" fill="#333">C1</text>
<rect x="551.9" y="427.7" width="22.3" height="8" rx="2.5" fill="#4a4a4a"/>
<path d="M573.3 427.7V423.1H564.5" fill="none" stroke="#333" stroke-width="1"/>
<path d="M562 423.1l3.6 -2.3v4.6z" fill="#333"/>
<rect x="482.70" y="395.50" width="6.8" height="8" rx="2" fill="#fff" stroke="#7b3fb0" stroke-width="1.1"/>
<rect x="508.30" y="395.10" width="7.6" height="8.8" rx="2.2" fill="#4a8eb4"/>
<rect x="531.20" y="395.10" width="7.6" height="8.8" rx="2.2" fill="#b8392a"/>
<rect x="482.30" y="427.30" width="7.6" height="8.8" rx="2.2" fill="#7b3fb0"/>
<rect x="508.70" y="427.70" width="6.8" height="8" rx="2" fill="#fff" stroke="#4a8eb4" stroke-width="1.1"/>
<rect x="531.20" y="427.30" width="7.6" height="8.8" rx="2.2" fill="#b8392a"/>
<rect x="479.4" y="389.4" width="13.2" height="48.9" fill="none" stroke="#b4507e" stroke-width="0.9"/>
<rect x="505.4" y="389.4" width="13.4" height="48.9" fill="none" stroke="#b4507e" stroke-width="0.9"/>
<rect x="528.3" y="389.4" width="13.3" height="48.9" fill="none" stroke="#b4507e" stroke-width="0.9"/>
<path d="M488.8 439.6V443H507.8V439.6" fill="none" stroke="#333" stroke-width="0.7"/>
<text x="498.3" y="450.5" font-size="6.8" text-anchor="middle" fill="#333">11k</text>
<path d="M513.5 439.6V443H532.2V439.6" fill="none" stroke="#333" stroke-width="0.7"/>
<text x="522.9" y="450.5" font-size="6.8" text-anchor="middle" fill="#333">0.9k</text>
<path d="M537.5 439.6V443H555.6V439.6" fill="none" stroke="#333" stroke-width="0.7"/>
<text x="546.5" y="450.5" font-size="6.8" text-anchor="middle" fill="#333">10k</text>
<text x="559" y="447.2" font-size="6.6" font-style="italic" fill="#333">DNMT3A</text>
<text x="536.2" y="473.5" font-size="8.2" text-anchor="middle" fill="#333">denoised gene expression</text>
<linearGradient id="cbG" x1="0" y1="0" x2="1" y2="0"><stop offset="0" stop-color="#ffffff"/><stop offset="0.35" stop-color="#dff0d8"/><stop offset="0.6" stop-color="#8fd0b8"/><stop offset="0.8" stop-color="#3b8fb8"/><stop offset="1" stop-color="#1f4f8f"/></linearGradient>
<rect x="512.3" y="477.4" width="32.9" height="7.5" fill="url(#cbG)"/>
<text x="514.4" y="493.3" font-size="6.3" text-anchor="middle" fill="#333">0</text>
<text x="542.9" y="493.3" font-size="6.3" text-anchor="middle" fill="#333">1</text>
<text x="631.3" y="473.5" font-size="8.2" text-anchor="middle" fill="#333">denoised accessibility</text>
<linearGradient id="cbM" x1="0" y1="0" x2="1" y2="0"><stop offset="0" stop-color="#ffffff"/><stop offset="0.3" stop-color="#fce0e4"/><stop offset="0.6" stop-color="#f5a3c0"/><stop offset="0.8" stop-color="#e05aa6"/><stop offset="1" stop-color="#b8208f"/></linearGradient>
<rect x="608.7" y="477.4" width="33.8" height="7.5" fill="url(#cbM)"/>
<text x="610.2" y="493.3" font-size="6.3" text-anchor="middle" fill="#333">0</text>
<text x="639.2" y="493.3" font-size="6.3" text-anchor="middle" fill="#333">1</text>
<text x="-0.1" y="538.8" font-size="14" font-weight="bold">i</text>
<text x="121.1" y="538.8" font-size="14" font-weight="bold">j</text>
<text x="59" y="559" font-size="11.5" font-weight="bold" text-anchor="middle">BRCA</text>
<rect x="8.20" y="564.90" width="115.60" height="115.60" fill="none" stroke="#2a2a2a" stroke-width="1.1"/>
<linearGradient id="he" x1="0" y1="0" x2="0.3" y2="1"><stop offset="0" stop-color="#cda0c6"/><stop offset="0.35" stop-color="#d9a3ca"/><stop offset="0.6" stop-color="#e6a4cb"/><stop offset="1" stop-color="#e8a9ce"/></linearGradient>
<path d="M20.8 571.9 L27.8 574 L40 578 L54 582.8 L65 588 L75 593.3 L84 599 L92.6 605.9 L97 607.5 L103.1 608.2 L110.1 607 L110.6 620 L110.1 642.3 L109.5 650 L108.4 658 L103 662 L97.9 665 L96.5 670 L96.1 673.9 L85 675 L75 675.6 L60 674.5 L40 673.9 L30 673 L22.5 672.1 L18.1 665.1 L18.5 650 L19 630 L19.5 612 L19.9 595 L20.2 583Z" fill="url(#he)"/>
<path d="M28 576 C40 580 60 585 75 594 C80 605 72 616 60 618 C45 619 32 612 28 600Z" fill="#b98db5" opacity="0.45"/>
<path d="M40.7 628.1h0.8m11.2 6.1h0.8m-33.3 24.1h0.8m21.6 -62.2h0.8m66.2 24.3h0.8m-15.3 0.7h0.8m-19.1 40.3h0.8m-11 -13.1h0.8m20.6 -15.4h0.8m9 -12.2h0.8m-14.2 41.8h0.8m-1.2 4.4h0.8m-29.9 -12.4h0.8m3.8 13.9h0.8m-28.9 -74.1h0.8m74.7 22.6h0.8m-31.7 -13.9h0.8m-11.6 8.7h0.8m-15.1 20.6h0.8m20.5 32.8h0.8m8.1 2.6h0.8m15 6.4h0.8m3.6 -43.5h0.8m-7.4 0.5h0.8m1.2 42.9h0.8m-70.4 -19.5h0.8m17.8 -3.3h0.8m37.9 -45.1h0.8m-20.2 68.7h0.8m-28.8 -60.8h0.8m-14.9 47.4h0.8m23.9 9.3h0.8m52.2 -59.8h0.8m-40.5 14.7h0.8m15.9 7.8h0.8m-8.5 2.5h0.8m33.9 -11.7h0.8m-47.2 22h0.8m-18.4 -43.2h0.8m66.6 22.7h0.8m-52 6h0.8m-36.8 3.7h0.8m54.5 -15.4h0.8m3.9 -11.7h0.8m1.7 39.7h0.8m-63.1 -69.8h0.8m58.7 93h0.8m-39.4 -52.2h0.8m30.2 -14h0.8m-21.6 -0.8h0.8m-0.3 29.1h0.8m-7.1 -22.5h0.8m23.7 36.9h0.8m-24.4 -52.8h0.8m-11.9 21.9h0.8m11.4 -10.4h0.8m45.8 10.8h0.8m-46.1 21.8h0.8m49.1 -20.5h0.8m-60.8 -34h0.8m52.1 73.9h0.8m-57.5 -57.7h0.8m56 37.4h0.8m-0.9 -30.5h0.8m-62.4 -5.5h0.8m18.9 12.8h0.8m5.9 -0.7h0.8m-38.6 55h0.8m38.3 0.7h0.8m27.5 -11.7h0.8m-8.3 -32.7h0.8m-34.8 -18.4h0.8m26.5 -5.5h0.8m27.8 41.9h0.8m-1.1 -12.1h0.8m-81.5 17.4h0.8m13.6 -45.9h0.8m43.9 23.2h0.8m-23.4 42.6h0.8m17.2 -61.5h0.8m-33.5 53.6h0.8m19.6 -8.2h0.8m-12.2 -60.3h0.8m15.9 63.8h0.8m-33.9 -2.6h0.8m67.5 1.5h0.8m-27.5 5.8h0.8m-53.5 -60.8h0.8m19.1 26.3h0.8m13.3 -5.6h0.8m-34.3 -35.6h0.8m5.5 -6.1h0.8m76.6 81h0.8m-81.7 -36.3h0.8m20.1 -19.3h0.8m2.5 34.2h0.8m20.6 -29.4h0.8m-36.8 -3.3h0.8m-6.9 23.3h0.8m53.1 -18h0.8m-58.7 -20.8h0.8m25.9 43.9h0.8m36.4 -23.1h0.8m0.9 25h0.8m-34.4 -25.8h0.8m5 34h0.8m-7.6 -0.9h0.8m2.8 -46.3h0.8m6.1 46.4h0.8m-43.1 -27.8h0.8m31.5 46.8h0.8m45.6 -52.1h0.8m-4.3 43h0.8m-58.6 -33.7h0.8m-13.5 36h0.8m48.3 7.6h0.8m11 -22.6h0.8m-6.1 -10.7h0.8m-58.2 2.4h0.8m-9.8 -45.7h0.8m7.2 -4.6h0.8m-7.1 76.5h0.8m8.1 0.2h0.8m49.5 -0.8h0.8m24.6 -26.5h0.8m-17.7 -6.9h0.8m-2.4 43.6h0.8m-63.4 -62.9h0.8m44.9 51.9h0.8m-30.1 -66.8h0.8m-0.1 44.9h0.8m45.1 -22.8h0.8m-36 0.3h0.8m-2.3 2.2h0.8m-25.1 8.4h0.8m80.1 -9h0.8m-26.4 35.4h0.8m-2.4 -24.6h0.8m-18.1 12.9h0.8m-36.1 10.9h0.8m73.9 -23.8h0.8m-43.9 20.7h0.8m-24.2 -46.5h0.8m0.4 32.8h0.8m9.8 -36.4h0.8m33.4 74.3h0.8m-36.8 -25.6h0.8m9.9 15.3h0.8m14.8 -60.4h0.8m-10.4 11.9h0.8m-28.7 -2.3h0.8m12.8 42.6h0.8m-17 22.4h0.8m29.7 -40.4h0.8m-1.8 24.3h0.8m31.4 -28.6h0.8m-31.8 16.8h0.8m33.4 -33h0.8m-12 57.7h0.8m-25.1 -75.3h0.8m-21.9 50.3h0.8m39.3 24.8h0.8m-45 -72.1h0.8m-1.1 46h0.8m5.4 16.5h0.8m4.5 -45.5h0.8m-20.9 42.3h0.8m17.4 -49.2h0.8m25.4 32.9h0.8m-53 -35.1h0.8m38.3 15.5h0.8m-21.4 10.3h0.8m67 -20h0.8m-62.7 28.2h0.8m-15.6 22.9h0.8m74.7 -52.9h0.8m-16.2 39.5h0.8m-44.2 -8.4h0.8m31.8 13.4h0.8m-36.1 -5.3h0.8m62.5 -8.4h0.8m-43.4 -33h0.8m19.6 33.6h0.8m-7.3 -4.9h0.8m-43.3 26.7h0.8m13.1 -17.5h0.8m23.4 -17h0.8m3.7 -10.1h0.8m-31.3 -28.9h0.8m-23 55.5h0.8m61.7 -17.8h0.8m-2.2 -18.9h0.8m-43.9 2.5h0.8m20.9 -14h0.8m23.3 11h0.8m-40.5 5h0.8m18.2 38h0.8m-18 7.7h0.8m-22.7 -59.3h0.8m-1.9 -16.3h0.8m61 63.3h0.8m-54.9 -55.4h0.8m20.3 57.1h0.8m35.5 0.5h0.8m-38.7 -57.2h0.8m10.9 38.6h0.8m-30.4 -32.7h0.8m53.9 66h0.8m12.5 -52.3h0.8m-36.9 20.6h0.8m6.6 40.5h0.8m4 -69.8h0.8m15 19.1h0.8m-24.4 25h0.8m-55.3 4.5h0.8m59.2 -28.7h0.8m-13.3 -3.3h0.8m-30.9 7.1h0.8m-15 -3h0.8m54.6 -5.7h0.8m-8.1 53h0.8m19.8 -34.6h0.8m-68.3 -27.1h0.8m43.6 58.7h0.8m-20.4 -6.1h0.8m47.9 -27.8h0.8m5.5 11.8h0.8m-17.9 -38.3h0.8m5.3 60.6h0.8m4.2 -51h0.8m-10.3 5h0.8m-62.6 -29.4h0.8m6.7 30.6h0.8m48.2 4.2h0.8m-26 11.5h0.8m-11.5 -19.1h0.8m40.4 -6.4h0.8m-53.3 51.2h0.8m48.3 -54.8h0.8m-32.5 16.7h0.8m-34.4 -33h0.8m40.9 -1.4h0.8m-23.7 -2.5h0.8m-17.3 -6.3h0.8m12 39.2h0.8m24.7 -8.5h0.8m-4.9 -1.1h0.8m-35.1 58.5h0.8m16.7 -89.7h0.8m35.9 26h0.8m14.3 12.2h0.8m-49.8 -20.5h0.8m50.6 37.4h0.8m-12.8 35h0.8m-60.1 -90.5h0.8m1.3 58.1h0.8m82.9 -18.3h0.8m-16.3 45.4h0.8m-46.2 -32h0.8m-1.8 25h0.8m-17.1 -47.3h0.8m19.2 29.8h0.8m36.1 5.6h0.8m7.9 -18.6h0.8m7.2 -19.6h0.8m-47.1 -13.8h0.8m32.4 25.9h0.8m-47.2 -32h0.8m40.3 44.9h0.8m-1.7 -22.6h0.8m-23 38.3h0.8m-21.7 8.8h0.8m36.1 3.6h0.8m20.1 -44.2h0.8m1.4 29.2h0.8m-52 -37.4h0.8m-24.6 3h0.8m0 25.8h0.8m5.7 -0.5h0.8m6.2 33.2h0.8m-1.7 -41.7h0.8m17.4 22.6h0.8m16 0.7h0.8m-39.6 -73h0.8m-14.8 91.3h0.8m15.1 -7.5h0.8m-11.1 -44.1h0.8m11.7 37.5h0.8m34.9 -19.3h0.8m12.5 23.7h0.8m-38.6 -27.7h0.8m43.7 -0.9h0.8m-27.7 -13.4h0.8m-18.4 2.1h0.8m-25.8 7h0.8m59.6 -13.3h0.8m-8.7 18.8h0.8m-40.3 -26.3h0.8m-0.5 -19.1h0.8m64.1 57.8h0.8m-29.8 21.1h0.8m-7.7 -52.8h0.8m36.8 6.8h0.8m-16.8 -8h0.8m-44.6 54.3h0.8m-10.6 -86.3h0.8m29.7 55.9h0.8m-44.4 11h0.8m20.6 -32.3h0.8m5.5 31.9h0.8m-22.8 -45.6h0.8m3.7 47.8h0.8m49 22h0.8m24.6 -10.4h0.8m-56 -73.6h0.8m-6.3 31.1h0.8m18.7 8.1h0.8m-16 32h0.8m-7.5 -40.1h0.8m53.9 35.4h0.8m-54.4 -58.1h0.8m-15.9 29.7h0.8m-8.2 -33.7h0.8m64.7 27h0.8m18.2 32.9h0.8m-50.6 -46.1h0.8m-35.4 21.4h0.8m3 -24.1h0.8m13.2 50.5h0.8m14.8 -55.8h0.8m-34.9 17.4h0.8m52.3 25.3h0.8m25.1 13.8h0.8m-61.3 -69.3h0.8m45.7 67.3h0.8m-23.5 4.3h0.8m3.1 -56.8h0.8m7.5 63.6h0.8m23.2 -44.2h0.8m-22.7 47.4h0.8m12.7 -33.5h0.8m-37.2 -8.7h0.8m-23 -34.6h0.8m45.9 83.4h0.8m-13.2 -60.2h0.8m-18.6 4.9h0.8m40.3 -0.3h0.8m-45.2 7.2h0.8m8 33.9h0.8m37 8.2h0.8" stroke="#f5d6e6" stroke-width="0.8"/>
<path d="M71.3 628.6h0.7m-8.6 -27.8h0.7m19.5 65.1h0.7m-56 -25h0.7m23.8 -15.9h0.7m0.4 32.3h0.7m-6.8 -57.4h0.7m-0.6 12.5h0.7m-3.9 -26.9h0.7m-3.6 87.5h0.7m-16.3 -77.3h0.7m40 52.8h0.7m27.7 -11.5h0.7m-51.3 34h0.7m-20.1 -71.4h0.7m36.9 0h0.7m-23.1 71h0.7m-9.1 -5.3h0.7m2.4 9h0.7m44.5 -35.7h0.7m-44.8 18.1h0.7m69.4 -29.6h0.7m-52.6 46.6h0.7m-10.7 -88.2h0.7m-13 -0.4h0.7m18.2 81.1h0.7m-25.8 -74.4h0.7m24.5 78.1h0.7m11.2 -25.4h0.7m-13.4 4.6h0.7m39.1 -18.5h0.7m-29.7 -3.2h0.7m-2.7 -0.4h0.7m13.2 41.1h0.7m32.9 -9.6h0.7m-73.1 -59.1h0.7m73 14.8h0.7m-88.4 47.4h0.7m70.3 12.5h0.7m-10.6 -48h0.7m-13.9 -8.7h0.7m-36.6 16.4h0.7m15.4 -9.6h0.7m3.9 -19.4h0.7m-2.1 29.1h0.7m45.2 24.1h0.7m-53.1 14.6h0.7m-2.3 -87.9h0.7m20.4 62.7h0.7m-15.3 -8.9h0.7m-6 33.1h0.7m14.8 -50.4h0.7m6.5 40.9h0.7m40.7 -35.7h0.7m-50.3 9.2h0.7m-34.6 -19.8h0.7m70.1 36.3h0.7m-72.4 7.9h0.7m28.8 13.1h0.7m-2.2 -79h0.7m15.8 68.9h0.7m-11.4 -1.7h0.7m24.8 -52.1h0.7m-38 14.8h0.7m8.2 -13.6h0.7m22.3 51.7h0.7m-40 -51.9h0.7m-13.3 -5.2h0.7m40.9 61.9h0.7m-1.1 -18.9h0.7m26.1 10.3h0.7m7 -40.8h0.7m-3.7 -6.5h0.7m-37.5 52.7h0.7m-17.9 -72.1h0.7m48.1 42.1h0.7m-50.7 -21.7h0.7m21 4.5h0.7m9.9 23.5h0.7m31.2 3.2h0.7m-82.2 -25.7h0.7m60.3 56.7h0.7m-25.6 -58.7h0.7m37 41.6h0.7m-51.9 -42h0.7m22.1 48h0.7m-35.3 -50.7h0.7m-11.1 25.7h0.7m-6.3 30.2h0.7m44.6 -37.2h0.7m-40.6 -35.2h0.7m34.2 64.4h0.7m5.7 -59h0.7m39.6 38.8h0.7m-62.9 24.6h0.7m-15.8 -37.9h0.7m43.6 -18.2h0.7m12.9 57.1h0.7m7.3 -17.7h0.7m-39.3 -43.9h0.7m-22.5 57.7h0.7m1.4 -5.1h0.7m62.7 -43.8h0.7m-64.5 -21.7h0.7m-16.6 32.2h0.7m30.9 36.3h0.7m0.8 -47.6h0.7m-21 -14.3h0.7m7.1 45.7h0.7m-4.6 -26h0.7m30.6 -20.2h0.7m8.9 37.5h0.7m-45.7 14.6h0.7m19.2 -21.8h0.7m17.8 9.1h0.7m16.5 23.8h0.7m-27.7 -28.9h0.7m-20.9 33h0.7m49.3 9h0.7m-43.6 0.9h0.7m33 -67.6h0.7m0.7 25.2h0.7m-57.5 -5.7h0.7m66.9 -5.2h0.7m-29 39.7h0.7m-9.2 -38.2h0.7m11.7 34.2h0.7m-35.2 -75.3h0.7m50.1 47.3h0.7m-42.4 35h0.7m52.2 -36.1h0.7m8.7 30.3h0.7m-89.6 -16.2h0.7m65.2 -33.8h0.7m-24 22.3h0.7m-21.6 13.5h0.7m27.8 -32.2h0.7m-41.9 17.4h0.7m18.4 17.6h0.7m-14.1 -34.1h0.7m1.5 1.5h0.7m-13.6 7.6h0.7m12.6 2.3h0.7m-3.8 -41.6h0.7m33 84.7h0.7m29.4 -42h0.7m-54.6 -20.7h0.7m60.5 16.7h0.7m-47.5 -22.1h0.7m11.8 25.6h0.7m-34.5 -29.6h0.7m70.8 58.5h0.7m-23.7 11.5h0.7m-58.4 -20.5h0.7m31.9 27.9h0.7m-12.6 -21.9h0.7m-15.4 -9.8h0.7m8.8 -16.3h0.7m8.7 37.2h0.7m33.2 -37.7h0.7m-6 -7.9h0.7m-13.7 16.3h0.7m-34.7 5.7h0.7m3 12.1h0.7m26 20.1h0.7m30.6 -23.3h0.7m-27.2 1.9h0.7m-37 24.2h0.7m52.2 -51.1h0.7m-18.5 19h0.7m-37.8 -4.5h0.7m-12.5 -55.9h0.7m70.2 31.8h0.7m-30.7 62.1h0.7m13.4 -75.3h0.7m-30.7 44.9h0.7m20.9 -38.2h0.7m25.1 6.2h0.7m-0.4 5.8h0.7m-13.3 -12.2h0.7m-41 13h0.7m51.7 -11h0.7m-52.6 7.2h0.7m-12.9 -10.3h0.7m42.7 23.7h0.7m1.6 -26.3h0.7m-52.8 -27.2h0.7m27.8 17.5h0.7m20.3 7.1h0.7m16.8 34.6h0.7m-9.7 13.9h0.7m-13.5 -31.9h0.7m24.1 7.6h0.7m-63.9 43.9h0.7m43.2 -31.2h0.7" stroke="#b889b4" stroke-width="0.7" stroke-opacity="0.6"/>
<path d="M96.1 664h0.9m-6.3 -28h0.9m7 -14.1h0.9m8.8 9.3h0.9m-20.9 3.3h0.9m-1.1 13.2h0.9m18.1 11h0.9m-18.9 -12.9h0.9m4.7 -11.3h0.9m-1 -9.4h0.9m-4.6 17.9h0.9m-1.9 19h0.9m-1.8 0h0.9m2.3 -49.3h0.9m11.3 25h0.9m-0.4 -1.2h0.9m-3.9 -23.9h0.9m0 24.1h0.9m5.5 -28.4h0.9m-20.6 37.6h0.9m18 -14.3h0.9m-5.7 7.8h0.9m-7.9 -5.3h0.9m3.7 -24.5h0.9m-7.4 39.7h0.9m-1.9 -14.8h0.9m-1 -6.5h0.9m7.8 21.6h0.9m5.9 -14.9h0.9m-17.5 -7.8h0.9m-4.1 -5.5h0.9m10.7 20.8h0.9m-8.5 -24h0.9m-4 -0.2h0.9m7.9 4.3h0.9m7.5 17.3h0.9m-12.8 -7.5h0.9m-7.5 16.9h0.9m14.7 -20.6h0.9m-1.4 -5.1h0.9m-12.1 -2.5h0.9m-1.4 21.1h0.9m8.9 6.9h0.9m-12.7 2.1h0.9m7.3 -21.7h0.9m-0.3 3h0.9m-7.6 -2.1h0.9m8.9 18h0.9m5 -29.2h0.9m-1.4 33.9h0.9m-4.8 10.1h0.9m-13.6 -11.4h0.9m15.9 -36.7h0.9m-7.6 46.2h0.9m-7.6 -5.1h0.9m12.6 -23.5h0.9m-17.6 -12.3h0.9m14.2 11.5h0.9m-12.3 1.2h0.9m12.6 -10.6h0.9m-20.9 39h0.9m5.7 -31.6h0.9m13.6 -5.8h0.9m-20.5 33.9h0.9m2.6 -37.3h0.9m14.3 0.4h0.9m-1.7 5.9h0.9m-14 -6.6h0.9m4.3 19.3h0.9m-4 -3h0.9m-3.1 18.5h0.9m13 -4.7h0.9m-3.4 -38.2h0.9m-13.4 7.4h0.9m-3 42.8h0.9m15.6 -3h0.9m-8.5 -44.7h0.9m-3.8 -3.4h0.9m9.6 11.8h0.9m-14.5 38.1h0.9m-2.8 -1.3h0.9m1.5 -14.5h0.9m-5.4 13.1h0.9m5.6 -31h0.9m4.7 13.9h0.9m-9.8 -26.2h0.9m6.3 -5.6h0.9m5.6 17.9h0.9m-16.4 -0.9h0.9m-2.1 -0.7h0.9m8.6 5.1h0.9m-5.5 -6.5h0.9m2.4 27.3h0.9m-2 -0.6h0.9m0.1 -36.3h0.9m-7.8 40.8h0.9m5.9 -26.1h0.9m-0.1 26h0.9m-3.9 -27.2h0.9m-1.1 -19.6h0.9m3 26.2h0.9m-2 -1.5h0.9m-1.4 14.8h0.9m-7.2 14.9h0.9m-2.5 -6.5h0.9m0.5 -4h0.9m0.9 -40.1h0.9m5.3 42.6h0.9m5.8 2.1h0.9m2.1 -46.1h0.9m-14.2 3h0.9m7.4 19.3h0.9m-1.1 19.3h0.9m4.7 -6.7h0.9m-3.6 -7.2h0.9m-18.4 19.2h0.9m-0.7 -45.1h0.9m15.4 10.9h0.9m-4.6 -14.1h0.9m-10.9 38.5h0.9m-4.7 -11.5h0.9m18.9 -16.6h0.9m-6 29.7h0.9m-2.8 1.2h0.9m0.9 -42.1h0.9m-12.1 29.2h0.9m16.2 -17.9h0.9m-9.3 -4.9h0.9m4.8 17.7h0.9m-8 12.6h0.9m-9.4 3.3h0.9m13.7 7.3h0.9m-12.3 -35h0.9m-3.5 37.3h0.9m5.1 -28.6h0.9m1 17.3h0.9m-5.4 -20.3h0.9m9 24.7h0.9m-11.3 -39.4h0.9m13 36.8h0.9m-8.2 -18.2h0.9m7.1 1.4h0.9m-17.2 -18.5h0.9m2 28h0.9m-0.6 19.4h0.9m5.4 -27.3h0.9m-0.7 8h0.9m-1.8 -6h0.9m-3 -0.2h0.9m5.9 -16.8h0.9m-1.9 6h0.9m0.5 -12.6h0.9m-8.9 20.7h0.9m4.1 -13.5h0.9m-10.8 -3.9h0.9m5.7 24.9h0.9m-13.3 -22.3h0.9m3.5 43.6h0.9m4.7 -21.9h0.9m-4.5 5.2h0.9" stroke="#ffffff" stroke-width="0.9"/>
<path d="M43.03 622.50C43.22 623.88 41.90 626.31 40.68 627.08C39.45 627.85 37.22 626.97 35.68 627.11C34.13 627.26 32.65 628.34 31.42 627.94C30.18 627.54 28.52 625.89 28.26 624.71C28.01 623.53 29.49 622.30 29.90 620.84C30.31 619.39 29.73 616.64 30.73 615.96C31.73 615.27 34.42 616.27 35.89 616.75C37.36 617.22 38.35 617.85 39.54 618.81C40.73 619.76 42.84 621.12 43.03 622.50Z" fill="#e2c6d6" fill-opacity="0.6" stroke="#e23a6a" stroke-width="0.8"/>
<path d="M57.97 624.80C58.06 625.73 57.35 627.04 56.55 627.76C55.76 628.48 54.46 628.86 53.22 629.12C51.98 629.39 50.11 629.84 49.12 629.38C48.12 628.91 47.49 627.31 47.27 626.32C47.04 625.33 47.25 624.16 47.76 623.43C48.26 622.69 49.38 622.43 50.30 621.92C51.21 621.40 52.29 620.29 53.25 620.34C54.21 620.38 55.26 621.44 56.05 622.19C56.84 622.93 57.89 623.87 57.97 624.80Z" fill="#e2c6d6" fill-opacity="0.6" stroke="#e23a6a" stroke-width="0.8"/>
<path d="M57.75 636.65C57.81 637.72 56.48 639.30 55.37 639.97C54.26 640.64 52.42 640.63 51.09 640.68C49.76 640.73 48.49 640.69 47.39 640.28C46.29 639.87 44.93 639.07 44.49 638.21C44.05 637.36 44.54 636.39 44.74 635.16C44.94 633.92 44.57 631.51 45.69 630.79C46.82 630.07 49.95 630.37 51.50 630.83C53.06 631.29 53.98 632.58 55.02 633.55C56.06 634.52 57.69 635.58 57.75 636.65Z" fill="#e2c6d6" fill-opacity="0.6" stroke="#e23a6a" stroke-width="0.8"/>
<path d="M63.86 635.75C63.90 636.01 63.68 636.46 63.46 636.61C63.24 636.77 62.84 636.62 62.53 636.68C62.21 636.74 61.79 637.08 61.58 636.98C61.37 636.89 61.42 636.41 61.27 636.11C61.13 635.82 60.64 635.41 60.73 635.20C60.82 635.00 61.51 634.97 61.81 634.88C62.12 634.80 62.32 634.64 62.56 634.67C62.79 634.70 63.02 634.88 63.24 635.06C63.46 635.24 63.82 635.49 63.86 635.75Z" fill="#e2c6d6" fill-opacity="0.6" stroke="#e23a6a" stroke-width="0.8"/>
<path d="M67.51 645.40C67.50 646.19 67.18 647.22 66.76 647.75C66.33 648.28 65.50 648.62 64.95 648.59C64.41 648.56 63.95 647.92 63.50 647.56C63.04 647.20 62.51 646.97 62.24 646.42C61.98 645.86 61.67 644.73 61.89 644.22C62.10 643.71 63.03 643.81 63.56 643.38C64.08 642.95 64.50 641.69 65.04 641.63C65.57 641.57 66.37 642.40 66.78 643.03C67.19 643.66 67.51 644.61 67.51 645.40Z" fill="#e2c6d6" fill-opacity="0.6" stroke="#e23a6a" stroke-width="0.8"/>
<path d="M83.05 655.35C83.02 656.66 82.12 658.24 81.35 659.17C80.59 660.11 79.53 660.63 78.46 660.97C77.38 661.31 75.62 661.89 74.90 661.22C74.17 660.55 74.24 658.19 74.10 656.94C73.95 655.69 73.70 654.59 74.01 653.72C74.31 652.85 75.22 652.14 75.93 651.69C76.64 651.25 77.34 651.08 78.27 651.02C79.20 650.96 80.74 650.62 81.54 651.34C82.34 652.06 83.08 654.04 83.05 655.35Z" fill="#e2c6d6" fill-opacity="0.6" stroke="#e23a6a" stroke-width="0.8"/>
<path d="M90.01 648.50C90.13 649.47 90.70 651.09 90.35 651.79C89.99 652.48 88.73 652.44 87.87 652.67C87.01 652.91 85.90 653.62 85.18 653.22C84.46 652.82 83.79 651.33 83.53 650.26C83.28 649.19 83.39 647.87 83.67 646.80C83.95 645.73 84.53 644.12 85.21 643.85C85.89 643.58 87.02 644.85 87.75 645.20C88.49 645.56 89.25 645.44 89.63 645.99C90.00 646.54 89.89 647.53 90.01 648.50Z" fill="#e2c6d6" fill-opacity="0.6" stroke="#e23a6a" stroke-width="0.8"/>
<path d="M29.24 651.55C29.22 652.19 29.00 652.88 28.58 653.43C28.15 653.98 27.45 654.62 26.67 654.84C25.88 655.06 24.61 655.10 23.88 654.75C23.15 654.40 22.60 653.48 22.27 652.73C21.94 651.98 21.62 650.94 21.92 650.26C22.22 649.57 23.29 648.86 24.06 648.62C24.83 648.37 25.79 648.63 26.56 648.79C27.33 648.95 28.25 649.12 28.69 649.58C29.14 650.04 29.26 650.91 29.24 651.55Z" fill="#e2c6d6" fill-opacity="0.6" stroke="#e23a6a" stroke-width="0.8"/>
<path d="M52.19 654.15C52.26 655.74 51.77 658.11 50.84 659.10C49.91 660.10 47.91 660.09 46.62 660.13C45.33 660.17 44.18 659.96 43.08 659.36C41.98 658.76 40.32 657.72 40.00 656.53C39.68 655.35 40.79 653.80 41.16 652.25C41.53 650.71 41.36 647.72 42.24 647.26C43.11 646.80 45.05 649.12 46.41 649.51C47.78 649.89 49.47 648.82 50.43 649.59C51.39 650.36 52.13 652.56 52.19 654.15Z" fill="#e2c6d6" fill-opacity="0.6" stroke="#e23a6a" stroke-width="0.8"/>
<path d="M41.75 665.50C41.45 666.92 40.39 667.86 39.56 668.96C38.72 670.07 37.92 671.81 36.76 672.15C35.60 672.50 34.02 671.69 32.62 671.05C31.22 670.41 29.04 669.67 28.38 668.30C27.71 666.92 27.95 664.25 28.63 662.80C29.30 661.35 31.04 660.44 32.43 659.60C33.81 658.76 35.45 657.63 36.94 657.77C38.43 657.91 40.57 659.14 41.37 660.42C42.18 661.71 42.05 664.08 41.75 665.50Z" fill="#e2c6d6" fill-opacity="0.6" stroke="#e23a6a" stroke-width="0.8"/>
<path d="M80.53 667.30C80.87 668.53 82.06 670.53 81.27 671.64C80.47 672.75 77.79 673.64 75.77 673.96C73.75 674.29 70.82 674.33 69.15 673.59C67.47 672.86 66.02 670.89 65.70 669.53C65.38 668.18 66.36 666.53 67.22 665.47C68.08 664.41 69.47 663.89 70.87 663.18C72.27 662.46 74.24 661.03 75.63 661.21C77.02 661.38 78.37 663.21 79.19 664.23C80.01 665.25 80.18 666.07 80.53 667.30Z" fill="#e2c6d6" fill-opacity="0.6" stroke="#e23a6a" stroke-width="0.8"/>
<path d="M65.23 659.00C65.24 659.98 64.40 661.09 63.71 661.95C63.02 662.80 62.03 664.03 61.10 664.12C60.18 664.22 58.94 663.14 58.18 662.50C57.41 661.87 57.03 661.23 56.52 660.34C56.01 659.45 54.92 658.07 55.13 657.15C55.34 656.24 56.84 655.21 57.80 654.84C58.76 654.48 59.93 654.76 60.91 654.96C61.89 655.17 62.96 655.40 63.69 656.08C64.41 656.75 65.23 658.02 65.23 659.00Z" fill="#e2c6d6" fill-opacity="0.6" stroke="#e23a6a" stroke-width="0.8"/>
<path d="M62.71 668.00C62.79 668.82 62.69 670.11 62.35 670.78C62.01 671.44 61.20 671.93 60.66 671.98C60.11 672.02 59.65 671.42 59.06 671.05C58.46 670.67 57.40 670.52 57.10 669.74C56.80 668.95 56.96 667.29 57.23 666.34C57.50 665.39 58.15 664.33 58.71 664.03C59.27 663.74 60.07 664.24 60.60 664.55C61.12 664.86 61.50 665.29 61.85 665.87C62.20 666.44 62.62 667.18 62.71 668.00Z" fill="#e2c6d6" fill-opacity="0.6" stroke="#e23a6a" stroke-width="0.8"/>
<path d="M54.26 654.00C54.31 654.92 54.12 656.32 53.81 657.04C53.50 657.75 52.82 658.30 52.38 658.28C51.94 658.25 51.58 657.36 51.16 656.91C50.75 656.45 50.07 656.25 49.89 655.54C49.71 654.82 49.90 653.41 50.10 652.61C50.29 651.82 50.69 651.24 51.07 650.78C51.45 650.32 51.96 649.74 52.36 649.86C52.77 649.98 53.17 650.81 53.49 651.50C53.80 652.19 54.21 653.08 54.26 654.00Z" fill="#e2c6d6" fill-opacity="0.6" stroke="#e23a6a" stroke-width="0.8"/>
<path d="M25.12 621.50C25.11 621.88 25.03 622.29 24.81 622.60C24.60 622.91 24.15 623.39 23.83 623.38C23.51 623.36 23.21 622.74 22.91 622.52C22.61 622.29 22.23 622.31 22.03 622.03C21.84 621.76 21.63 621.18 21.74 620.86C21.85 620.53 22.35 620.24 22.68 620.09C23.02 619.94 23.41 619.91 23.77 619.96C24.14 620.00 24.65 620.09 24.88 620.35C25.10 620.60 25.14 621.12 25.12 621.50Z" fill="#e2c6d6" fill-opacity="0.6" stroke="#e23a6a" stroke-width="0.8"/>
<path d="M91.34 659.50C91.44 660.04 91.96 660.93 91.73 661.37C91.50 661.81 90.55 662.07 89.96 662.13C89.37 662.20 88.62 662.08 88.19 661.77C87.76 661.46 87.60 660.79 87.40 660.26C87.20 659.73 86.81 659.00 86.99 658.59C87.18 658.18 88.02 658.05 88.51 657.79C89.00 657.52 89.50 656.95 89.94 657.00C90.38 657.06 90.92 657.69 91.16 658.11C91.39 658.53 91.25 658.96 91.34 659.50Z" fill="#e2c6d6" fill-opacity="0.6" stroke="#e23a6a" stroke-width="0.8"/>
<path d="M24.3 577.5 C25 590 26 600 26.9 605.5 C30 603 33 601.5 35.7 601.2 C39 600 41 597 42.7 597.7 C45 600 46 603 45.3 605.5 C44 609 43 611 43.5 612.6 C44 614 45.5 615 47 615.2 C52 616 56 616.2 59.3 616.1 C64 616 68 616 71.6 615.7 C74 615 76 613.5 78.6 612.6 C82 611 85 610 87.3 609 C89 608 91 606.5 92.6 605.9" fill="none" stroke="#e23a6a" stroke-width="0.8"/>
<path d="M38.3 579.3 C42 580 45 582 45.3 584.5 C45 588 42.5 591 42.7 595 C43 598 45 600 44.4 602 C43 605 41.5 607 41.8 609 C42.5 612 44 614.5 46.2 616 C50 618 54 619.5 57.6 620.4 C61 621 65 621.8 68 622.2 C72 622.6 75 622.8 78.6 623 C82 623.5 85 624.5 87.3 625.7 C89 627 91 628.8 92.6 629.2 C95 628 97.5 625 99.6 623 C103 620 106 617.5 110.1 615.7" fill="none" stroke="#4a6fd0" stroke-width="0.75"/>
<path d="M66.3 636 C69 634.5 71 636.5 73 638.5 C75 640.5 74.5 642.3 72.5 641.8 C70 640.5 68 639 66.3 636Z" fill="none" stroke="#4a6fd0" stroke-width="0.65"/>
<path d="M46.62 626.15C46.70 626.82 46.24 627.70 45.73 628.12C45.22 628.53 44.68 628.39 44.07 628.21C43.45 628.03 42.87 627.80 42.65 627.22C42.43 626.63 42.69 625.92 42.98 625.28C43.26 624.64 43.58 624.12 44.06 624.03C44.53 623.93 44.82 624.36 45.33 624.79C45.85 625.21 46.54 625.48 46.62 626.15Z" fill="none" stroke="#f0d870" stroke-width="0.7"/>
<path d="M89.25 657.30C89.27 658.77 89.01 660.20 88.64 661.16C88.28 662.12 87.78 662.59 87.43 662.10C87.08 661.62 87.09 660.13 86.89 658.73C86.68 657.33 86.29 656.00 86.42 655.10C86.55 654.21 87.12 654.51 87.55 654.25C87.97 654.00 88.22 653.21 88.56 653.82C88.90 654.42 89.23 655.83 89.25 657.30Z" fill="none" stroke="#f0d870" stroke-width="0.7"/>
<path d="M49.69 667.70C49.59 669.00 49.16 669.43 48.72 670.23C48.27 671.03 48.04 671.76 47.46 671.71C46.88 671.66 46.10 671.17 45.82 669.97C45.54 668.77 45.74 666.91 46.07 665.70C46.40 664.50 46.85 664.33 47.48 663.94C48.11 663.55 48.77 662.99 49.21 663.75C49.65 664.50 49.78 666.40 49.69 667.70Z" fill="none" stroke="#f0d870" stroke-width="0.7"/>
<path d="M84.52 667.50C84.62 668.97 84.67 670.97 84.18 671.80C83.68 672.63 82.68 672.21 82.04 671.64C81.40 671.08 81.40 670.31 80.99 668.99C80.58 667.67 79.77 666.00 79.99 665.03C80.22 664.07 81.39 664.28 82.13 664.17C82.87 664.05 83.20 663.80 83.68 664.47C84.16 665.13 84.42 666.03 84.52 667.50Z" fill="none" stroke="#f0d870" stroke-width="0.7"/>
<rect x="27.2" y="574" width="43.5" height="41.7" fill="none" stroke="#222" stroke-width="1"/>
<line x1="92.2" y1="574" x2="99.6" y2="574" stroke="#111" stroke-width="1.4"/>
<line x1="27.2" y1="615.7" x2="7.1" y2="706.3" stroke="#222" stroke-width="1.2" stroke-dasharray="1.8 3"/>
<line x1="70.7" y1="615.7" x2="122.6" y2="706.3" stroke="#222" stroke-width="1.2" stroke-dasharray="1.8 3"/>
<text x="59.1" y="698.3" font-size="11.3" font-weight="bold" text-anchor="middle">Regions</text>
<circle cx="78.8" cy="537.7" r="0.6" fill="#555"/>
<rect x="7.10" y="706.30" width="115.50" height="115.30" fill="none" stroke="#2a2a2a" stroke-width="1.1"/>
<path d="M13.8 711.5h1.2m-2.1 1.5h1.2m0.6 0h1.2m4.1 0h1.2m0.6 0h1.2m-7.4 1.6h1.2m2.3 0h1.2m2.4 0h1.2m0.6 0h1.2m2.3 0h1.2m0.6 0h1.2m-18.1 1.5h1.2m2.3 0h1.2m0.6 0h1.2m0.6 0h1.2m2.4 0h1.2m0.6 0h1.2m0.5 0h1.2m0.6 0h1.2m0.6 0h1.2m0.6 0h1.2m0.6 0h1.2m4.1 0h1.2m0.6 0h1.2m0.6 0h1.2m0.5 0h1.2m-28.8 1.6h1.2m0.6 0h1.2m0.6 0h1.2m0.6 0h1.2m4.1 0h1.2m2.4 0h1.2m0.6 0h1.2m0.5 0h1.2m0.6 0h1.2m0.6 0h1.2m0.6 0h1.2m0.6 0h1.2m0.5 0h1.2m0.6 0h1.2m0.6 0h1.2m2.4 0h1.2m-39.5 1.5h1.2m4.1 0h1.2m0.6 0h1.2m2.4 0h1.2m2.3 0h1.2m0.6 0h1.2m0.6 0h1.2m5.9 0h1.2m0.6 0h1.2m0.6 0h1.2m0.6 0h1.2m0.5 0h1.2m0.6 0h1.2m2.4 0h1.2m0.6 0h1.2m0.5 0h1.2m-39.4 1.6h1.2m0.5 0h1.2m0.6 0h1.2m0.6 0h1.2m0.6 0h1.2m0.6 0h1.2m4.1 0h1.2m0.6 0h1.2m0.6 0h1.2m0.5 0h1.2m0.6 0h1.2m0.6 0h1.2m0.6 0h1.2m0.6 0h1.2m2.3 0h1.2m0.6 0h1.2m0.6 0h1.2m0.6 0h1.2m0.5 0h1.2m2.4 0h1.2m-44.8 1.5h1.2m0.6 0h1.2m4.1 0h1.2m0.6 0h1.2m0.6 0h1.2m2.3 0h1.2m0.6 0h1.2m0.6 0h1.2m2.4 0h1.2m0.5 0h1.2m0.6 0h1.2m2.4 0h1.2m0.6 0h1.2m0.5 0h1.2m6 0h1.2m0.5 0h1.2m0.6 0h1.2m0.6 0h1.2m0.6 0h1.2m-44.8 1.6h1.2m0.5 0h1.2m0.6 0h1.2m2.4 0h1.2m2.3 0h1.2m0.6 0h1.2m0.6 0h1.2m0.6 0h1.2m0.6 0h1.2m0.5 0h1.2m2.4 0h1.2m7.7 0h1.2m7.7 0h1.2m0.6 0h1.2m0.6 0h1.2m-48.4 1.5h1.2m9.5 0h1.2m0.6 0h1.2m0.5 0h1.2m0.6 0h1.2m0.6 0h1.2m2.4 0h1.2m0.5 0h1.2m2.4 0h1.2m13 0h1.2m2.4 0h1.2m0.6 0h1.2m2.3 0h1.2m-50.1 1.6h1.2m4.1 0h1.2m2.4 0h1.2m0.6 0h1.2m0.5 0h1.2m0.6 0h1.2m0.6 0h1.2m0.6 0h1.2m0.6 0h1.2m4.1 0h1.2m0.6 0h1.2m14.8 0h1.2m2.4 0h1.2m-48.4 1.5h1.2m0.6 0h1.2m0.5 0h1.2m0.6 0h1.2m0.6 0h1.2m0.6 0h1.2m0.6 0h1.2m0.6 0h1.2m4.1 0h1.2m0.6 0h1.2m0.6 0h1.2m0.5 0h1.2m0.6 0h1.2m11.3 0h1.2m0.6 0h1.2m9.4 0h1.2m0.6 0h1.2m0.6 0h1.2m-53.7 1.6h1.2m4.1 0h1.2m0.6 0h1.2m0.6 0h1.2m4.1 0h1.2m2.4 0h1.2m0.6 0h1.2m0.5 0h1.2m0.6 0h1.2m0.6 0h1.2m11.3 0h1.2m0.5 0h1.2m0.6 0h1.2m2.4 0h1.2m4.1 0h1.2m0.6 0h1.2m0.6 0h1.2m0.6 0h1.2m-57.3 1.5h1.2m0.6 0h1.2m0.5 0h1.2m0.6 0h1.2m0.6 0h1.2m0.6 0h1.2m0.6 0h1.2m2.3 0h1.2m0.6 0h1.2m0.6 0h1.2m2.4 0h1.2m0.5 0h1.2m0.6 0h1.2m0.6 0h1.2m11.3 0h1.2m2.3 0h1.2m7.7 0h1.2m0.6 0h1.2m0.6 0h1.2m-55.5 1.6h1.2m0.6 0h1.2m2.3 0h1.2m2.4 0h1.2m2.3 0h1.2m2.4 0h1.2m0.6 0h1.2m0.6 0h1.2m0.5 0h1.2m0.6 0h1.2m0.6 0h1.2m13 0h1.2m0.6 0h1.2m0.6 0h1.2m0.6 0h1.2m4.1 0h1.2m0.6 0h1.2m0.6 0h1.2m0.6 0h1.2m-57.3 1.5h1.2m0.6 0h1.2m0.5 0h1.2m0.6 0h1.2m0.6 0h1.2m0.6 0h1.2m4.1 0h1.2m0.6 0h1.2m0.6 0h1.2m2.4 0h1.2m2.3 0h1.2m2.4 0h1.2m7.7 0h1.2m0.6 0h1.2m4.1 0h1.2m0.6 0h1.2m2.3 0h1.2m2.4 0h1.2m0.6 0h1.2m-55.5 1.6h1.2m0.6 0h1.2m0.5 0h1.2m2.4 0h1.2m0.6 0h1.2m4.1 0h1.2m0.6 0h1.2m0.6 0h1.2m0.6 0h1.2m2.3 0h1.2m0.6 0h1.2m0.6 0h1.2m0.6 0h1.2m9.4 0h1.2m0.6 0h1.2m0.6 0h1.2m0.6 0h1.2m4.1 0h1.2m0.6 0h1.2m2.4 0h1.2m0.5 0h1.2m2.4 0h1.2m4.1 0h1.2m-67.9 1.5h1.2m0.6 0h1.2m2.3 0h1.2m0.6 0h1.2m0.6 0h1.2m0.6 0h1.2m2.3 0h1.2m0.6 0h1.2m0.6 0h1.2m0.6 0h1.2m0.6 0h1.2m0.5 0h1.2m4.2 0h1.2m13 0h1.2m0.6 0h1.2m0.6 0h1.2m5.9 0h1.2m0.6 0h1.2m0.6 0h1.2m0.5 0h1.2m0.6 0h1.2m0.6 0h1.2m2.4 0h1.2m0.5 0h1.2m2.4 0h1.2m-71.5 1.6h1.2m0.6 0h1.2m2.3 0h1.2m4.2 0h1.2m0.5 0h1.2m0.6 0h1.2m2.4 0h1.2m0.6 0h1.2m0.5 0h1.2m20.2 0h1.2m0.6 0h1.2m0.6 0h1.2m2.3 0h1.2m2.4 0h1.2m0.6 0h1.2m0.5 0h1.2m0.6 0h1.2m0.6 0h1.2m0.6 0h1.2m7.7 0h1.2m2.3 0h1.2m-76.8 1.5h1.2m5.9 0h1.2m0.6 0h1.2m20.2 0h1.2m11.2 0h1.2m0.6 0h1.2m0.6 0h1.2m0.6 0h1.2m0.5 0h1.2m0.6 0h1.2m2.4 0h1.2m0.6 0h1.2m2.3 0h1.2m0.6 0h1.2m0.6 0h1.2m7.7 0h1.2m2.3 0h1.2m0.6 0h1.2m0.6 0h1.2m-80.4 1.6h1.2m7.7 0h1.2m2.3 0h1.2m20.2 0h1.2m5.9 0h1.2m0.6 0h1.2m0.6 0h1.2m0.6 0h1.2m0.5 0h1.2m0.6 0h1.2m0.6 0h1.2m0.6 0h1.2m0.6 0h1.2m4.1 0h1.2m0.6 0h1.2m2.3 0h1.2m0.6 0h1.2m0.6 0h1.2m0.6 0h1.2m0.6 0h1.2m2.3 0h1.2m0.6 0h1.2m0.6 0h1.2m-82.2 1.5h1.2m0.6 0h1.2m0.5 0h1.2m0.6 0h1.2m0.6 0h1.2m2.4 0h1.2m11.2 0h1.2m6 0h1.2m5.9 0h1.2m5.9 0h1.2m0.6 0h1.2m0.6 0h1.2m0.5 0h1.2m0.6 0h1.2m0.6 0h1.2m11.3 0h1.2m0.5 0h1.2m0.6 0h1.2m2.4 0h1.2m0.6 0h1.2m0.5 0h1.2m2.4 0h1.2m0.6 0h1.2m0.6 0h1.2m11.2 0h1.2m-96.4 1.6h1.2m0.6 0h1.2m2.3 0h1.2m2.4 0h1.2m0.6 0h1.2m0.5 0h1.2m0.6 0h1.2m9.5 0h1.2m2.4 0h1.2m0.5 0h1.2m6 0h1.2m5.9 0h1.2m0.6 0h1.2m4.1 0h1.2m0.6 0h1.2m9.5 0h1.2m0.5 0h1.2m0.6 0h1.2m0.6 0h1.2m4.1 0h1.2m2.4 0h1.2m0.6 0h1.2m2.3 0h1.2m9.5 0h1.2m0.6 0h1.2m0.6 0h1.2m-100 1.5h1.2m2.3 0h1.2m0.6 0h1.2m0.6 0h1.2m0.6 0h1.2m0.6 0h1.2m2.3 0h1.2m0.6 0h1.2m0.6 0h1.2m2.4 0h1.2m2.3 0h1.2m2.4 0h1.2m5.9 0h1.2m5.9 0h1.2m2.4 0h1.2m0.6 0h1.2m7.7 0h1.2m0.5 0h1.2m6 0h1.2m0.5 0h1.2m4.2 0h1.2m2.3 0h1.2m0.6 0h1.2m2.4 0h1.2m-80.4 1.6h1.2m2.3 0h1.2m0.6 0h1.2m0.6 0h1.2m0.6 0h1.2m0.5 0h1.2m0.6 0h1.2m0.6 0h1.2m0.6 0h1.2m0.6 0h1.2m2.3 0h1.2m4.2 0h1.2m0.5 0h1.2m9.5 0h1.2m0.6 0h1.2m2.4 0h1.2m2.3 0h1.2m0.6 0h1.2m2.4 0h1.2m2.3 0h1.2m0.6 0h1.2m5.9 0h1.2m0.6 0h1.2m0.6 0h1.2m0.6 0h1.2m-75.1 1.5h1.2m2.3 0h1.2m0.6 0h1.2m0.6 0h1.2m0.6 0h1.2m0.6 0h1.2m0.6 0h1.2m0.5 0h1.2m0.6 0h1.2m0.6 0h1.2m2.4 0h1.2m21.9 0h1.2m0.6 0h1.2m2.3 0h1.2m0.6 0h1.2m0.6 0h1.2m0.6 0h1.2m0.6 0h1.2m0.5 0h1.2m0.6 0h1.2m0.6 0h1.2m2.4 0h1.2m0.5 0h1.2m0.6 0h1.2m0.6 0h1.2m0.6 0h1.2m2.3 0h1.2m2.4 0h1.2m0.6 0h1.2m0.6 0h1.2m0.5 0h1.2m0.6 0h1.2m2.4 0h1.2m-91.1 1.6h1.2m2.3 0h1.2m0.6 0h1.2m0.6 0h1.2m0.6 0h1.2m0.6 0h1.2m0.5 0h1.2m0.6 0h1.2m0.6 0h1.2m0.6 0h1.2m0.6 0h1.2m0.5 0h1.2m6 0h1.2m0.5 0h1.2m0.6 0h1.2m9.5 0h1.2m0.6 0h1.2m0.6 0h1.2m0.5 0h1.2m0.6 0h1.2m0.6 0h1.2m0.6 0h1.2m0.6 0h1.2m2.3 0h1.2m0.6 0h1.2m0.6 0h1.2m2.3 0h1.2m0.6 0h1.2m0.6 0h1.2m0.6 0h1.2m0.6 0h1.2m0.5 0h1.2m4.2 0h1.2m2.3 0h1.2m0.6 0h1.2m2.4 0h1.2m0.6 0h1.2m-92.9 1.5h1.2m2.3 0h1.2m0.6 0h1.2m0.6 0h1.2m0.6 0h1.2m0.6 0h1.2m0.6 0h1.2m0.5 0h1.2m0.6 0h1.2m4.2 0h1.2m5.9 0h1.2m9.5 0h1.2m2.3 0h1.2m0.6 0h1.2m4.1 0h1.2m0.6 0h1.2m0.6 0h1.2m0.6 0h1.2m5.9 0h1.2m0.6 0h1.2m2.3 0h1.2m0.6 0h1.2m11.3 0h1.2m0.6 0h1.2m0.5 0h1.2m0.6 0h1.2m-87.5 1.6h1.2m0.6 0h1.2m2.3 0h1.2m0.6 0h1.2m0.6 0h1.2m4.1 0h1.2m0.6 0h1.2m0.6 0h1.2m0.6 0h1.2m0.5 0h1.2m9.5 0h1.2m2.4 0h1.2m0.6 0h1.2m0.5 0h1.2m0.6 0h1.2m0.6 0h1.2m5.9 0h1.2m0.6 0h1.2m5.9 0h1.2m0.6 0h1.2m4.1 0h1.2m0.6 0h1.2m2.4 0h1.2m0.6 0h1.2m0.5 0h1.2m0.6 0h1.2m9.5 0h1.2m0.6 0h1.2m0.6 0h1.2m0.5 0h1.2m0.6 0h1.2m-96.4 1.5h1.2m2.3 0h1.2m0.6 0h1.2m0.6 0h1.2m0.6 0h1.2m0.6 0h1.2m0.6 0h1.2m0.5 0h1.2m0.6 0h1.2m0.6 0h1.2m0.6 0h1.2m0.6 0h1.2m0.5 0h1.2m0.6 0h1.2m7.7 0h1.2m0.6 0h1.2m0.6 0h1.2m0.6 0h1.2m0.5 0h1.2m0.6 0h1.2m0.6 0h1.2m4.1 0h1.2m0.6 0h1.2m0.6 0h1.2m0.6 0h1.2m4.1 0h1.2m0.6 0h1.2m0.6 0h1.2m5.9 0h1.2m0.6 0h1.2m0.6 0h1.2m0.5 0h1.2m0.6 0h1.2m0.6 0h1.2m2.4 0h1.2m0.5 0h1.2m2.4 0h1.2m0.6 0h1.2m0.6 0h1.2m2.3 0h1.2m-96.4 1.6h1.2m0.6 0h1.2m0.5 0h1.2m0.6 0h1.2m2.4 0h1.2m0.6 0h1.2m2.3 0h1.2m0.6 0h1.2m0.6 0h1.2m0.6 0h1.2m0.5 0h1.2m0.6 0h1.2m7.7 0h1.2m0.6 0h1.2m0.6 0h1.2m2.3 0h1.2m2.4 0h1.2m4.1 0h1.2m0.6 0h1.2m0.6 0h1.2m0.6 0h1.2m0.6 0h1.2m4.1 0h1.2m0.6 0h1.2m5.9 0h1.2m0.6 0h1.2m0.6 0h1.2m0.5 0h1.2m0.6 0h1.2m2.4 0h1.2m2.3 0h1.2m0.6 0h1.2m0.6 0h1.2m0.6 0h1.2m0.6 0h1.2m0.5 0h1.2m0.6 0h1.2m0.6 0h1.2m0.6 0h1.2m-100 1.5h1.2m0.6 0h1.2m2.3 0h1.2m0.6 0h1.2m2.4 0h1.2m0.6 0h1.2m0.5 0h1.2m0.6 0h1.2m2.4 0h1.2m0.6 0h1.2m11.2 0h1.2m2.4 0h1.2m0.6 0h1.2m4.1 0h1.2m2.4 0h1.2m0.5 0h1.2m0.6 0h1.2m0.6 0h1.2m0.6 0h1.2m0.6 0h1.2m2.3 0h1.2m0.6 0h1.2m0.6 0h1.2m13 0h1.2m0.6 0h1.2m0.6 0h1.2m0.6 0h1.2m4.1 0h1.2m0.6 0h1.2m0.6 0h1.2m0.5 0h1.2m0.6 0h1.2m-96.4 1.6h1.2m2.3 0h1.2m0.6 0h1.2m0.6 0h1.2m0.6 0h1.2m2.3 0h1.2m2.4 0h1.2m0.6 0h1.2m0.6 0h1.2m2.3 0h1.2m0.6 0h1.2m0.6 0h1.2m4.1 0h1.2m0.6 0h1.2m0.6 0h1.2m0.6 0h1.2m0.5 0h1.2m4.2 0h1.2m0.6 0h1.2m2.3 0h1.2m0.6 0h1.2m0.6 0h1.2m9.5 0h1.2m2.3 0h1.2m0.6 0h1.2m0.6 0h1.2m0.6 0h1.2m0.5 0h1.2m0.6 0h1.2m0.6 0h1.2m2.4 0h1.2m0.5 0h1.2m2.4 0h1.2m0.6 0h1.2m0.6 0h1.2m2.3 0h1.2m-91.1 1.5h1.2m0.6 0h1.2m0.6 0h1.2m0.6 0h1.2m2.3 0h1.2m0.6 0h1.2m5.9 0h1.2m4.2 0h1.2m0.6 0h1.2m0.5 0h1.2m0.6 0h1.2m0.6 0h1.2m0.6 0h1.2m0.6 0h1.2m0.5 0h1.2m0.6 0h1.2m0.6 0h1.2m0.6 0h1.2m0.6 0h1.2m0.5 0h1.2m0.6 0h1.2m0.6 0h1.2m5.9 0h1.2m0.6 0h1.2m7.7 0h1.2m0.6 0h1.2m0.6 0h1.2m0.5 0h1.2m0.6 0h1.2m0.6 0h1.2m5.9 0h1.2m0.6 0h1.2m0.6 0h1.2m2.3 0h1.2m0.6 0h1.2m-96.4 1.6h1.2m0.6 0h1.2m0.5 0h1.2m0.6 0h1.2m2.4 0h1.2m0.6 0h1.2m0.5 0h1.2m2.4 0h1.2m0.6 0h1.2m4.1 0h1.2m0.6 0h1.2m7.7 0h1.2m0.6 0h1.2m2.3 0h1.2m0.6 0h1.2m0.6 0h1.2m4.1 0h1.2m0.6 0h1.2m4.2 0h1.2m4.1 0h1.2m7.7 0h1.2m0.6 0h1.2m0.6 0h1.2m0.5 0h1.2m0.6 0h1.2m0.6 0h1.2m0.6 0h1.2m2.3 0h1.2m2.4 0h1.2m0.6 0h1.2m2.3 0h1.2m0.6 0h1.2m-94.6 1.5h1.2m0.5 0h1.2m0.6 0h1.2m4.2 0h1.2m0.6 0h1.2m0.5 0h1.2m0.6 0h1.2m0.6 0h1.2m0.6 0h1.2m0.6 0h1.2m0.5 0h1.2m0.6 0h1.2m0.6 0h1.2m0.6 0h1.2m0.6 0h1.2m0.5 0h1.2m2.4 0h1.2m0.6 0h1.2m0.6 0h1.2m4.1 0h1.2m0.6 0h1.2m0.6 0h1.2m0.5 0h1.2m6 0h1.2m11.2 0h1.2m0.6 0h1.2m0.6 0h1.2m0.6 0h1.2m0.5 0h1.2m0.6 0h1.2m4.2 0h1.2m0.5 0h1.2m0.6 0h1.2m0.6 0h1.2m2.4 0h1.2m0.5 0h1.2m0.6 0h1.2m-96.4 1.6h1.2m0.6 0h1.2m2.3 0h1.2m2.4 0h1.2m0.6 0h1.2m4.1 0h1.2m4.1 0h1.2m4.2 0h1.2m0.6 0h1.2m0.5 0h1.2m0.6 0h1.2m4.2 0h1.2m5.9 0h1.2m0.6 0h1.2m9.4 0h1.2m0.6 0h1.2m0.6 0h1.2m0.6 0h1.2m0.6 0h1.2m0.5 0h1.2m0.6 0h1.2m0.6 0h1.2m4.1 0h1.2m2.4 0h1.2m2.4 0h1.2m0.5 0h1.2m0.6 0h1.2m0.6 0h1.2m0.6 0h1.2m0.6 0h1.2m0.5 0h1.2m0.6 0h1.2m-94.6 1.5h1.2m0.5 0h1.2m0.6 0h1.2m7.7 0h1.2m0.6 0h1.2m0.6 0h1.2m2.4 0h1.2m2.3 0h1.2m0.6 0h1.2m0.6 0h1.2m2.3 0h1.2m0.6 0h1.2m2.4 0h1.2m5.9 0h1.2m0.6 0h1.2m0.6 0h1.2m0.5 0h1.2m2.4 0h1.2m2.4 0h1.2m0.5 0h1.2m0.6 0h1.2m0.6 0h1.2m2.4 0h1.2m0.5 0h1.2m2.4 0h1.2m4.1 0h1.2m0.6 0h1.2m0.6 0h1.2m0.6 0h1.2m0.6 0h1.2m0.5 0h1.2m4.2 0h1.2m0.6 0h1.2m0.5 0h1.2m-92.8 1.6h1.2m0.5 0h1.2m4.2 0h1.2m0.6 0h1.2m2.3 0h1.2m4.2 0h1.2m0.5 0h1.2m2.4 0h1.2m0.6 0h1.2m0.6 0h1.2m0.5 0h1.2m0.6 0h1.2m11.3 0h1.2m0.6 0h1.2m0.5 0h1.2m11.3 0h1.2m0.6 0h1.2m0.6 0h1.2m0.5 0h1.2m0.6 0h1.2m0.6 0h1.2m0.6 0h1.2m4.1 0h1.2m0.6 0h1.2m2.4 0h1.2m0.5 0h1.2m0.6 0h1.2m0.6 0h1.2m0.6 0h1.2m0.6 0h1.2m0.5 0h1.2m-75 1.5h1.2m2.3 0h1.2m2.4 0h1.2m0.6 0h1.2m2.3 0h1.2m0.6 0h1.2m11.3 0h1.2m0.6 0h1.2m13 0h1.2m0.6 0h1.2m4.1 0h1.2m0.6 0h1.2m0.6 0h1.2m0.6 0h1.2m2.3 0h1.2m0.6 0h1.2m0.6 0h1.2m2.3 0h1.2m0.6 0h1.2m0.6 0h1.2m0.6 0h1.2m-89.3 1.6h1.2m0.5 0h1.2m0.6 0h1.2m0.6 0h1.2m0.6 0h1.2m0.6 0h1.2m2.3 0h1.2m0.6 0h1.2m0.6 0h1.2m0.6 0h1.2m0.5 0h1.2m7.7 0h1.2m0.6 0h1.2m13.1 0h1.2m16.6 0h1.2m0.5 0h1.2m0.6 0h1.2m2.4 0h1.2m0.6 0h1.2m2.3 0h1.2m0.6 0h1.2m2.4 0h1.2m0.5 0h1.2m0.6 0h1.2m0.6 0h1.2m-85.8 1.5h1.2m2.4 0h1.2m0.6 0h1.2m0.6 0h1.2m0.6 0h1.2m2.3 0h1.2m2.4 0h1.2m0.6 0h1.2m0.5 0h1.2m0.6 0h1.2m7.7 0h1.2m38 0h1.2m4.1 0h1.2m7.7 0h1.2m-87.5 1.6h1.2m4.1 0h1.2m0.6 0h1.2m0.6 0h1.2m0.6 0h1.2m0.5 0h1.2m4.2 0h1.2m0.6 0h1.2m0.5 0h1.2m0.6 0h1.2m11.3 0h1.2m30.8 0h1.2m0.6 0h1.2m0.6 0h1.2m0.6 0h1.2m-75.1 1.5h1.2m0.6 0h1.2m0.5 0h1.2m2.4 0h1.2m0.6 0h1.2m2.4 0h1.2m0.5 0h1.2m0.6 0h1.2m0.6 0h1.2m0.6 0h1.2m0.6 0h1.2m0.5 0h1.2m0.6 0h1.2m43.3 0h1.2m0.6 0h1.2m0.6 0h1.2m0.6 0h1.2m0.5 0h1.2m0.6 0h1.2m-78.6 1.6h1.2m0.6 0h1.2m4.1 0h1.2m0.6 0h1.2m0.6 0h1.2m0.5 0h1.2m2.4 0h1.2m0.6 0h1.2m0.6 0h1.2m0.5 0h1.2m0.6 0h1.2m30.9 0h1.2m11.2 0h1.2m2.4 0h1.2m4.1 0h1.2m0.6 0h1.2m-80.4 1.5h1.2m0.6 0h1.2m5.9 0h1.2m0.6 0h1.2m4.1 0h1.2m0.6 0h1.2m0.6 0h1.2m0.6 0h1.2m29 0h1.2m2.4 0h1.2m2.3 0h1.2m4.2 0h1.2m4.1 0h1.2m0.6 0h1.2m0.6 0h1.2m0.6 0h1.2m0.5 0h1.2m0.6 0h1.2m0.6 0h1.2m-80.4 1.6h1.2m11.2 0h1.2m4.2 0h1.2m0.6 0h1.2m0.5 0h1.2m32.7 0h1.2m11.2 0h1.2m0.6 0h1.2m9.5 0h1.2m-82.2 1.5h1.2m0.6 0h1.2m5.9 0h1.2m0.6 0h1.2m0.6 0h1.2m0.5 0h1.2m4.2 0h1.2m0.6 0h1.2m0.5 0h1.2m4.2 0h1.2m14.8 0h1.2m0.6 0h1.2m0.6 0h1.2m2.3 0h1.2m2.4 0h1.2m4.1 0h1.2m0.6 0h1.2m7.7 0h1.2m4.1 0h1.2m0.6 0h1.2m0.6 0h1.2m2.4 0h1.2m-82.2 1.6h1.2m0.5 0h1.2m2.4 0h1.2m0.6 0h1.2m0.6 0h1.2m0.5 0h1.2m0.6 0h1.2m0.6 0h1.2m0.6 0h1.2m0.6 0h1.2m4.1 0h1.2m0.6 0h1.2m0.6 0h1.2m21.9 0h1.2m0.6 0h1.2m0.6 0h1.2m0.5 0h1.2m2.4 0h1.2m7.7 0h1.2m0.6 0h1.2m4.1 0h1.2m0.6 0h1.2m0.6 0h1.2m-76.9 1.5h1.2m4.2 0h1.2m0.6 0h1.2m2.3 0h1.2m4.2 0h1.2m0.5 0h1.2m0.6 0h1.2m0.6 0h1.2m0.6 0h1.2m0.6 0h1.2m0.5 0h1.2m0.6 0h1.2m11.3 0h1.2m0.6 0h1.2m0.5 0h1.2m4.2 0h1.2m13 0h1.2m0.6 0h1.2m0.6 0h1.2m0.6 0h1.2m0.5 0h1.2m0.6 0h1.2m0.6 0h1.2m0.6 0h1.2m-75.1 1.6h1.2m0.6 0h1.2m0.6 0h1.2m0.5 0h1.2m0.6 0h1.2m0.6 0h1.2m2.4 0h1.2m0.5 0h1.2m0.6 0h1.2m4.2 0h1.2m0.5 0h1.2m0.6 0h1.2m2.4 0h1.2m9.5 0h1.2m0.5 0h1.2m18.4 0h1.2m2.4 0h1.2m2.3 0h1.2m0.6 0h1.2m0.6 0h1.2m2.4 0h1.2m0.5 0h1.2m-76.8 1.5h1.2m0.6 0h1.2m0.6 0h1.2m2.3 0h1.2m2.4 0h1.2m0.6 0h1.2m2.3 0h1.2m4.2 0h1.2m0.5 0h1.2m0.6 0h1.2m0.6 0h1.2m2.4 0h1.2m0.5 0h1.2m6 0h1.2m0.5 0h1.2m0.6 0h1.2m4.2 0h1.2m0.5 0h1.2m4.2 0h1.2m2.3 0h1.2m4.2 0h1.2m0.6 0h1.2m-73.3 1.6h1.2m11.2 0h1.2m0.6 0h1.2m4.1 0h1.2m0.6 0h1.2m4.2 0h1.2m0.5 0h1.2m0.6 0h1.2m0.6 0h1.2m0.6 0h1.2m0.6 0h1.2m2.3 0h1.2m0.6 0h1.2m4.1 0h1.2m0.6 0h1.2m11.3 0h1.2m0.6 0h1.2m4.1 0h1.2m0.6 0h1.2m2.3 0h1.2m-75 1.5h1.2m2.3 0h1.2m7.7 0h1.2m0.6 0h1.2m2.4 0h1.2m0.6 0h1.2m9.4 0h1.2m2.4 0h1.2m0.6 0h1.2m9.5 0h1.2m0.5 0h1.2m0.6 0h1.2m4.2 0h1.2m0.5 0h1.2m6 0h1.2m0.5 0h1.2m0.6 0h1.2m0.6 0h1.2m2.4 0h1.2m-75.1 1.6h1.2m0.6 0h1.2m0.5 0h1.2m6 0h1.2m2.3 0h1.2m0.6 0h1.2m4.1 0h1.2m2.4 0h1.2m0.6 0h1.2m0.6 0h1.2m7.7 0h1.2m2.3 0h1.2m0.6 0h1.2m0.6 0h1.2m4.1 0h1.2m2.4 0h1.2m2.3 0h1.2m4.2 0h1.2m0.6 0h1.2m0.5 0h1.2m0.6 0h1.2m0.6 0h1.2m5.9 0h1.2m2.4 0h1.2m2.3 0h1.2m-85.7 1.5h1.2m0.6 0h1.2m0.5 0h1.2m0.6 0h1.2m2.4 0h1.2m0.6 0h1.2m0.6 0h1.2m0.5 0h1.2m0.6 0h1.2m0.6 0h1.2m0.6 0h1.2m0.6 0h1.2m0.5 0h1.2m2.4 0h1.2m0.6 0h1.2m0.6 0h1.2m5.9 0h1.2m0.6 0h1.2m0.5 0h1.2m0.6 0h1.2m0.6 0h1.2m0.6 0h1.2m0.6 0h1.2m0.5 0h1.2m0.6 0h1.2m4.2 0h1.2m2.3 0h1.2m0.6 0h1.2m0.6 0h1.2m0.6 0h1.2m2.3 0h1.2m0.6 0h1.2m0.6 0h1.2m0.6 0h1.2m0.5 0h1.2m0.6 0h1.2m4.2 0h1.2m0.5 0h1.2m-83.9 1.6h1.2m5.9 0h1.2m0.6 0h1.2m2.3 0h1.2m0.6 0h1.2m2.4 0h1.2m0.5 0h1.2m2.4 0h1.2m0.6 0h1.2m0.6 0h1.2m0.5 0h1.2m0.6 0h1.2m0.6 0h1.2m0.6 0h1.2m0.6 0h1.2m0.5 0h1.2m0.6 0h1.2m0.6 0h1.2m0.6 0h1.2m4.1 0h1.2m2.4 0h1.2m4.1 0h1.2m2.4 0h1.2m0.6 0h1.2m0.5 0h1.2m0.6 0h1.2m4.2 0h1.2m2.3 0h1.2m0.6 0h1.2m0.6 0h1.2m0.6 0h1.2m-82.2 1.5h1.2m0.5 0h1.2m6 0h1.2m9.5 0h1.2m0.5 0h1.2m2.4 0h1.2m0.6 0h1.2m0.6 0h1.2m0.5 0h1.2m0.6 0h1.2m0.6 0h1.2m0.6 0h1.2m0.6 0h1.2m0.5 0h1.2m6 0h1.2m0.5 0h1.2m6 0h1.2m5.9 0h1.2m0.6 0h1.2m0.5 0h1.2m0.6 0h1.2m2.4 0h1.2m2.3 0h1.2m2.4 0h1.2m0.6 0h1.2m-78.7 1.6h1.2m4.2 0h1.2m4.1 0h1.2m4.2 0h1.2m0.5 0h1.2m0.6 0h1.2m5.9 0h1.2m2.4 0h1.2m11.3 0h1.2m0.5 0h1.2m0.6 0h1.2m30.9 0h1.2m-76.9 1.5h1.2m0.6 0h1.2m9.5 0h1.2m0.6 0h1.2m0.5 0h1.2m0.6 0h1.2m0.6 0h1.2m4.1 0h1.2m4.2 0h1.2m11.2 0h1.2m0.6 0h1.2m18.4 0h1.2m0.6 0h1.2m7.7 0h1.2m-82.2 1.6h1.2m5.9 0h1.2m0.6 0h1.2m2.3 0h1.2m7.7 0h1.2m0.6 0h1.2m0.6 0h1.2m5.9 0h1.2m4.2 0h1.2m0.5 0h1.2m0.6 0h1.2m5.9 0h1.2m0.6 0h1.2m18.4 0h1.2m0.6 0h1.2m2.3 0h1.2m4.2 0h1.2m-71.5 1.5h1.2m2.3 0h1.2m6 0h1.2m11.2 0h1.2m2.4 0h1.2m0.6 0h1.2m0.5 0h1.2m29.1 0h1.2m0.6 0h1.2m0.6 0h1.2m2.3 0h1.2m-78.6 1.6h1.2m13 0h1.2m0.6 0h1.2m0.6 0h1.2m0.6 0h1.2m4.1 0h1.2m0.6 0h1.2m2.3 0h1.2m0.6 0h1.2m2.4 0h1.2m0.6 0h1.2m0.5 0h1.2m6 0h1.2m0.5 0h1.2m0.6 0h1.2m5.9 0h1.2m2.4 0h1.2m7.7 0h1.2m0.6 0h1.2m4.1 0h1.2m0.6 0h1.2m-78.6 1.5h1.2m9.5 0h1.2m0.5 0h1.2m4.2 0h1.2m0.6 0h1.2m2.3 0h1.2m2.4 0h1.2m2.3 0h1.2m0.6 0h1.2m2.4 0h1.2m0.6 0h1.2m0.5 0h1.2m4.2 0h1.2m0.6 0h1.2m2.3 0h1.2m4.2 0h1.2m2.3 0h1.2m9.5 0h1.2m0.6 0h1.2m0.6 0h1.2m0.5 0h1.2m0.6 0h1.2m-67.9 1.6h1.2m0.5 0h1.2m0.6 0h1.2m0.6 0h1.2m9.5 0h1.2m2.3 0h1.2m0.6 0h1.2m5.9 0h1.2m2.4 0h1.2m0.6 0h1.2m0.6 0h1.2m0.5 0h1.2m11.3 0h1.2m7.7 0h1.2m-39.5 1.5h1.2m11.3 0h1.2m2.4 0h1.2m2.3 0h1.2" stroke="#e2b6e6" stroke-width="1.2"/>
<path d="M16.4 713h1.2m-3.8 1.6h1.2m2.3 0h1.2m2.4 0h1.2m4.1 0h1.2m-12.7 1.5h1.2m5.9 0h1.2m-9.2 1.6h1.2m0.6 0h1.2m9.4 0h1.2m2.4 0h1.2m18.4 0h1.2m2.3 0h1.2m-39.4 1.5h1.2m5.9 0h1.2m2.4 0h1.2m5.9 0h1.2m2.3 0h1.2m11.3 0h1.2m-35.9 1.6h1.2m11.2 0h1.2m0.6 0h1.2m14.8 0h1.2m9.5 0h1.2m-39.5 1.5h1.2m14.9 0h1.2m5.9 0h1.2m-27 1.6h1.2m9.5 0h1.2m-11 1.5h1.2m0.5 0h1.2m0.6 0h1.2m0.6 0h1.2m0.6 0h1.2m9.5 0h1.2m4.1 0h1.2m22 0h1.2m-46.6 1.6h1.2m18.3 0h1.2m0.6 0h1.2m20.2 0h1.2m2.3 0h1.2m0.6 0h1.2m-37.7 1.5h1.2m0.6 0h1.2m9.5 0h1.2m20.2 0h1.2m-46.6 1.6h1.2m0.5 0h1.2m7.7 0h1.2m2.4 0h1.2m14.8 0h1.2m2.4 0h1.2m5.9 0h1.2m2.4 0h1.2m0.5 0h1.2m-37.6 1.5h1.2m16.6 0h1.2m2.3 0h1.2m2.4 0h1.2m2.3 0h1.2m2.4 0h1.2m0.6 0h1.2m0.6 0h1.2m-44.9 1.6h1.2m2.4 0h1.2m2.4 0h1.2m25.5 0h1.2m7.7 0h1.2m0.5 0h1.2m-39.4 1.5h1.2m0.6 0h1.2m5.9 0h1.2m2.3 0h1.2m2.4 0h1.2m13 0h1.2m0.6 0h1.2m4.2 0h1.2m11.2 0h1.2m0.6 0h1.2m-51.9 1.6h1.2m0.5 0h1.2m7.7 0h1.2m23.8 0h1.2m0.5 0h1.2m9.5 0h1.2m2.4 0h1.2m-60.9 1.5h1.2m7.8 0h1.2m18.3 0h1.2m0.6 0h1.2m13.1 0h1.2m0.5 0h1.2m0.6 0h1.2m11.3 0h1.2m-60.9 1.6h1.2m2.4 0h1.2m0.6 0h1.2m5.9 0h1.2m23.7 0h1.2m5.9 0h1.2m2.4 0h1.2m11.3 0h1.2m0.5 0h1.2m0.6 0h1.2m0.6 0h1.2m2.4 0h1.2m-73.3 1.5h1.2m0.5 0h1.2m0.6 0h1.2m11.3 0h1.2m5.9 0h1.2m2.4 0h1.2m23.7 0h1.2m4.1 0h1.2m6 0h1.2m0.5 0h1.2m0.6 0h1.2m0.6 0h1.2m2.4 0h1.2m-73.3 1.6h1.2m11.2 0h1.2m0.6 0h1.2m7.7 0h1.2m0.6 0h1.2m29 0h1.2m0.6 0h1.2m4.2 0h1.2m9.4 0h1.2m-67.9 1.5h1.2m9.5 0h1.2m7.7 0h1.2m2.3 0h1.2m2.4 0h1.2m5.9 0h1.2m11.3 0h1.2m0.6 0h1.2m0.5 0h1.2m0.6 0h1.2m0.6 0h1.2m0.6 0h1.2m13 0h1.2m20.2 0h1.2m-96.5 1.6h1.2m2.4 0h1.2m7.7 0h1.2m4.1 0h1.2m9.5 0h1.2m7.7 0h1.2m0.6 0h1.2m11.3 0h1.2m0.5 0h1.2m0.6 0h1.2m0.6 0h1.2m0.6 0h1.2m7.7 0h1.2m9.5 0h1.2m-82.2 1.5h1.2m9.5 0h1.2m5.9 0h1.2m9.5 0h1.2m0.5 0h1.2m11.3 0h1.2m14.8 0h1.2m0.6 0h1.2m0.6 0h1.2m14.8 0h1.2m2.4 0h1.2m0.5 0h1.2m0.6 0h1.2m-87.5 1.6h1.2m2.3 0h1.2m39.8 0h1.2m2.3 0h1.2m4.2 0h1.2m9.5 0h1.2m-64.4 1.5h1.2m16.6 0h1.2m13 0h1.2m2.4 0h1.2m4.1 0h1.2m4.2 0h1.2m14.8 0h1.2m9.5 0h1.2m13 0h1.2m-87.5 1.6h1.2m37.9 0h1.2m34.4 0h1.2m0.6 0h1.2m2.4 0h1.2m4.1 0h1.2m-87.5 1.5h1.2m16.6 0h1.2m2.3 0h1.2m0.6 0h1.2m0.6 0h1.2m4.1 0h1.2m0.6 0h1.2m5.9 0h1.2m4.2 0h1.2m0.6 0h1.2m16.6 0h1.2m4.1 0h1.2m0.6 0h1.2m0.6 0h1.2m2.3 0h1.2m0.6 0h1.2m7.7 0h1.2m0.6 0h1.2m0.6 0h1.2m-89.4 1.6h1.2m6 0h1.2m0.5 0h1.2m9.5 0h1.2m0.6 0h1.2m0.6 0h1.2m2.3 0h1.2m13.1 0h1.2m0.6 0h1.2m5.9 0h1.2m7.7 0h1.2m5.9 0h1.2m7.7 0h1.2m4.1 0h1.2m0.6 0h1.2m-85.7 1.5h1.2m43.3 0h1.2m0.6 0h1.2m16.6 0h1.2m0.5 0h1.2m0.6 0h1.2m16.6 0h1.2m-80.4 1.6h1.2m4.1 0h1.2m23.8 0h1.2m5.9 0h1.2m0.6 0h1.2m11.2 0h1.2m5.9 0h1.2m0.6 0h1.2m9.5 0h1.2m2.4 0h1.2m-80.5 1.5h1.2m4.2 0h1.2m13 0h1.2m0.6 0h1.2m9.5 0h1.2m4.1 0h1.2m0.6 0h1.2m2.4 0h1.2m11.2 0h1.2m6 0h1.2m0.5 0h1.2m0.6 0h1.2m0.6 0h1.2m0.6 0h1.2m0.6 0h1.2m0.5 0h1.2m7.7 0h1.2m0.6 0h1.2m9.5 0h1.2m0.6 0h1.2m-98.2 1.6h1.2m7.7 0h1.2m9.4 0h1.2m6 0h1.2m0.5 0h1.2m9.5 0h1.2m0.6 0h1.2m4.1 0h1.2m6 0h1.2m0.5 0h1.2m0.6 0h1.2m0.6 0h1.2m0.6 0h1.2m2.3 0h1.2m13.1 0h1.2m4.1 0h1.2m5.9 0h1.2m2.4 0h1.2m0.6 0h1.2m-100 1.5h1.2m0.6 0h1.2m0.5 0h1.2m7.8 0h1.2m5.9 0h1.2m0.6 0h1.2m2.3 0h1.2m0.6 0h1.2m27.3 0h1.2m0.6 0h1.2m0.5 0h1.2m9.5 0h1.2m11.3 0h1.2m0.6 0h1.2m0.5 0h1.2m6 0h1.2m4.1 0h1.2m-84 1.6h1.2m4.2 0h1.2m0.5 0h1.2m4.2 0h1.2m0.6 0h1.2m0.5 0h1.2m0.6 0h1.2m4.2 0h1.2m5.9 0h1.2m0.6 0h1.2m9.4 0h1.2m0.6 0h1.2m22 0h1.2m2.3 0h1.2m4.2 0h1.2m-59.1 1.5h1.2m18.4 0h1.2m4.1 0h1.2m0.6 0h1.2m0.6 0h1.2m16.6 0h1.2m0.6 0h1.2m-75.1 1.6h1.2m4.1 0h1.2m4.2 0h1.2m4.1 0h1.2m23.7 0h1.2m22 0h1.2m0.6 0h1.2m2.3 0h1.2m2.4 0h1.2m-75.1 1.5h1.2m0.6 0h1.2m0.6 0h1.2m0.6 0h1.2m5.9 0h1.2m2.3 0h1.2m6 0h1.2m4.1 0h1.2m32.6 0h1.2m2.4 0h1.2m0.6 0h1.2m11.2 0h1.2m0.6 0h1.2m-84 1.6h1.2m0.6 0h1.2m4.1 0h1.2m4.2 0h1.2m4.1 0h1.2m48.7 0h1.2m0.5 0h1.2m4.2 0h1.2m-64.4 1.5h1.2m5.9 0h1.2m4.2 0h1.2m34.4 0h1.2m0.5 0h1.2m14.9 0h1.2m-84 1.6h1.2m11.2 0h1.2m9.5 0h1.2m0.6 0h1.2m0.6 0h1.2m41.5 0h1.2m4.1 0h1.2m4.2 0h1.2m-82.2 1.5h1.2m0.6 0h1.2m11.2 0h1.2m2.4 0h1.2m7.7 0h1.2m0.6 0h1.2m5.9 0h1.2m21.9 0h1.2m9.5 0h1.2m0.6 0h1.2m2.4 0h1.2m4.1 0h1.2m-78.6 1.6h1.2m11.2 0h1.2m0.6 0h1.2m7.7 0h1.2m0.6 0h1.2m30.8 0h1.2m16.6 0h1.2m0.6 0h1.2m-75.1 1.5h1.2m4.2 0h1.2m14.8 0h1.2m5.9 0h1.2m2.4 0h1.2m-34.2 1.6h1.2m0.6 0h1.2m7.7 0h1.2m9.5 0h1.2m5.9 0h1.2m27.3 0h1.2m0.6 0h1.2m5.9 0h1.2m-59 1.5h1.2m0.5 0h1.2m7.7 0h1.2m0.6 0h1.2m0.6 0h1.2m2.4 0h1.2m0.5 0h1.2m0.6 0h1.2m18.4 0h1.2m5.9 0h1.2m0.6 0h1.2m4.1 0h1.2m-59 1.6h1.2m0.6 0h1.2m2.3 0h1.2m0.6 0h1.2m5.9 0h1.2m0.6 0h1.2m2.4 0h1.2m0.5 0h1.2m0.6 0h1.2m13.1 0h1.2m2.3 0h1.2m0.6 0h1.2m0.6 0h1.2m4.1 0h1.2m0.6 0h1.2m0.6 0h1.2m7.7 0h1.2m2.3 0h1.2m2.4 0h1.2m-64.4 1.5h1.2m0.6 0h1.2m5.9 0h1.2m4.2 0h1.2m0.5 0h1.2m0.6 0h1.2m5.9 0h1.2m11.3 0h1.2m14.8 0h1.2m2.4 0h1.2m-68 1.6h1.2m25.5 0h1.2m0.6 0h1.2m0.6 0h1.2m0.6 0h1.2m0.5 0h1.2m0.6 0h1.2m0.6 0h1.2m0.6 0h1.2m2.3 0h1.2m9.5 0h1.2m7.7 0h1.2m5.9 0h1.2m6 0h1.2m-80.5 1.5h1.2m2.4 0h1.2m0.6 0h1.2m7.7 0h1.2m0.6 0h1.2m14.8 0h1.2m0.6 0h1.2m0.6 0h1.2m0.5 0h1.2m2.4 0h1.2m7.7 0h1.2m5.9 0h1.2m22 0h1.2m-80.5 1.6h1.2m0.6 0h1.2m11.3 0h1.2m5.9 0h1.2m7.7 0h1.2m2.4 0h1.2m0.5 0h1.2m0.6 0h1.2m0.6 0h1.2m0.6 0h1.2m4.1 0h1.2m2.4 0h1.2m4.1 0h1.2m0.6 0h1.2m0.6 0h1.2m5.9 0h1.2m9.5 0h1.2m-78.7 1.5h1.2m0.6 0h1.2m0.6 0h1.2m5.9 0h1.2m2.4 0h1.2m4.1 0h1.2m2.4 0h1.2m0.6 0h1.2m7.7 0h1.2m4.1 0h1.2m0.6 0h1.2m0.6 0h1.2m13 0h1.2m0.6 0h1.2m5.9 0h1.2m0.6 0h1.2m4.1 0h1.2m0.6 0h1.2m0.6 0h1.2m2.4 0h1.2m-80.5 1.6h1.2m0.6 0h1.2m2.4 0h1.2m0.6 0h1.2m0.5 0h1.2m4.2 0h1.2m0.6 0h1.2m4.1 0h1.2m0.6 0h1.2m16.6 0h1.2m0.6 0h1.2m5.9 0h1.2m2.3 0h1.2m0.6 0h1.2m0.6 0h1.2m4.1 0h1.2m0.6 0h1.2m4.2 0h1.2m2.3 0h1.2m0.6 0h1.2m0.6 0h1.2m0.6 0h1.2m0.5 0h1.2m-82.2 1.5h1.2m2.4 0h1.2m0.6 0h1.2m0.6 0h1.2m0.6 0h1.2m4.1 0h1.2m4.1 0h1.2m2.4 0h1.2m0.6 0h1.2m0.6 0h1.2m2.3 0h1.2m4.2 0h1.2m0.5 0h1.2m0.6 0h1.2m0.6 0h1.2m0.6 0h1.2m13 0h1.2m0.6 0h1.2m0.6 0h1.2m7.7 0h1.2m2.3 0h1.2m0.6 0h1.2m0.6 0h1.2m0.6 0h1.2m0.6 0h1.2m-78.7 1.6h1.2m0.6 0h1.2m0.6 0h1.2m2.3 0h1.2m4.2 0h1.2m0.6 0h1.2m2.3 0h1.2m5.9 0h1.2m0.6 0h1.2m0.6 0h1.2m0.6 0h1.2m2.3 0h1.2m7.7 0h1.2m9.5 0h1.2m0.6 0h1.2m9.5 0h1.2m0.6 0h1.2m0.5 0h1.2m2.4 0h1.2m2.4 0h1.2m-59.1 1.5h1.2m5.9 0h1.2m0.6 0h1.2m0.6 0h1.2m21.9 0h1.2m20.2 0h1.2m0.6 0h1.2m-82.2 1.6h1.2m5.9 0h1.2m4.1 0h1.2m4.2 0h1.2m4.1 0h1.2m22 0h1.2m0.5 0h1.2m7.7 0h1.2m2.4 0h1.2m7.7 0h1.2m0.6 0h1.2m2.3 0h1.2m7.7 0h1.2m-80.4 1.5h1.2m0.6 0h1.2m0.6 0h1.2m2.4 0h1.2m0.5 0h1.2m0.6 0h1.2m0.6 0h1.2m0.6 0h1.2m21.9 0h1.2m2.4 0h1.2m4.1 0h1.2m5.9 0h1.2m0.6 0h1.2m0.6 0h1.2m7.7 0h1.2m2.4 0h1.2m7.7 0h1.2m-84 1.6h1.2m5.9 0h1.2m2.4 0h1.2m0.5 0h1.2m13.1 0h1.2m0.6 0h1.2m5.9 0h1.2m0.6 0h1.2m0.5 0h1.2m0.6 0h1.2m2.4 0h1.2m7.7 0h1.2m2.3 0h1.2m0.6 0h1.2m0.6 0h1.2m0.6 0h1.2m0.6 0h1.2m0.5 0h1.2m0.6 0h1.2m0.6 0h1.2m2.4 0h1.2m0.5 0h1.2m0.6 0h1.2m0.6 0h1.2m0.6 0h1.2m-80.4 1.5h1.2m0.5 0h1.2m0.6 0h1.2m4.2 0h1.2m0.6 0h1.2m0.5 0h1.2m13.1 0h1.2m0.6 0h1.2m2.3 0h1.2m5.9 0h1.2m0.6 0h1.2m0.6 0h1.2m0.6 0h1.2m0.6 0h1.2m7.7 0h1.2m0.5 0h1.2m0.6 0h1.2m0.6 0h1.2m5.9 0h1.2m4.2 0h1.2m0.5 0h1.2m0.6 0h1.2m-76.8 1.6h1.2m0.5 0h1.2m0.6 0h1.2m4.2 0h1.2m7.7 0h1.2m5.9 0h1.2m0.6 0h1.2m4.1 0h1.2m0.6 0h1.2m7.7 0h1.2m0.6 0h1.2m5.9 0h1.2m4.1 0h1.2m0.6 0h1.2m11.3 0h1.2m2.3 0h1.2m0.6 0h1.2m-78.6 1.5h1.2m0.5 0h1.2m0.6 0h1.2m0.6 0h1.2m0.6 0h1.2m2.4 0h1.2m5.9 0h1.2m2.3 0h1.2m0.6 0h1.2m0.6 0h1.2m4.1 0h1.2m2.4 0h1.2m5.9 0h1.2m0.6 0h1.2m0.6 0h1.2m0.6 0h1.2m0.5 0h1.2m0.6 0h1.2m4.2 0h1.2m0.5 0h1.2m0.6 0h1.2m14.8 0h1.2m2.4 0h1.2m-78.6 1.6h1.2m0.5 0h1.2m0.6 0h1.2m0.6 0h1.2m0.6 0h1.2m0.6 0h1.2m0.5 0h1.2m7.7 0h1.2m0.6 0h1.2m4.2 0h1.2m4.1 0h1.2m5.9 0h1.2m0.6 0h1.2m0.6 0h1.2m7.7 0h1.2m4.1 0h1.2m13.1 0h1.2m0.5 0h1.2m-73.3 1.5h1.2m0.6 0h1.2m0.6 0h1.2m0.6 0h1.2m7.7 0h1.2m4.1 0h1.2m2.4 0h1.2m2.4 0h1.2m4.1 0h1.2m5.9 0h1.2m5.9 0h1.2m7.7 0h1.2m-55.5 1.6h1.2m0.6 0h1.2m0.6 0h1.2m0.6 0h1.2m7.7 0h1.2m0.6 0h1.2m0.5 0h1.2m0.6 0h1.2m0.6 0h1.2m7.7 0h1.2m0.6 0h1.2m4.1 0h1.2m7.7 0h1.2m2.4 0h1.2m2.3 0h1.2m0.6 0h1.2m-35.9 1.5h1.2m0.6 0h1.2m0.6 0h1.2m0.6 0h1.2m2.3 0h1.2m0.6 0h1.2m0.6 0h1.2m0.6 0h1.2m0.5 0h1.2m0.6 0h1.2m5.9 0h1.2" stroke="#dcb573" stroke-width="1.2"/>
<path d="M18.2 713h1.2m16.6 3.1h1.2m0.6 0h1.2m-14.5 1.6h1.2m-9.3 1.5h1.2m16.7 0h1.2m-17.3 3.1h1.2m6 0h1.2m20.1 0h1.2m0.6 0h1.2m0.6 0h1.2m-30.6 1.6h1.2m14.8 0h1.2m2.4 0h1.2m0.6 0h1.2m0.5 0h1.2m0.6 0h1.2m2.4 0h1.2m0.6 0h1.2m0.5 0h1.2m0.6 0h1.2m-14.5 1.5h1.2m0.6 0h1.2m0.5 0h1.2m0.6 0h1.2m0.6 0h1.2m0.6 0h1.2m0.6 0h1.2m2.3 0h1.2m-39.5 1.6h1.2m2.4 0h1.2m20.2 0h1.2m0.5 0h1.2m0.6 0h1.2m0.6 0h1.2m0.6 0h1.2m0.6 0h1.2m0.5 0h1.2m0.6 0h1.2m-14.5 1.5h1.2m0.6 0h1.2m0.5 0h1.2m0.6 0h1.2m0.6 0h1.2m4.1 0h1.2m0.6 0h1.2m0.6 0h1.2m0.6 0h1.2m-35.9 1.6h1.2m14.8 0h1.2m0.6 0h1.2m0.5 0h1.2m2.4 0h1.2m-16.3 1.5h1.2m7.7 0h1.2m2.3 0h1.2m2.4 0h1.2m13 0h1.2m6 0h1.2m-43.1 1.6h1.2m11.3 0h1.2m0.6 0h1.2m0.5 0h1.2m0.6 0h1.2m0.6 0h1.2m0.6 0h1.2m20.1 0h1.2m0.6 0h1.2m-30.5 1.5h1.2m0.5 0h1.2m0.6 0h1.2m0.6 0h1.2m14.8 0h1.2m4.2 0h1.2m0.5 0h1.2m-53.7 1.6h1.2m23.7 0h1.2m0.6 0h1.2m0.6 0h1.2m0.6 0h1.2m0.6 0h1.2m14.8 0h1.2m9.5 0h1.2m-41.3 1.5h1.2m0.6 0h1.2m2.4 0h1.2m4.1 0h1.2m0.6 0h1.2m0.6 0h1.2m0.5 0h1.2m27.3 0h1.2m-46.6 1.6h1.2m0.6 0h1.2m0.6 0h1.2m0.6 0h1.2m0.5 0h1.2m0.6 0h1.2m0.6 0h1.2m0.6 0h1.2m0.6 0h1.2m0.5 0h1.2m-30.5 1.5h1.2m0.6 0h1.2m0.5 0h1.2m0.6 0h1.2m2.4 0h1.2m0.6 0h1.2m0.5 0h1.2m2.4 0h1.2m4.1 0h1.2m0.6 0h1.2m0.6 0h1.2m0.6 0h1.2m0.6 0h1.2m0.5 0h1.2m-37.7 1.6h1.2m0.6 0h1.2m0.6 0h1.2m2.4 0h1.2m5.9 0h1.2m0.6 0h1.2m0.5 0h1.2m0.6 0h1.2m4.2 0h1.2m0.5 0h1.2m0.6 0h1.2m2.4 0h1.2m0.6 0h1.2m0.5 0h1.2m-28.7 1.5h1.2m0.5 0h1.2m0.6 0h1.2m0.6 0h1.2m2.4 0h1.2m2.3 0h1.2m0.6 0h1.2m5.9 0h1.2m4.2 0h1.2m0.5 0h1.2m29.1 0h1.2m25.5 0h1.2m-80.4 1.6h1.2m0.6 0h1.2m2.3 0h1.2m2.4 0h1.2m5.9 0h1.2m0.6 0h1.2m2.3 0h1.2m7.7 0h1.2m0.6 0h1.2m22 0h1.2m2.3 0h1.2m-55.5 1.5h1.2m2.4 0h1.2m5.9 0h1.2m2.4 0h1.2m0.6 0h1.2m0.5 0h1.2m7.7 0h1.2m0.6 0h1.2m0.6 0h1.2m0.6 0h1.2m13 0h1.2m0.6 0h1.2m2.4 0h1.2m21.9 0h1.2m-76.9 1.6h1.2m2.4 0h1.2m0.6 0h1.2m4.1 0h1.2m0.6 0h1.2m0.6 0h1.2m0.6 0h1.2m0.5 0h1.2m16.6 0h1.2m4.2 0h1.2m2.3 0h1.2m7.7 0h1.2m0.6 0h1.2m0.6 0h1.2m0.6 0h1.2m0.6 0h1.2m0.5 0h1.2m0.6 0h1.2m0.6 0h1.2m-66.2 1.5h1.2m0.6 0h1.2m0.6 0h1.2m0.6 0h1.2m0.6 0h1.2m0.5 0h1.2m2.4 0h1.2m2.4 0h1.2m0.5 0h1.2m36.2 0h1.2m-55.5 1.6h1.2m0.6 0h1.2m0.6 0h1.2m5.9 0h1.2m0.6 0h1.2m0.6 0h1.2m0.5 0h1.2m16.6 0h1.2m6 0h1.2m-48.4 1.5h1.2m11.3 0h1.2m4.1 0h1.2m0.6 0h1.2m18.4 0h1.2m0.5 0h1.2m0.6 0h1.2m14.8 0h1.2m-48.3 1.6h1.2m4.1 0h1.2m13 0h1.2m6 0h1.2m0.5 0h1.2m6 0h1.2m14.8 0h1.2m0.6 0h1.2m-57.3 1.5h1.2m0.6 0h1.2m0.6 0h1.2m0.5 0h1.2m23.8 0h1.2m0.5 0h1.2m22 0h1.2m11.2 0h1.2m-69.7 1.6h1.2m0.6 0h1.2m0.6 0h1.2m0.5 0h1.2m9.5 0h1.2m14.8 0h1.2m6 0h1.2m-48.4 1.5h1.2m7.7 0h1.2m0.6 0h1.2m0.6 0h1.2m0.5 0h1.2m-18.1 1.6h1.2m1.5 1.5h1.2m45.1 0h1.2m0.6 0h1.2m0.5 0h1.2m-60.8 1.6h1.2m43.3 0h1.2m0.6 0h1.2m7.7 0h1.2m0.6 0h1.2m0.5 0h1.2m0.6 0h1.2m27.3 0h1.2m-98.2 1.5h1.2m5.9 0h1.2m0.6 0h1.2m30.8 0h1.2m0.6 0h1.2m7.7 0h1.2m2.4 0h1.2m7.7 0h1.2m0.6 0h1.2m0.5 0h1.2m22 0h1.2m-87.6 1.6h1.2m9.5 0h1.2m4.2 0h1.2m4.1 0h1.2m7.7 0h1.2m0.6 0h1.2m2.3 0h1.2m0.6 0h1.2m0.6 0h1.2m5.9 0h1.2m0.6 0h1.2m0.6 0h1.2m0.6 0h1.2m-57.3 1.5h1.2m38 0h1.2m0.5 0h1.2m0.6 0h1.2m7.7 0h1.2m2.4 0h1.2m7.7 0h1.2m-64.4 1.6h1.2m14.8 0h1.2m16.6 0h1.2m0.6 0h1.2m0.6 0h1.2m0.5 0h1.2m0.6 0h1.2m0.6 0h1.2m5.9 0h1.2m0.6 0h1.2m0.6 0h1.2m0.6 0h1.2m0.5 0h1.2m0.6 0h1.2m-60.8 1.5h1.2m0.6 0h1.2m0.5 0h1.2m0.6 0h1.2m0.6 0h1.2m0.6 0h1.2m0.6 0h1.2m0.6 0h1.2m0.5 0h1.2m0.6 0h1.2m4.2 0h1.2m13 0h1.2m0.6 0h1.2m0.6 0h1.2m0.5 0h1.2m0.6 0h1.2m0.6 0h1.2m4.1 0h1.2m0.6 0h1.2m0.6 0h1.2m0.6 0h1.2m0.6 0h1.2m0.5 0h1.2m0.6 0h1.2m14.8 0h1.2m-48.3 1.6h1.2m4.1 0h1.2m0.6 0h1.2m0.6 0h1.2m0.5 0h1.2m0.6 0h1.2m0.6 0h1.2m0.6 0h1.2m2.3 0h1.2m0.6 0h1.2m0.6 0h1.2m0.6 0h1.2m0.6 0h1.2m0.5 0h1.2m0.6 0h1.2m0.6 0h1.2m0.6 0h1.2m-59.1 1.5h1.2m23.8 0h1.2m0.5 0h1.2m4.2 0h1.2m0.6 0h1.2m0.5 0h1.2m0.6 0h1.2m0.6 0h1.2m0.6 0h1.2m0.6 0h1.2m0.5 0h1.2m0.6 0h1.2m0.6 0h1.2m0.6 0h1.2m0.6 0h1.2m2.3 0h1.2m0.6 0h1.2m0.6 0h1.2m0.6 0h1.2m0.5 0h1.2m7.7 0h1.2m4.2 0h1.2m0.6 0h1.2m0.5 0h1.2m-82.2 1.6h1.2m23.8 0h1.2m0.5 0h1.2m0.6 0h1.2m0.6 0h1.2m2.4 0h1.2m0.5 0h1.2m0.6 0h1.2m0.6 0h1.2m0.6 0h1.2m0.6 0h1.2m0.5 0h1.2m0.6 0h1.2m0.6 0h1.2m0.6 0h1.2m0.6 0h1.2m0.5 0h1.2m2.4 0h1.2m0.6 0h1.2m0.6 0h1.2m0.5 0h1.2m7.7 0h1.2m4.2 0h1.2m0.6 0h1.2m0.5 0h1.2m-57.2 1.5h1.2m0.6 0h1.2m0.5 0h1.2m2.4 0h1.2m2.4 0h1.2m0.5 0h1.2m0.6 0h1.2m0.6 0h1.2m0.6 0h1.2m0.6 0h1.2m0.5 0h1.2m0.6 0h1.2m0.6 0h1.2m0.6 0h1.2m0.6 0h1.2m0.5 0h1.2m0.6 0h1.2m0.6 0h1.2m0.6 0h1.2m0.6 0h1.2m0.5 0h1.2m11.3 0h1.2m0.6 0h1.2m0.6 0h1.2m-57.3 1.6h1.2m0.6 0h1.2m0.5 0h1.2m2.4 0h1.2m0.6 0h1.2m0.6 0h1.2m0.5 0h1.2m0.6 0h1.2m0.6 0h1.2m0.6 0h1.2m0.6 0h1.2m0.5 0h1.2m0.6 0h1.2m0.6 0h1.2m0.6 0h1.2m2.3 0h1.2m0.6 0h1.2m4.2 0h1.2m0.5 0h1.2m6 0h1.2m0.5 0h1.2m4.2 0h1.2m0.6 0h1.2m-80.5 1.5h1.2m0.6 0h1.2m0.6 0h1.2m20.2 0h1.2m5.9 0h1.2m0.6 0h1.2m0.6 0h1.2m0.5 0h1.2m0.6 0h1.2m0.6 0h1.2m0.6 0h1.2m0.6 0h1.2m0.5 0h1.2m6 0h1.2m7.7 0h1.2m14.8 0h1.2m-80.4 1.6h1.2m0.5 0h1.2m0.6 0h1.2m0.6 0h1.2m18.4 0h1.2m5.9 0h1.2m0.6 0h1.2m0.6 0h1.2m0.5 0h1.2m0.6 0h1.2m0.6 0h1.2m0.6 0h1.2m2.3 0h1.2m7.7 0h1.2m6 0h1.2m0.5 0h1.2m6 0h1.2m2.3 0h1.2m4.2 0h1.2m-80.5 1.5h1.2m0.6 0h1.2m0.6 0h1.2m18.4 0h1.2m7.7 0h1.2m0.6 0h1.2m0.6 0h1.2m2.3 0h1.2m5.9 0h1.2m6 0h1.2m0.5 0h1.2m4.2 0h1.2m0.6 0h1.2m0.5 0h1.2m6 0h1.2m5.9 0h1.2m-82.2 1.6h1.2m20.1 0h1.2m0.6 0h1.2m5.9 0h1.2m14.9 0h1.2m2.3 0h1.2m11.3 0h1.2m0.6 0h1.2m0.5 0h1.2m6 0h1.2m-75.1 1.5h1.2m0.6 0h1.2m11.2 0h1.2m27.3 0h1.2m7.7 0h1.2m4.2 0h1.2m0.5 0h1.2m2.4 0h1.2m0.6 0h1.2m0.6 0h1.2m0.5 0h1.2m-67.9 1.6h1.2m0.6 0h1.2m23.7 0h1.2m23.7 0h1.2m2.4 0h1.2m0.5 0h1.2m6 0h1.2m0.5 0h1.2m6 0h1.2m-75.1 1.5h1.2m0.6 0h1.2m50.4 0h1.2m0.6 0h1.2m9.5 0h1.2m14.8 0h1.2m-82.2 1.6h1.2m5.9 0h1.2m30.8 0h1.2m11.3 0h1.2m2.4 0h1.2m-57.3 1.5h1.2m23.7 0h1.2m27.3 0h1.2m0.6 0h1.2m-9.2 1.6h1.2m4.1 0h1.2m2.4 0h1.2m-50.2 1.5h1.2m45.1 0h1.2m0.6 0h1.2m11.2 0h1.2m-64.4 1.6h1.2m0.6 0h1.2m45.1 0h1.2m2.4 0h1.2m-32.4 1.5h1.2m18.4 0h1.2m7.7 0h1.2m0.6 0h1.2m21.9 0h1.2m-76.8 1.6h1.2m2.3 0h1.2m9.5 0h1.2m0.6 0h1.2m5.9 0h1.2m5.9 0h1.2m9.5 0h1.2m7.7 0h1.2m2.4 0h1.2m14.8 0h1.2m-57.3 1.5h1.2m0.6 0h1.2m16.6 0h1.2m2.4 0h1.2m13 0h1.2m0.6 0h1.2m7.7 0h1.2m0.6 0h1.2m0.5 0h1.2m11.3 0h1.2m-66.2 1.6h1.2m0.6 0h1.2m0.6 0h1.2m11.2 0h1.2m11.3 0h1.2m7.7 0h1.2m2.4 0h1.2m0.5 0h1.2m4.2 0h1.2m0.6 0h1.2m0.5 0h1.2m0.6 0h1.2m-53.7 1.5h1.2m0.6 0h1.2m9.5 0h1.2m0.6 0h1.2m21.9 0h1.2m0.6 0h1.2m5.9 0h1.2m0.6 0h1.2m0.6 0h1.2m0.5 0h1.2m0.6 0h1.2m-18.1 1.6h1.2m2.4 0h1.2m5.9 0h1.2m0.6 0h1.2m0.5 0h1.2m0.6 0h1.2m-59 1.5h1.2m4.1 0h1.2m27.3 0h1.2m7.7 0h1.2m0.6 0h1.2m5.9 0h1.2m0.6 0h1.2m0.6 0h1.2m0.5 0h1.2m0.6 0h1.2m-69.7 1.6h1.2m0.6 0h1.2m25.5 0h1.2m7.7 0h1.2m13 0h1.2m2.4 0h1.2m5.9 0h1.2m0.6 0h1.2m0.5 0h1.2m0.6 0h1.2m-23.4 1.5h1.2m5.9 0h1.2m0.6 0h1.2" stroke="#4f8fb0" stroke-width="1.2"/>
<rect x="11.2" y="709.2" width="50.3" height="54.2" fill="none" stroke="#e8453c" stroke-width="0.8" stroke-dasharray="2 1.5"/>
<circle cx="15.2" cy="833.8" r="4.5" fill="#e2b6e6"/>
<text x="27.9" y="838.7" font-size="13.3" fill="#222">Tumor</text>
<circle cx="15.2" cy="852.1" r="4.5" fill="#4f8fb0"/>
<text x="27.9" y="857" font-size="13.3" fill="#222">Myeloid</text>
<circle cx="15.2" cy="869.5" r="4.5" fill="#dcb573"/>
<text x="27.9" y="874.4" font-size="13.3" fill="#222">Normal/immune-rich</text>
<path d="M161.2 548.8h1.4m0.6 0h1.4m0.6 0h1.4m-22.3 1.8h1.4m0.6 0h1.4m0.6 0h1.4m8.5 0h1.4m0.6 0h1.4m0.6 0h1.4m0.6 0h1.4m0.6 0h1.4m-24.3 1.8h1.4m0.6 0h1.4m0.6 0h1.4m2.6 0h1.4m0.6 0h1.4m2.5 0h1.4m0.6 0h1.4m0.6 0h1.4m0.6 0h1.4m0.6 0h1.4m0.6 0h1.4m0.6 0h1.4m-28.3 1.8h1.4m0.6 0h1.4m0.6 0h1.4m0.6 0h1.4m0.6 0h1.4m2.6 0h1.4m0.5 0h1.4m4.6 0h1.4m0.6 0h1.4m0.6 0h1.4m0.6 0h1.4m-26.3 1.8h1.4m0.6 0h1.4m0.6 0h1.4m4.6 0h1.4m0.5 0h1.4m0.6 0h1.4m0.6 0h1.4m2.6 0h1.4m4.6 0h1.4m2.6 0h1.4m0.6 0h1.4m0.6 0h1.4m2.6 0h1.4m0.6 0h1.4m0.6 0h1.4m0.6 0h1.4m0.6 0h1.4m0.6 0h1.4m0.6 0h1.4m-54.3 1.7h1.4m0.6 0h1.4m0.6 0h1.4m0.6 0h1.4m0.6 0h1.4m0.6 0h1.4m0.6 0h1.4m0.6 0h1.4m0.5 0h1.4m0.6 0h1.4m0.6 0h1.4m0.6 0h1.4m0.6 0h1.4m4.6 0h1.4m0.6 0h1.4m0.6 0h1.4m0.6 0h1.4m0.6 0h1.4m0.6 0h1.4m0.6 0h1.4m0.6 0h1.4m0.6 0h1.4m2.6 0h1.4m2.5 0h1.4m4.6 0h1.4m0.6 0h1.4m-64.2 1.8h1.4m0.6 0h1.4m2.6 0h1.4m0.6 0h1.4m0.6 0h1.4m0.6 0h1.4m2.5 0h1.4m0.6 0h1.4m0.6 0h1.4m0.6 0h1.4m0.6 0h1.4m0.6 0h1.4m2.6 0h1.4m0.6 0h1.4m0.6 0h1.4m0.6 0h1.4m0.6 0h1.4m2.6 0h1.4m0.6 0h1.4m2.6 0h1.4m0.6 0h1.4m0.6 0h1.4m2.5 0h1.4m0.6 0h1.4m0.6 0h1.4m0.6 0h1.4m2.6 0h1.4m0.6 0h1.4m-70.2 1.8h1.4m2.6 0h1.4m2.6 0h1.4m0.6 0h1.4m0.6 0h1.4m0.6 0h1.4m0.6 0h1.4m2.5 0h1.4m4.6 0h1.4m0.6 0h1.4m0.6 0h1.4m0.6 0h1.4m0.6 0h1.4m0.6 0h1.4m0.6 0h1.4m0.6 0h1.4m0.6 0h1.4m0.6 0h1.4m0.6 0h1.4m2.6 0h1.4m0.6 0h1.4m0.6 0h1.4m0.5 0h1.4m0.6 0h1.4m0.6 0h1.4m0.6 0h1.4m0.6 0h1.4m0.6 0h1.4m2.6 0h1.4m-72.2 1.8h1.4m2.6 0h1.4m0.6 0h1.4m2.6 0h1.4m0.6 0h1.4m0.6 0h1.4m4.5 0h1.4m0.6 0h1.4m8.6 0h1.4m0.6 0h1.4m0.6 0h1.4m0.6 0h1.4m2.6 0h1.4m0.6 0h1.4m2.6 0h1.4m0.6 0h1.4m0.6 0h1.4m0.6 0h1.4m0.6 0h1.4m2.5 0h1.4m4.6 0h1.4m0.6 0h1.4m0.6 0h1.4m0.6 0h1.4m-74.2 1.8h1.4m0.6 0h1.4m0.6 0h1.4m0.6 0h1.4m0.6 0h1.4m2.6 0h1.4m0.6 0h1.4m0.6 0h1.4m4.5 0h1.4m2.6 0h1.4m0.6 0h1.4m0.6 0h1.4m0.6 0h1.4m0.6 0h1.4m0.6 0h1.4m0.6 0h1.4m0.6 0h1.4m2.6 0h1.4m2.6 0h1.4m0.6 0h1.4m10.5 0h1.4m0.6 0h1.4m2.6 0h1.4m0.6 0h1.4m0.6 0h1.4m0.6 0h1.4m-76.2 1.8h1.4m0.6 0h1.4m0.6 0h1.4m4.6 0h1.4m6.6 0h1.4m6.5 0h1.4m0.6 0h1.4m0.6 0h1.4m0.6 0h1.4m8.6 0h1.4m4.6 0h1.4m18.5 0h1.4m2.6 0h1.4m-72.2 1.8h1.4m0.6 0h1.4m0.6 0h1.4m0.6 0h1.4m0.6 0h1.4m0.6 0h1.4m0.6 0h1.4m0.6 0h1.4m0.6 0h1.4m0.6 0h1.4m0.5 0h1.4m0.6 0h1.4m0.6 0h1.4m0.6 0h1.4m2.6 0h1.4m2.6 0h1.4m0.6 0h1.4m2.6 0h1.4m0.6 0h1.4m6.6 0h1.4m4.6 0h1.4m6.5 0h1.4m0.6 0h1.4m2.6 0h1.4m0.6 0h1.4m-74.2 1.8h1.4m0.6 0h1.4m0.6 0h1.4m0.6 0h1.4m0.6 0h1.4m2.6 0h1.4m0.6 0h1.4m0.6 0h1.4m0.6 0h1.4m0.5 0h1.4m0.6 0h1.4m0.6 0h1.4m4.6 0h1.4m4.6 0h1.4m6.6 0h1.4m-44.3 1.7h1.4m8.6 0h1.4m0.6 0h1.4m0.6 0h1.4m0.6 0h1.4m0.6 0h1.4m0.5 0h1.4m0.6 0h1.4m0.6 0h1.4m0.6 0h1.4m2.6 0h1.4m4.6 0h1.4m2.6 0h1.4m0.6 0h1.4m2.6 0h1.4m12.5 0h1.4m0.6 0h1.4m6.6 0h1.4m-72.2 1.8h1.4m0.6 0h1.4m2.6 0h1.4m2.6 0h1.4m0.6 0h1.4m0.6 0h1.4m2.6 0h1.4m10.5 0h1.4m2.6 0h1.4m0.6 0h1.4m2.6 0h1.4m4.6 0h1.4m-44.3 1.8h1.4m2.6 0h1.4m0.6 0h1.4m0.6 0h1.4m0.6 0h1.4m0.6 0h1.4m0.6 0h1.4m4.5 0h1.4m6.6 0h1.4m0.6 0h1.4m0.6 0h1.4m2.6 0h1.4m0.6 0h1.4m0.6 0h1.4m18.5 0h1.4m2.6 0h1.4m-68.2 1.8h1.4m0.6 0h1.4m2.6 0h1.4m0.6 0h1.4m0.6 0h1.4m0.6 0h1.4m2.6 0h1.4m0.6 0h1.4m0.5 0h1.4m0.6 0h1.4m0.6 0h1.4m0.6 0h1.4m0.6 0h1.4m0.6 0h1.4m0.6 0h1.4m0.6 0h1.4m0.6 0h1.4m0.6 0h1.4m0.6 0h1.4m0.6 0h1.4m18.5 0h1.4m0.6 0h1.4m0.6 0h1.4m0.6 0h1.4m-68.2 1.8h1.4m0.6 0h1.4m0.6 0h1.4m0.6 0h1.4m0.6 0h1.4m0.6 0h1.4m2.6 0h1.4m8.5 0h1.4m0.6 0h1.4m0.6 0h1.4m0.6 0h1.4m0.6 0h1.4m0.6 0h1.4m2.6 0h1.4m0.6 0h1.4m0.6 0h1.4m16.5 0h1.4m2.6 0h1.4m2.6 0h1.4m0.6 0h1.4m-72.2 1.8h1.4m0.6 0h1.4m0.6 0h1.4m0.6 0h1.4m2.6 0h1.4m2.6 0h1.4m0.6 0h1.4m6.5 0h1.4m0.6 0h1.4m4.6 0h1.4m0.6 0h1.4m0.6 0h1.4m0.6 0h1.4m0.6 0h1.4m0.6 0h1.4m0.6 0h1.4m18.5 0h1.4m0.6 0h1.4m2.6 0h1.4m0.6 0h1.4m-72.2 1.8h1.4m4.6 0h1.4m0.6 0h1.4m2.6 0h1.4m0.6 0h1.4m6.5 0h1.4m0.6 0h1.4m0.6 0h1.4m0.6 0h1.4m0.6 0h1.4m2.6 0h1.4m2.6 0h1.4m0.6 0h1.4m16.5 0h1.4m4.6 0h1.4m0.6 0h1.4m2.6 0h1.4m0.6 0h1.4m-68.2 1.8h1.4m2.6 0h1.4m0.6 0h1.4m0.6 0h1.4m0.6 0h1.4m2.5 0h1.4m2.6 0h1.4m0.6 0h1.4m0.6 0h1.4m0.6 0h1.4m0.6 0h1.4m0.6 0h1.4m0.6 0h1.4m0.6 0h1.4m22.5 0h1.4m0.6 0h1.4m2.6 0h1.4m0.6 0h1.4m0.6 0h1.4m0.6 0h1.4m-70.2 1.7h1.4m2.6 0h1.4m0.6 0h1.4m0.6 0h1.4m0.6 0h1.4m0.6 0h1.4m0.6 0h1.4m4.5 0h1.4m2.6 0h1.4m0.6 0h1.4m0.6 0h1.4m24.5 0h1.4m4.6 0h1.4m2.6 0h1.4m2.6 0h1.4m0.6 0h1.4m-70.2 1.8h1.4m0.6 0h1.4m0.6 0h1.4m0.6 0h1.4m0.6 0h1.4m0.6 0h1.4m0.6 0h1.4m6.5 0h1.4m2.6 0h1.4m0.6 0h1.4m0.6 0h1.4m22.6 0h1.4m6.5 0h1.4m2.6 0h1.4m0.6 0h1.4m0.6 0h1.4m-66.2 1.8h1.4m2.6 0h1.4m0.6 0h1.4m0.6 0h1.4m6.5 0h1.4m0.6 0h1.4m0.6 0h1.4m0.6 0h1.4m26.5 0h1.4m2.6 0h1.4m2.6 0h1.4m0.6 0h1.4m0.6 0h1.4m0.6 0h1.4m-58.2 1.8h1.4m4.5 0h1.4m0.6 0h1.4m36.5 0h1.4m4.6 0h1.4m2.6 0h1.4m-54.2 1.8h1.4m46.4 0h1.4m2.6 0h1.4m0.6 0h1.4m0.6 0h1.4m-62.2 1.8h1.4m0.6 0h1.4m2.5 0h1.4m36.6 0h1.4m6.5 0h1.4m2.6 0h1.4m-60.2 1.8h1.4m0.6 0h1.4m0.6 0h1.4m0.6 0h1.4m0.6 0h1.4m0.5 0h1.4m0.6 0h1.4m0.6 0h1.4m16.6 0h1.4m0.6 0h1.4m0.6 0h1.4m12.5 0h1.4m4.6 0h1.4m-60.2 1.8h1.4m0.6 0h1.4m0.6 0h1.4m0.6 0h1.4m0.6 0h1.4m2.5 0h1.4m0.6 0h1.4m0.6 0h1.4m0.6 0h1.4m0.6 0h1.4m16.6 0h1.4m20.5 0h1.4m2.6 0h1.4m0.6 0h1.4m-70.2 1.7h1.4m0.6 0h1.4m0.6 0h1.4m0.6 0h1.4m0.6 0h1.4m0.6 0h1.4m0.6 0h1.4m0.6 0h1.4m6.5 0h1.4m0.6 0h1.4m0.6 0h1.4m0.6 0h1.4m8.6 0h1.4m0.6 0h1.4m0.6 0h1.4m18.5 0h1.4m0.6 0h1.4m-66.2 1.8h1.4m0.6 0h1.4m0.6 0h1.4m0.6 0h1.4m2.6 0h1.4m0.6 0h1.4m0.6 0h1.4m0.5 0h1.4m0.6 0h1.4m0.6 0h1.4m0.6 0h1.4m0.6 0h1.4m0.6 0h1.4m0.6 0h1.4m12.6 0h1.4m12.5 0h1.4m0.6 0h1.4m2.6 0h1.4m4.6 0h1.4m-68.2 1.8h1.4m0.6 0h1.4m0.6 0h1.4m2.6 0h1.4m0.6 0h1.4m0.6 0h1.4m2.5 0h1.4m0.6 0h1.4m0.6 0h1.4m0.6 0h1.4m2.6 0h1.4m0.6 0h1.4m24.5 0h1.4m4.6 0h1.4m0.6 0h1.4m0.6 0h1.4m0.6 0h1.4m-70.2 1.8h1.4m0.6 0h1.4m0.6 0h1.4m2.6 0h1.4m0.6 0h1.4m2.6 0h1.4m0.6 0h1.4m4.5 0h1.4m0.6 0h1.4m0.6 0h1.4m0.6 0h1.4m32.5 0h1.4m0.6 0h1.4m0.6 0h1.4m-64.2 1.8h1.4m0.6 0h1.4m0.6 0h1.4m0.6 0h1.4m0.6 0h1.4m2.6 0h1.4m0.6 0h1.4m0.5 0h1.4m0.6 0h1.4m0.6 0h1.4m0.6 0h1.4m2.6 0h1.4m0.6 0h1.4m0.6 0h1.4m26.5 0h1.4m0.6 0h1.4m0.6 0h1.4m-64.2 1.8h1.4m0.6 0h1.4m2.6 0h1.4m0.6 0h1.4m0.6 0h1.4m0.6 0h1.4m2.5 0h1.4m0.6 0h1.4m0.6 0h1.4m0.6 0h1.4m0.6 0h1.4m0.6 0h1.4m2.6 0h1.4m-34.3 1.8h1.4m0.6 0h1.4m0.6 0h1.4m0.6 0h1.4m2.6 0h1.4m0.6 0h1.4m0.6 0h1.4m0.6 0h1.4m0.6 0h1.4m0.5 0h1.4m0.6 0h1.4m0.6 0h1.4m0.6 0h1.4m0.6 0h1.4m2.6 0h1.4m0.6 0h1.4m14.6 0h1.4m0.6 0h1.4m0.6 0h1.4m0.6 0h1.4m0.5 0h1.4m0.6 0h1.4m0.6 0h1.4m0.6 0h1.4m0.6 0h1.4m-68.2 1.8h1.4m0.6 0h1.4m4.6 0h1.4m0.6 0h1.4m0.6 0h1.4m0.6 0h1.4m2.6 0h1.4m2.5 0h1.4m0.6 0h1.4m0.6 0h1.4m0.6 0h1.4m2.6 0h1.4m4.6 0h1.4m14.6 0h1.4m2.6 0h1.4m0.5 0h1.4m0.6 0h1.4m0.6 0h1.4m0.6 0h1.4m-66.2 1.8h1.4m0.6 0h1.4m0.6 0h1.4m2.6 0h1.4m0.6 0h1.4m0.6 0h1.4m2.6 0h1.4m2.5 0h1.4m2.6 0h1.4m0.6 0h1.4m0.6 0h1.4m0.6 0h1.4m0.6 0h1.4m0.6 0h1.4m10.6 0h1.4m4.6 0h1.4m0.6 0h1.4m0.6 0h1.4m0.5 0h1.4m0.6 0h1.4m2.6 0h1.4m2.6 0h1.4m0.6 0h1.4m-70.2 1.7h1.4m0.6 0h1.4m4.6 0h1.4m0.6 0h1.4m0.6 0h1.4m0.6 0h1.4m2.5 0h1.4m2.6 0h1.4m4.6 0h1.4m0.6 0h1.4m2.6 0h1.4m0.6 0h1.4m12.6 0h1.4m0.6 0h1.4m0.6 0h1.4m0.6 0h1.4m0.5 0h1.4m0.6 0h1.4m0.6 0h1.4m0.6 0h1.4m0.6 0h1.4m2.6 0h1.4m-70.2 1.8h1.4m0.6 0h1.4m2.6 0h1.4m0.6 0h1.4m4.6 0h1.4m0.6 0h1.4m12.5 0h1.4m14.6 0h1.4m0.6 0h1.4m0.6 0h1.4m0.6 0h1.4m0.6 0h1.4m6.5 0h1.4m4.6 0h1.4m0.6 0h1.4m-70.2 1.8h1.4m0.6 0h1.4m0.6 0h1.4m0.6 0h1.4m0.6 0h1.4m2.6 0h1.4m0.6 0h1.4m0.5 0h1.4m0.6 0h1.4m0.6 0h1.4m0.6 0h1.4m2.6 0h1.4m16.6 0h1.4m0.6 0h1.4m0.6 0h1.4m2.6 0h1.4m0.6 0h1.4m0.5 0h1.4m0.6 0h1.4m0.6 0h1.4m0.6 0h1.4m0.6 0h1.4m0.6 0h1.4m0.6 0h1.4m-62.2 1.8h1.4m0.6 0h1.4m2.6 0h1.4m0.6 0h1.4m0.5 0h1.4m2.6 0h1.4m0.6 0h1.4m20.6 0h1.4m2.6 0h1.4m0.6 0h1.4m0.6 0h1.4m0.5 0h1.4m0.6 0h1.4m2.6 0h1.4m0.6 0h1.4m2.6 0h1.4m-58.2 1.8h1.4m0.6 0h1.4m4.5 0h1.4m28.6 0h1.4m0.6 0h1.4m0.6 0h1.4m0.6 0h1.4m2.5 0h1.4m0.6 0h1.4" stroke="#e2b6e6" stroke-width="1.4"/>
<rect x="132.50" y="545.30" width="83.30" height="83.10" fill="none" stroke="#2a2a2a" stroke-width="1.1"/>
<circle cx="153" cy="537.9" r="2.9" fill="#e2b6e6"/>
<text x="159.8" y="540.8" font-size="9.4" fill="#222">Tumor</text>
<path d="M190.9 653.3h1.4m4.6 0h1.4m-45.2 10.7h1.4m0.6 3.6h1.4m42.4 0h1.4m0.6 0h1.4m-14.4 1.8h1.4m0.6 0h1.4m2.6 0h1.4m0.6 0h1.4m-54.1 1.8h1.4m4.5 0h1.4m30.5 0h1.4m2.5 0h1.4m0.6 0h1.4m0.6 0h1.4m0.6 0h1.4m0.6 0h1.4m0.6 0h1.4m0.6 0h1.4m2.6 0h1.4m-34.3 1.8h1.4m10.6 0h1.4m0.6 0h1.4m0.5 0h1.4m2.6 0h1.4m0.6 0h1.4m4.6 0h1.4m0.6 0h1.4m-30.3 1.8h1.4m4.6 0h1.4m4.6 0h1.4m0.6 0h1.4m0.5 0h1.4m0.6 0h1.4m0.6 0h1.4m0.6 0h1.4m0.6 0h1.4m0.6 0h1.4m0.6 0h1.4m0.6 0h1.4m0.6 0h1.4m0.5 0h1.4m0.6 0h1.4m-26.2 1.7h1.4m2.5 0h1.4m0.6 0h1.4m0.6 0h1.4m0.6 0h1.4m8.6 0h1.4m0.6 0h1.4m0.5 0h1.4m-42.1 1.8h1.4m12.5 0h1.4m0.6 0h1.4m4.5 0h1.4m0.6 0h1.4m0.6 0h1.4m0.6 0h1.4m6.6 0h1.4m0.6 0h1.4m2.5 0h1.4m-26.2 1.8h1.4m0.6 0h1.4m0.5 0h1.4m0.6 0h1.4m0.6 0h1.4m14.5 0h1.4m-26.2 1.8h1.4m0.6 0h1.4m2.5 0h1.4m0.6 0h1.4m0.6 0h1.4m0.6 0h1.4m-12.3 1.8h1.4m0.6 0h1.4m0.5 0h1.4m0.6 0h1.4m0.6 0h1.4m0.6 0h1.4m0.6 0h1.4m-28.3 1.8h1.4m14.6 0h1.4m0.6 0h1.4m2.5 0h1.4m0.6 0h1.4m0.6 0h1.4m0.6 0h1.4m-14.3 1.8h1.4m0.6 0h1.4m0.5 0h1.4m10.6 0h1.4m-18.3 1.8h1.4m0.6 0h1.4m2.5 0h1.4m2.6 0h1.4m4.6 0h1.4m4.6 0h1.4m-30.3 1.7h1.4m0.6 0h1.4m2.6 0h1.4m0.6 0h1.4m0.6 0h1.4m2.5 0h1.4m8.6 0h1.4m0.6 0h1.4m2.6 0h1.4m2.5 0h1.4m-34.2 1.8h1.4m0.6 0h1.4m0.6 0h1.4m0.6 0h1.4m0.6 0h1.4m0.6 0h1.4m0.5 0h1.4m0.6 0h1.4m2.6 0h1.4m2.6 0h1.4m0.6 0h1.4m0.6 0h1.4m-32.3 1.8h1.4m0.6 0h1.4m0.6 0h1.4m0.6 0h1.4m0.6 0h1.4m0.6 0h1.4m0.6 0h1.4m0.6 0h1.4m4.5 0h1.4m0.6 0h1.4m0.6 0h1.4m16.5 0h1.4m-66.1 1.8h1.4m0.6 0h1.4m0.6 0h1.4m2.6 0h1.4m0.6 0h1.4m4.6 0h1.4m0.6 0h1.4m0.5 0h1.4m0.6 0h1.4m0.6 0h1.4m0.6 0h1.4m0.6 0h1.4m0.6 0h1.4m0.6 0h1.4m0.6 0h1.4m0.6 0h1.4m0.6 0h1.4m0.5 0h1.4m2.6 0h1.4m2.6 0h1.4m0.6 0h1.4m2.6 0h1.4m-54.2 1.8h1.4m2.6 0h1.4m0.6 0h1.4m2.6 0h1.4m0.6 0h1.4m0.6 0h1.4m0.6 0h1.4m4.5 0h1.4m0.6 0h1.4m0.6 0h1.4m0.6 0h1.4m2.6 0h1.4m0.6 0h1.4m0.6 0h1.4m0.5 0h1.4m4.6 0h1.4m0.6 0h1.4m0.6 0h1.4m0.6 0h1.4m0.6 0h1.4m0.6 0h1.4m-44.2 1.8h1.4m0.6 0h1.4m2.6 0h1.4m0.5 0h1.4m2.6 0h1.4m0.6 0h1.4m0.6 0h1.4m2.6 0h1.4m0.6 0h1.4m6.5 0h1.4m0.6 0h1.4m0.6 0h1.4m2.6 0h1.4m0.6 0h1.4m0.6 0h1.4m-38.2 1.8h1.4m2.5 0h1.4m0.6 0h1.4m0.6 0h1.4m2.6 0h1.4m0.6 0h1.4m8.5 0h1.4m0.6 0h1.4m0.6 0h1.4m2.6 0h1.4m2.6 0h1.4m0.6 0h1.4m-34.3 1.8h1.4m0.6 0h1.4m2.6 0h1.4m0.6 0h1.4m0.6 0h1.4m0.6 0h1.4m6.5 0h1.4m2.6 0h1.4m0.6 0h1.4m0.6 0h1.4m0.6 0h1.4m0.6 0h1.4m-28.3 1.7h1.4m0.6 0h1.4m0.6 0h1.4m8.5 0h1.4m4.6 0h1.4m0.6 0h1.4m0.6 0h1.4m0.6 0h1.4m0.6 0h1.4m-30.3 1.8h1.4m0.6 0h1.4m0.6 0h1.4m0.6 0h1.4m0.6 0h1.4m2.6 0h1.4m0.5 0h1.4m0.6 0h1.4m2.6 0h1.4m-22.3 1.8h1.4m0.6 0h1.4m2.6 0h1.4m0.6 0h1.4m0.6 0h1.4m4.5 0h1.4m2.6 0h1.4m0.6 0h1.4m2.6 0h1.4m0.6 0h1.4m-24.3 1.8h1.4m0.6 0h1.4m0.6 0h1.4m10.5 0h1.4m0.6 0h1.4m0.6 0h1.4m0.6 0h1.4m-8.4 1.8h1.4m2.6 0h1.4m-4.4 1.8h1.4m2.6 0h1.4m-18.3 1.8h1.4m4.5 0h1.4m-46.1 1.8h1.4m36.4 0h1.4m0.6 0h1.4m2.6 0h1.4m0.5 0h1.4m0.6 0h1.4m16.5 0h1.4m-56.1 1.8h1.4m2.6 0h1.4m16.5 0h1.4m2.6 0h1.4m0.6 0h1.4m0.6 0h1.4m2.5 0h1.4m0.6 0h1.4m-24.2 1.7h1.4m12.5 0h1.4m0.6 0h1.4m0.6 0h1.4m0.6 0h1.4m0.5 0h1.4m-38.2 1.8h1.4m8.6 0h1.4m20.5 0h1.4m0.6 0h1.4m20.4 3.6h1.4m4.6 0h1.4" stroke="#4f8fb0" stroke-width="1.4"/>
<rect x="132.40" y="649.80" width="83.10" height="83.10" fill="none" stroke="#2a2a2a" stroke-width="1.1"/>
<circle cx="148.3" cy="643.4" r="2.9" fill="#4f8fb0"/>
<text x="155.7" y="646.5" font-size="9.4" fill="#222">Myeloid</text>
<path d="M150.9 758.1h1.4m15.6 1.8h1.4m14.7 0h1.4m-44.5 1.8h1.4m30.7 0h1.4m-22.5 1.7h1.4m4.6 0h1.4m0.6 0h1.4m8.6 0h1.4m8.7 0h1.4m14.6 0h1.4m12.6 0h1.4m-70.5 1.8h1.4m18.6 0h1.4m2.6 0h1.4m0.6 0h1.4m10.7 0h1.4m20.6 0h1.4m0.6 0h1.4m0.6 0h1.4m-70.5 1.8h1.4m28.6 0h1.4m0.6 0h1.4m18.7 0h1.4m2.6 0h1.4m2.6 0h1.4m6.6 0h1.4m-70.5 1.8h1.4m0.6 0h1.4m28.6 0h1.4m10.7 0h1.4m4.6 0h1.4m16.6 0h1.4m6.6 0h1.4m-72.5 1.8h1.4m2.6 0h1.4m14.6 0h1.4m0.6 0h1.4m22.7 0h1.4m-52.5 1.7h1.4m2.6 0h1.4m4.6 0h1.4m6.6 0h1.4m6.6 0h1.4m0.6 0h1.4m0.6 0h1.4m0.6 0h1.4m8.7 0h1.4m4.6 0h1.4m10.6 0h1.4m-42.5 1.8h1.4m0.6 0h1.4m20.7 0h1.4m2.6 0h1.4m8.6 0h1.4m-52.5 1.8h1.4m4.6 0h1.4m2.6 0h1.4m2.6 0h1.4m0.6 0h1.4m10.6 0h1.4m0.6 0h1.4m0.7 0h1.4m0.6 0h1.4m2.6 0h1.4m18.6 0h1.4m4.6 0h1.4m-42.5 1.8h1.4m8.7 0h1.4m18.6 0h1.4m-50.5 1.8h1.4m14.6 0h1.4m0.6 0h1.4m2.6 0h1.4m4.7 0h1.4m2.6 0h1.4m-38.5 1.8h1.4m0.6 0h1.4m0.6 0h1.4m18.6 0h1.4m4.6 0h1.4m2.7 0h1.4m18.6 0h1.4m14.6 0h1.4m-72.5 1.7h1.4m2.6 0h1.4m6.6 0h1.4m2.6 0h1.4m0.6 0h1.4m0.6 0h1.4m0.6 0h1.4m4.6 0h1.4m4.7 0h1.4m-38.5 1.8h1.4m2.6 0h1.4m14.6 0h1.4m2.6 0h1.4m0.6 0h1.4m0.6 0h1.4m6.6 0h1.4m18.7 0h1.4m6.6 0h1.4m4.6 0h1.4m-68.5 1.8h1.4m8.6 0h1.4m42.7 0h1.4m10.6 0h1.4m-54.5 1.8h1.4m0.6 0h1.4m16.6 0h1.4m24.7 0h1.4m-56.5 1.8h1.4m2.6 0h1.4m4.6 0h1.4m0.6 0h1.4m0.6 0h1.4m36.7 0h1.4m0.6 0h1.4m4.6 0h1.4m-66.5 1.7h1.4m0.6 0h1.4m4.6 0h1.4m4.6 0h1.4m0.6 0h1.4m0.6 0h1.4m14.6 0h1.4m24.7 0h1.4m4.6 0h1.4m-68.5 1.8h1.4m0.6 0h1.4m2.6 0h1.4m8.6 0h1.4m2.6 0h1.4m24.7 0h1.4m2.6 0h1.4m4.6 0h1.4m-52.5 1.8h1.4m14.6 0h1.4m2.6 0h1.4m6.6 0h1.4m18.7 0h1.4m0.6 0h1.4m-38.5 1.8h1.4m0.6 0h1.4m0.6 0h1.4m2.6 0h1.4m24.7 0h1.4m-44.5 1.8h1.4m6.6 0h1.4m0.6 0h1.4m0.6 0h1.4m36.7 0h1.4m2.6 0h1.4m-60.5 1.7h1.4m0.6 0h1.4m56.7 0h1.4m6.6 0h1.4m0.6 0h1.4m-72.5 1.8h1.4m22.6 0h1.4m0.6 0h1.4m8.7 0h1.4m10.6 0h1.4m14.6 0h1.4m-66.5 1.8h1.4m0.6 0h1.4m4.6 0h1.4m4.6 0h1.4m20.7 0h1.4m26.6 0h1.4m2.6 0h1.4m0.6 0h1.4m0.6 0h1.4m-40.5 1.8h1.4m18.7 0h1.4m10.6 0h1.4m0.6 0h1.4m0.6 0h1.4m0.6 0h1.4m-28.4 1.8h1.4m16.6 0h1.4m2.6 0h1.4m4.6 0h1.4m-56.5 1.7h1.4m0.6 0h1.4m10.6 0h1.4m34.7 0h1.4m0.6 0h1.4m0.6 0h1.4m-64.5 1.8h1.4m20.6 0h1.4m28.7 0h1.4m4.6 0h1.4m-68.5 1.8h1.4m6.6 0h1.4m6.6 0h1.4m8.6 0h1.4m-22.4 1.8h1.4m4.6 0h1.4m6.6 0h1.4m8.6 0h1.4m0.6 0h1.4m2.7 0h1.4m30.6 0h1.4m-70.5 1.8h1.4m0.6 0h1.4m10.6 0h1.4m36.7 0h1.4m2.6 0h1.4m-56.5 1.7h1.4m4.6 0h1.4m8.6 0h1.4m12.6 0h1.4m2.6 0h1.4m0.7 0h1.4m2.6 0h1.4m0.6 0h1.4m16.6 0h1.4m-54.5 1.8h1.4m26.6 0h1.4m2.7 0h1.4m4.6 0h1.4m26.6 0h1.4m-70.5 1.8h1.4m8.6 0h1.4m2.6 0h1.4m8.6 0h1.4m2.6 0h1.4m0.6 0h1.4m8.7 0h1.4m20.6 0h1.4m4.6 0h1.4m0.6 0h1.4m-70.5 1.8h1.4m14.6 0h1.4m14.7 0h1.4m22.6 0h1.4m2.6 0h1.4m-62.5 1.8h1.4m0.6 0h1.4m8.6 0h1.4m2.6 0h1.4m2.6 0h1.4m6.6 0h1.4m34.7 0h1.4m-64.5 1.8h1.4m12.6 0h1.4m2.6 0h1.4m0.6 0h1.4m0.6 0h1.4m0.6 0h1.4m2.6 0h1.4m2.7 0h1.4m18.6 0h1.4m0.6 0h1.4m0.6 0h1.4m2.6 0h1.4m-54.5 1.7h1.4m12.6 0h1.4m2.6 0h1.4m12.7 0h1.4m-46.5 1.8h1.4m0.6 0h1.4m0.6 0h1.4m2.6 0h1.4m4.6 0h1.4m6.6 0h1.4m4.6 0h1.4m12.7 0h1.4m6.6 0h1.4m10.6 0h1.4m-60.5 1.8h1.4m2.6 0h1.4m8.6 0h1.4m0.6 0h1.4m2.6 0h1.4m10.6 0h1.4m22.7 0h1.4m4.6 0h1.4m0.6 0h1.4" stroke="#dcb573" stroke-width="1.4"/>
<rect x="132.10" y="754.60" width="83.60" height="82.80" fill="none" stroke="#2a2a2a" stroke-width="1.1"/>
<circle cx="128" cy="747.4" r="2.9" fill="#dcb573"/>
<text x="134.1" y="750.3" font-size="9.4" fill="#222">Normal/immune-rich</text>
<text x="229.1" y="538.8" font-size="14" font-weight="bold">k</text>
<text x="280" y="565.7" font-size="9.4" font-weight="bold" text-anchor="middle">Gene scores</text>
<text x="378" y="565.5" font-size="9.4" font-weight="bold" text-anchor="middle">Enhancers</text>
<svg x="239.40" y="0" width="27.80" height="875">
<rect y="571.60" width="100%" height="2.03" fill="#d6ad46"/>
<rect y="572.63" width="100%" height="2.03" fill="#c6af4a"/>
<rect y="573.66" width="100%" height="2.03" fill="#ccae49"/>
<rect y="574.69" width="100%" height="2.03" fill="#a7b353"/>
<rect y="575.71" width="100%" height="3.06" fill="#d7ad46"/>
<rect y="577.77" width="100%" height="2.03" fill="#c7af4a"/>
<rect y="578.80" width="100%" height="2.03" fill="#acb352"/>
<rect y="579.83" width="100%" height="4.09" fill="#e7ab41"/>
<rect y="582.91" width="100%" height="2.03" fill="#acb252"/>
<rect y="583.94" width="100%" height="2.03" fill="#e0ac43"/>
<rect y="584.97" width="100%" height="1.03" fill="#b6b14f"/>
</svg>
<svg x="266.60" y="0" width="27.80" height="875">
<rect y="571.60" width="100%" height="2.03" fill="#f0b93b"/>
<rect y="572.63" width="100%" height="3.06" fill="#f1c338"/>
<rect y="574.69" width="100%" height="2.03" fill="#f0bc3a"/>
<rect y="575.71" width="100%" height="2.03" fill="#eeac3e"/>
<rect y="576.74" width="100%" height="2.03" fill="#efb13d"/>
<rect y="577.77" width="100%" height="3.06" fill="#f0bb3a"/>
<rect y="579.83" width="100%" height="6.14" fill="#efb03d"/>
<rect y="584.97" width="100%" height="1.03" fill="#f0b63c"/>
</svg>
<svg x="293.80" y="0" width="27.20" height="875">
<rect y="571.60" width="100%" height="3.06" fill="#443aa3"/>
<rect y="573.66" width="100%" height="7.17" fill="#45359f"/>
<rect y="579.83" width="100%" height="6.14" fill="#4439a2"/>
<rect y="584.97" width="100%" height="1.03" fill="#45359f"/>
</svg>
<rect x="239.40" y="571.60" width="81.60" height="14.40" fill="none" stroke="#333" stroke-width="0.7"/>
<svg x="239.40" y="0" width="27.80" height="875">
<rect y="588.20" width="100%" height="3.94" fill="#f5e12b"/>
<rect y="591.14" width="100%" height="2.96" fill="#f5e12c"/>
<rect y="593.10" width="100%" height="5.90" fill="#f5e22b"/>
<rect y="598.01" width="100%" height="8.85" fill="#f5e32a"/>
<rect y="605.85" width="100%" height="2.96" fill="#f5e32b"/>
<rect y="607.82" width="100%" height="1.98" fill="#f5e22b"/>
<rect y="608.80" width="100%" height="2.96" fill="#f5df2d"/>
<rect y="610.76" width="100%" height="2.94" fill="#f5e42a"/>
</svg>
<svg x="266.60" y="0" width="27.80" height="875">
<rect y="588.20" width="100%" height="1.98" fill="#3f4eb5"/>
<rect y="589.18" width="100%" height="2.96" fill="#3b5fc4"/>
<rect y="591.14" width="100%" height="1.98" fill="#3d58be"/>
<rect y="592.12" width="100%" height="1.98" fill="#3b5dc4"/>
<rect y="593.10" width="100%" height="1.98" fill="#3b5fc4"/>
<rect y="594.08" width="100%" height="3.94" fill="#3b68c7"/>
<rect y="597.03" width="100%" height="1.98" fill="#3b5dc3"/>
<rect y="598.01" width="100%" height="2.96" fill="#3b5fc4"/>
<rect y="599.97" width="100%" height="1.98" fill="#3d54ba"/>
<rect y="600.95" width="100%" height="2.96" fill="#3b5dc3"/>
<rect y="602.91" width="100%" height="3.94" fill="#3c59c0"/>
<rect y="605.85" width="100%" height="1.98" fill="#3c5bc1"/>
<rect y="606.83" width="100%" height="1.98" fill="#3b6ec9"/>
<rect y="607.82" width="100%" height="1.98" fill="#3d55bc"/>
<rect y="608.80" width="100%" height="3.94" fill="#3b60c4"/>
<rect y="611.74" width="100%" height="1.96" fill="#3b62c5"/>
</svg>
<svg x="293.80" y="0" width="27.20" height="875">
<rect y="588.20" width="100%" height="1.98" fill="#3a7acc"/>
<rect y="589.18" width="100%" height="3.94" fill="#3a79cc"/>
<rect y="592.12" width="100%" height="1.98" fill="#3b6fc9"/>
<rect y="593.10" width="100%" height="1.98" fill="#3a77cb"/>
<rect y="594.08" width="100%" height="1.98" fill="#3c98c6"/>
<rect y="595.07" width="100%" height="1.98" fill="#3b6cc8"/>
<rect y="596.05" width="100%" height="3.94" fill="#3a83cf"/>
<rect y="598.99" width="100%" height="1.98" fill="#3b71c9"/>
<rect y="599.97" width="100%" height="2.96" fill="#3b6dc8"/>
<rect y="601.93" width="100%" height="1.98" fill="#3a77cb"/>
<rect y="602.91" width="100%" height="1.98" fill="#3b6dc8"/>
<rect y="603.89" width="100%" height="1.98" fill="#3a74ca"/>
<rect y="604.87" width="100%" height="1.98" fill="#3c97c6"/>
<rect y="605.85" width="100%" height="1.98" fill="#3a76cb"/>
<rect y="606.83" width="100%" height="1.98" fill="#3c9ec2"/>
<rect y="607.82" width="100%" height="1.98" fill="#3a78cb"/>
<rect y="608.80" width="100%" height="1.98" fill="#3b71c9"/>
<rect y="609.78" width="100%" height="2.96" fill="#3a76cb"/>
<rect y="611.74" width="100%" height="1.98" fill="#3a7fcd"/>
<rect y="612.72" width="100%" height="0.98" fill="#3a82ce"/>
</svg>
<rect x="239.40" y="588.20" width="81.60" height="25.50" fill="none" stroke="#333" stroke-width="0.7"/>
<svg x="239.40" y="0" width="27.80" height="875">
<rect y="616.00" width="100%" height="2.00" fill="#f4d731"/>
<rect y="617.00" width="100%" height="2.00" fill="#f4d432"/>
<rect y="618.00" width="100%" height="2.00" fill="#f3d234"/>
<rect y="619.00" width="100%" height="2.00" fill="#f4d532"/>
<rect y="620.00" width="100%" height="3.00" fill="#f3d134"/>
<rect y="622.00" width="100%" height="2.00" fill="#f4da2f"/>
<rect y="623.00" width="100%" height="3.00" fill="#f1c139"/>
<rect y="625.00" width="100%" height="5.00" fill="#f3d134"/>
<rect y="629.00" width="100%" height="2.00" fill="#f4d731"/>
<rect y="630.00" width="100%" height="2.00" fill="#f3ce35"/>
<rect y="631.00" width="100%" height="2.00" fill="#f3d034"/>
<rect y="632.00" width="100%" height="2.00" fill="#f3d333"/>
<rect y="633.00" width="100%" height="3.00" fill="#f4d731"/>
<rect y="635.00" width="100%" height="2.00" fill="#f3d134"/>
<rect y="636.00" width="100%" height="2.00" fill="#f3cd36"/>
<rect y="637.00" width="100%" height="2.00" fill="#f3d134"/>
<rect y="638.00" width="100%" height="2.00" fill="#f4d532"/>
<rect y="639.00" width="100%" height="1.00" fill="#f3d333"/>
</svg>
<svg x="266.60" y="0" width="27.80" height="875">
<rect y="616.00" width="100%" height="2.00" fill="#50b9a0"/>
<rect y="617.00" width="100%" height="2.00" fill="#3b97c7"/>
<rect y="618.00" width="100%" height="3.00" fill="#3da8bc"/>
<rect y="620.00" width="100%" height="2.00" fill="#3da3bf"/>
<rect y="621.00" width="100%" height="2.00" fill="#3fb8b2"/>
<rect y="622.00" width="100%" height="2.00" fill="#46baa9"/>
<rect y="623.00" width="100%" height="2.00" fill="#3a8bce"/>
<rect y="624.00" width="100%" height="4.00" fill="#3eabb9"/>
<rect y="627.00" width="100%" height="3.00" fill="#3a87d0"/>
<rect y="629.00" width="100%" height="2.00" fill="#3c9bc4"/>
<rect y="630.00" width="100%" height="2.00" fill="#3da5bd"/>
<rect y="631.00" width="100%" height="2.00" fill="#3eb2b5"/>
<rect y="632.00" width="100%" height="3.00" fill="#3da3bf"/>
<rect y="634.00" width="100%" height="4.00" fill="#68b789"/>
<rect y="637.00" width="100%" height="2.00" fill="#3a88d0"/>
<rect y="638.00" width="100%" height="2.00" fill="#3eabb9"/>
<rect y="639.00" width="100%" height="1.00" fill="#82b672"/>
</svg>
<svg x="293.80" y="0" width="27.20" height="875">
<rect y="616.00" width="100%" height="5.00" fill="#433ba4"/>
<rect y="620.00" width="100%" height="2.00" fill="#4437a1"/>
<rect y="621.00" width="100%" height="3.00" fill="#45359e"/>
<rect y="623.00" width="100%" height="4.00" fill="#443aa3"/>
<rect y="626.00" width="100%" height="6.00" fill="#45359e"/>
<rect y="631.00" width="100%" height="4.00" fill="#433ba4"/>
<rect y="634.00" width="100%" height="6.00" fill="#4240a9"/>
</svg>
<rect x="239.40" y="616.00" width="81.60" height="24.00" fill="none" stroke="#333" stroke-width="0.7"/>
<svg x="239.40" y="0" width="27.80" height="875">
<rect y="642.30" width="100%" height="3.00" fill="#f3cf35"/>
<rect y="644.30" width="100%" height="3.00" fill="#f3d134"/>
<rect y="646.30" width="100%" height="2.00" fill="#f3d035"/>
<rect y="647.30" width="100%" height="2.00" fill="#f2c538"/>
<rect y="648.30" width="100%" height="2.00" fill="#f3ce35"/>
<rect y="649.30" width="100%" height="3.00" fill="#f2cb36"/>
<rect y="651.30" width="100%" height="4.00" fill="#f3d333"/>
<rect y="654.30" width="100%" height="3.00" fill="#f2c937"/>
<rect y="656.30" width="100%" height="2.00" fill="#f1c239"/>
<rect y="657.30" width="100%" height="2.00" fill="#f0bc3a"/>
<rect y="658.30" width="100%" height="2.00" fill="#f3d134"/>
<rect y="659.30" width="100%" height="3.00" fill="#f0bb3a"/>
</svg>
<svg x="266.60" y="0" width="27.80" height="875">
<rect y="642.30" width="100%" height="2.00" fill="#4439a2"/>
<rect y="643.30" width="100%" height="2.00" fill="#4438a1"/>
<rect y="644.30" width="100%" height="5.00" fill="#45359e"/>
<rect y="648.30" width="100%" height="2.00" fill="#4439a2"/>
<rect y="649.30" width="100%" height="2.00" fill="#443aa3"/>
<rect y="650.30" width="100%" height="8.00" fill="#4438a1"/>
<rect y="657.30" width="100%" height="5.00" fill="#45349e"/>
</svg>
<svg x="293.80" y="0" width="27.20" height="875">
<rect y="642.30" width="100%" height="2.00" fill="#bcb04d"/>
<rect y="643.30" width="100%" height="2.00" fill="#eeac3e"/>
<rect y="644.30" width="100%" height="2.00" fill="#eeab3f"/>
<rect y="645.30" width="100%" height="3.00" fill="#adb251"/>
<rect y="647.30" width="100%" height="3.00" fill="#acb252"/>
<rect y="649.30" width="100%" height="3.00" fill="#c1b04c"/>
<rect y="651.30" width="100%" height="3.00" fill="#eeaa3f"/>
<rect y="653.30" width="100%" height="2.00" fill="#99b45c"/>
<rect y="654.30" width="100%" height="2.00" fill="#eead3e"/>
<rect y="655.30" width="100%" height="3.00" fill="#c7af4a"/>
<rect y="657.30" width="100%" height="2.00" fill="#eead3e"/>
<rect y="658.30" width="100%" height="2.00" fill="#f0b83b"/>
<rect y="659.30" width="100%" height="3.00" fill="#c3b04b"/>
</svg>
<rect x="239.40" y="642.30" width="81.60" height="20.00" fill="none" stroke="#333" stroke-width="0.7"/>
<svg x="239.40" y="0" width="27.80" height="875">
<rect y="664.50" width="100%" height="2.01" fill="#3a82ce"/>
<rect y="665.51" width="100%" height="3.01" fill="#3b6cc8"/>
<rect y="667.52" width="100%" height="3.01" fill="#3a87d0"/>
<rect y="669.53" width="100%" height="2.01" fill="#3c9ac4"/>
<rect y="670.54" width="100%" height="2.01" fill="#3a7bcc"/>
<rect y="671.54" width="100%" height="2.01" fill="#3ca1c0"/>
<rect y="672.55" width="100%" height="2.01" fill="#3a80ce"/>
<rect y="673.56" width="100%" height="5.03" fill="#3b69c7"/>
<rect y="677.58" width="100%" height="2.01" fill="#3a76cb"/>
<rect y="678.59" width="100%" height="2.01" fill="#3a7dcd"/>
</svg>
<svg x="266.60" y="0" width="27.80" height="875">
<rect y="664.50" width="100%" height="2.01" fill="#f5e12c"/>
<rect y="665.51" width="100%" height="4.02" fill="#f5e32b"/>
<rect y="668.52" width="100%" height="2.01" fill="#f5e02c"/>
<rect y="669.53" width="100%" height="2.01" fill="#f5e42a"/>
<rect y="670.54" width="100%" height="3.01" fill="#f5e02c"/>
<rect y="672.55" width="100%" height="3.01" fill="#f5e32b"/>
<rect y="674.56" width="100%" height="2.01" fill="#f5e22b"/>
<rect y="675.57" width="100%" height="5.03" fill="#f5e02c"/>
</svg>
<svg x="293.80" y="0" width="27.20" height="875">
<rect y="664.50" width="100%" height="2.01" fill="#3d55bb"/>
<rect y="665.51" width="100%" height="2.01" fill="#3b5dc3"/>
<rect y="666.51" width="100%" height="3.01" fill="#3d54bb"/>
<rect y="668.52" width="100%" height="2.01" fill="#4146af"/>
<rect y="669.53" width="100%" height="2.01" fill="#3c59c0"/>
<rect y="670.54" width="100%" height="2.01" fill="#3d54bb"/>
<rect y="671.54" width="100%" height="2.01" fill="#404bb2"/>
<rect y="672.55" width="100%" height="4.02" fill="#4047af"/>
<rect y="675.57" width="100%" height="4.02" fill="#3d58be"/>
<rect y="678.59" width="100%" height="2.01" fill="#3c5ac1"/>
<rect y="679.59" width="100%" height="1.01" fill="#3b5fc4"/>
</svg>
<rect x="239.40" y="664.50" width="81.60" height="16.10" fill="none" stroke="#333" stroke-width="0.7"/>
<svg x="239.40" y="0" width="27.80" height="875">
<rect y="682.30" width="100%" height="3.01" fill="#4438a2"/>
<rect y="684.31" width="100%" height="2.00" fill="#4437a1"/>
<rect y="685.31" width="100%" height="6.02" fill="#4437a0"/>
<rect y="690.33" width="100%" height="3.01" fill="#4536a0"/>
<rect y="692.34" width="100%" height="2.00" fill="#433ca5"/>
<rect y="693.34" width="100%" height="3.01" fill="#4438a1"/>
<rect y="695.35" width="100%" height="2.00" fill="#433ca5"/>
<rect y="696.35" width="100%" height="2.00" fill="#443aa3"/>
<rect y="697.36" width="100%" height="3.01" fill="#433ba4"/>
<rect y="699.36" width="100%" height="2.00" fill="#4438a1"/>
<rect y="700.37" width="100%" height="3.01" fill="#433da6"/>
<rect y="702.37" width="100%" height="5.01" fill="#4438a1"/>
<rect y="706.39" width="100%" height="3.01" fill="#433ca5"/>
</svg>
<svg x="266.60" y="0" width="27.80" height="875">
<rect y="682.30" width="100%" height="3.01" fill="#f4dd2e"/>
<rect y="684.31" width="100%" height="5.01" fill="#f4d930"/>
<rect y="688.32" width="100%" height="6.02" fill="#f4dc2e"/>
<rect y="693.34" width="100%" height="6.02" fill="#f5e02c"/>
<rect y="698.36" width="100%" height="4.01" fill="#f4dc2e"/>
<rect y="701.37" width="100%" height="2.00" fill="#f4df2d"/>
<rect y="702.37" width="100%" height="2.00" fill="#f4de2d"/>
<rect y="703.38" width="100%" height="4.01" fill="#f4db2f"/>
<rect y="706.39" width="100%" height="3.01" fill="#f4dc2e"/>
</svg>
<svg x="293.80" y="0" width="27.20" height="875">
<rect y="682.30" width="100%" height="2.00" fill="#b9b14e"/>
<rect y="683.30" width="100%" height="3.01" fill="#cdae48"/>
<rect y="685.31" width="100%" height="3.01" fill="#61b890"/>
<rect y="687.32" width="100%" height="2.00" fill="#63b88e"/>
<rect y="688.32" width="100%" height="3.01" fill="#4eb9a2"/>
<rect y="690.33" width="100%" height="2.00" fill="#3da4be"/>
<rect y="691.33" width="100%" height="2.00" fill="#9bb45a"/>
<rect y="692.34" width="100%" height="2.00" fill="#98b45c"/>
<rect y="693.34" width="100%" height="2.00" fill="#3eb1b6"/>
<rect y="694.34" width="100%" height="2.00" fill="#acb352"/>
<rect y="695.35" width="100%" height="3.01" fill="#72b781"/>
<rect y="697.36" width="100%" height="2.00" fill="#aab352"/>
<rect y="698.36" width="100%" height="2.00" fill="#3da8bc"/>
<rect y="699.36" width="100%" height="2.00" fill="#3c9fc1"/>
<rect y="700.37" width="100%" height="2.00" fill="#5db894"/>
<rect y="701.37" width="100%" height="2.00" fill="#43baad"/>
<rect y="702.37" width="100%" height="5.01" fill="#3b96c7"/>
<rect y="706.39" width="100%" height="3.01" fill="#66b88b"/>
<rect y="708.40" width="100%" height="1.00" fill="#54b99c"/>
</svg>
<rect x="239.40" y="682.30" width="81.60" height="27.10" fill="none" stroke="#333" stroke-width="0.7"/>
<svg x="239.40" y="0" width="27.80" height="875">
<rect y="711.30" width="100%" height="5.06" fill="#433ba4"/>
<rect y="715.36" width="100%" height="2.02" fill="#443aa3"/>
<rect y="716.38" width="100%" height="5.06" fill="#4439a2"/>
<rect y="720.43" width="100%" height="6.08" fill="#433ca5"/>
<rect y="725.51" width="100%" height="6.08" fill="#4438a2"/>
<rect y="730.59" width="100%" height="1.02" fill="#433ba4"/>
</svg>
<svg x="266.60" y="0" width="27.80" height="875">
<rect y="711.30" width="100%" height="3.03" fill="#f0b63c"/>
<rect y="713.33" width="100%" height="2.02" fill="#f1bf39"/>
<rect y="714.34" width="100%" height="3.03" fill="#d7ad45"/>
<rect y="716.38" width="100%" height="2.02" fill="#f1bd3a"/>
<rect y="717.39" width="100%" height="2.02" fill="#d9ad45"/>
<rect y="718.40" width="100%" height="5.06" fill="#efb53c"/>
<rect y="722.47" width="100%" height="3.03" fill="#d0ae47"/>
<rect y="724.50" width="100%" height="2.02" fill="#a9b352"/>
<rect y="725.51" width="100%" height="2.02" fill="#aab352"/>
<rect y="726.52" width="100%" height="2.02" fill="#efaf3e"/>
<rect y="727.54" width="100%" height="2.02" fill="#f0b83b"/>
<rect y="728.56" width="100%" height="3.03" fill="#efb33d"/>
<rect y="730.59" width="100%" height="1.02" fill="#caaf49"/>
</svg>
<svg x="293.80" y="0" width="27.20" height="875">
<rect y="711.30" width="100%" height="2.02" fill="#efb33c"/>
<rect y="712.31" width="100%" height="2.02" fill="#f0b63c"/>
<rect y="713.33" width="100%" height="2.02" fill="#f1c139"/>
<rect y="714.34" width="100%" height="2.02" fill="#efaf3e"/>
<rect y="715.36" width="100%" height="2.02" fill="#efb23d"/>
<rect y="716.38" width="100%" height="2.02" fill="#f0bc3a"/>
<rect y="717.39" width="100%" height="5.06" fill="#eeab3f"/>
<rect y="721.45" width="100%" height="2.02" fill="#f0b73b"/>
<rect y="722.47" width="100%" height="2.02" fill="#f1bf39"/>
<rect y="723.48" width="100%" height="2.02" fill="#deac44"/>
<rect y="724.50" width="100%" height="2.02" fill="#e9ab41"/>
<rect y="725.51" width="100%" height="3.03" fill="#efb13d"/>
<rect y="727.54" width="100%" height="2.02" fill="#efb23d"/>
<rect y="728.56" width="100%" height="2.02" fill="#e1ac43"/>
<rect y="729.57" width="100%" height="2.02" fill="#f0b53c"/>
<rect y="730.59" width="100%" height="1.02" fill="#daad45"/>
</svg>
<rect x="239.40" y="711.30" width="81.60" height="20.30" fill="none" stroke="#333" stroke-width="0.7"/>
<svg x="239.40" y="0" width="27.80" height="875">
<rect y="733.50" width="100%" height="2.01" fill="#3c5bc1"/>
<rect y="734.51" width="100%" height="2.01" fill="#3c59bf"/>
<rect y="735.52" width="100%" height="2.01" fill="#3d57be"/>
<rect y="736.54" width="100%" height="2.01" fill="#3a77cb"/>
<rect y="737.55" width="100%" height="2.01" fill="#3c5bc2"/>
<rect y="738.56" width="100%" height="4.04" fill="#3d55bc"/>
<rect y="741.59" width="100%" height="2.01" fill="#3d55bb"/>
<rect y="742.61" width="100%" height="3.02" fill="#3c59bf"/>
<rect y="744.63" width="100%" height="2.01" fill="#3c5ac1"/>
<rect y="745.64" width="100%" height="4.04" fill="#3b5cc2"/>
<rect y="748.68" width="100%" height="2.02" fill="#3b5fc4"/>
</svg>
<svg x="266.60" y="0" width="27.80" height="875">
<rect y="733.50" width="100%" height="5.05" fill="#3eb1b6"/>
<rect y="737.55" width="100%" height="2.01" fill="#3a81ce"/>
<rect y="738.56" width="100%" height="2.01" fill="#3a80ce"/>
<rect y="739.57" width="100%" height="2.01" fill="#3b72ca"/>
<rect y="740.58" width="100%" height="2.01" fill="#69b788"/>
<rect y="741.59" width="100%" height="2.01" fill="#3a82ce"/>
<rect y="742.61" width="100%" height="2.01" fill="#59b898"/>
<rect y="743.62" width="100%" height="2.01" fill="#3daaba"/>
<rect y="744.63" width="100%" height="4.04" fill="#3a85cf"/>
<rect y="747.66" width="100%" height="2.01" fill="#3b8dcd"/>
<rect y="748.68" width="100%" height="2.02" fill="#3a75cb"/>
</svg>
<svg x="293.80" y="0" width="27.20" height="875">
<rect y="733.50" width="100%" height="2.01" fill="#f5e32b"/>
<rect y="734.51" width="100%" height="2.01" fill="#f5e22b"/>
<rect y="735.52" width="100%" height="3.02" fill="#f5e32b"/>
<rect y="737.55" width="100%" height="3.02" fill="#f5e02c"/>
<rect y="739.57" width="100%" height="5.05" fill="#f5e12b"/>
<rect y="743.62" width="100%" height="4.04" fill="#f5e22b"/>
<rect y="746.65" width="100%" height="4.05" fill="#f5e12c"/>
</svg>
<rect x="239.40" y="733.50" width="81.60" height="17.20" fill="none" stroke="#333" stroke-width="0.7"/>
<svg x="239.40" y="0" width="27.80" height="875">
<rect y="752.40" width="100%" height="1.99" fill="#3fb6b2"/>
<rect y="753.39" width="100%" height="2.98" fill="#3da2bf"/>
<rect y="755.36" width="100%" height="1.99" fill="#68b78a"/>
<rect y="756.35" width="100%" height="1.99" fill="#5db894"/>
<rect y="757.34" width="100%" height="1.99" fill="#67b88b"/>
<rect y="758.33" width="100%" height="1.99" fill="#3da7bc"/>
<rect y="759.31" width="100%" height="1.99" fill="#79b679"/>
<rect y="760.30" width="100%" height="1.99" fill="#3da3bf"/>
<rect y="761.29" width="100%" height="1.99" fill="#63b88e"/>
<rect y="762.27" width="100%" height="1.99" fill="#70b782"/>
<rect y="763.26" width="100%" height="1.99" fill="#3fb9b1"/>
<rect y="764.25" width="100%" height="1.99" fill="#9fb456"/>
<rect y="765.24" width="100%" height="1.99" fill="#71b781"/>
<rect y="766.23" width="100%" height="1.98" fill="#98b55d"/>
</svg>
<svg x="266.60" y="0" width="27.80" height="875">
<rect y="752.40" width="100%" height="11.86" fill="#433ba4"/>
<rect y="763.26" width="100%" height="4.95" fill="#4438a1"/>
<rect y="767.21" width="100%" height="0.99" fill="#423fa8"/>
</svg>
<svg x="293.80" y="0" width="27.20" height="875">
<rect y="752.40" width="100%" height="1.99" fill="#f4de2d"/>
<rect y="753.39" width="100%" height="1.99" fill="#f4dc2e"/>
<rect y="754.38" width="100%" height="2.98" fill="#f4db2f"/>
<rect y="756.35" width="100%" height="1.99" fill="#f5df2d"/>
<rect y="757.34" width="100%" height="4.95" fill="#f4de2d"/>
<rect y="761.29" width="100%" height="3.96" fill="#f4da2f"/>
<rect y="764.25" width="100%" height="3.95" fill="#f4d930"/>
</svg>
<rect x="239.40" y="752.40" width="81.60" height="15.80" fill="none" stroke="#333" stroke-width="0.7"/>
<text x="234.2" y="581.3" font-size="7" font-weight="bold" text-anchor="middle">K1</text>
<text x="234.2" y="603.5" font-size="7" font-weight="bold" text-anchor="middle">K2</text>
<text x="234.2" y="630.5" font-size="7" font-weight="bold" text-anchor="middle">K3</text>
<text x="234.2" y="654.8" font-size="7" font-weight="bold" text-anchor="middle">K4</text>
<text x="234.2" y="675" font-size="7" font-weight="bold" text-anchor="middle">K5</text>
<text x="234.2" y="698.3" font-size="7" font-weight="bold" text-anchor="middle">K6</text>
<text x="234.2" y="724" font-size="7" font-weight="bold" text-anchor="middle">K7</text>
<text x="234.2" y="744.6" font-size="7" font-weight="bold" text-anchor="middle">K8</text>
<text x="234.2" y="762.8" font-size="7" font-weight="bold" text-anchor="middle">K9</text>
<svg x="336.90" y="0" width="27.90" height="875">
<rect y="570.90" width="100%" height="2.01" fill="#e5cca3"/>
<rect y="571.91" width="100%" height="2.01" fill="#efc487"/>
<rect y="572.93" width="100%" height="2.01" fill="#e9ca9c"/>
<rect y="573.94" width="100%" height="2.01" fill="#edc994"/>
<rect y="574.96" width="100%" height="3.03" fill="#ee9e44"/>
<rect y="576.98" width="100%" height="3.03" fill="#e7cb9f"/>
<rect y="579.01" width="100%" height="2.01" fill="#ed9640"/>
<rect y="580.02" width="100%" height="2.01" fill="#efc07f"/>
<rect y="581.04" width="100%" height="2.01" fill="#e9ca9c"/>
<rect y="582.05" width="100%" height="3.03" fill="#f0b564"/>
<rect y="584.08" width="100%" height="2.01" fill="#ecc996"/>
<rect y="585.09" width="100%" height="4.04" fill="#efb86d"/>
<rect y="588.14" width="100%" height="2.01" fill="#edc994"/>
<rect y="589.15" width="100%" height="2.01" fill="#efbd78"/>
<rect y="590.16" width="100%" height="3.03" fill="#ebca98"/>
<rect y="592.19" width="100%" height="2.01" fill="#e77533"/>
<rect y="593.21" width="100%" height="4.04" fill="#efbe79"/>
<rect y="596.25" width="100%" height="2.01" fill="#f0b15d"/>
<rect y="597.26" width="100%" height="2.01" fill="#edc995"/>
<rect y="598.27" width="100%" height="2.01" fill="#f0b669"/>
<rect y="599.29" width="100%" height="3.03" fill="#ed9741"/>
<rect y="601.32" width="100%" height="3.03" fill="#efb96e"/>
<rect y="603.34" width="100%" height="2.01" fill="#efc891"/>
<rect y="604.36" width="100%" height="2.01" fill="#e5cca3"/>
<rect y="605.37" width="100%" height="2.01" fill="#e3cda6"/>
<rect y="606.39" width="100%" height="1.01" fill="#efc283"/>
</svg>
<svg x="364.20" y="0" width="27.90" height="875">
<rect y="570.90" width="100%" height="3.03" fill="#ec933f"/>
<rect y="572.93" width="100%" height="2.01" fill="#eb8b3c"/>
<rect y="573.94" width="100%" height="3.03" fill="#e56b2f"/>
<rect y="575.97" width="100%" height="2.01" fill="#e87a35"/>
<rect y="576.98" width="100%" height="2.01" fill="#e87934"/>
<rect y="578.00" width="100%" height="2.01" fill="#eb893b"/>
<rect y="579.01" width="100%" height="2.01" fill="#ec933f"/>
<rect y="580.02" width="100%" height="5.06" fill="#e87834"/>
<rect y="584.08" width="100%" height="3.03" fill="#ea8439"/>
<rect y="586.11" width="100%" height="2.01" fill="#e56a2e"/>
<rect y="587.12" width="100%" height="3.03" fill="#e87734"/>
<rect y="589.15" width="100%" height="2.01" fill="#ee9e44"/>
<rect y="590.16" width="100%" height="3.03" fill="#e5692e"/>
<rect y="592.19" width="100%" height="2.01" fill="#e87b35"/>
<rect y="593.21" width="100%" height="2.01" fill="#ea8339"/>
<rect y="594.22" width="100%" height="4.04" fill="#e77433"/>
<rect y="597.26" width="100%" height="2.01" fill="#e87b35"/>
<rect y="598.27" width="100%" height="2.01" fill="#e25727"/>
<rect y="599.29" width="100%" height="2.01" fill="#e98238"/>
<rect y="600.30" width="100%" height="3.03" fill="#f0ac51"/>
<rect y="602.33" width="100%" height="2.01" fill="#f0ad52"/>
<rect y="603.34" width="100%" height="2.01" fill="#e67031"/>
<rect y="604.36" width="100%" height="2.01" fill="#e66e30"/>
<rect y="605.37" width="100%" height="2.01" fill="#ea8339"/>
<rect y="606.39" width="100%" height="1.01" fill="#e15024"/>
</svg>
<svg x="391.50" y="0" width="27.30" height="875">
<rect y="570.90" width="100%" height="3.03" fill="#4b85c8"/>
<rect y="572.93" width="100%" height="3.03" fill="#4d88c9"/>
<rect y="574.96" width="100%" height="2.01" fill="#4c87c9"/>
<rect y="575.97" width="100%" height="6.07" fill="#4d87c9"/>
<rect y="581.04" width="100%" height="2.01" fill="#4b83c7"/>
<rect y="582.05" width="100%" height="4.04" fill="#4b84c7"/>
<rect y="585.09" width="100%" height="4.04" fill="#4c85c8"/>
<rect y="588.14" width="100%" height="2.01" fill="#4b84c7"/>
<rect y="589.15" width="100%" height="2.01" fill="#4c86c8"/>
<rect y="590.16" width="100%" height="7.08" fill="#4d87c9"/>
<rect y="596.25" width="100%" height="8.10" fill="#4b85c8"/>
<rect y="603.34" width="100%" height="4.04" fill="#4c86c9"/>
<rect y="606.39" width="100%" height="1.01" fill="#4e89ca"/>
</svg>
<svg x="336.90" y="0" width="27.90" height="875">
<rect y="609.10" width="100%" height="2.01" fill="#d44423"/>
<rect y="610.11" width="100%" height="2.01" fill="#b72e25"/>
<rect y="611.12" width="100%" height="2.01" fill="#bb3125"/>
<rect y="612.12" width="100%" height="2.01" fill="#d34223"/>
<rect y="613.13" width="100%" height="2.01" fill="#b22a26"/>
<rect y="614.14" width="100%" height="3.01" fill="#b52d25"/>
<rect y="616.15" width="100%" height="2.01" fill="#bc3225"/>
<rect y="617.16" width="100%" height="2.01" fill="#b52d25"/>
<rect y="618.17" width="100%" height="2.01" fill="#be3325"/>
<rect y="619.17" width="100%" height="2.01" fill="#d74523"/>
<rect y="620.18" width="100%" height="2.01" fill="#d34223"/>
<rect y="621.19" width="100%" height="2.01" fill="#d24223"/>
<rect y="622.20" width="100%" height="3.01" fill="#d64523"/>
<rect y="624.21" width="100%" height="2.01" fill="#d34223"/>
<rect y="625.22" width="100%" height="2.01" fill="#af2826"/>
<rect y="626.23" width="100%" height="2.01" fill="#b42b25"/>
<rect y="627.24" width="100%" height="2.01" fill="#b02926"/>
<rect y="628.24" width="100%" height="2.01" fill="#bc3225"/>
<rect y="629.25" width="100%" height="2.01" fill="#b72e25"/>
<rect y="630.26" width="100%" height="3.01" fill="#b22a26"/>
<rect y="632.27" width="100%" height="2.01" fill="#d84623"/>
<rect y="633.28" width="100%" height="2.01" fill="#b02926"/>
<rect y="634.29" width="100%" height="2.01" fill="#b12a26"/>
<rect y="635.29" width="100%" height="2.01" fill="#e15224"/>
<rect y="636.30" width="100%" height="2.01" fill="#bf3425"/>
<rect y="637.31" width="100%" height="3.01" fill="#b22a26"/>
<rect y="639.33" width="100%" height="3.01" fill="#b62e25"/>
<rect y="641.34" width="100%" height="3.01" fill="#de4a22"/>
<rect y="643.36" width="100%" height="2.01" fill="#b42c25"/>
<rect y="644.36" width="100%" height="2.01" fill="#b12a26"/>
<rect y="645.37" width="100%" height="2.01" fill="#d84623"/>
<rect y="646.38" width="100%" height="2.01" fill="#b22b26"/>
<rect y="647.38" width="100%" height="2.01" fill="#bd3325"/>
<rect y="648.39" width="100%" height="1.01" fill="#b92f25"/>
</svg>
<svg x="364.20" y="0" width="27.90" height="875">
<rect y="609.10" width="100%" height="2.01" fill="#b4ced7"/>
<rect y="610.11" width="100%" height="2.01" fill="#75afdb"/>
<rect y="611.12" width="100%" height="3.01" fill="#b8ced5"/>
<rect y="613.13" width="100%" height="2.01" fill="#7eb4dc"/>
<rect y="614.14" width="100%" height="2.01" fill="#599ed7"/>
<rect y="615.14" width="100%" height="2.01" fill="#5aa0d8"/>
<rect y="616.15" width="100%" height="3.01" fill="#b2cdd9"/>
<rect y="618.17" width="100%" height="2.01" fill="#6baada"/>
<rect y="619.17" width="100%" height="2.01" fill="#5a9fd8"/>
<rect y="620.18" width="100%" height="2.01" fill="#5ba1d8"/>
<rect y="621.19" width="100%" height="2.01" fill="#69a9da"/>
<rect y="622.20" width="100%" height="2.01" fill="#90bede"/>
<rect y="623.21" width="100%" height="2.01" fill="#98c3de"/>
<rect y="624.21" width="100%" height="2.01" fill="#80b5dc"/>
<rect y="625.22" width="100%" height="3.01" fill="#92c0de"/>
<rect y="627.24" width="100%" height="2.01" fill="#a1c8df"/>
<rect y="628.24" width="100%" height="3.01" fill="#60a4d9"/>
<rect y="630.26" width="100%" height="3.01" fill="#76b0db"/>
<rect y="632.27" width="100%" height="2.01" fill="#69a8d9"/>
<rect y="633.28" width="100%" height="2.01" fill="#8abbdd"/>
<rect y="634.29" width="100%" height="2.01" fill="#89badd"/>
<rect y="635.29" width="100%" height="2.01" fill="#bccfd2"/>
<rect y="636.30" width="100%" height="2.01" fill="#6eabda"/>
<rect y="637.31" width="100%" height="2.01" fill="#7ab2db"/>
<rect y="638.32" width="100%" height="2.01" fill="#82b7dc"/>
<rect y="639.33" width="100%" height="2.01" fill="#70acda"/>
<rect y="640.33" width="100%" height="2.01" fill="#6aa9da"/>
<rect y="641.34" width="100%" height="2.01" fill="#7bb3db"/>
<rect y="642.35" width="100%" height="2.01" fill="#a1c8df"/>
<rect y="643.36" width="100%" height="2.01" fill="#8abbdd"/>
<rect y="644.36" width="100%" height="2.01" fill="#75afdb"/>
<rect y="645.37" width="100%" height="2.01" fill="#92c0de"/>
<rect y="646.38" width="100%" height="3.02" fill="#b4ced8"/>
</svg>
<svg x="391.50" y="0" width="27.30" height="875">
<rect y="609.10" width="100%" height="2.01" fill="#aaccde"/>
<rect y="610.11" width="100%" height="2.01" fill="#599fd7"/>
<rect y="611.12" width="100%" height="4.02" fill="#a5cae0"/>
<rect y="614.14" width="100%" height="2.01" fill="#5fa3d9"/>
<rect y="615.14" width="100%" height="3.01" fill="#9fc7df"/>
<rect y="617.16" width="100%" height="2.01" fill="#a4cae0"/>
<rect y="618.17" width="100%" height="2.01" fill="#8ebddd"/>
<rect y="619.17" width="100%" height="3.01" fill="#5aa0d8"/>
<rect y="621.19" width="100%" height="2.01" fill="#dfceae"/>
<rect y="622.20" width="100%" height="2.01" fill="#9fc7df"/>
<rect y="623.21" width="100%" height="2.01" fill="#579bd5"/>
<rect y="624.21" width="100%" height="2.01" fill="#e0ceae"/>
<rect y="625.22" width="100%" height="2.01" fill="#73aedb"/>
<rect y="626.23" width="100%" height="2.01" fill="#92c0de"/>
<rect y="627.24" width="100%" height="3.01" fill="#67a7d9"/>
<rect y="629.25" width="100%" height="2.01" fill="#a3c9df"/>
<rect y="630.26" width="100%" height="2.01" fill="#6aa9da"/>
<rect y="631.26" width="100%" height="2.01" fill="#dad1b9"/>
<rect y="632.27" width="100%" height="3.01" fill="#ecc995"/>
<rect y="634.29" width="100%" height="3.01" fill="#65a6d9"/>
<rect y="636.30" width="100%" height="2.01" fill="#b0cdda"/>
<rect y="637.31" width="100%" height="2.01" fill="#ecc995"/>
<rect y="638.32" width="100%" height="2.01" fill="#5ba0d8"/>
<rect y="639.33" width="100%" height="2.01" fill="#adcddc"/>
<rect y="640.33" width="100%" height="2.01" fill="#599fd7"/>
<rect y="641.34" width="100%" height="3.01" fill="#60a3d9"/>
<rect y="643.36" width="100%" height="3.01" fill="#afcddb"/>
<rect y="645.37" width="100%" height="4.02" fill="#589dd6"/>
<rect y="648.39" width="100%" height="1.01" fill="#b2cdd9"/>
</svg>
<svg x="336.90" y="0" width="27.90" height="875">
<rect y="651.10" width="100%" height="2.00" fill="#4d87c9"/>
<rect y="652.10" width="100%" height="2.00" fill="#63a5d9"/>
<rect y="653.10" width="100%" height="2.00" fill="#5699d4"/>
<rect y="654.10" width="100%" height="2.00" fill="#6eabda"/>
<rect y="655.09" width="100%" height="2.00" fill="#4d87c9"/>
<rect y="656.09" width="100%" height="2.00" fill="#76b0db"/>
<rect y="657.09" width="100%" height="2.00" fill="#5699d4"/>
<rect y="658.09" width="100%" height="2.00" fill="#7bb2db"/>
<rect y="659.09" width="100%" height="2.00" fill="#5699d4"/>
<rect y="660.09" width="100%" height="3.00" fill="#5495d1"/>
<rect y="662.08" width="100%" height="2.00" fill="#5698d3"/>
<rect y="663.08" width="100%" height="2.00" fill="#69a8da"/>
<rect y="664.08" width="100%" height="2.00" fill="#5392d0"/>
<rect y="665.08" width="100%" height="2.00" fill="#5699d4"/>
<rect y="666.08" width="100%" height="2.00" fill="#61a4d9"/>
<rect y="667.07" width="100%" height="2.00" fill="#508ecd"/>
<rect y="668.07" width="100%" height="2.00" fill="#4e8acb"/>
<rect y="669.07" width="100%" height="2.00" fill="#74afdb"/>
<rect y="670.07" width="100%" height="2.00" fill="#5597d3"/>
<rect y="671.07" width="100%" height="2.00" fill="#5699d4"/>
<rect y="672.07" width="100%" height="2.00" fill="#80b5dc"/>
<rect y="673.07" width="100%" height="2.00" fill="#4f8ccc"/>
<rect y="674.06" width="100%" height="2.00" fill="#95c2de"/>
<rect y="675.06" width="100%" height="2.00" fill="#85b8dc"/>
<rect y="676.06" width="100%" height="2.00" fill="#73aedb"/>
<rect y="677.06" width="100%" height="2.00" fill="#8fbedd"/>
<rect y="678.06" width="100%" height="2.00" fill="#86b9dd"/>
<rect y="679.06" width="100%" height="3.00" fill="#81b6dc"/>
<rect y="681.05" width="100%" height="3.00" fill="#5597d3"/>
<rect y="683.05" width="100%" height="2.00" fill="#508dcd"/>
<rect y="684.05" width="100%" height="2.00" fill="#5698d3"/>
<rect y="685.05" width="100%" height="2.00" fill="#5392d0"/>
<rect y="686.04" width="100%" height="2.00" fill="#5fa3d9"/>
<rect y="687.04" width="100%" height="2.00" fill="#5ea2d8"/>
<rect y="688.04" width="100%" height="3.00" fill="#5698d3"/>
<rect y="690.04" width="100%" height="2.00" fill="#81b6dc"/>
<rect y="691.04" width="100%" height="2.00" fill="#5da2d8"/>
<rect y="692.03" width="100%" height="2.00" fill="#5699d4"/>
<rect y="693.03" width="100%" height="2.00" fill="#508ecd"/>
<rect y="694.03" width="100%" height="3.00" fill="#5597d3"/>
<rect y="696.03" width="100%" height="3.00" fill="#5596d2"/>
<rect y="698.03" width="100%" height="2.00" fill="#97c2de"/>
<rect y="699.02" width="100%" height="2.00" fill="#a6cbe0"/>
<rect y="700.02" width="100%" height="2.00" fill="#7eb4dc"/>
<rect y="701.02" width="100%" height="2.00" fill="#5597d3"/>
<rect y="702.02" width="100%" height="2.00" fill="#4f8ccc"/>
<rect y="703.02" width="100%" height="3.00" fill="#77b0db"/>
<rect y="705.01" width="100%" height="2.00" fill="#5699d4"/>
<rect y="706.01" width="100%" height="2.00" fill="#5598d3"/>
<rect y="707.01" width="100%" height="2.00" fill="#579ad4"/>
<rect y="708.01" width="100%" height="4.00" fill="#6baada"/>
<rect y="711.00" width="100%" height="2.00" fill="#5699d4"/>
<rect y="712.00" width="100%" height="2.00" fill="#4f8bcb"/>
</svg>
<svg x="364.20" y="0" width="27.90" height="875">
<rect y="651.10" width="100%" height="2.00" fill="#bb3125"/>
<rect y="652.10" width="100%" height="2.00" fill="#b52c25"/>
<rect y="653.10" width="100%" height="2.00" fill="#ba3025"/>
<rect y="654.10" width="100%" height="4.00" fill="#b32b25"/>
<rect y="657.09" width="100%" height="2.00" fill="#b72e25"/>
<rect y="658.09" width="100%" height="4.99" fill="#ba3025"/>
<rect y="662.08" width="100%" height="2.00" fill="#b42c25"/>
<rect y="663.08" width="100%" height="2.00" fill="#b12a26"/>
<rect y="664.08" width="100%" height="2.00" fill="#be3325"/>
<rect y="665.08" width="100%" height="4.00" fill="#b42c25"/>
<rect y="668.07" width="100%" height="3.00" fill="#ba3025"/>
<rect y="670.07" width="100%" height="2.00" fill="#b12926"/>
<rect y="671.07" width="100%" height="3.00" fill="#b62d25"/>
<rect y="673.07" width="100%" height="2.00" fill="#b42c25"/>
<rect y="674.06" width="100%" height="2.00" fill="#b32b25"/>
<rect y="675.06" width="100%" height="2.00" fill="#b22a26"/>
<rect y="676.06" width="100%" height="4.00" fill="#b93025"/>
<rect y="679.06" width="100%" height="2.00" fill="#bb3125"/>
<rect y="680.05" width="100%" height="2.00" fill="#e04d22"/>
<rect y="681.05" width="100%" height="2.00" fill="#b92f25"/>
<rect y="682.05" width="100%" height="2.00" fill="#b82f25"/>
<rect y="683.05" width="100%" height="2.00" fill="#c13524"/>
<rect y="684.05" width="100%" height="2.00" fill="#b92f25"/>
<rect y="685.05" width="100%" height="2.00" fill="#b72e25"/>
<rect y="686.04" width="100%" height="4.99" fill="#b32b25"/>
<rect y="690.04" width="100%" height="2.00" fill="#ba3025"/>
<rect y="691.04" width="100%" height="2.00" fill="#b82f25"/>
<rect y="692.03" width="100%" height="2.00" fill="#d14123"/>
<rect y="693.03" width="100%" height="4.99" fill="#ae2726"/>
<rect y="697.03" width="100%" height="2.00" fill="#b82f25"/>
<rect y="698.03" width="100%" height="3.00" fill="#b32b25"/>
<rect y="700.02" width="100%" height="2.00" fill="#bb3125"/>
<rect y="701.02" width="100%" height="2.00" fill="#af2826"/>
<rect y="702.02" width="100%" height="2.00" fill="#b12a26"/>
<rect y="703.02" width="100%" height="2.00" fill="#ad2726"/>
<rect y="704.02" width="100%" height="2.00" fill="#b32b25"/>
<rect y="705.01" width="100%" height="2.00" fill="#b82f25"/>
<rect y="706.01" width="100%" height="2.00" fill="#b92f25"/>
<rect y="707.01" width="100%" height="2.00" fill="#d94723"/>
<rect y="708.01" width="100%" height="3.00" fill="#b62d25"/>
<rect y="710.01" width="100%" height="2.00" fill="#b52d25"/>
<rect y="711.00" width="100%" height="2.00" fill="#b02926"/>
<rect y="712.00" width="100%" height="2.00" fill="#ba3025"/>
</svg>
<svg x="391.50" y="0" width="27.30" height="875">
<rect y="651.10" width="100%" height="2.00" fill="#67a7d9"/>
<rect y="652.10" width="100%" height="2.00" fill="#a9cce0"/>
<rect y="653.10" width="100%" height="2.00" fill="#8bbcdd"/>
<rect y="654.10" width="100%" height="2.00" fill="#8cbcdd"/>
<rect y="655.09" width="100%" height="2.00" fill="#63a5d9"/>
<rect y="656.09" width="100%" height="2.00" fill="#9ac4df"/>
<rect y="657.09" width="100%" height="2.00" fill="#ee9c43"/>
<rect y="658.09" width="100%" height="2.00" fill="#81b6dc"/>
<rect y="659.09" width="100%" height="3.00" fill="#9ac4df"/>
<rect y="661.08" width="100%" height="2.00" fill="#accddd"/>
<rect y="662.08" width="100%" height="2.00" fill="#c3d0cd"/>
<rect y="663.08" width="100%" height="2.00" fill="#a2c9df"/>
<rect y="664.08" width="100%" height="2.00" fill="#d7d2be"/>
<rect y="665.08" width="100%" height="2.00" fill="#f0af58"/>
<rect y="666.08" width="100%" height="3.00" fill="#6facda"/>
<rect y="668.07" width="100%" height="2.00" fill="#7cb3db"/>
<rect y="669.07" width="100%" height="3.00" fill="#94c1de"/>
<rect y="671.07" width="100%" height="3.00" fill="#85b8dc"/>
<rect y="673.07" width="100%" height="2.00" fill="#ccd1c7"/>
<rect y="674.06" width="100%" height="2.00" fill="#79b2db"/>
<rect y="675.06" width="100%" height="2.00" fill="#a6cbe0"/>
<rect y="676.06" width="100%" height="2.00" fill="#64a6d9"/>
<rect y="677.06" width="100%" height="2.00" fill="#b8ced5"/>
<rect y="678.06" width="100%" height="2.00" fill="#a2c8df"/>
<rect y="679.06" width="100%" height="2.00" fill="#cdd1c6"/>
<rect y="680.05" width="100%" height="4.00" fill="#8dbddd"/>
<rect y="683.05" width="100%" height="2.00" fill="#9bc5df"/>
<rect y="684.05" width="100%" height="2.00" fill="#88badd"/>
<rect y="685.05" width="100%" height="2.00" fill="#61a4d9"/>
<rect y="686.04" width="100%" height="3.00" fill="#73aedb"/>
<rect y="688.04" width="100%" height="3.00" fill="#8cbcdd"/>
<rect y="690.04" width="100%" height="2.00" fill="#cdd1c6"/>
<rect y="691.04" width="100%" height="2.00" fill="#7fb5dc"/>
<rect y="692.03" width="100%" height="2.00" fill="#9dc6df"/>
<rect y="693.03" width="100%" height="2.00" fill="#76b0db"/>
<rect y="694.03" width="100%" height="2.00" fill="#69a9da"/>
<rect y="695.03" width="100%" height="2.00" fill="#a8cce0"/>
<rect y="696.03" width="100%" height="2.00" fill="#599fd7"/>
<rect y="697.03" width="100%" height="2.00" fill="#77b0db"/>
<rect y="698.03" width="100%" height="2.00" fill="#a1c8df"/>
<rect y="699.02" width="100%" height="2.00" fill="#bfcfd0"/>
<rect y="700.02" width="100%" height="2.00" fill="#7eb4dc"/>
<rect y="701.02" width="100%" height="3.00" fill="#97c2de"/>
<rect y="703.02" width="100%" height="2.00" fill="#5ea2d8"/>
<rect y="704.02" width="100%" height="3.00" fill="#68a8d9"/>
<rect y="706.01" width="100%" height="2.00" fill="#88badd"/>
<rect y="707.01" width="100%" height="3.00" fill="#d9d1bb"/>
<rect y="709.01" width="100%" height="2.00" fill="#a6cbe0"/>
<rect y="710.01" width="100%" height="2.00" fill="#92bfde"/>
<rect y="711.00" width="100%" height="2.00" fill="#dbd0b6"/>
<rect y="712.00" width="100%" height="2.00" fill="#a1c8df"/>
<rect y="713.00" width="100%" height="1.00" fill="#94c1de"/>
</svg>
<svg x="336.90" y="0" width="27.90" height="875">
<rect y="714.00" width="100%" height="3.01" fill="#5ca1d8"/>
<rect y="716.01" width="100%" height="2.00" fill="#7db4dc"/>
<rect y="717.01" width="100%" height="2.00" fill="#5699d4"/>
<rect y="718.01" width="100%" height="2.00" fill="#61a4d9"/>
<rect y="719.02" width="100%" height="2.00" fill="#5598d3"/>
<rect y="720.02" width="100%" height="2.00" fill="#5a9fd8"/>
<rect y="721.03" width="100%" height="6.02" fill="#5ca1d8"/>
<rect y="726.04" width="100%" height="2.00" fill="#5495d2"/>
<rect y="727.05" width="100%" height="3.01" fill="#5597d3"/>
<rect y="729.06" width="100%" height="2.00" fill="#7bb3db"/>
<rect y="730.06" width="100%" height="2.00" fill="#5597d3"/>
<rect y="731.06" width="100%" height="2.00" fill="#4e8acb"/>
<rect y="732.07" width="100%" height="2.00" fill="#5699d4"/>
<rect y="733.07" width="100%" height="2.00" fill="#61a4d9"/>
<rect y="734.07" width="100%" height="2.00" fill="#579ad4"/>
<rect y="735.08" width="100%" height="2.00" fill="#4e89ca"/>
<rect y="736.08" width="100%" height="2.00" fill="#7db4dc"/>
<rect y="737.09" width="100%" height="3.01" fill="#4f8bcc"/>
<rect y="739.09" width="100%" height="3.01" fill="#5698d3"/>
<rect y="741.10" width="100%" height="2.00" fill="#63a5d9"/>
<rect y="742.10" width="100%" height="2.00" fill="#78b1db"/>
<rect y="743.11" width="100%" height="2.00" fill="#64a6d9"/>
<rect y="744.11" width="100%" height="2.00" fill="#4e8acb"/>
<rect y="745.11" width="100%" height="2.00" fill="#5ea2d8"/>
<rect y="746.12" width="100%" height="2.00" fill="#5596d2"/>
<rect y="747.12" width="100%" height="4.01" fill="#8cbcdd"/>
<rect y="750.13" width="100%" height="2.00" fill="#5698d3"/>
<rect y="751.14" width="100%" height="2.00" fill="#589cd6"/>
<rect y="752.14" width="100%" height="3.01" fill="#5698d3"/>
<rect y="754.15" width="100%" height="2.00" fill="#64a5d9"/>
<rect y="755.15" width="100%" height="2.00" fill="#518fce"/>
<rect y="756.16" width="100%" height="2.00" fill="#5da2d8"/>
<rect y="757.16" width="100%" height="2.00" fill="#5699d4"/>
<rect y="758.16" width="100%" height="2.00" fill="#5698d3"/>
<rect y="759.17" width="100%" height="2.00" fill="#579ad4"/>
<rect y="760.17" width="100%" height="5.01" fill="#5597d3"/>
<rect y="764.19" width="100%" height="4.01" fill="#5a9fd8"/>
<rect y="767.20" width="100%" height="1.00" fill="#508dcc"/>
</svg>
<svg x="364.20" y="0" width="27.90" height="875">
<rect y="714.00" width="100%" height="3.01" fill="#d64523"/>
<rect y="716.01" width="100%" height="2.00" fill="#b32b25"/>
<rect y="717.01" width="100%" height="3.01" fill="#c03424"/>
<rect y="719.02" width="100%" height="2.00" fill="#e14f23"/>
<rect y="720.02" width="100%" height="2.00" fill="#c73a24"/>
<rect y="721.03" width="100%" height="2.00" fill="#c43824"/>
<rect y="722.03" width="100%" height="2.00" fill="#c23624"/>
<rect y="723.03" width="100%" height="2.00" fill="#c83b24"/>
<rect y="724.04" width="100%" height="3.01" fill="#c13624"/>
<rect y="726.04" width="100%" height="3.01" fill="#cc3d24"/>
<rect y="728.05" width="100%" height="3.01" fill="#c23624"/>
<rect y="730.06" width="100%" height="2.00" fill="#c03424"/>
<rect y="731.06" width="100%" height="4.01" fill="#c23624"/>
<rect y="734.07" width="100%" height="2.00" fill="#e25928"/>
<rect y="735.08" width="100%" height="2.00" fill="#b62e25"/>
<rect y="736.08" width="100%" height="3.01" fill="#e15425"/>
<rect y="738.09" width="100%" height="2.00" fill="#e25a28"/>
<rect y="739.09" width="100%" height="2.00" fill="#f0b15c"/>
<rect y="740.10" width="100%" height="3.01" fill="#f0ab4e"/>
<rect y="742.10" width="100%" height="2.00" fill="#e4622b"/>
<rect y="743.11" width="100%" height="2.00" fill="#ca3c24"/>
<rect y="744.11" width="100%" height="2.00" fill="#bd3225"/>
<rect y="745.11" width="100%" height="4.01" fill="#e15124"/>
<rect y="748.13" width="100%" height="2.00" fill="#e4632b"/>
<rect y="749.13" width="100%" height="2.00" fill="#ed9741"/>
<rect y="750.13" width="100%" height="2.00" fill="#e25726"/>
<rect y="751.14" width="100%" height="2.00" fill="#e66e30"/>
<rect y="752.14" width="100%" height="2.00" fill="#c33724"/>
<rect y="753.14" width="100%" height="2.00" fill="#e15224"/>
<rect y="754.15" width="100%" height="2.00" fill="#e15225"/>
<rect y="755.15" width="100%" height="2.00" fill="#eb8a3c"/>
<rect y="756.16" width="100%" height="2.00" fill="#bf3425"/>
<rect y="757.16" width="100%" height="2.00" fill="#c23624"/>
<rect y="758.16" width="100%" height="3.01" fill="#bd3225"/>
<rect y="760.17" width="100%" height="3.01" fill="#df4b22"/>
<rect y="762.18" width="100%" height="2.00" fill="#be3325"/>
<rect y="763.18" width="100%" height="4.01" fill="#b82f25"/>
<rect y="766.19" width="100%" height="2.01" fill="#ea883b"/>
</svg>
<svg x="391.50" y="0" width="27.30" height="875">
<rect y="714.00" width="100%" height="2.00" fill="#599fd7"/>
<rect y="715.00" width="100%" height="2.00" fill="#9ec7df"/>
<rect y="716.01" width="100%" height="3.01" fill="#b6ced6"/>
<rect y="718.01" width="100%" height="3.01" fill="#96c2de"/>
<rect y="720.02" width="100%" height="2.00" fill="#dbd0b5"/>
<rect y="721.03" width="100%" height="2.00" fill="#c4d0cd"/>
<rect y="722.03" width="100%" height="2.00" fill="#cbd1c7"/>
<rect y="723.03" width="100%" height="2.00" fill="#84b8dc"/>
<rect y="724.04" width="100%" height="2.00" fill="#85b8dc"/>
<rect y="725.04" width="100%" height="2.00" fill="#c3d0cd"/>
<rect y="726.04" width="100%" height="2.00" fill="#9bc5df"/>
<rect y="727.05" width="100%" height="4.01" fill="#6eabda"/>
<rect y="730.06" width="100%" height="2.00" fill="#77b1db"/>
<rect y="731.06" width="100%" height="2.00" fill="#7fb5dc"/>
<rect y="732.07" width="100%" height="2.00" fill="#88badd"/>
<rect y="733.07" width="100%" height="2.00" fill="#a2c9df"/>
<rect y="734.07" width="100%" height="2.00" fill="#5ca1d8"/>
<rect y="735.08" width="100%" height="2.00" fill="#c5d0cc"/>
<rect y="736.08" width="100%" height="4.01" fill="#bbced3"/>
<rect y="739.09" width="100%" height="2.00" fill="#7db4dc"/>
<rect y="740.10" width="100%" height="2.00" fill="#5ba0d8"/>
<rect y="741.10" width="100%" height="2.00" fill="#d6d2c0"/>
<rect y="742.10" width="100%" height="2.00" fill="#7db3dc"/>
<rect y="743.11" width="100%" height="3.01" fill="#becfd1"/>
<rect y="745.11" width="100%" height="2.00" fill="#d6d2c0"/>
<rect y="746.12" width="100%" height="2.00" fill="#5ba1d8"/>
<rect y="747.12" width="100%" height="2.00" fill="#dcd0b5"/>
<rect y="748.13" width="100%" height="3.01" fill="#aaccdf"/>
<rect y="750.13" width="100%" height="2.00" fill="#dcd0b5"/>
<rect y="751.14" width="100%" height="2.00" fill="#589cd6"/>
<rect y="752.14" width="100%" height="3.01" fill="#5da1d8"/>
<rect y="754.15" width="100%" height="3.01" fill="#60a4d9"/>
<rect y="756.16" width="100%" height="2.00" fill="#76b0db"/>
<rect y="757.16" width="100%" height="2.00" fill="#d2d1c3"/>
<rect y="758.16" width="100%" height="2.00" fill="#ced1c6"/>
<rect y="759.17" width="100%" height="2.00" fill="#7fb5dc"/>
<rect y="760.17" width="100%" height="2.00" fill="#d5d2c1"/>
<rect y="761.17" width="100%" height="2.00" fill="#5da2d8"/>
<rect y="762.18" width="100%" height="2.00" fill="#ccd1c7"/>
<rect y="763.18" width="100%" height="2.00" fill="#bfcfd0"/>
<rect y="764.19" width="100%" height="3.01" fill="#5a9fd8"/>
<rect y="766.19" width="100%" height="2.00" fill="#85b8dc"/>
<rect y="767.20" width="100%" height="1.00" fill="#77b0db"/>
</svg>
<rect x="336.90" y="570.90" width="81.90" height="36.50" fill="none" stroke="#333" stroke-width="0.7"/>
<rect x="336.90" y="609.10" width="81.90" height="40.30" fill="none" stroke="#333" stroke-width="0.7"/>
<rect x="336.90" y="651.10" width="81.90" height="117.10" fill="none" stroke="#333" stroke-width="0.7"/>
<text x="428" y="592.2" font-size="10" font-weight="bold" text-anchor="middle">M1</text>
<text x="428" y="638.4" font-size="10" font-weight="bold" text-anchor="middle">M2</text>
<text x="428" y="731.2" font-size="10" font-weight="bold" text-anchor="middle">M3</text>
<line x1="324.9" y1="574" x2="334.6" y2="574" stroke="#222" stroke-width="0.8" stroke-dasharray="2 3"/>
<line x1="322" y1="588.8" x2="331.5" y2="767" stroke="#222" stroke-width="0.9" stroke-dasharray="1.6 2.6"/>
<text x="0" y="0" font-size="9.3" text-anchor="end" fill="#222" transform="translate(255.5,776.5) rotate(-62)">Tumor</text>
<text x="0" y="0" font-size="9.3" text-anchor="end" fill="#222" transform="translate(283.0,776.5) rotate(-62)">Myeloid</text>
<text x="0" y="0" font-size="9.3" text-anchor="end" fill="#222" transform="translate(313.5,776.5) rotate(-62)">Normal/</text>
<text x="0" y="0" font-size="9.3" text-anchor="end" fill="#222" transform="translate(321.5,780.5) rotate(-62)">immune−rich</text>
<text x="0" y="0" font-size="9.3" text-anchor="end" fill="#222" transform="translate(352.0,781.5) rotate(-62)">Tumor</text>
<text x="0" y="0" font-size="9.3" text-anchor="end" fill="#222" transform="translate(380.0,781.5) rotate(-62)">Myeloid</text>
<text x="0" y="0" font-size="9.3" text-anchor="end" fill="#222" transform="translate(407.0,781.5) rotate(-62)">Normal/</text>
<text x="0" y="0" font-size="9.3" text-anchor="end" fill="#222" transform="translate(415.5,785.5) rotate(-62)">immune−rich</text>
<text x="278.5" y="840.5" font-size="7" text-anchor="middle" fill="#333">Gene scores spatial specificity</text>
<rect x="254.4" y="842.7" width="36.1" height="5.2" fill="url(#cbP)"/>
<text x="254.6" y="853.4" font-size="5.7" text-anchor="middle" fill="#333">−3</text>
<text x="273.8" y="853.4" font-size="5.7" text-anchor="middle" fill="#333">0</text>
<text x="289.1" y="853.4" font-size="5.7" text-anchor="middle" fill="#333">3</text>
<text x="389.3" y="840.5" font-size="7" text-anchor="middle" fill="#333">Enhancer spatial specificity</text>
<rect x="361.8" y="842.7" width="33.2" height="5.2" fill="url(#cbR)"/>
<text x="362" y="853.4" font-size="5.7" text-anchor="middle" fill="#333">−3</text>
<text x="377" y="853.4" font-size="5.7" text-anchor="middle" fill="#333">0</text>
<text x="393.7" y="853.4" font-size="5.7" text-anchor="middle" fill="#333">3</text>
<text x="445" y="538.8" font-size="14" font-weight="bold">l</text>
<text x="482.4" y="584.7" font-size="9.3" font-style="italic" text-anchor="middle" fill="#222">NOTCH1</text>
<path d="M454.4 594.8h1.2m2.8 0h1.2m2.7 0h1.2m14.6 0h1.2m14.6 0h1.2m-41.7 1.8h1.2m2.8 0h1.2m10.6 0h1.2m26.5 0h1.2m2.7 0h1.2m-47.6 1.8h1.2m4.7 0h1.2m0.8 0h1.2m4.7 0h1.2m26.5 0h1.2m12.6 0h1.2m2.8 0h1.2m-57.5 1.7h1.2m22.5 0h1.2m4.7 0h1.2m4.7 0h1.2m4.8 0h1.2m0.7 0h1.2m-41.7 1.8h1.2m8.7 0h1.2m12.6 0h1.2m18.6 0h1.2m2.7 0h1.2m-53.5 1.8h1.2m10.7 0h1.2m16.5 0h1.2m4.8 0h1.2m10.6 0h1.2m-37.7 1.8h1.2m0.7 0h1.2m22.5 0h1.2m4.8 0h1.2m2.7 0h1.2m-41.7 1.8h1.2m0.8 0h1.2m16.6 0h1.2m4.7 0h1.2m-25.9 1.8h1.2m2.8 0h1.2m2.7 0h1.2m18.6 0h1.2m18.5 0h1.2m-57.5 1.8h1.2m6.7 0h1.2m6.7 0h1.2m2.8 0h1.2m0.8 0h1.2m0.7 0h1.2m16.6 0h1.2m6.7 0h1.2m-45.6 1.8h1.2m4.7 0h1.2m18.5 0h1.2m8.7 0h1.2m2.8 0h1.2m4.7 0h1.2m6.7 0h1.2m-59.5 1.7h1.2m10.7 0h1.2m10.6 0h1.2m2.8 0h1.2m0.8 0h1.2m8.6 0h1.2m2.8 0h1.2m0.8 0h1.2m2.7 0h1.2m2.8 0h1.2m4.7 0h1.2m-59.5 1.8h1.2m0.8 0h1.2m4.7 0h1.2m6.7 0h1.2m0.8 0h1.2m10.6 0h1.2m24.5 0h1.2m-57.5 1.8h1.2m0.8 0h1.2m2.8 0h1.2m0.7 0h1.2m6.7 0h1.2m14.6 0h1.2m10.7 0h1.2m8.7 0h1.2m-41.7 1.8h1.2m10.6 0h1.2m8.7 0h1.2m18.5 0h1.2m2.8 0h1.2m-59.5 1.8h1.2m6.7 0h1.2m6.7 0h1.2m2.8 0h1.2m10.6 0h1.2m16.6 0h1.2m-47.6 1.8h1.2m4.7 0h1.2m20.5 0h1.2m0.8 0h1.2m4.7 0h1.2m2.8 0h1.2m0.8 0h1.2m2.7 0h1.2m-33.8 1.8h1.2m12.7 0h1.2m4.7 0h1.2m2.7 0h1.2m0.8 0h1.2m-43.7 1.8h1.2m12.7 0h1.2m0.7 0h1.2m4.8 0h1.2m24.4 0h1.2m6.7 0h1.2m2.8 0h1.2m-57.5 1.7h1.2m8.7 0h1.2m4.7 0h1.2m20.5 0h1.2m2.8 0h1.2m8.7 0h1.2m-49.6 1.8h1.2m8.6 0h1.2m0.8 0h1.2m6.7 0h1.2m4.7 0h1.2m6.7 0h1.2m8.7 0h1.2m6.7 0h1.2m-51.5 1.8h1.2m0.7 0h1.2m14.6 0h1.2m30.4 0h1.2m0.8 0h1.2m-59.5 1.8h1.2m2.8 0h1.2m2.7 0h1.2m4.8 0h1.2m6.7 0h1.2m12.6 0h1.2m14.6 0h1.2m-35.8 1.8h1.2m2.8 0h1.2m18.5 0h1.2m2.8 0h1.2m0.8 0h1.2m6.7 0h1.2m2.7 0h1.2m-51.6 1.8h1.2m2.8 0h1.2m10.6 0h1.2m4.8 0h1.2m4.7 0h1.2m2.7 0h1.2m0.8 0h1.2m-31.8 1.8h1.2m0.8 0h1.2m0.8 0h1.2m8.6 0h1.2m0.8 0h1.2m16.6 0h1.2m0.8 0h1.2m0.7 0h1.2m-49.6 1.8h1.2m0.8 0h1.2m0.8 0h1.2m20.5 0h1.2m0.8 0h1.2m0.8 0h1.2m0.7 0h1.2m0.8 0h1.2m0.8 0h1.2m14.6 0h1.2m8.7 0h1.2m-57.5 1.7h1.2m4.7 0h1.2m10.7 0h1.2m-22 1.8h1.2m4.7 0h1.2m4.8 0h1.2m2.7 0h1.2m0.8 0h1.2m2.7 0h1.2m10.7 0h1.2m8.7 0h1.2m12.6 0h1.2m-18 1.8h1.2m8.7 0h1.2m-49.6 1.8h1.2m2.7 0h1.2m6.7 0h1.2m6.7 0h1.2m0.8 0h1.2m0.8 0h1.2m10.6 0h1.2m0.8 0h1.2m2.8 0h1.2m6.7 0h1.2m-51.6 1.8h1.2m8.7 0h1.2m34.3 0h1.2m10.7 0h1.2m-61.5 1.8h1.2m8.7 0h1.2m16.6 0h1.2m4.7 0h1.2m2.8 0h1.2m16.5 0h1.2m0.8 0h1.2m-57.5 1.8h1.2m20.6 0h1.2m8.6 0h1.2m22.5 0h1.2m0.8 0h1.2m-53.5 1.8h1.2m26.4 0h1.2m0.8 0h1.2m0.8 0h1.2m-31.8 1.7h1.2m12.6 0h1.2m2.7 0h1.2m0.8 0h1.2m0.8 0h1.2m14.6 0h1.2" stroke="#eef7ea" stroke-width="1.2"/>
<path d="M491.9 594.8h1.2m-17.9 1.8h1.2m12.6 0h1.2m-33.8 1.8h1.2m44.2 0h1.2m0.8 0h1.2m2.7 0h1.2m-47.6 1.7h1.2m32.4 0h1.2m-41.7 1.8h1.2m7.7 1.8h1.2m-6.1 1.8h1.2m16.5 0h1.2m-2.1 1.8h1.2m18.5 0h1.2m6.7 0h1.2m-16 1.8h1.2m4.7 0h1.2m4.7 0h1.2m2.8 0h1.2m-45.6 1.8h1.2m18.5 0h1.2m2.8 0h1.2m15.5 1.8h1.2m4.8 0h1.2m6.7 0h1.2m-29.9 1.7h1.2m-19.9 1.8h1.2m46.2 0h1.2m-38.8 3.6h1.2m12.7 0h1.2m0.7 0h1.2m6.7 0h1.2m-41.6 1.8h1.2m38.3 0h1.2m4.7 0h1.2m2.7 0h1.2m-27.8 1.8h1.2m24.4 0h1.2m0.8 0h1.2m-49.6 1.8h1.2m16.6 0h1.2m25.5 1.8h1.2m-45.7 1.7h1.2m14.6 0h1.2m1.8 1.8h1.2m12.6 0h1.2m-16 1.8h1.2m-21.9 5.4h1.2m24.4 0h1.2m3.8 1.8h1.2m12.6 0h1.2m2.8 0h1.2m2.7 0h1.2m-16 1.8h1.2m-12.1 1.7h1.2m16.6 0h1.2m0.8 0h1.2m-22 1.8h1.2m22.5 0h1.2m4.8 0h1.2m-33.8 1.8h1.2m-16 1.8h1.2m2.7 0h1.2m14.6 0h1.2m20.5 0h1.2m-52.5 3.6h1.2m2.7 0h1.2m6.7 0h1.2m26.5 0h1.2m0.8 0h1.2m2.7 0h1.2m-22.9 3.6h1.2m20.5 0h1.2m6.7 0h1.2m-49.6 1.7h1.2m2.8 0h1.2" stroke="#fbe5ea" stroke-width="1.2"/>
<path d="M452.4 594.8h1.2m10.7 0h1.2m2.7 0h1.2m2.8 0h1.2m0.8 0h1.2m6.7 0h1.2m0.7 0h1.2m14.6 0h1.2m0.8 0h1.2m-41.7 1.8h1.2m14.6 0h1.2m8.7 0h1.2m4.7 0h1.2m-41.7 1.8h1.2m10.7 0h1.2m12.6 0h1.2m4.7 0h1.2m12.7 0h1.2m-45.7 1.7h1.2m4.8 0h1.2m2.7 0h1.2m0.8 0h1.2m0.8 0h1.2m8.6 0h1.2m0.8 0h1.2m26.5 0h1.2m2.7 0h1.2m-55.5 1.8h1.2m6.7 0h1.2m12.6 0h1.2m0.8 0h1.2m28.4 0h1.2m2.8 0h1.2m-49.6 1.8h1.2m6.7 0h1.2m0.8 0h1.2m16.5 0h1.2m2.8 0h1.2m0.8 0h1.2m8.6 0h1.2m2.8 0h1.2m-57.5 1.8h1.2m4.7 0h1.2m6.7 0h1.2m2.8 0h1.2m4.7 0h1.2m4.7 0h1.2m6.7 0h1.2m4.7 0h1.2m4.8 0h1.2m0.7 0h1.2m2.8 0h1.2m0.8 0h1.2m-59.5 1.8h1.2m12.6 0h1.2m2.8 0h1.2m8.7 0h1.2m0.7 0h1.2m2.8 0h1.2m-14.1 1.8h1.2m4.8 0h1.2m8.6 0h1.2m14.6 0h1.2m4.8 0h1.2m-49.6 1.8h1.2m20.5 0h1.2m8.7 0h1.2m0.8 0h1.2m4.7 0h1.2m6.7 0h1.2m-61.5 1.8h1.2m0.8 0h1.2m12.6 0h1.2m0.8 0h1.2m4.7 0h1.2m4.8 0h1.2m8.6 0h1.2m2.8 0h1.2m4.7 0h1.2m-43.6 1.7h1.2m2.7 0h1.2m2.8 0h1.2m2.7 0h1.2m0.8 0h1.2m30.4 0h1.2m-47.6 1.8h1.2m8.6 0h1.2m4.8 0h1.2m0.7 0h1.2m18.6 0h1.2m4.7 0h1.2m-31.8 1.8h1.2m0.8 0h1.2m6.7 0h1.2m10.6 0h1.2m6.7 0h1.2m-49.6 1.8h1.2m0.8 0h1.2m4.7 0h1.2m10.7 0h1.2m10.6 0h1.2m18.6 0h1.2m4.7 0h1.2m-47.6 1.8h1.2m2.8 0h1.2m6.7 0h1.2m0.7 0h1.2m2.8 0h1.2m6.7 0h1.2m6.7 0h1.2m2.7 0h1.2m4.8 0h1.2m-55.6 1.8h1.2m18.6 0h1.2m20.5 0h1.2m-37.7 1.8h1.2m4.7 0h1.2m10.7 0h1.2m26.4 0h1.2m2.8 0h1.2m0.7 0h1.2m-45.6 1.8h1.2m12.6 0h1.2m12.6 0h1.2m2.8 0h1.2m0.8 0h1.2m2.7 0h1.2m0.8 0h1.2m-51.6 1.7h1.2m28.5 0h1.2m4.7 0h1.2m14.6 0h1.2m-45.7 1.8h1.2m0.8 0h1.2m18.6 0h1.2m2.7 0h1.2m8.7 0h1.2m0.8 0h1.2m-41.7 1.8h1.2m4.7 0h1.2m0.8 0h1.2m2.7 0h1.2m4.8 0h1.2m10.6 0h1.2m4.7 0h1.2m12.7 0h1.2m-45.7 1.8h1.2m8.7 0h1.2m4.7 0h1.2m6.7 0h1.2m6.7 0h1.2m4.7 0h1.2m0.8 0h1.2m4.7 0h1.2m0.8 0h1.2m0.8 0h1.2m-57.5 1.8h1.2m2.8 0h1.2m2.7 0h1.2m0.8 0h1.2m14.6 0h1.2m0.8 0h1.2m6.7 0h1.2m20.5 0h1.2m-59.5 1.8h1.2m0.8 0h1.2m10.6 0h1.2m16.6 0h1.2m16.6 0h1.2m-45.6 1.8h1.2m0.7 0h1.2m10.7 0h1.2m8.7 0h1.2m2.7 0h1.2m6.7 0h1.2m8.7 0h1.2m2.7 0h1.2m-45.6 1.8h1.2m24.5 0h1.2m2.7 0h1.2m10.7 0h1.2m-53.6 1.7h1.2m0.8 0h1.2m4.7 0h1.2m4.8 0h1.2m8.6 0h1.2m32.4 0h1.2m-55.5 1.8h1.2m16.6 0h1.2m10.6 0h1.2m4.7 0h1.2m8.7 0h1.2m-47.6 1.8h1.2m2.8 0h1.2m40.2 0h1.2m6.7 0h1.2m-57.5 1.8h1.2m4.8 0h1.2m22.5 0h1.2m20.5 0h1.2m-45.6 1.8h1.2m0.7 0h1.2m0.8 0h1.2m2.8 0h1.2m4.7 0h1.2m0.8 0h1.2m2.7 0h1.2m4.7 0h1.2m0.8 0h1.2m0.8 0h1.2m4.7 0h1.2m0.8 0h1.2m0.8 0h1.2m-45.7 1.8h1.2m2.8 0h1.2m4.7 0h1.2m10.6 0h1.2m4.8 0h1.2m4.7 0h1.2m-33.8 1.8h1.2m2.8 0h1.2m6.7 0h1.2m4.7 0h1.2m2.7 0h1.2m0.8 0h1.2m2.8 0h1.2m2.7 0h1.2m0.8 0h1.2m0.8 0h1.2m2.7 0h1.2m4.7 0h1.2m2.8 0h1.2m-37.8 1.8h1.2m0.8 0h1.2m0.8 0h1.2m2.7 0h1.2m0.8 0h1.2m14.6 0h1.2m0.8 0h1.2m2.7 0h1.2m-45.6 1.7h1.2m6.7 0h1.2m4.7 0h1.2m12.7 0h1.2m0.7 0h1.2m4.8 0h1.2m2.7 0h1.2m4.7 0h1.2m2.8 0h1.2m0.8 0h1.2" stroke="#dcf0d6" stroke-width="1.2"/>
<path d="M460.3 594.8h1.2m4.8 0h1.2m8.6 0h1.2m8.7 0h1.2m2.8 0h1.2m6.7 0h1.2m-33.8 1.8h1.2m14.6 0h1.2m-16 1.8h1.2m2.7 0h1.2m8.7 0h1.2m0.8 0h1.2m16.5 0h1.2m-25.8 1.7h1.2m6.7 0h1.2m0.7 0h1.2m4.8 0h1.2m4.7 0h1.2m4.7 0h1.2m-37.7 1.8h1.2m0.7 0h1.2m2.8 0h1.2m0.8 0h1.2m10.6 0h1.2m0.8 0h1.2m2.7 0h1.2m2.8 0h1.2m0.8 0h1.2m0.7 0h1.2m-43.6 1.8h1.2m0.8 0h1.2m8.6 0h1.2m0.8 0h1.2m4.7 0h1.2m0.8 0h1.2m0.8 0h1.2m0.8 0h1.2m20.5 0h1.2m-45.7 1.8h1.2m42.3 0h1.2m4.7 0h1.2m-45.6 1.8h1.2m4.7 0h1.2m18.6 0h1.2m0.7 0h1.2m4.8 0h1.2m0.7 0h1.2m6.7 0h1.2m0.8 0h1.2m-57.5 1.8h1.2m0.8 0h1.2m0.8 0h1.2m0.7 0h1.2m6.7 0h1.2m14.6 0h1.2m20.6 0h1.2m-35.8 1.8h1.2m12.6 0h1.2m2.8 0h1.2m18.5 0h1.2m-35.7 1.8h1.2m34.3 0h1.2m-55.5 1.7h1.2m0.8 0h1.2m10.6 0h1.2m8.7 0h1.2m28.4 0h1.2m-45.6 1.8h1.2m12.6 0h1.2m6.7 0h1.2m0.8 0h1.2m8.7 0h1.2m6.7 0h1.2m4.7 0h1.2m-45.6 1.8h1.2m8.6 0h1.2m4.8 0h1.2m2.7 0h1.2m2.8 0h1.2m16.5 0h1.2m-47.6 1.8h1.2m6.7 0h1.2m8.7 0h1.2m12.6 0h1.2m6.7 0h1.2m-45.6 1.8h1.2m20.5 0h1.2m10.7 0h1.2m0.7 0h1.2m-33.8 1.8h1.2m4.8 0h1.2m0.7 0h1.2m4.8 0h1.2m14.6 0h1.2m20.5 0h1.2m0.8 0h1.2m-61.5 1.8h1.2m4.8 0h1.2m6.7 0h1.2m18.5 0h1.2m2.8 0h1.2m18.5 0h1.2m-51.6 1.8h1.2m10.7 0h1.2m8.7 0h1.2m4.7 0h1.2m24.5 0h1.2m-57.5 1.7h1.2m14.6 0h1.2m4.7 0h1.2m4.7 0h1.2m0.8 0h1.2m2.8 0h1.2m16.5 0h1.2m0.8 0h1.2m0.8 0h1.2m-49.6 1.8h1.2m0.8 0h1.2m6.7 0h1.2m12.6 0h1.2m-35.8 1.8h1.2m26.5 0h1.2m0.8 0h1.2m4.7 0h1.2m4.7 0h1.2m6.7 0h1.2m-49.6 1.8h1.2m12.6 0h1.2m26.5 0h1.2m8.7 0h1.2m6.7 0h1.2m-61.5 1.8h1.2m30.4 0h1.2m16.6 0h1.2m4.7 0h1.2m-19.9 1.8h1.2m4.7 0h1.2m0.8 0h1.2m-45.7 1.8h1.2m14.6 0h1.2m4.8 0h1.2m14.6 0h1.2m-33.8 1.8h1.2m40.2 0h1.2m0.8 0h1.2m6.7 0h1.2m-45.6 1.7h1.2m2.7 0h1.2m8.7 0h1.2m18.6 0h1.2m6.7 0h1.2m-45.7 1.8h1.2m0.8 0h1.2m12.6 0h1.2m0.8 0h1.2m14.6 0h1.2m-43.7 1.8h1.2m2.8 0h1.2m2.7 0h1.2m0.8 0h1.2m0.8 0h1.2m4.7 0h1.2m4.7 0h1.2m0.8 0h1.2m2.8 0h1.2m6.7 0h1.2m10.6 0h1.2m6.7 0h1.2m-37.7 1.8h1.2m12.6 0h1.2m10.6 0h1.2m0.8 0h1.2m10.7 0h1.2m-61.5 1.8h1.2m22.5 0h1.2m2.8 0h1.2m22.5 0h1.2m0.8 0h1.2m-41.7 1.8h1.2m4.7 0h1.2m10.6 0h1.2m-27.8 1.8h1.2m4.7 0h1.2m0.8 0h1.2m2.7 0h1.2m26.5 0h1.2m-45.7 1.8h1.2m2.8 0h1.2m2.7 0h1.2m2.8 0h1.2m0.8 0h1.2m6.7 0h1.2m6.7 0h1.2m14.6 0h1.2m4.7 0h1.2m-37.7 1.7h1.2m6.7 0h1.2m10.6 0h1.2m10.7 0h1.2m8.6 0h1.2" stroke="#c9e7c4" stroke-width="1.2"/>
<path d="M470.2 594.8h1.2m8.7 0h1.2m-18 1.8h1.2m6.7 0h1.2m-0.2 1.8h1.2m2.7 0h1.2m-6.1 1.7h1.2m0.8 0h1.2m14.6 0h1.2m22.5 0h1.2m-61.5 1.8h1.2m4.8 0h1.2m2.7 0h1.2m18.6 0h1.2m18.5 0h1.2m2.8 0h1.2m-34.8 3.6h1.2m4.7 0h1.2m2.8 0h1.2m0.7 0h1.2m-32.8 3.6h1.2m42.3 0h1.2m4.7 0h1.2m-10.1 1.8h1.2m6.7 0h1.2m-41.7 1.8h1.2m16.6 0h1.2m8.7 0h1.2m-27.9 1.7h1.2m38.3 0h1.2m1.8 1.8h1.2m2.7 0h1.2m-51.5 1.8h1.2m6.7 0h1.2m22.5 0h1.2m4.7 0h1.2m6.7 0h1.2m8.7 0h1.2m-49.6 1.8h1.2m2.7 0h1.2m16.6 0h1.2m-21.9 1.8h1.2m-8.1 1.8h1.2m44.2 0h1.2m-0.2 1.8h1.2m6.7 0h1.2m-59.5 1.8h1.2m6.7 0h1.2m12.6 0h1.2m32.4 0h1.2m-41.7 1.7h1.2m10.7 0h1.2m18.5 0h1.2m-29.8 1.8h1.2m38.3 0h1.2m0.8 0h1.2m-47.6 1.8h1.2m15.5 1.8h1.2m-17.9 1.8h1.2m6.7 0h1.2m2.7 0h1.2m6.7 0h1.2m-25.9 1.8h1.2m10.7 0h1.2m2.7 0h1.2m0.8 0h1.2m28.4 0h1.2m2.8 0h1.2m-59.5 1.8h1.2m24.5 0h1.2m-20 1.8h1.2m2.8 0h1.2m3.7 1.7h1.2m28.4 0h1.2m-43.6 1.8h1.2m46.2 0h1.2m-31.8 1.8h1.2m12.6 0h1.2m6.7 0h1.2m14.6 0h1.2m-2.2 1.8h1.2m-42.7 3.6h1.2m22.5 0h1.2m8.7 0h1.2m-43.7 1.8h1.2m30.4 0h1.2m4.8 0h1.2m2.7 0h1.2m-41.7 1.8h1.2m42.3 0h1.2m-49.6 1.7h1.2m52.1 0h1.2" stroke="#8fd0b8" stroke-width="1.2"/>
<path d="M495.9 594.8h1.2m-37.7 1.8h1.2m6.7 0h1.2m10.6 0h1.2m-4.2 5.3h1.2m17.6 1.8h1.2m4.7 0h1.2m4.8 0h1.2m-29.9 5.4h1.2m-21.9 1.8h1.2m41.2 5.3h1.2m-2.1 1.8h1.2m-4.2 1.8h1.2m-25.9 1.8h1.2m33.4 1.8h1.2m-51.6 1.8h1.2m20.5 0h1.2m6.7 0h1.2m-0.2 1.8h1.2m2.8 0h1.2m-23.9 1.7h1.2m30.4 0h1.2m2.7 0h1.2m-4.2 1.8h1.2m6.7 0h1.2m-4.1 1.8h1.2m-29.9 1.8h1.2m2.8 0h1.2m0.8 0h1.2m6.7 0h1.2m-33.8 1.8h1.2m36.3 0h1.2m4.7 0h1.2m-29.8 1.8h1.2m38.3 0h1.2m-41.7 1.8h1.2m1.8 1.8h1.2m36.3 0h1.2m-53.5 1.7h1.2m12.6 0h1.2m-7.1 3.6h1.2m4.7 0h1.2m21.5 1.8h1.2" stroke="#46a7bd" stroke-width="1.2"/>
<path d="M464.2 605.5h1.4m14.4 7.2h1.4m-21.2 3.5h1.4m-5.3 3.6h1.4m24.3 0h1.4m30.2 0h1.4m-31.1 7.2h1.4m-26 1.7h1.4m14.4 0h1.4m22.3 3.6h1.4m-41.9 1.8h1.4" stroke="#2a72b0" stroke-width="1.4"/>
<path d="M508.5 600.1h1.6m-20.3 1.8h1.6m15.2 9h1.6m-42.1 1.8h1.6m-11.5 14.3h1.6m6.3 7.1h1.6m17.2 8.9h1.6m-12.5 5.4h1.6m9.3 1.8h1.6m-31.3 7.1h1.6" stroke="#1f4f94" stroke-width="1.6"/>
<rect x="448.50" y="591.20" width="68.60" height="69.40" fill="none" stroke="#2a2a2a" stroke-width="1.1"/>
<line x1="529.2" y1="607.7" x2="640.5" y2="607.7" stroke="#3b4a6e" stroke-width="2.2"/>
<text x="646.5" y="610.9" font-size="9.3" fill="#222">Tumor</text>
<rect x="532.8" y="603.5" width="22.6" height="8.4" rx="2.5" fill="#4a4a4a"/>
<path d="M554 603.5V598.9H545" fill="none" stroke="#333" stroke-width="1"/>
<path d="M542.3 598.9l3.6 -2.3v4.6z" fill="#333"/>
<line x1="529.2" y1="639.4" x2="640.5" y2="639.4" stroke="#3b4a6e" stroke-width="2.2"/>
<text x="644" y="642.6" font-size="9.3" fill="#222">Myeloid</text>
<rect x="532.8" y="635.2" width="22.6" height="8.4" rx="2.5" fill="#4a4a4a"/>
<path d="M554 635.2V630.6H545" fill="none" stroke="#333" stroke-width="1"/>
<path d="M542.3 630.6l3.6 -2.3v4.6z" fill="#333"/>
<text x="521.2" y="596.1" font-size="6.9" font-style="italic" fill="#222">NOTCH1</text>
<rect x="566.70" y="603.30" width="7.6" height="8.8" rx="2.2" fill="#dba3df"/>
<rect x="588.60" y="603.30" width="7.6" height="8.8" rx="2.2" fill="#b8392a"/>
<rect x="620.80" y="603.70" width="6.8" height="8" rx="2" fill="#fff" stroke="#4a8eb4" stroke-width="1.1"/>
<rect x="567.10" y="635.40" width="6.8" height="8" rx="2" fill="#fff" stroke="#dba3df" stroke-width="1.1"/>
<rect x="588.60" y="635.00" width="7.6" height="8.8" rx="2.2" fill="#b8392a"/>
<rect x="620.40" y="635.00" width="7.6" height="8.8" rx="2.2" fill="#4a8eb4"/>
<rect x="563.8" y="597.8" width="13.5" height="50" fill="none" stroke="#b4507e" stroke-width="0.9"/>
<rect x="585.7" y="597.8" width="13.5" height="50" fill="none" stroke="#b4507e" stroke-width="0.9"/>
<rect x="617.5" y="597.8" width="13.5" height="50" fill="none" stroke="#b4507e" stroke-width="0.9"/>
<path d="M553.6 594.4V591.2H568.2V594.4" fill="none" stroke="#333" stroke-width="0.7"/>
<text x="560.9" y="588.5" font-size="6.8" text-anchor="middle" fill="#222">20k</text>
<path d="M573.7 594.4V591.2H588.3V594.4" fill="none" stroke="#333" stroke-width="0.7"/>
<text x="581" y="588.5" font-size="6.8" text-anchor="middle" fill="#222">18k</text>
<path d="M592.7 594.4V591.2H624V594.4" fill="none" stroke="#333" stroke-width="0.7"/>
<text x="608.4" y="588.5" font-size="6.8" text-anchor="middle" fill="#222">60k</text>
<line x1="563.8" y1="647.8" x2="452.5" y2="696.4" stroke="#b4507e" stroke-width="0.8"/>
<line x1="577.3" y1="647.8" x2="522.6" y2="696.4" stroke="#b4507e" stroke-width="0.8"/>
<line x1="585.7" y1="647.8" x2="530.6" y2="696.4" stroke="#b4507e" stroke-width="0.8"/>
<line x1="599.2" y1="647.8" x2="600" y2="696.4" stroke="#b4507e" stroke-width="0.8"/>
<line x1="617.5" y1="647.8" x2="608.4" y2="696.4" stroke="#b4507e" stroke-width="0.8"/>
<line x1="631" y1="647.8" x2="677.7" y2="696.4" stroke="#b4507e" stroke-width="0.8"/>
<text x="494.9" y="690.6" font-size="9.3" font-weight="bold" text-anchor="middle">M2</text>
<text x="567.1" y="690.6" font-size="9.3" font-weight="bold" text-anchor="middle">M1</text>
<text x="643.5" y="690.6" font-size="9.3" font-weight="bold" text-anchor="middle">M3</text>
<path d="M468.6 699.9h1.2m15 0h1.2m0.8 0h1.2m2.8 0h1.2m6.9 0h1.2m2.9 0h1.2m-40.6 1.8h1.2m2.8 0h1.2m2.9 0h1.2m8.9 0h1.2m4.8 0h1.2m0.8 0h1.2m8.9 0h1.2m0.8 0h1.2m0.9 0h1.2m0.8 0h1.2m-42.6 1.8h1.2m10.9 0h1.2m8.9 0h1.2m-18.3 1.7h1.2m2.8 0h1.2m27 0h1.2m-44.5 1.8h1.2m2.8 0h1.2m8.9 0h1.2m25 0h1.2m6.9 0h1.2m-30.5 1.8h1.2m2.9 0h1.2m0.8 0h1.2m23 0h1.2m-52.7 1.7h1.2m8.9 0h1.2m6.9 0h1.2m19 0h1.2m21 0h1.2m-52.7 1.8h1.2m23 0h1.2m23 0h1.2m-30.4 1.8h1.2m6.9 0h1.2m-30.5 1.7h1.2m0.8 0h1.2m0.8 0h1.2m27.1 0h1.2m0.8 0h1.2m0.8 0h1.2m0.8 0h1.2m0.9 0h1.2m-26.5 1.8h1.2m4.9 0h1.2m10.9 0h1.2m0.8 0h1.2m2.9 0h1.2m0.8 0h1.2m0.8 0h1.2m6.9 0h1.2m2.8 0h1.2m-62.8 1.8h1.2m15 0h1.2m2.8 0h1.2m17 0h1.2m0.8 0h1.2m0.8 0h1.2m0.8 0h1.2m6.9 0h1.2m0.8 0h1.2m0.8 0h1.2m0.9 0h1.2m0.8 0h1.2m-60.7 1.7h1.2m6.8 0h1.2m2.9 0h1.2m2.8 0h1.2m19 0h1.2m0.8 0h1.2m0.8 0h1.2m0.8 0h1.2m0.9 0h1.2m0.8 0h1.2m0.8 0h1.2m4.8 0h1.2m-56.7 1.8h1.2m13 0h1.2m8.9 0h1.2m8.9 0h1.2m2.8 0h1.2m0.8 0h1.2m0.8 0h1.2m4.9 0h1.2m-50.7 1.8h1.2m25.1 0h1.2m10.9 0h1.2m0.8 0h1.2m0.8 0h1.2m2.9 0h1.2m8.8 0h1.2m4.9 0h1.2m-56.7 1.7h1.2m4.9 0h1.2m12.9 0h1.2m12.9 0h1.2m0.8 0h1.2m2.9 0h1.2m-22.4 1.8h1.2m4.8 0h1.2m4.9 0h1.2m2.8 0h1.2m0.8 0h1.2m0.9 0h1.2m0.8 0h1.2m2.8 0h1.2m0.8 0h1.2m-42.5 1.8h1.2m2.8 0h1.2m8.9 0h1.2m2.8 0h1.2m2.9 0h1.2m0.8 0h1.2m0.8 0h1.2m0.8 0h1.2m0.8 0h1.2m0.8 0h1.2m0.9 0h1.2m0.8 0h1.2m-48.6 1.7h1.2m0.8 0h1.2m4.8 0h1.2m2.9 0h1.2m0.8 0h1.2m2.8 0h1.2m6.9 0h1.2m2.8 0h1.2m2.9 0h1.2m0.8 0h1.2m0.8 0h1.2m0.8 0h1.2m0.8 0h1.2m-44.6 1.8h1.2m11 0h1.2m4.8 0h1.2m4.9 0h1.2m2.8 0h1.2m0.8 0h1.2m0.8 0h1.2m2.9 0h1.2m0.8 0h1.2m2.8 0h1.2m0.8 0h1.2m0.9 0h1.2m2.8 0h1.2m0.8 0h1.2m-54.7 1.8h1.2m2.9 0h1.2m6.8 0h1.2m2.9 0h1.2m8.9 0h1.2m2.8 0h1.2m0.8 0h1.2m0.8 0h1.2m2.9 0h1.2m0.8 0h1.2m2.8 0h1.2m0.9 0h1.2m0.8 0h1.2m-48.7 1.7h1.2m0.9 0h1.2m0.8 0h1.2m0.8 0h1.2m0.8 0h1.2m12.9 0h1.2m2.9 0h1.2m4.8 0h1.2m0.9 0h1.2m0.8 0h1.2m0.8 0h1.2m0.8 0h1.2m0.8 0h1.2m0.8 0h1.2m0.9 0h1.2m4.8 0h1.2m2.8 0h1.2m2.9 0h1.2m-62.8 1.8h1.2m0.9 0h1.2m23 0h1.2m0.8 0h1.2m2.8 0h1.2m25.1 0h1.2m-50.7 1.8h1.2m4.9 0h1.2m10.9 0h1.2m0.8 0h1.2m10.9 0h1.2m2.8 0h1.2m0.9 0h1.2m4.8 0h1.2m-52.6 1.7h1.2m8.8 0h1.2m6.9 0h1.2m0.8 0h1.2m4.9 0h1.2m0.8 0h1.2m8.9 0h1.2m0.8 0h1.2m0.8 0h1.2m0.9 0h1.2m-38.6 1.8h1.2m6.9 0h1.2m14.9 0h1.2m0.9 0h1.2m4.8 0h1.2m0.8 0h1.2m2.9 0h1.2m4.8 0h1.2m0.8 0h1.2m0.8 0h1.2m-48.6 1.8h1.2m15 0h1.2m4.8 0h1.2m4.9 0h1.2m0.8 0h1.2m0.8 0h1.2m0.8 0h1.2m2.9 0h1.2m4.8 0h1.2m0.8 0h1.2m-52.6 1.7h1.2m19 0h1.2m6.8 0h1.2m0.9 0h1.2m0.8 0h1.2m0.8 0h1.2m0.8 0h1.2m0.8 0h1.2m0.8 0h1.2m0.9 0h1.2m0.8 0h1.2m0.8 0h1.2m-38.5 1.8h1.2m2.8 0h1.2m6.9 0h1.2m0.8 0h1.2m2.8 0h1.2m0.8 0h1.2m2.9 0h1.2m0.8 0h1.2m0.8 0h1.2m2.9 0h1.2m2.8 0h1.2m10.9 0h1.2m-60.7 1.8h1.2m4.8 0h1.2m4.9 0h1.2m10.9 0h1.2m6.9 0h1.2m0.8 0h1.2m4.8 0h1.2m6.9 0h1.2m-34.5 1.7h1.2m4.9 0h1.2m6.8 0h1.2m2.9 0h1.2m0.8 0h1.2m0.8 0h1.2m4.9 0h1.2m-32.5 1.8h1.2m0.8 0h1.2m0.8 0h1.2m10.9 0h1.2m2.9 0h1.2m8.8 0h1.2m0.9 0h1.2m0.8 0h1.2m8.9 0h1.2m-56.7 1.8h1.2m0.8 0h1.2m2.8 0h1.2m21 0h1.2m0.8 0h1.2m0.9 0h1.2m4.8 0h1.2m4.9 0h1.2m-22.4 1.7h1.2m2.8 0h1.2m0.8 0h1.2m0.9 0h1.2m6.8 0h1.2m2.9 0h1.2m6.8 0h1.2m-54.6 1.8h1.2m6.8 0h1.2m10.9 0h1.2m0.9 0h1.2m2.8 0h1.2m2.8 0h1.2m0.8 0h1.2m0.9 0h1.2m-36.6 1.8h1.2m2.9 0h1.2m2.8 0h1.2m0.8 0h1.2m8.9 0h1.2m0.8 0h1.2m6.9 0h1.2m0.8 0h1.2m0.9 0h1.2m0.8 0h1.2m16.9 0h1.2m2.9 0h1.2" stroke="#e9e9e9" stroke-width="1.2"/>
<path d="M458.6 699.9h1.2m4.8 0h1.2m0.8 0h1.2m4.9 0h1.2m2.8 0h1.2m0.8 0h1.2m2.9 0h1.2m-26.5 1.8h1.2m0.9 0h1.2m0.8 0h1.2m2.8 0h1.2m2.9 0h1.2m4.8 0h1.2m2.8 0h1.2m4.9 0h1.2m6.9 0h1.2m-38.6 1.8h1.2m10.9 0h1.2m0.9 0h1.2m0.8 0h1.2m0.8 0h1.2m6.9 0h1.2m4.8 0h1.2m2.9 0h1.2m2.8 0h1.2m0.8 0h1.2m0.8 0h1.2m2.9 0h1.2m2.8 0h1.2m-48.6 1.7h1.2m0.8 0h1.2m0.8 0h1.2m0.8 0h1.2m2.9 0h1.2m2.8 0h1.2m0.8 0h1.2m4.9 0h1.2m0.8 0h1.2m0.8 0h1.2m4.9 0h1.2m8.9 0h1.2m2.8 0h1.2m0.8 0h1.2m0.8 0h1.2m-52.6 1.8h1.2m2.8 0h1.2m0.8 0h1.2m0.8 0h1.2m0.9 0h1.2m2.8 0h1.2m0.8 0h1.2m12.9 0h1.2m0.9 0h1.2m0.8 0h1.2m0.8 0h1.2m2.8 0h1.2m0.9 0h1.2m0.8 0h1.2m2.8 0h1.2m2.8 0h1.2m0.9 0h1.2m-52.7 1.8h1.2m0.8 0h1.2m0.8 0h1.2m4.9 0h1.2m0.8 0h1.2m8.9 0h1.2m2.8 0h1.2m2.9 0h1.2m0.8 0h1.2m0.8 0h1.2m0.8 0h1.2m2.9 0h1.2m4.8 0h1.2m0.8 0h1.2m-54.6 1.7h1.2m0.8 0h1.2m2.8 0h1.2m4.9 0h1.2m4.8 0h1.2m4.9 0h1.2m2.8 0h1.2m0.8 0h1.2m0.8 0h1.2m4.9 0h1.2m2.8 0h1.2m8.9 0h1.2m-54.7 1.8h1.2m0.9 0h1.2m0.8 0h1.2m4.8 0h1.2m0.9 0h1.2m2.8 0h1.2m2.8 0h1.2m0.8 0h1.2m0.9 0h1.2m0.8 0h1.2m2.8 0h1.2m2.9 0h1.2m0.8 0h1.2m2.8 0h1.2m4.9 0h1.2m2.8 0h1.2m8.9 0h1.2m-60.7 1.8h1.2m0.8 0h1.2m0.8 0h1.2m2.8 0h1.2m0.8 0h1.2m0.9 0h1.2m4.8 0h1.2m4.9 0h1.2m2.8 0h1.2m0.8 0h1.2m4.9 0h1.2m2.8 0h1.2m4.9 0h1.2m0.8 0h1.2m0.8 0h1.2m2.8 0h1.2m-44.5 1.7h1.2m2.8 0h1.2m2.8 0h1.2m0.8 0h1.2m4.9 0h1.2m2.8 0h1.2m15 0h1.2m0.8 0h1.2m4.8 0h1.2m0.9 0h1.2m-60.8 1.8h1.2m6.9 0h1.2m2.8 0h1.2m0.9 0h1.2m4.8 0h1.2m2.9 0h1.2m0.8 0h1.2m2.8 0h1.2m2.8 0h1.2m17 0h1.2m0.8 0h1.2m-52.6 1.8h1.2m2.8 0h1.2m0.8 0h1.2m0.8 0h1.2m0.9 0h1.2m8.8 0h1.2m0.9 0h1.2m0.8 0h1.2m0.8 0h1.2m0.8 0h1.2m0.8 0h1.2m2.9 0h1.2m-34.5 1.7h1.2m0.8 0h1.2m0.8 0h1.2m2.8 0h1.2m6.9 0h1.2m2.9 0h1.2m0.8 0h1.2m27 0h1.2m4.9 0h1.2m-54.7 1.8h1.2m2.8 0h1.2m0.9 0h1.2m8.8 0h1.2m4.9 0h1.2m0.8 0h1.2m0.8 0h1.2m17 0h1.2m2.8 0h1.2m0.8 0h1.2m0.9 0h1.2m-58.7 1.8h1.2m0.8 0h1.2m2.8 0h1.2m6.9 0h1.2m0.8 0h1.2m0.8 0h1.2m2.9 0h1.2m2.8 0h1.2m14.9 0h1.2m6.9 0h1.2m0.8 0h1.2m2.9 0h1.2m0.8 0h1.2m-60.8 1.7h1.2m0.9 0h1.2m12.9 0h1.2m0.8 0h1.2m4.9 0h1.2m2.8 0h1.2m4.9 0h1.2m16.9 0h1.2m0.8 0h1.2m-54.6 1.8h1.2m4.8 0h1.2m2.8 0h1.2m2.9 0h1.2m0.8 0h1.2m2.8 0h1.2m0.9 0h1.2m4.8 0h1.2m8.9 0h1.2m8.9 0h1.2m4.8 0h1.2m0.9 0h1.2m-58.8 1.8h1.2m0.9 0h1.2m6.8 0h1.2m8.9 0h1.2m2.9 0h1.2m27 0h1.2m2.8 0h1.2m2.9 0h1.2m-54.7 1.7h1.2m2.8 0h1.2m4.9 0h1.2m4.9 0h1.2m0.8 0h1.2m2.8 0h1.2m2.8 0h1.2m17 0h1.2m-44.6 1.8h1.2m0.8 0h1.2m8.9 0h1.2m27.1 0h1.2m6.8 0h1.2m2.9 0h1.2m-48.6 1.8h1.2m37.1 0h1.2m0.8 0h1.2m2.9 0h1.2m0.8 0h1.2m-50.7 1.7h1.2m0.9 0h1.2m0.8 0h1.2m0.8 0h1.2m0.8 0h1.2m35.1 0h1.2m2.9 0h1.2m-54.7 1.8h1.2m0.8 0h1.2m4.9 0h1.2m0.8 0h1.2m0.8 0h1.2m21 0h1.2m4.9 0h1.2m0.8 0h1.2m0.8 0h1.2m0.8 0h1.2m0.8 0h1.2m0.8 0h1.2m2.9 0h1.2m0.8 0h1.2m-62.8 1.8h1.2m0.9 0h1.2m0.8 0h1.2m0.8 0h1.2m2.8 0h1.2m4.9 0h1.2m0.8 0h1.2m0.8 0h1.2m8.9 0h1.2m0.8 0h1.2m2.9 0h1.2m4.8 0h1.2m12.9 0h1.2m2.9 0h1.2m-52.7 1.7h1.2m2.9 0h1.2m0.8 0h1.2m0.8 0h1.2m4.9 0h1.2m0.8 0h1.2m4.8 0h1.2m0.8 0h1.2m13 0h1.2m4.8 0h1.2m0.8 0h1.2m0.9 0h1.2m0.8 0h1.2m0.8 0h1.2m-62.8 1.8h1.2m0.9 0h1.2m2.8 0h1.2m2.8 0h1.2m6.9 0h1.2m8.9 0h1.2m8.9 0h1.2m8.9 0h1.2m10.9 0h1.2m-60.7 1.8h1.2m4.8 0h1.2m2.8 0h1.2m0.9 0h1.2m2.8 0h1.2m0.8 0h1.2m0.8 0h1.2m13 0h1.2m12.9 0h1.2m0.8 0h1.2m4.9 0h1.2m-50.7 1.7h1.2m2.9 0h1.2m0.8 0h1.2m0.8 0h1.2m0.8 0h1.2m2.8 0h1.2m4.9 0h1.2m27 0h1.2m2.9 0h1.2m-60.7 1.8h1.2m2.8 0h1.2m0.8 0h1.2m0.8 0h1.2m4.9 0h1.2m2.8 0h1.2m0.8 0h1.2m29.1 0h1.2m2.8 0h1.2m0.9 0h1.2m-54.7 1.8h1.2m4.8 0h1.2m8.9 0h1.2m8.9 0h1.2m12.9 0h1.2m0.9 0h1.2m0.8 0h1.2m2.8 0h1.2m0.8 0h1.2m0.8 0h1.2m-58.7 1.7h1.2m0.9 0h1.2m0.8 0h1.2m0.8 0h1.2m0.8 0h1.2m0.8 0h1.2m2.9 0h1.2m4.8 0h1.2m6.9 0h1.2m12.9 0h1.2m4.9 0h1.2m2.8 0h1.2m2.8 0h1.2m0.9 0h1.2m0.8 0h1.2m-60.8 1.8h1.2m2.9 0h1.2m16.9 0h1.2m2.9 0h1.2m4.8 0h1.2m4.9 0h1.2m0.8 0h1.2m0.8 0h1.2m6.9 0h1.2m0.8 0h1.2m0.8 0h1.2m0.8 0h1.2m2.9 0h1.2m-54.7 1.8h1.2m2.8 0h1.2m0.9 0h1.2m0.8 0h1.2m4.8 0h1.2m2.9 0h1.2m10.9 0h1.2m0.8 0h1.2m2.8 0h1.2m6.9 0h1.2m2.8 0h1.2m2.9 0h1.2m-60.8 1.7h1.2m0.9 0h1.2m4.8 0h1.2m2.9 0h1.2m2.8 0h1.2m0.8 0h1.2m2.8 0h1.2m0.9 0h1.2m10.9 0h1.2m6.8 0h1.2m2.9 0h1.2m0.8 0h1.2m0.8 0h1.2m-50.6 1.8h1.2m0.8 0h1.2m0.8 0h1.2m2.8 0h1.2m2.9 0h1.2m21 0h1.2m0.8 0h1.2m0.8 0h1.2m2.9 0h1.2m0.8 0h1.2m0.8 0h1.2m0.8 0h1.2m0.8 0h1.2m2.9 0h1.2m0.8 0h1.2m0.8 0h1.2m-50.6 1.8h1.2m0.8 0h1.2m0.8 0h1.2m0.8 0h1.2m4.9 0h1.2m2.8 0h1.2m8.9 0h1.2m0.8 0h1.2m0.8 0h1.2m0.8 0h1.2m2.9 0h1.2m2.8 0h1.2m2.8 0h1.2m2.9 0h1.2" stroke="#fde3e9" stroke-width="1.2"/>
<path d="M474.7 699.9h1.2m17 0h1.2m10.9 0h1.2m-28.5 1.8h1.2m4.9 0h1.2m6.9 0h1.2m2.8 0h1.2m-34.5 1.8h1.2m2.8 0h1.2m17 0h1.2m8.9 0h1.2m10.9 0h1.2m-48.6 1.7h1.2m18.9 0h1.2m0.9 0h1.2m6.8 0h1.2m6.9 0h1.2m0.8 0h1.2m-20.3 1.8h1.2m-22.4 1.8h1.2m10.9 0h1.2m14.9 0h1.2m17 0h1.2m6.8 0h1.2m0.9 0h1.2m0.8 0h1.2m-56.7 1.7h1.2m14.9 0h1.2m0.9 0h1.2m23 0h1.2m6.8 0h1.2m-42.5 1.8h1.2m12.9 0h1.2m14.9 0h1.2m6.9 0h1.2m0.8 0h1.2m-34.5 1.8h1.2m17 0h1.2m19 0h1.2m0.8 0h1.2m-62.8 1.7h1.2m0.9 0h1.2m10.9 0h1.2m19 0h1.2m25 0h1.2m-60.7 1.8h1.2m0.8 0h1.2m12.9 0h1.2m12.9 0h1.2m23 0h1.2m2.9 0h1.2m-33.5 3.5h1.2m2.8 0h1.2m0.8 0h1.2m-18.3 1.8h1.2m8.9 0h1.2m8.9 0h1.2m8.9 0h1.2m12.9 0h1.2m-56.7 1.8h1.2m4.8 0h1.2m21 0h1.2m15 0h1.2m-42.6 1.7h1.2m4.9 0h1.2m16.9 0h1.2m4.9 0h1.2m8.9 0h1.2m6.8 0h1.2m-58.7 1.8h1.2m2.9 0h1.2m8.9 0h1.2m-8.3 1.8h1.2m10.9 0h1.2m35.1 0h1.2m2.9 0h1.2m-54.7 1.7h1.2m14.9 0h1.2m35.2 0h1.2m-54.7 1.8h1.2m8.9 0h1.2m10.9 0h1.2m27 0h1.2m2.9 0h1.2m-52.7 1.8h1.2m8.9 0h1.2m31.1 0h1.2m4.8 0h1.2m4.9 0h1.2m-59.7 3.5h1.2m4.8 0h1.2m0.8 0h1.2m17 0h1.2m-18.3 1.8h1.2m10.9 0h1.2m8.9 0h1.2m2.8 0h1.2m8.9 0h1.2m8.9 0h1.2m-56.7 1.7h1.2m0.8 0h1.2m0.8 0h1.2m-4.2 1.8h1.2m6.9 0h1.2m8.8 0h1.2m2.9 0h1.2m8.9 0h1.2m-10.3 1.8h1.2m-8.3 1.7h1.2m8.9 0h1.2m23 0h1.2m-56.7 1.8h1.2m23.1 0h1.2m4.8 0h1.2m23 0h1.2m-48.6 1.8h1.2m8.9 0h1.2m0.8 0h1.2m1.8 1.7h1.2m2.9 0h1.2m2.8 0h1.2m12.9 0h1.2m4.9 0h1.2m-44.6 1.8h1.2m2.8 0h1.2m25.1 0h1.2m-36.5 1.8h1.2m14.9 0h1.2m8.9 0h1.2m0.8 0h1.2m15 0h1.2m-42.6 1.7h1.2m4.8 0h1.2m8.9 0h1.2m6.9 0h1.2m-12.3 1.8h1.2m0.8 0h1.2m-18.3 1.8h1.2m2.8 0h1.2m39.2 0h1.2" stroke="#fbdde2" stroke-width="1.2"/>
<path d="M460.6 699.9h1.2m8.9 0h1.2m8.9 0h1.2m-8.3 1.8h1.2m23 0h1.2m-38.5 1.8h1.2m30.1 1.7h1.2m12.9 0h1.2m-24.4 1.8h1.2m-22.4 1.8h1.2m39.1 0h1.2m-34.5 1.7h1.2m15 0h1.2m12.9 0h1.2m6.9 0h1.2m6.9 0h1.2m2.8 0h1.2m-44.6 1.8h1.2m29.1 0h1.2m-50.7 1.8h1.2m43.2 0h1.2m-40.5 1.7h1.2m12.9 0h1.2m4.9 0h1.2m29 0h1.2m-46.6 1.8h1.2m-6.2 1.8h1.2m9.9 1.7h1.2m41.2 0h1.2m-56.7 1.8h1.2m4.8 0h1.2m8.9 0h1.2m-10.3 1.8h1.2m2.9 0h1.2m6.8 0h1.2m8.9 0h1.2m2.9 0h1.2m10.9 0h1.2m-38.6 1.7h1.2m39.2 0h1.2m6.9 0h1.2m-50.7 1.8h1.2m49.3 0h1.2m-32.5 1.8h1.2m26 1.7h1.2m4.9 0h1.2m-56.7 1.8h1.2m14.9 0h1.2m-18.3 1.8h1.2m2.8 0h1.2m25.1 0h1.2m-17.4 3.5h1.2m0.8 0h1.2m13 0h1.2m-14.4 1.8h1.2m0.9 3.5h1.2m25 0h1.2m-52.7 1.8h1.2m15 0h1.2m16.9 0h1.2m-32.4 1.7h1.2m7.8 1.8h1.2m47.3 0h1.2m-60.8 1.8h1.2m21 0h1.2m4.9 0h1.2m-17.3 3.5h1.2m36.1 1.8h1.2m2.8 0h1.2m2.9 0h1.2m-44.6 1.7h1.2m9.9 1.8h1.2" stroke="#f08cb0" stroke-width="1.2"/>
<path d="M462.5 699.9h1.3m-5.3 3.6h1.3m18.9 0h1.3m0.7 0h1.3m20.9 0h1.3m-46.7 1.7h1.3m37 0h1.3m-40.6 1.8h1.3m20.9 0h1.3m6.8 0h1.3m0.7 0h1.3m-32.6 1.8h1.3m33 0h1.3m-20.5 1.7h1.3m-10.4 1.8h1.3m31 0h1.3m-24.5 1.8h1.3m6.8 0h1.3m29 0h1.3m2.7 0h1.3m-28.5 1.7h1.3m20.9 0h1.3m-48.8 1.8h1.3m7.8 1.8h1.3m2.8 0h1.3m14.8 0h1.3m-36.6 1.7h1.3m20.9 0h1.3m6.8 0h1.3m-10.4 1.8h1.3m-17.5 7.1h1.3m2.8 0h1.3m44.1 1.7h1.3m-52.8 1.8h1.3m-2.3 1.8h1.3m16.9 0h1.3m0.7 0h1.3m0.7 0h1.3m25.9 1.7h1.3m-14.4 1.8h1.3m11.8 1.8h1.3m2.8 0h1.3m-56.8 1.7h1.3m35 0h1.3m0.7 0h1.3m12.9 0h1.3m-32.6 1.8h1.3m-16.5 1.8h1.3m23 0h1.3m28.9 0h1.3m0.7 0h1.3m-4.3 1.7h1.3m-56.8 1.8h1.3m31 0h1.3m-24.5 1.8h1.3m-2.3 1.7h1.3m2.7 0h1.3m-14.4 1.8h1.3m4.8 0h1.3m10.8 0h1.3m2.7 0h1.3m2.7 0h1.3m-6.3 1.8h1.3m-18.5 1.7h1.3m31 0h1.3m18.9 0h1.3m0.7 0h1.3m-62.8 1.8h1.3m55.2 0h1.3" stroke="#e0559e" stroke-width="1.3"/>
<path d="M484.6 707h1.6m24.6 0h1.6m-42.9 1.8h1.6m21.6 1.7h1.6m21.6 1.8h1.6m-23.8 3.5h1.6m-22.8 1.8h1.6m18.6 3.5h1.6m-32.9 1.8h1.6m46.8 0h1.6m-24.8 1.8h1.6m-10.7 1.7h1.6m0.4 0h1.6m6.5 0h1.6m28.7 0h1.6m-43 1.8h1.6m6.5 0h1.6m21.6 1.8h1.6m-4.6 1.7h1.6m10.5 0h1.6m-45 1.8h1.6m30.7 3.5h1.6m-16.8 1.8h1.6m-20.7 5.3h1.6m-12.7 1.8h1.6m18.6 0h1.6m-18.8 1.7h1.6m2.4 0h1.6m14.6 0h1.6m-3.6 3.6h1.6m-6.7 5.3h1.6m40.8 0h1.6m-50 3.5h1.6m28.6 0h1.6" stroke="#c2268f" stroke-width="1.6"/>
<rect x="452.50" y="696.40" width="70.10" height="68.60" fill="none" stroke="#2a2a2a" stroke-width="1.1"/>
<path d="M536.6 700h1.2m10.8 0h1.2m24.8 0h1.2m-40.2 1.8h1.2m18.8 0h1.2m2.8 0h1.2m2.8 0h1.2m10.8 0h1.2m0.8 0h1.2m-22.2 1.8h1.2m16.8 0h1.2m6.7 0h1.2m-40.1 1.8h1.2m26.8 0h1.2m6.7 0h1.2m0.8 0h1.2m-26.1 1.8h1.2m6.8 0h1.2m-30.2 1.7h1.2m20.8 0h1.2m4.8 0h1.2m10.8 0h1.2m0.8 0h1.2m4.7 0h1.2m-40.1 1.8h1.2m4.8 0h1.2m4.8 0h1.2m2.8 0h1.2m0.8 0h1.2m10.8 0h1.2m0.8 0h1.2m0.7 0h1.2m10.8 0h1.2m0.8 0h1.2m-42.1 1.8h1.2m14.8 0h1.2m2.8 0h1.2m-38.2 1.8h1.2m6.8 0h1.2m16.8 0h1.2m26.7 0h1.2m-48.1 1.8h1.2m8.8 0h1.2m0.8 0h1.2m4.8 0h1.2m2.8 0h1.2m16.7 0h1.2m-32.1 1.8h1.2m12.8 0h1.2m0.8 0h1.2m24.7 0h1.2m-52.1 1.8h1.2m2.8 0h1.2m0.8 0h1.2m8.8 0h1.2m6.8 0h1.2m-22.2 1.8h1.2m6.8 0h1.2m2.8 0h1.2m0.8 0h1.2m2.8 0h1.2m4.8 0h1.2m4.8 0h1.2m6.7 0h1.2m6.8 0h1.2m-56.1 1.8h1.2m24.8 0h1.2m2.8 0h1.2m2.8 0h1.2m8.7 0h1.2m14.8 0h1.2m-54.1 1.8h1.2m44.7 0h1.2m-54.1 1.8h1.2m4.8 0h1.2m6.8 0h1.2m0.8 0h1.2m8.8 0h1.2m2.8 0h1.2m6.8 0h1.2m-40.2 1.8h1.2m20.8 0h1.2m6.8 0h1.2m6.8 0h1.2m-26.2 1.8h1.2m2.8 0h1.2m0.8 0h1.2m8.8 0h1.2m14.7 0h1.2m6.8 0h1.2m-54.1 1.8h1.2m14.8 0h1.2m4.8 0h1.2m16.8 0h1.2m8.7 0h1.2m10.8 0h1.2m-62.1 1.7h1.2m8.8 0h1.2m0.8 0h1.2m6.8 0h1.2m2.8 0h1.2m0.8 0h1.2m0.8 0h1.2m12.8 0h1.2m-38.2 1.8h1.2m10.8 0h1.2m16.8 0h1.2m16.7 0h1.2m0.8 0h1.2m4.8 0h1.2m-60.1 1.8h1.2m0.8 0h1.2m14.8 0h1.2m4.8 0h1.2m10.8 0h1.2m0.8 0h1.2m8.7 0h1.2m2.8 0h1.2m-56.1 1.8h1.2m38.8 0h1.2m4.7 0h1.2m8.8 0h1.2m0.8 0h1.2m-42.1 1.8h1.2m8.8 0h1.2m14.8 0h1.2m14.7 0h1.2m0.8 0h1.2m-62.1 1.8h1.2m6.8 0h1.2m0.8 0h1.2m0.8 0h1.2m4.8 0h1.2m14.8 0h1.2m12.7 0h1.2m-40.1 1.8h1.2m6.8 0h1.2m2.8 0h1.2m6.8 0h1.2m14.7 0h1.2m2.8 0h1.2m4.8 0h1.2m4.8 0h1.2m-48.1 1.8h1.2m4.8 0h1.2m32.7 0h1.2m6.8 0h1.2m-54.1 1.8h1.2m34.7 0h1.2m10.8 0h1.2m2.8 0h1.2m-26.1 1.8h1.2m18.7 0h1.2m0.8 0h1.2m-50.1 1.8h1.2m8.8 0h1.2m12.8 0h1.2m14.7 0h1.2m0.8 0h1.2m-52.1 1.8h1.2m30.8 0h1.2m2.8 0h1.2m-30.2 1.8h1.2m4.8 0h1.2m24.8 0h1.2m14.7 0h1.2m4.8 0h1.2m-32.1 1.8h1.2m1.8 1.7h1.2m2.8 0h1.2m20.7 0h1.2m-52.1 1.8h1.2m6.8 0h1.2m24.8 0h1.2m8.7 0h1.2m6.8 0h1.2m-48.1 1.8h1.2m0.8 0h1.2m4.8 0h1.2m2.8 0h1.2m0.8 0h1.2m10.8 0h1.2m4.7 0h1.2m10.8 0h1.2" stroke="#e9e9e9" stroke-width="1.2"/>
<path d="M534.6 700h1.2m4.8 0h1.2m4.8 0h1.2m2.8 0h1.2m0.8 0h1.2m0.8 0h1.2m0.8 0h1.2m8.8 0h1.2m2.8 0h1.2m0.8 0h1.2m4.7 0h1.2m0.8 0h1.2m-38.1 1.8h1.2m2.8 0h1.2m0.8 0h1.2m0.8 0h1.2m4.8 0h1.2m2.8 0h1.2m6.8 0h1.2m0.8 0h1.2m8.7 0h1.2m-48.1 1.8h1.2m0.8 0h1.2m2.8 0h1.2m0.8 0h1.2m0.8 0h1.2m0.8 0h1.2m6.8 0h1.2m2.8 0h1.2m0.8 0h1.2m10.8 0h1.2m4.7 0h1.2m4.8 0h1.2m0.8 0h1.2m-52.1 1.8h1.2m0.8 0h1.2m2.8 0h1.2m6.8 0h1.2m0.8 0h1.2m2.8 0h1.2m0.8 0h1.2m4.8 0h1.2m0.8 0h1.2m0.8 0h1.2m0.8 0h1.2m6.8 0h1.2m4.7 0h1.2m0.8 0h1.2m2.8 0h1.2m-50.1 1.8h1.2m0.8 0h1.2m0.8 0h1.2m2.8 0h1.2m2.8 0h1.2m0.8 0h1.2m2.8 0h1.2m0.8 0h1.2m0.8 0h1.2m8.8 0h1.2m0.8 0h1.2m4.7 0h1.2m8.8 0h1.2m0.8 0h1.2m-56.1 1.7h1.2m0.8 0h1.2m0.8 0h1.2m4.8 0h1.2m4.8 0h1.2m4.8 0h1.2m4.8 0h1.2m0.8 0h1.2m0.8 0h1.2m2.8 0h1.2m4.7 0h1.2m4.8 0h1.2m0.8 0h1.2m0.8 0h1.2m0.8 0h1.2m0.8 0h1.2m-60.1 1.8h1.2m0.8 0h1.2m0.8 0h1.2m0.8 0h1.2m0.8 0h1.2m8.8 0h1.2m0.8 0h1.2m2.8 0h1.2m4.8 0h1.2m0.8 0h1.2m0.8 0h1.2m0.8 0h1.2m8.7 0h1.2m0.8 0h1.2m2.8 0h1.2m8.8 0h1.2m-56.1 1.8h1.2m2.8 0h1.2m2.8 0h1.2m2.8 0h1.2m2.8 0h1.2m0.8 0h1.2m0.8 0h1.2m2.8 0h1.2m12.7 0h1.2m2.8 0h1.2m8.8 0h1.2m0.8 0h1.2m-58.1 1.8h1.2m0.8 0h1.2m2.8 0h1.2m0.8 0h1.2m10.8 0h1.2m4.8 0h1.2m4.8 0h1.2m0.8 0h1.2m0.8 0h1.2m0.8 0h1.2m0.7 0h1.2m2.8 0h1.2m6.8 0h1.2m2.8 0h1.2m0.8 0h1.2m-58.1 1.8h1.2m4.8 0h1.2m0.8 0h1.2m0.8 0h1.2m4.8 0h1.2m4.8 0h1.2m2.8 0h1.2m0.8 0h1.2m4.8 0h1.2m2.8 0h1.2m8.7 0h1.2m0.8 0h1.2m0.8 0h1.2m-56.1 1.8h1.2m0.8 0h1.2m2.8 0h1.2m4.8 0h1.2m8.8 0h1.2m0.8 0h1.2m0.8 0h1.2m4.8 0h1.2m4.8 0h1.2m0.8 0h1.2m0.7 0h1.2m2.8 0h1.2m0.8 0h1.2m0.8 0h1.2m0.8 0h1.2m4.8 0h1.2m0.8 0h1.2m-62.1 1.8h1.2m2.8 0h1.2m10.8 0h1.2m6.8 0h1.2m0.8 0h1.2m8.8 0h1.2m0.8 0h1.2m2.8 0h1.2m6.7 0h1.2m6.8 0h1.2m-58.1 1.8h1.2m4.8 0h1.2m10.8 0h1.2m4.8 0h1.2m4.8 0h1.2m4.8 0h1.2m2.8 0h1.2m0.7 0h1.2m0.8 0h1.2m2.8 0h1.2m0.8 0h1.2m0.8 0h1.2m6.8 0h1.2m-56.1 1.8h1.2m0.8 0h1.2m2.8 0h1.2m2.8 0h1.2m14.8 0h1.2m2.8 0h1.2m8.7 0h1.2m-44.1 1.8h1.2m10.8 0h1.2m0.8 0h1.2m0.8 0h1.2m0.8 0h1.2m2.8 0h1.2m2.8 0h1.2m4.8 0h1.2m0.8 0h1.2m4.7 0h1.2m2.8 0h1.2m2.8 0h1.2m4.8 0h1.2m0.8 0h1.2m0.8 0h1.2m-60.1 1.8h1.2m0.8 0h1.2m2.8 0h1.2m0.8 0h1.2m6.8 0h1.2m0.8 0h1.2m10.8 0h1.2m0.8 0h1.2m4.8 0h1.2m0.8 0h1.2m0.7 0h1.2m10.8 0h1.2m2.8 0h1.2m-58.1 1.8h1.2m0.8 0h1.2m0.8 0h1.2m2.8 0h1.2m0.8 0h1.2m4.8 0h1.2m6.8 0h1.2m4.8 0h1.2m0.8 0h1.2m2.8 0h1.2m0.8 0h1.2m0.7 0h1.2m0.8 0h1.2m2.8 0h1.2m2.8 0h1.2m0.8 0h1.2m0.8 0h1.2m0.8 0h1.2m0.8 0h1.2m-58.1 1.8h1.2m2.8 0h1.2m10.8 0h1.2m0.8 0h1.2m0.8 0h1.2m8.8 0h1.2m14.7 0h1.2m6.8 0h1.2m0.8 0h1.2m-58.1 1.8h1.2m2.8 0h1.2m0.8 0h1.2m6.8 0h1.2m4.8 0h1.2m0.8 0h1.2m0.8 0h1.2m6.8 0h1.2m0.8 0h1.2m6.7 0h1.2m8.8 0h1.2m2.8 0h1.2m-58.1 1.7h1.2m2.8 0h1.2m0.8 0h1.2m8.8 0h1.2m2.8 0h1.2m6.8 0h1.2m0.8 0h1.2m0.8 0h1.2m0.8 0h1.2m12.7 0h1.2m0.8 0h1.2m2.8 0h1.2m0.8 0h1.2m-58.1 1.8h1.2m4.8 0h1.2m6.8 0h1.2m2.8 0h1.2m0.8 0h1.2m0.8 0h1.2m0.8 0h1.2m2.8 0h1.2m0.8 0h1.2m0.8 0h1.2m2.8 0h1.2m0.8 0h1.2m2.7 0h1.2m0.8 0h1.2m0.8 0h1.2m8.8 0h1.2m-52.1 1.8h1.2m0.8 0h1.2m0.8 0h1.2m0.8 0h1.2m2.8 0h1.2m4.8 0h1.2m0.8 0h1.2m4.8 0h1.2m2.8 0h1.2m6.8 0h1.2m2.7 0h1.2m0.8 0h1.2m6.8 0h1.2m0.8 0h1.2m0.8 0h1.2m-56.1 1.8h1.2m0.8 0h1.2m2.8 0h1.2m0.8 0h1.2m2.8 0h1.2m2.8 0h1.2m2.8 0h1.2m0.8 0h1.2m2.8 0h1.2m8.8 0h1.2m10.7 0h1.2m-54.1 1.8h1.2m0.8 0h1.2m0.8 0h1.2m0.8 0h1.2m6.8 0h1.2m2.8 0h1.2m2.8 0h1.2m0.8 0h1.2m2.8 0h1.2m0.8 0h1.2m0.8 0h1.2m0.8 0h1.2m2.8 0h1.2m6.7 0h1.2m0.8 0h1.2m-28.1 1.8h1.2m0.8 0h1.2m2.8 0h1.2m6.8 0h1.2m2.8 0h1.2m0.8 0h1.2m14.7 0h1.2m-56.1 1.8h1.2m0.8 0h1.2m6.8 0h1.2m4.8 0h1.2m4.8 0h1.2m8.8 0h1.2m0.8 0h1.2m4.8 0h1.2m2.7 0h1.2m2.8 0h1.2m4.8 0h1.2m-54.1 1.8h1.2m0.8 0h1.2m0.8 0h1.2m2.8 0h1.2m4.8 0h1.2m2.8 0h1.2m0.8 0h1.2m2.8 0h1.2m0.8 0h1.2m8.8 0h1.2m0.8 0h1.2m2.7 0h1.2m0.8 0h1.2m0.8 0h1.2m0.8 0h1.2m2.8 0h1.2m-44.1 1.8h1.2m0.8 0h1.2m2.8 0h1.2m2.8 0h1.2m0.8 0h1.2m0.8 0h1.2m0.8 0h1.2m0.8 0h1.2m0.8 0h1.2m2.8 0h1.2m2.8 0h1.2m0.8 0h1.2m2.7 0h1.2m0.8 0h1.2m0.8 0h1.2m2.8 0h1.2m2.8 0h1.2m-60.1 1.8h1.2m0.8 0h1.2m4.8 0h1.2m2.8 0h1.2m0.8 0h1.2m2.8 0h1.2m4.8 0h1.2m4.8 0h1.2m0.8 0h1.2m0.8 0h1.2m4.8 0h1.2m2.7 0h1.2m6.8 0h1.2m0.8 0h1.2m-54.1 1.8h1.2m0.8 0h1.2m6.8 0h1.2m0.8 0h1.2m0.8 0h1.2m4.8 0h1.2m6.8 0h1.2m4.8 0h1.2m0.8 0h1.2m2.8 0h1.2m10.7 0h1.2m-38.1 1.8h1.2m0.8 0h1.2m0.8 0h1.2m0.8 0h1.2m0.8 0h1.2m0.8 0h1.2m2.8 0h1.2m2.8 0h1.2m10.7 0h1.2m0.8 0h1.2m2.8 0h1.2m2.8 0h1.2m4.8 0h1.2m-62.1 1.8h1.2m8.8 0h1.2m4.8 0h1.2m2.8 0h1.2m2.8 0h1.2m0.8 0h1.2m0.8 0h1.2m0.8 0h1.2m0.8 0h1.2m0.8 0h1.2m4.8 0h1.2m0.8 0h1.2m0.7 0h1.2m2.8 0h1.2m0.8 0h1.2m0.8 0h1.2m4.8 0h1.2m-60.1 1.8h1.2m0.8 0h1.2m0.8 0h1.2m0.8 0h1.2m2.8 0h1.2m0.8 0h1.2m0.8 0h1.2m0.8 0h1.2m0.8 0h1.2m2.8 0h1.2m0.8 0h1.2m0.8 0h1.2m0.8 0h1.2m2.8 0h1.2m0.8 0h1.2m0.8 0h1.2m0.8 0h1.2m0.8 0h1.2m0.8 0h1.2m10.7 0h1.2m0.8 0h1.2m0.8 0h1.2m0.8 0h1.2m0.8 0h1.2m-58.1 1.7h1.2m4.8 0h1.2m0.8 0h1.2m4.8 0h1.2m2.8 0h1.2m2.8 0h1.2m0.8 0h1.2m0.8 0h1.2m10.8 0h1.2m0.7 0h1.2m2.8 0h1.2m2.8 0h1.2m0.8 0h1.2m0.8 0h1.2m2.8 0h1.2m-62.1 1.8h1.2m10.8 0h1.2m0.8 0h1.2m6.8 0h1.2m4.8 0h1.2m2.8 0h1.2m4.8 0h1.2m0.8 0h1.2m4.7 0h1.2m0.8 0h1.2m4.8 0h1.2m-54.1 1.8h1.2m0.8 0h1.2m0.8 0h1.2m0.8 0h1.2m2.8 0h1.2m20.8 0h1.2m2.8 0h1.2m4.8 0h1.2m6.7 0h1.2m2.8 0h1.2m4.8 0h1.2" stroke="#fde3e9" stroke-width="1.2"/>
<path d="M542.6 700h1.2m0.8 0h1.2m12.8 0h1.2m8.8 0h1.2m-32.2 1.8h1.2m40.7 0h1.2m-4.1 1.8h1.2m-24.2 1.8h1.2m4.8 0h1.2m14.8 0h1.2m-40.2 1.8h1.2m0.8 0h1.2m6.8 0h1.2m2.8 0h1.2m14.8 0h1.2m8.8 0h1.2m0.7 0h1.2m4.8 0h1.2m2.8 0h1.2m-40.1 1.7h1.2m20.8 0h1.2m8.7 0h1.2m12.8 0h1.2m-48.1 1.8h1.2m34.7 0h1.2m-50.1 1.8h1.2m0.8 0h1.2m24.8 0h1.2m8.8 0h1.2m0.8 0h1.2m8.7 0h1.2m-30.1 1.8h1.2m4.8 0h1.2m2.8 0h1.2m0.8 0h1.2m10.7 0h1.2m10.8 0h1.2m-58.1 1.8h1.2m6.8 0h1.2m24.8 0h1.2m4.8 0h1.2m6.7 0h1.2m10.8 0h1.2m-62.1 1.8h1.2m4.8 0h1.2m2.8 0h1.2m8.8 0h1.2m16.8 0h1.2m16.7 0h1.2m-54.1 1.8h1.2m16.8 0h1.2m12.8 0h1.2m4.8 0h1.2m12.7 0h1.2m0.8 0h1.2m2.8 0h1.2m-62.1 1.8h1.2m2.8 0h1.2m54.7 0h1.2m-56.1 1.8h1.2m8.8 0h1.2m4.8 0h1.2m2.8 0h1.2m16.8 0h1.2m4.7 0h1.2m0.8 0h1.2m-52.1 1.8h1.2m38.8 0h1.2m4.7 0h1.2m2.8 0h1.2m4.8 0h1.2m-44.1 1.8h1.2m8.8 0h1.2m4.8 0h1.2m-28.2 1.8h1.2m14.8 0h1.2m32.7 0h1.2m-50.1 1.8h1.2m6.8 0h1.2m2.8 0h1.2m10.8 0h1.2m12.8 0h1.2m4.7 0h1.2m6.8 0h1.2m-54.1 1.8h1.2m2.8 0h1.2m6.8 0h1.2m4.8 0h1.2m10.8 0h1.2m0.8 0h1.2m8.7 0h1.2m2.8 0h1.2m4.8 0h1.2m2.8 0h1.2m-54.1 1.7h1.2m34.8 0h1.2m2.7 0h1.2m0.8 0h1.2m-48.1 1.8h1.2m2.8 0h1.2m4.8 0h1.2m16.8 0h1.2m20.7 0h1.2m-50.1 1.8h1.2m12.8 0h1.2m2.8 0h1.2m32.7 0h1.2m-52.1 1.8h1.2m0.8 0h1.2m4.8 0h1.2m4.8 0h1.2m2.8 0h1.2m8.8 0h1.2m6.8 0h1.2m12.7 0h1.2m-44.1 1.8h1.2m10.8 0h1.2m22.7 0h1.2m4.8 0h1.2m2.8 0h1.2m0.8 0h1.2m-56.1 1.8h1.2m0.8 0h1.2m8.8 0h1.2m4.8 0h1.2m10.8 0h1.2m18.7 0h1.2m0.8 0h1.2m0.8 0h1.2m2.8 0h1.2m-38.1 1.8h1.2m6.8 0h1.2m0.8 0h1.2m6.8 0h1.2m-42.2 1.8h1.2m30.8 0h1.2m24.7 0h1.2m0.8 0h1.2m-54.1 1.8h1.2m2.8 0h1.2m8.8 0h1.2m16.8 0h1.2m-20.2 1.8h1.2m0.8 0h1.2m2.8 0h1.2m10.8 0h1.2m6.7 0h1.2m-42.1 1.8h1.2m0.8 0h1.2m8.8 0h1.2m4.8 0h1.2m0.8 0h1.2m12.8 0h1.2m14.7 0h1.2m0.8 0h1.2m2.8 0h1.2m-54.1 1.8h1.2m0.8 0h1.2m0.8 0h1.2m0.8 0h1.2m12.8 0h1.2m12.8 0h1.2m14.7 0h1.2m0.8 0h1.2m-46.1 1.8h1.2m3.8 1.8h1.2m22.7 0h1.2m6.8 0h1.2m-52.1 1.7h1.2m4.8 0h1.2m0.8 0h1.2m14.8 0h1.2m20.7 0h1.2m2.8 0h1.2m-28.1 1.8h1.2m0.8 0h1.2m6.8 0h1.2m8.7 0h1.2m4.8 0h1.2m-28.1 1.8h1.2m6.8 0h1.2m8.8 0h1.2m10.7 0h1.2" stroke="#fbdde2" stroke-width="1.2"/>
<path d="M538.6 700h1.2m24.8 0h1.2m16.7 0h1.2m-44.1 1.8h1.2m4.8 0h1.2m26.8 0h1.2m8.7 0h1.2m-36.1 1.8h1.2m18.8 0h1.2m-22.2 1.8h1.2m12.8 0h1.2m7.8 1.8h1.2m10.7 0h1.2m2.8 0h1.2m-42.1 1.7h1.2m4.8 0h1.2m2.8 0h1.2m-17.2 3.6h1.2m40.7 0h1.2m4.8 0h1.2m0.8 0h1.2m-54.1 1.8h1.2m46.7 0h1.2m-48.1 1.8h1.2m18.8 0h1.2m12.8 0h1.2m6.7 0h1.2m4.8 0h1.2m6.8 0h1.2m-48.1 1.8h1.2m4.8 0h1.2m26.7 0h1.2m1.8 1.8h1.2m2.8 0h1.2m-48.1 1.8h1.2m6.8 0h1.2m0.8 0h1.2m12.8 0h1.2m4.8 0h1.2m-34.2 1.8h1.2m6.8 0h1.2m10.8 0h1.2m14.8 0h1.2m0.8 0h1.2m10.7 0h1.2m0.8 0h1.2m0.8 0h1.2m-56.1 1.8h1.2m2.8 0h1.2m2.8 0h1.2m0.8 0h1.2m0.8 0h1.2m16.8 0h1.2m-8.2 1.8h1.2m20.7 0h1.2m2.8 0h1.2m0.8 0h1.2m4.8 0h1.2m-50.1 1.8h1.2m4.8 0h1.2m14.8 0h1.2m14.7 0h1.2m-42.1 1.8h1.2m22.8 0h1.2m0.8 0h1.2m2.8 0h1.2m0.8 0h1.2m8.7 0h1.2m-38.1 1.8h1.2m16.8 0h1.2m-14.2 1.7h1.2m36.7 0h1.2m-44.1 1.8h1.2m38.7 0h1.2m-24.1 1.8h1.2m2.8 0h1.2m10.7 0h1.2m-22.1 1.8h1.2m10.8 0h1.2m6.7 0h1.2m16.8 0h1.2m-52.1 1.8h1.2m28.8 0h1.2m10.7 0h1.2m-28.1 1.8h1.2m-26.2 1.8h1.2m4.8 0h1.2m2.8 0h1.2m26.8 0h1.2m12.7 0h1.2m4.8 0h1.2m-44.1 1.8h1.2m18.8 0h1.2m0.8 0h1.2m-36.2 1.8h1.2m0.8 0h1.2m10.8 0h1.2m16.8 0h1.2m-30.2 1.8h1.2m2.8 0h1.2m30.8 0h1.2m4.7 0h1.2m12.8 0h1.2m-32.1 1.8h1.2m10.8 0h1.2m0.7 0h1.2m-42.1 1.8h1.2m32.8 0h1.2m0.8 0h1.2m-36.2 1.8h1.2m2.8 0h1.2m8.8 0h1.2m16.8 0h1.2m-23.2 3.5h1.2m24.8 0h1.2m-24.2 1.8h1.2m10.8 0h1.2m3.8 1.8h1.2m10.7 0h1.2" stroke="#f08cb0" stroke-width="1.2"/>
<path d="M565.5 701.8h1.3m-16.3 1.8h1.3m-6.3 1.8h1.3m26.7 0h1.3m-40.3 1.8h1.3m7.7 1.7h1.3m16.7 0h1.3m-16.3 1.8h1.3m40.7 0h1.3m4.7 0h1.3m-48.3 1.8h1.3m28.7 0h1.3m12.7 0h1.3m-44.3 1.8h1.3m29.7 5.4h1.3m-34.3 1.8h1.3m44.7 0h1.3m-31.3 3.6h1.3m4.7 0h1.3m6.7 0h1.3m-6.3 1.8h1.3m10.7 0h1.3m-26.3 1.8h1.3m-24.3 1.8h1.3m54.7 0h1.3m-16.3 1.8h1.3m17.7 1.7h1.3m-2.3 1.8h1.3m-24.3 1.8h1.3m21.7 1.8h1.3m-48.3 1.8h1.3m22.7 0h1.3m7.7 1.8h1.3m2.7 0h1.3m10.7 0h1.3m-61.3 3.6h1.3m6.7 0h1.3m-10.3 1.8h1.3m50.7 0h1.3m-4.3 1.8h1.3m8.7 0h1.3m-14.3 1.8h1.3m5.7 1.8h1.3m-52.3 1.8h1.3m42.7 0h1.3m8.7 0h1.3m-50.3 1.8h1.3m7.7 1.7h1.3m2.7 0h1.3m-20.3 1.8h1.3m0.7 0h1.3m0.7 0h1.3m12.7 0h1.3m34.7 0h1.3m0.7 0h1.3m-50.3 1.8h1.3m18.7 0h1.3m18.7 0h1.3" stroke="#e0559e" stroke-width="1.3"/>
<path d="M541.4 701.8h1.6m24.4 0h1.6m1.4 1.8h1.6m8.3 0h1.6m5.4 1.8h1.6m-33.5 7.1h1.6m12.4 0h1.6m-20.6 1.8h1.6m0.4 0h1.6m0.4 0h1.6m14.4 3.6h1.6m-28.6 1.8h1.6m4.4 0h1.6m12.4 0h1.6m24.3 7.2h1.6m-30.5 1.8h1.6m15.4 1.8h1.6m-5.6 3.5h1.6m7.3 5.4h1.6m-33.5 3.6h1.6m12.4 0h1.6m12.3 0h1.6m-30.5 1.8h1.6m10.4 0h1.6m-24.6 5.4h1.6m21.4 1.8h1.6m30.3 0h1.6m-12.6 5.4h1.6m-10.5 1.7h1.6m-30.6 1.8h1.6m7.4 1.8h1.6m38.3 0h1.6" stroke="#c2268f" stroke-width="1.6"/>
<rect x="530.60" y="696.40" width="69.40" height="69.60" fill="none" stroke="#2a2a2a" stroke-width="1.1"/>
<path d="M612.4 699.9h1.2m0.8 0h1.2m0.8 0h1.2m0.8 0h1.2m0.8 0h1.2m0.8 0h1.2m2.8 0h1.2m0.8 0h1.2m0.7 0h1.2m0.8 0h1.2m0.8 0h1.2m0.8 0h1.2m0.8 0h1.2m2.8 0h1.2m0.8 0h1.2m0.8 0h1.2m0.8 0h1.2m0.8 0h1.2m0.8 0h1.2m0.8 0h1.2m4.8 0h1.2m-48.1 1.8h1.2m0.8 0h1.2m0.8 0h1.2m0.8 0h1.2m0.8 0h1.2m0.8 0h1.2m0.8 0h1.2m2.7 0h1.2m0.8 0h1.2m2.8 0h1.2m0.8 0h1.2m0.8 0h1.2m0.8 0h1.2m2.8 0h1.2m0.8 0h1.2m2.8 0h1.2m0.8 0h1.2m0.8 0h1.2m0.8 0h1.2m0.8 0h1.2m0.8 0h1.2m-48.1 1.8h1.2m0.8 0h1.2m0.8 0h1.2m0.8 0h1.2m0.8 0h1.2m0.8 0h1.2m4.7 0h1.2m0.8 0h1.2m0.8 0h1.2m0.8 0h1.2m0.8 0h1.2m0.8 0h1.2m0.8 0h1.2m0.8 0h1.2m0.8 0h1.2m0.8 0h1.2m0.8 0h1.2m0.8 0h1.2m0.8 0h1.2m0.8 0h1.2m0.8 0h1.2m0.8 0h1.2m0.8 0h1.2m0.8 0h1.2m-52.1 1.7h1.2m2.8 0h1.2m0.8 0h1.2m0.8 0h1.2m0.8 0h1.2m2.8 0h1.2m0.7 0h1.2m0.8 0h1.2m0.8 0h1.2m10.8 0h1.2m2.8 0h1.2m0.8 0h1.2m4.8 0h1.2m0.8 0h1.2m0.8 0h1.2m2.8 0h1.2m0.8 0h1.2m-56.1 1.8h1.2m0.8 0h1.2m4.8 0h1.2m2.8 0h1.2m0.8 0h1.2m0.8 0h1.2m2.7 0h1.2m2.8 0h1.2m0.8 0h1.2m0.8 0h1.2m0.8 0h1.2m0.8 0h1.2m0.8 0h1.2m2.8 0h1.2m0.8 0h1.2m0.8 0h1.2m0.8 0h1.2m0.8 0h1.2m2.8 0h1.2m0.8 0h1.2m0.8 0h1.2m0.7 0h1.2m0.8 0h1.2m-58 1.8h1.2m0.8 0h1.2m2.8 0h1.2m2.8 0h1.2m0.8 0h1.2m0.8 0h1.2m0.7 0h1.2m0.8 0h1.2m0.8 0h1.2m0.8 0h1.2m2.8 0h1.2m0.8 0h1.2m0.8 0h1.2m0.8 0h1.2m0.8 0h1.2m2.8 0h1.2m0.8 0h1.2m2.8 0h1.2m0.8 0h1.2m0.8 0h1.2m0.8 0h1.2m2.8 0h1.2m0.7 0h1.2m0.8 0h1.2m0.8 0h1.2m-62 1.7h1.2m2.8 0h1.2m0.8 0h1.2m0.8 0h1.2m0.8 0h1.2m0.8 0h1.2m2.8 0h1.2m0.7 0h1.2m0.8 0h1.2m0.8 0h1.2m0.8 0h1.2m0.8 0h1.2m0.8 0h1.2m0.8 0h1.2m0.8 0h1.2m0.8 0h1.2m0.8 0h1.2m0.8 0h1.2m2.8 0h1.2m0.8 0h1.2m10.7 0h1.2m0.8 0h1.2m0.8 0h1.2m0.8 0h1.2m-62 1.8h1.2m2.8 0h1.2m0.8 0h1.2m0.8 0h1.2m0.8 0h1.2m0.8 0h1.2m0.8 0h1.2m0.7 0h1.2m0.8 0h1.2m0.8 0h1.2m0.8 0h1.2m0.8 0h1.2m2.8 0h1.2m0.8 0h1.2m0.8 0h1.2m0.8 0h1.2m4.8 0h1.2m4.8 0h1.2m4.8 0h1.2m-54.1 1.8h1.2m0.8 0h1.2m0.8 0h1.2m2.8 0h1.2m0.8 0h1.2m0.8 0h1.2m0.8 0h1.2m0.8 0h1.2m2.7 0h1.2m0.8 0h1.2m0.8 0h1.2m4.8 0h1.2m4.8 0h1.2m12.8 0h1.2m2.8 0h1.2m0.7 0h1.2m0.8 0h1.2m0.8 0h1.2m-58 1.7h1.2m0.8 0h1.2m0.8 0h1.2m2.8 0h1.2m0.8 0h1.2m0.8 0h1.2m2.7 0h1.2m0.8 0h1.2m0.8 0h1.2m2.8 0h1.2m0.8 0h1.2m0.8 0h1.2m2.8 0h1.2m0.8 0h1.2m0.8 0h1.2m0.8 0h1.2m2.8 0h1.2m6.8 0h1.2m0.8 0h1.2m4.7 0h1.2m-62 1.8h1.2m4.8 0h1.2m2.8 0h1.2m0.8 0h1.2m0.8 0h1.2m4.7 0h1.2m0.8 0h1.2m0.8 0h1.2m0.8 0h1.2m2.8 0h1.2m0.8 0h1.2m0.8 0h1.2m0.8 0h1.2m0.8 0h1.2m8.8 0h1.2m0.8 0h1.2m6.7 0h1.2m2.8 0h1.2m-62 1.8h1.2m2.8 0h1.2m0.8 0h1.2m0.8 0h1.2m0.8 0h1.2m0.8 0h1.2m0.8 0h1.2m2.7 0h1.2m0.8 0h1.2m0.8 0h1.2m0.8 0h1.2m0.8 0h1.2m2.8 0h1.2m0.8 0h1.2m0.8 0h1.2m0.8 0h1.2m8.8 0h1.2m0.8 0h1.2m2.8 0h1.2m2.7 0h1.2m2.8 0h1.2m-62 1.7h1.2m0.8 0h1.2m0.8 0h1.2m2.8 0h1.2m0.8 0h1.2m0.8 0h1.2m0.8 0h1.2m2.7 0h1.2m0.8 0h1.2m0.8 0h1.2m2.8 0h1.2m4.8 0h1.2m0.8 0h1.2m2.8 0h1.2m0.8 0h1.2m2.8 0h1.2m0.8 0h1.2m4.8 0h1.2m0.8 0h1.2m0.7 0h1.2m0.8 0h1.2m0.8 0h1.2m0.8 0h1.2m-62 1.8h1.2m0.8 0h1.2m0.8 0h1.2m0.8 0h1.2m0.8 0h1.2m0.8 0h1.2m0.8 0h1.2m0.8 0h1.2m0.7 0h1.2m4.8 0h1.2m4.8 0h1.2m2.8 0h1.2m0.8 0h1.2m0.8 0h1.2m2.8 0h1.2m10.8 0h1.2m0.8 0h1.2m0.7 0h1.2m0.8 0h1.2m0.8 0h1.2m-62 1.8h1.2m0.8 0h1.2m0.8 0h1.2m0.8 0h1.2m0.8 0h1.2m0.8 0h1.2m0.8 0h1.2m4.7 0h1.2m0.8 0h1.2m2.8 0h1.2m4.8 0h1.2m0.8 0h1.2m0.8 0h1.2m2.8 0h1.2m2.8 0h1.2m4.8 0h1.2m2.8 0h1.2m0.8 0h1.2m0.7 0h1.2m0.8 0h1.2m0.8 0h1.2m0.8 0h1.2m-62 1.7h1.2m0.8 0h1.2m0.8 0h1.2m0.8 0h1.2m0.8 0h1.2m0.8 0h1.2m0.8 0h1.2m0.8 0h1.2m0.7 0h1.2m0.8 0h1.2m2.8 0h1.2m0.8 0h1.2m0.8 0h1.2m4.8 0h1.2m8.8 0h1.2m6.8 0h1.2m0.8 0h1.2m0.8 0h1.2m0.7 0h1.2m0.8 0h1.2m0.8 0h1.2m-58 1.8h1.2m0.8 0h1.2m0.8 0h1.2m0.8 0h1.2m0.8 0h1.2m0.8 0h1.2m0.8 0h1.2m0.7 0h1.2m4.8 0h1.2m2.8 0h1.2m0.8 0h1.2m0.8 0h1.2m12.8 0h1.2m8.7 0h1.2m0.8 0h1.2m0.8 0h1.2m0.8 0h1.2m-62 1.8h1.2m0.8 0h1.2m0.8 0h1.2m2.8 0h1.2m2.8 0h1.2m0.8 0h1.2m0.7 0h1.2m0.8 0h1.2m0.8 0h1.2m0.8 0h1.2m0.8 0h1.2m0.8 0h1.2m0.8 0h1.2m14.8 0h1.2m0.8 0h1.2m4.8 0h1.2m0.8 0h1.2m4.7 0h1.2m-62 1.7h1.2m0.8 0h1.2m2.8 0h1.2m2.8 0h1.2m6.7 0h1.2m0.8 0h1.2m0.8 0h1.2m0.8 0h1.2m0.8 0h1.2m0.8 0h1.2m0.8 0h1.2m2.8 0h1.2m10.8 0h1.2m0.8 0h1.2m8.7 0h1.2m2.8 0h1.2m-62 1.8h1.2m0.8 0h1.2m0.8 0h1.2m0.8 0h1.2m2.8 0h1.2m2.8 0h1.2m0.7 0h1.2m0.8 0h1.2m0.8 0h1.2m0.8 0h1.2m0.8 0h1.2m2.8 0h1.2m6.8 0h1.2m16.8 0h1.2m0.7 0h1.2m0.8 0h1.2m0.8 0h1.2m-58 1.8h1.2m8.8 0h1.2m6.7 0h1.2m4.8 0h1.2m12.8 0h1.2m0.8 0h1.2m2.8 0h1.2m6.7 0h1.2m2.8 0h1.2m0.8 0h1.2m-60 1.7h1.2m0.8 0h1.2m2.8 0h1.2m0.8 0h1.2m0.8 0h1.2m0.8 0h1.2m6.7 0h1.2m12.8 0h1.2m2.8 0h1.2m0.8 0h1.2m2.8 0h1.2m0.8 0h1.2m6.7 0h1.2m0.8 0h1.2m-60 1.8h1.2m0.8 0h1.2m0.8 0h1.2m0.8 0h1.2m0.8 0h1.2m0.8 0h1.2m2.8 0h1.2m0.8 0h1.2m0.7 0h1.2m0.8 0h1.2m0.8 0h1.2m0.8 0h1.2m0.8 0h1.2m0.8 0h1.2m6.8 0h1.2m22.7 0h1.2m0.8 0h1.2m-58 1.8h1.2m0.8 0h1.2m0.8 0h1.2m2.8 0h1.2m0.8 0h1.2m0.7 0h1.2m2.8 0h1.2m0.8 0h1.2m0.8 0h1.2m0.8 0h1.2m0.8 0h1.2m0.8 0h1.2m10.8 0h1.2m8.8 0h1.2m4.7 0h1.2m0.8 0h1.2m-62 1.7h1.2m0.8 0h1.2m0.8 0h1.2m6.8 0h1.2m0.8 0h1.2m0.8 0h1.2m0.7 0h1.2m2.8 0h1.2m0.8 0h1.2m0.8 0h1.2m4.8 0h1.2m10.8 0h1.2m6.8 0h1.2m2.7 0h1.2m0.8 0h1.2m0.8 0h1.2m-60 1.8h1.2m0.8 0h1.2m4.8 0h1.2m2.8 0h1.2m0.8 0h1.2m0.7 0h1.2m0.8 0h1.2m0.8 0h1.2m14.8 0h1.2m0.8 0h1.2m10.8 0h1.2m2.8 0h1.2m0.7 0h1.2m0.8 0h1.2m-60 1.8h1.2m0.8 0h1.2m2.8 0h1.2m2.8 0h1.2m0.8 0h1.2m0.8 0h1.2m0.8 0h1.2m0.7 0h1.2m0.8 0h1.2m0.8 0h1.2m0.8 0h1.2m2.8 0h1.2m0.8 0h1.2m8.8 0h1.2m6.8 0h1.2m8.7 0h1.2m-58 1.7h1.2m2.8 0h1.2m0.8 0h1.2m0.8 0h1.2m0.8 0h1.2m0.8 0h1.2m0.8 0h1.2m0.7 0h1.2m0.8 0h1.2m0.8 0h1.2m0.8 0h1.2m0.8 0h1.2m0.8 0h1.2m26.8 0h1.2m0.7 0h1.2m-58 1.8h1.2m0.8 0h1.2m2.8 0h1.2m2.8 0h1.2m0.8 0h1.2m0.8 0h1.2m0.8 0h1.2m4.7 0h1.2m0.8 0h1.2m2.8 0h1.2m4.8 0h1.2m2.8 0h1.2m6.8 0h1.2m0.8 0h1.2m0.8 0h1.2m0.8 0h1.2m0.8 0h1.2m2.7 0h1.2m0.8 0h1.2m0.8 0h1.2m-62 1.8h1.2m0.8 0h1.2m0.8 0h1.2m2.8 0h1.2m0.8 0h1.2m0.8 0h1.2m2.7 0h1.2m2.8 0h1.2m0.8 0h1.2m0.8 0h1.2m0.8 0h1.2m0.8 0h1.2m0.8 0h1.2m0.8 0h1.2m12.8 0h1.2m4.8 0h1.2m0.8 0h1.2m0.7 0h1.2m0.8 0h1.2m-60 1.7h1.2m2.8 0h1.2m2.8 0h1.2m2.8 0h1.2m0.8 0h1.2m0.8 0h1.2m0.7 0h1.2m0.8 0h1.2m0.8 0h1.2m0.8 0h1.2m0.8 0h1.2m0.8 0h1.2m0.8 0h1.2m4.8 0h1.2m2.8 0h1.2m2.8 0h1.2m0.8 0h1.2m4.8 0h1.2m0.8 0h1.2m0.7 0h1.2m0.8 0h1.2m0.8 0h1.2m0.8 0h1.2m-62 1.8h1.2m2.8 0h1.2m0.8 0h1.2m0.8 0h1.2m0.8 0h1.2m2.8 0h1.2m0.7 0h1.2m0.8 0h1.2m0.8 0h1.2m0.8 0h1.2m2.8 0h1.2m0.8 0h1.2m12.8 0h1.2m0.8 0h1.2m0.8 0h1.2m0.8 0h1.2m0.8 0h1.2m2.8 0h1.2m0.7 0h1.2m0.8 0h1.2m-58 1.8h1.2m0.8 0h1.2m0.8 0h1.2m0.8 0h1.2m0.8 0h1.2m0.8 0h1.2m2.8 0h1.2m0.7 0h1.2m0.8 0h1.2m0.8 0h1.2m0.8 0h1.2m0.8 0h1.2m0.8 0h1.2m0.8 0h1.2m0.8 0h1.2m4.8 0h1.2m4.8 0h1.2m0.8 0h1.2m0.8 0h1.2m0.8 0h1.2m0.8 0h1.2m0.8 0h1.2m0.7 0h1.2m0.8 0h1.2m0.8 0h1.2m0.8 0h1.2m-62 1.7h1.2m0.8 0h1.2m0.8 0h1.2m0.8 0h1.2m0.8 0h1.2m0.8 0h1.2m2.8 0h1.2m0.7 0h1.2m0.8 0h1.2m0.8 0h1.2m2.8 0h1.2m2.8 0h1.2m0.8 0h1.2m0.8 0h1.2m0.8 0h1.2m6.8 0h1.2m0.8 0h1.2m0.8 0h1.2m2.8 0h1.2m0.8 0h1.2m2.7 0h1.2m0.8 0h1.2m0.8 0h1.2m-62 1.8h1.2m0.8 0h1.2m0.8 0h1.2m0.8 0h1.2m0.8 0h1.2m6.8 0h1.2m0.7 0h1.2m0.8 0h1.2m0.8 0h1.2m2.8 0h1.2m0.8 0h1.2m0.8 0h1.2m2.8 0h1.2m0.8 0h1.2m0.8 0h1.2m0.8 0h1.2m2.8 0h1.2m0.8 0h1.2m0.8 0h1.2m0.8 0h1.2m0.8 0h1.2m0.8 0h1.2m0.7 0h1.2m0.8 0h1.2m0.8 0h1.2m0.8 0h1.2m-60 1.8h1.2m2.8 0h1.2m0.8 0h1.2m0.8 0h1.2m2.8 0h1.2m0.7 0h1.2m0.8 0h1.2m2.8 0h1.2m0.8 0h1.2m6.8 0h1.2m0.8 0h1.2m0.8 0h1.2m0.8 0h1.2m2.8 0h1.2m0.8 0h1.2m0.8 0h1.2m0.8 0h1.2m0.8 0h1.2m0.8 0h1.2m2.7 0h1.2m0.8 0h1.2m0.8 0h1.2" stroke="#e9e9e9" stroke-width="1.2"/>
<path d="M653.3 705.2h1.2m-17.2 3.6h1.2m10.8 0h1.2m7.8 1.7h1.2m0.8 0h1.2m2.8 0h1.2m0.8 0h1.2m-18.2 1.8h1.2m0.8 0h1.2m4.8 0h1.2m10.7 0h1.2m0.8 0h1.2m-22.1 1.8h1.2m0.8 0h1.2m-40.1 1.7h1.2m46.7 0h1.2m0.8 0h1.2m-10.2 1.8h1.2m2.8 0h1.2m6.8 0h1.2m4.7 0h1.2m-44.1 1.8h1.2m22.8 0h1.2m0.8 0h1.2m0.8 0h1.2m12.7 0h1.2m-21.1 3.5h1.2m2.8 0h1.2m0.8 0h1.2m-10.2 1.8h1.2m6.8 0h1.2m0.8 0h1.2m-18.2 1.7h1.2m6.8 0h1.2m0.8 0h1.2m0.8 0h1.2m2.8 0h1.2m-8.2 1.8h1.2m0.8 0h1.2m8.8 0h1.2m-20.2 1.8h1.2m0.8 0h1.2m2.8 0h1.2m0.8 0h1.2m8.8 0h1.2m-34.1 1.7h1.2m34.7 0h1.2m-26.2 1.8h1.2m4.8 0h1.2m4.8 0h1.2m0.8 0h1.2m2.8 0h1.2m0.8 0h1.2m0.8 0h1.2m0.8 0h1.2m0.8 0h1.2m-48.1 1.8h1.2m0.8 0h1.2m0.8 0h1.2m0.8 0h1.2m2.8 0h1.2m2.7 0h1.2m2.8 0h1.2m10.8 0h1.2m2.8 0h1.2m8.8 0h1.2m2.8 0h1.2m-48.1 1.7h1.2m16.7 0h1.2m4.8 0h1.2m2.8 0h1.2m2.8 0h1.2m4.8 0h1.2m-16.2 1.8h1.2m0.8 0h1.2m4.8 0h1.2m6.8 0h1.2m-44.1 1.8h1.2m6.8 0h1.2m22.7 0h1.2m0.8 0h1.2m8.8 0h1.2m-18.2 1.7h1.2m2.8 0h1.2m0.8 0h1.2m0.8 0h1.2m8.8 0h1.2m0.8 0h1.2m2.8 0h1.2m6.7 0h1.2m-32.1 1.8h1.2m0.8 0h1.2m14.8 0h1.2m2.8 0h1.2m6.7 0h1.2m-28.1 1.8h1.2m0.8 0h1.2m6.8 0h1.2m6.8 0h1.2m6.7 0h1.2m-28.1 1.7h1.2m0.8 0h1.2m0.8 0h1.2m2.8 0h1.2m2.8 0h1.2m6.8 0h1.2m6.7 0h1.2m-54 1.8h1.2m26.7 0h1.2m4.8 0h1.2m0.8 0h1.2m-30.1 1.8h1.2m20.7 0h1.2m4.8 0h1.2m0.8 0h1.2m2.8 0h1.2m-16.2 1.7h1.2m12.8 0h1.2m-36.1 1.8h1.2m18.7 0h1.2m2.8 0h1.2m14.8 0h1.2m-20.2 1.8h1.2m0.8 0h1.2m1.8 1.7h1.2m-8.2 1.8h1.2" stroke="#fde3e9" stroke-width="1.2"/>
<path d="M662.3 710.5h1.2m-0.2 1.8h1.2m-6.2 1.8h1.2m0.8 0h1.2m-32.2 1.7h1.2m24.8 0h1.2m2.8 0h1.2m10.7 0h1.2m-52 1.8h1.2m37.7 5.3h1.2m-8.2 1.8h1.2m5.8 1.7h1.2m-6.2 1.8h1.2m0.8 0h1.2m2.8 0h1.2m2.8 0h1.2m-18.2 1.8h1.2m4.8 0h1.2m0.8 0h1.2m-12.2 1.7h1.2m6.8 0h1.2m0.8 0h1.2m0.8 0h1.2m8.8 0h1.2m-24.2 1.8h1.2m2.8 0h1.2m-18.2 1.8h1.2m14.8 0h1.2m2.8 0h1.2m12.8 0h1.2m-36.2 1.7h1.2m2.8 0h1.2m4.8 0h1.2m4.8 0h1.2m20.8 0h1.2m-22.2 1.8h1.2m4.8 0h1.2m0.8 0h1.2m8.8 0h1.2m0.8 0h1.2m-22.2 1.8h1.2m-6.2 1.7h1.2m16.8 0h1.2m-12.2 1.8h1.2m4.8 0h1.2m0.8 0h1.2m-12.2 1.8h1.2m12.8 0h1.2m-4.2 1.7h1.2m4.8 0h1.2m0.8 3.6h1.2m-50.1 1.7h1.2m46.7 0h1.2m-26.2 1.8h1.2m12.8 0h1.2m20.7 0h1.2m-20.1 1.8h1.2m-6.2 1.7h1.2m2.8 0h1.2m-37.1 3.6h1.2" stroke="#fbdde2" stroke-width="1.2"/>
<path d="M630.3 707h1.2m37.7 8.8h1.2m-18.1 1.8h1.2m10.8 0h1.2m2.7 0h1.2m-2.1 1.8h1.2m-14.2 1.7h1.2m5.8 5.3h1.2m-18.2 8.9h1.2m12.8 0h1.2m-18.2 8.8h1.2m14.8 0h1.2m-15.2 3.5h1.2m-12.2 1.8h1.2" stroke="#f08cb0" stroke-width="1.2"/>
<path d="M626.3 703.5h1.3m26.6 10.6h1.3m8.7 0h1.3m-44.2 1.7h1.3m28.6 3.6h1.3m7.7 1.7h1.3m-13.2 7.1h1.3m12.6 3.5h1.3m-8.3 1.8h1.3m-18.2 1.8h1.3m-8.3 1.7h1.3m32.6 0h1.3m-6.3 1.8h1.3m0.7 0h1.3m4.7 0h1.3m-18.3 1.8h1.3m4.7 0h1.3m4.7 0h1.3m2.7 0h1.3m-51.2 3.5h1.3m43.6 1.8h1.3m2.7 0h1.3m-16.3 1.7h1.3m10.7 0h1.3m-14.3 5.3h1.3m2.7 0h1.3m-8.2 1.8h1.3m3.6 1.8h1.3" stroke="#e0559e" stroke-width="1.3"/>
<path d="M639.1 712.3h1.6m20.4 0h1.6m10.3 0h1.6m-51.4 17.7h1.6m25.3 1.7h1.6m-9.6 3.6h1.6m9.4 5.3h1.6m4.4 3.5h1.6m-10.6 1.8h1.6m2.4 0h1.6m3.4 1.7h1.6m-16.6 1.8h1.6m6.4 0h1.6m-0.6 5.3h1.6" stroke="#c2268f" stroke-width="1.6"/>
<rect x="608.40" y="696.40" width="69.30" height="68.60" fill="none" stroke="#2a2a2a" stroke-width="1.1"/>
<text x="539" y="792" font-size="8.2" text-anchor="middle" fill="#222">denoised gene expression</text>
<rect x="515.3" y="797.5" width="33.6" height="6.5" fill="url(#cbG)"/>
<text x="517" y="811.4" font-size="6.3" text-anchor="middle" fill="#222">0</text>
<text x="545.6" y="811.4" font-size="6.3" text-anchor="middle" fill="#222">1</text>
<text x="535.4" y="823" font-size="8.2" text-anchor="middle" fill="#222">denoised accessibility</text>
<rect x="512.7" y="827" width="32.9" height="6.3" fill="url(#cbM)"/>
<text x="514.2" y="841.3" font-size="6.3" text-anchor="middle" fill="#222">0</text>
<text x="542.7" y="841.3" font-size="6.3" text-anchor="middle" fill="#222">1</text></svg></body></html>
